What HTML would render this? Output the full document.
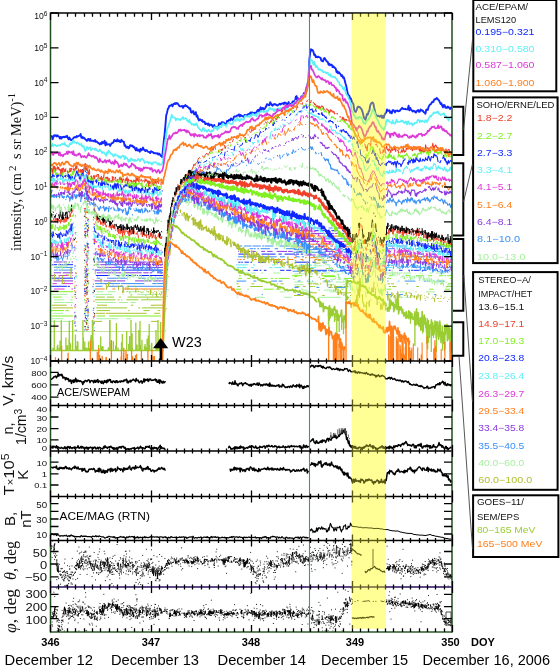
<!DOCTYPE html><html><head><meta charset="utf-8"><style>html,body{margin:0;padding:0;background:#fff;width:560px;height:669px;overflow:hidden}svg{display:block}</style></head><body><svg width="560" height="669" viewBox="0 0 560 669">
<defs><clipPath id="cm"><rect x="51" y="13" width="401" height="348"/></clipPath><clipPath id="cl"><rect x="51" y="361" width="401" height="271"/></clipPath></defs>
<rect width="560" height="669" fill="#fff"/>
<g clip-path="url(#cm)" stroke-linejoin="round">
<path d="M53.7 262H62.5M63.3 262H67M69 262H69.9M71.6 262H73" stroke="#8a3ae0" stroke-width="1"/>
<path d="M51.9 264.7H57.1M58.3 264.7H73" stroke="#1028ff" stroke-width="1"/>
<path d="M54 267.4H73" stroke="#3a90f8" stroke-width="1"/>
<path d="M54 270.1H57.5M58.6 270.1H71.7M72.3 270.1H73" stroke="#3a90f8" stroke-width="1"/>
<path d="M53.8 272.8H61.2M62.7 272.8H73" stroke="#8a3ae0" stroke-width="1"/>
<path d="M51 275.5H55.9M58.8 275.5H68.5M72.3 275.5H73" stroke="#dd38d8" stroke-width="1"/>
<path d="M51.8 278.2H73" stroke="#1028ff" stroke-width="1"/>
<path d="M53.5 280.9H73" stroke="#8a3ae0" stroke-width="1"/>
<path d="M52.6 283.6H56.8M61.6 283.6H73" stroke="#dd38d8" stroke-width="1"/>
<path d="M51.2 286.3H66.9M67.7 286.3H69.9" stroke="#1028ff" stroke-width="1"/>
<path d="M53.9 289H64.6M71.4 289H73" stroke="#dd38d8" stroke-width="1"/>
<path d="M51.5 291.7H73" stroke="#80f020" stroke-width="1"/>
<path d="M51.3 294.4H67.3" stroke="#a8f0a0" stroke-width="1"/>
<path d="M53 297.1H61.8M71.4 297.1H73" stroke="#80f020" stroke-width="1"/>
<path d="M53.8 299.8H64.1M70.1 299.8H72.5" stroke="#a8f0a0" stroke-width="1"/>
<path d="M53.8 302.5H64.8M65.5 302.5H73" stroke="#a8f0a0" stroke-width="1"/>
<path d="M52.1 305.2H66.6M71 305.2H72.1" stroke="#b0c030" stroke-width="1"/>
<path d="M52.4 307.9H73" stroke="#b0c030" stroke-width="1"/>
<path d="M51.1 310.6H63.9M65.4 310.6H68.8" stroke="#80f020" stroke-width="1"/>
<path d="M53 313.3H63.3" stroke="#a8f0a0" stroke-width="1"/>
<path d="M52 316H73" stroke="#80f020" stroke-width="1"/>
<path d="M52.1 318.7H63" stroke="#a8f0a0" stroke-width="1"/>
<path d="M51.5 321.4H73" stroke="#a8f0a0" stroke-width="1"/>
<path d="M96.8 262H115.5M116.2 262H126.5M127.1 262H128.2M129 262H146.6M147.6 262H163" stroke="#8a3ae0" stroke-width="1"/>
<path d="M95.6 264.7H99.4M100.3 264.7H140.2M141.7 264.7H150.9M152 264.7H163" stroke="#8a3ae0" stroke-width="1"/>
<path d="M97.4 267.4H124.6M126.5 267.4H144.3M146.6 267.4H150.9M152.1 267.4H163" stroke="#8a3ae0" stroke-width="1"/>
<path d="M94.7 270.1H103.2M104.2 270.1H120.1M121.3 270.1H163" stroke="#1028ff" stroke-width="1"/>
<path d="M96.7 272.8H121.2M123.9 272.8H141.7M143.3 272.8H148.6M149.6 272.8H152M157 272.8H163" stroke="#8a3ae0" stroke-width="1"/>
<path d="M95.9 275.5H109.6M115.9 275.5H119.9M122.4 275.5H124.6M126.1 275.5H135.7M136.9 275.5H137.8M139.1 275.5H163" stroke="#1028ff" stroke-width="1"/>
<path d="M96.7 278.2H100.4M107.1 278.2H126.9M138.3 278.2H145.7M152.3 278.2H153.8M154.4 278.2H155.6M156.3 278.2H163" stroke="#3a90f8" stroke-width="1"/>
<path d="M94.6 280.9H102.4M103.6 280.9H116.1M116.7 280.9H125.2M135.1 280.9H151.6M153.3 280.9H163" stroke="#8a3ae0" stroke-width="1"/>
<path d="M95.1 283.6H120.2M121 283.6H144.3M152.3 283.6H163" stroke="#3a90f8" stroke-width="1"/>
<path d="M95.5 286.3H102.5M108.9 286.3H123.4M127.5 286.3H163" stroke="#3a90f8" stroke-width="1"/>
<path d="M94.9 289H104.6M112.3 289H115.3M123 289H163" stroke="#ff8020" stroke-width="1"/>
<path d="M96.5 291.7H103.4M107.8 291.7H115.9M126.7 291.7H141M142.9 291.7H144.1M146.1 291.7H150.7M159.3 291.7H163" stroke="#a8f0a0" stroke-width="1"/>
<path d="M95.3 294.4H112.4M122.7 294.4H123.8M129.9 294.4H132.7M138.7 294.4H162" stroke="#a8f0a0" stroke-width="1"/>
<path d="M96.1 297.1H104.9M106.9 297.1H114.1M118.7 297.1H120.9M127.5 297.1H163" stroke="#9acd32" stroke-width="1"/>
<path d="M94.7 299.8H115.5M117.7 299.8H119.6M121.1 299.8H122.2M126.3 299.8H138.4M140.9 299.8H161.6" stroke="#9acd32" stroke-width="1"/>
<path d="M95.8 302.5H115.8M119.1 302.5H128.2M130.3 302.5H135.7" stroke="#a8f0a0" stroke-width="1"/>
<path d="M97 305.2H107.2M131 305.2H133.3M150.7 305.2H163" stroke="#b0c030" stroke-width="1"/>
<path d="M96.1 307.9H127.2M138.3 307.9H140.3M141.8 307.9H163" stroke="#9acd32" stroke-width="1"/>
<path d="M96.7 310.6H109.9M128.2 310.6H129.6M143.4 310.6H149.7M157.8 310.6H160.3" stroke="#9acd32" stroke-width="1"/>
<path d="M95.6 313.3H105.2M106 313.3H146.5M154.2 313.3H160.2" stroke="#b0c030" stroke-width="1"/>
<path d="M96.7 316H105M109.1 316H161" stroke="#80f020" stroke-width="1"/>
<path d="M96.8 318.7H118.4M126.2 318.7H131.1" stroke="#a8f0a0" stroke-width="1"/>
<path d="M94.9 321.4H102M151.1 321.4H157.8" stroke="#b0c030" stroke-width="1"/>
<path d="M237.3 246H242.1M244.1 246H251.7M252.6 246H260.8M262.1 246H264.3M264.9 246H273.5M279.8 246H289.6M291.2 246H292.8M299 246H301.7M307.6 246H310.3M312.5 246H313.5M319 246H321.3M322.1 246H327.7M330.3 246H332.8M339.3 246H341.7M345.2 246H347.2M387.9 246H394.5M396.7 246H407.3M411.2 246H412.7M414 246H415.5M421.3 246H451.1" stroke="#3a90f8" stroke-width="1"/>
<path d="M236.6 248.7H240.8M249.6 248.7H253M253.6 248.7H255.7M257.4 248.7H259M260.6 248.7H269.9M274.7 248.7H278.1M285.9 248.7H295.7M298.2 248.7H302.7M304.5 248.7H306.1M309 248.7H310.1M313 248.7H314.3M316.9 248.7H321.3M323.7 248.7H331.6M334.1 248.7H337.4M338.4 248.7H342.7M351.7 248.7H352M388.4 248.7H394.6M401.9 248.7H412.2M416.6 248.7H420.8M428.1 248.7H434.4M436.3 248.7H442.2M444.2 248.7H449.8" stroke="#3a90f8" stroke-width="1"/>
<path d="M238.2 251.4H239M247 251.4H250.3M252.4 251.4H255.7M261.3 251.4H265.1M267.2 251.4H272.6M276.7 251.4H287.1M288 251.4H292.7M296.5 251.4H302.4M303.1 251.4H305.3M306.4 251.4H309.3M317.9 251.4H319.5M324.6 251.4H334.5M338.7 251.4H343.1M387.4 251.4H391M398.8 251.4H402.3M404.8 251.4H409.9M416.7 251.4H419.6M425 251.4H429.2M432.3 251.4H440.9M442.3 251.4H443.5M448.6 251.4H452" stroke="#8a3ae0" stroke-width="1"/>
<path d="M238.4 254.1H248M251.2 254.1H252.2M257.1 254.1H258.9M261.6 254.1H275.5M278.5 254.1H281.8M284.6 254.1H295M296.1 254.1H299.1M300.7 254.1H303.2M308.5 254.1H311.6M320.6 254.1H326.4M328.7 254.1H331.8M334.3 254.1H338.6M345.8 254.1H352M388.6 254.1H390.5M399.1 254.1H404.6M407.2 254.1H411.5M420.2 254.1H422.6M431.4 254.1H435.8M447.1 254.1H452" stroke="#1028ff" stroke-width="1"/>
<path d="M238.1 256.8H246.4M247.6 256.8H255M257.5 256.8H261.6M262.3 256.8H276.6M279.9 256.8H284.9M295.4 256.8H299.6M301.8 256.8H304M313 256.8H315.4M317 256.8H325.8M327.1 256.8H333.7M335.8 256.8H336.8M346.9 256.8H352M386.6 256.8H387.8M389.6 256.8H392.6M401.3 256.8H424.8M427.3 256.8H429.6M431.5 256.8H437.1M439.9 256.8H441.8M444.1 256.8H452" stroke="#3a90f8" stroke-width="1"/>
<path d="M237.3 259.5H238.5M239.7 259.5H241.4M243 259.5H244.7M251.9 259.5H253M254.1 259.5H256.7M262.7 259.5H263.5M267.7 259.5H270.5M272.8 259.5H280.8M282.3 259.5H285.1M287.9 259.5H293.3M300.5 259.5H303.2M314.6 259.5H320.8M322.8 259.5H323.7M333 259.5H339.8M345.1 259.5H346.3M388.7 259.5H390.2M395.6 259.5H396.5M411.6 259.5H416.2M419.5 259.5H421.9M424.1 259.5H431.3M437.7 259.5H440.1M446.2 259.5H447.2M450.4 259.5H452" stroke="#ff8020" stroke-width="1"/>
<path d="M238.3 262.2H240.5M241.3 262.2H242.9M244.5 262.2H248.9M250.5 262.2H252M258.1 262.2H265.9M273.4 262.2H275.2M275.7 262.2H279.7M286.5 262.2H288.2M294.9 262.2H309M312.5 262.2H316.1M322.3 262.2H326.9M332.4 262.2H334.3M336.4 262.2H337.9M340.3 262.2H341.1M347.2 262.2H349.8M351.7 262.2H352M387.8 262.2H391.4M405.7 262.2H407.1M416.8 262.2H420.1M423.1 262.2H427.1M439.4 262.2H446.3M448.6 262.2H452" stroke="#1028ff" stroke-width="1"/>
<path d="M236.1 264.9H247.9M253 264.9H255.1M272.1 264.9H276.2M287 264.9H290.5M299.3 264.9H303.7M304.6 264.9H306.6M308.4 264.9H311.7M314.3 264.9H316.3M327.6 264.9H329.9M346.2 264.9H352M387.7 264.9H390.7M392.8 264.9H395.1M413.6 264.9H416.4M423.6 264.9H425.4M429.8 264.9H437.7M444.3 264.9H445.1M448.8 264.9H451.2" stroke="#5ef0f8" stroke-width="1"/>
<path d="M236.8 267.6H246.7M251.3 267.6H253.7M269.3 267.6H272.4M274.4 267.6H281.2M283.4 267.6H284.8M289.9 267.6H294.5M300.2 267.6H305.1M310.5 267.6H315.8M337 267.6H341.1M344.8 267.6H348.5M349.3 267.6H352M386.5 267.6H392.4M398.9 267.6H402M406.6 267.6H408.9M415 267.6H417.6M418.7 267.6H426.1M439.4 267.6H449M449.8 267.6H452" stroke="#5ef0f8" stroke-width="1"/>
<path d="M236.3 270.3H238.7M242.1 270.3H243.2M247.7 270.3H250.1M253.5 270.3H258M259.6 270.3H261.3M263.9 270.3H266.4M280.1 270.3H284.5M286.2 270.3H291.2M300 270.3H326.9M328.1 270.3H333.9M339.9 270.3H352M388.6 270.3H390.6M399.1 270.3H402.6M408.3 270.3H410M411.1 270.3H412.9M413.6 270.3H419.5M421.9 270.3H426.6M432 270.3H433.9M436.9 270.3H438M446.1 270.3H449.2M451 270.3H452" stroke="#1028ff" stroke-width="1"/>
<path d="M238.7 273H249.3M251.2 273H255.7M261.2 273H263.4M273.2 273H280.7M299.1 273H301.3M317.3 273H320M321 273H329.5M341.6 273H343.5M349.9 273H350.9M387 273H402.5M403.3 273H411.2M420.2 273H421.3M429.5 273H432.7M436.2 273H445" stroke="#a8f0a0" stroke-width="1"/>
<path d="M239 275.7H240.7M292 275.7H302.1M321.7 275.7H334.7M350.6 275.7H352M388.8 275.7H392.6M405.5 275.7H410M415.9 275.7H423.7M428.2 275.7H432.1M439.1 275.7H443.4M444.4 275.7H446.2M447.2 275.7H452" stroke="#80f020" stroke-width="1"/>
<path d="M238.4 278.4H241.7M247.2 278.4H250.4M260.8 278.4H267.8M270.8 278.4H273.2M275.3 278.4H277.3M278.6 278.4H289.6M322 278.4H324.6M335.1 278.4H336.1M343.9 278.4H352M387 278.4H390.9M403.7 278.4H405M410 278.4H411.2M449.7 278.4H451" stroke="#80f020" stroke-width="1"/>
<path d="M236.6 281.1H246.2M253.4 281.1H256.4M271.2 281.1H277M278.6 281.1H282.3M297.9 281.1H300.5M306.9 281.1H307.9M308.4 281.1H309.4M312 281.1H313M323.6 281.1H329.7M331.6 281.1H332.6M387.3 281.1H388.4M398.3 281.1H399.3M404.7 281.1H415.4M423.8 281.1H426.2M426.9 281.1H428.5M429.2 281.1H430.2M433.3 281.1H434.2M436.4 281.1H444.7" stroke="#3a90f8" stroke-width="1"/>
<path d="M236.3 283.8H238.7M251.5 283.8H254.4M276.6 283.8H278M280.5 283.8H283.6M308.1 283.8H312.1M312.6 283.8H318.3M319.9 283.8H321.4M345.2 283.8H348.7M387.4 283.8H390M390.9 283.8H394.1M406.2 283.8H408.2M440.1 283.8H442M448.7 283.8H452" stroke="#b0c030" stroke-width="1"/>
<path d="M237.3 286.5H240.2M250.2 286.5H262.8M295.1 286.5H299.6M302.8 286.5H305.6M310.1 286.5H313M313.6 286.5H315.2M334.8 286.5H342.5M343.8 286.5H348.5M352 286.5H352M388.8 286.5H391M392.2 286.5H396.5M416.3 286.5H419M445.8 286.5H452" stroke="#9acd32" stroke-width="1"/>
<path d="M236 289.2H241.3M247.4 289.2H248.7M263.7 289.2H273.6M276.2 289.2H280.3M295 289.2H295.8M301.3 289.2H302.7M335.6 289.2H339.1M341.1 289.2H343.6M386.5 289.2H390.9M429.3 289.2H433.7M444.8 289.2H450" stroke="#80f020" stroke-width="1"/>
<path d="M238.4 291.9H241.8M279.7 291.9H285.2M293.8 291.9H304.2M305.6 291.9H312.6M329.6 291.9H332.8M333.6 291.9H338.6M386.3 291.9H388.3M399.9 291.9H404.7M426.1 291.9H435M442.9 291.9H452" stroke="#a8f0a0" stroke-width="1"/>
<path d="M238.6 294.6H241.8M261.8 294.6H262.9M297.3 294.6H300.6M305.5 294.6H310.2M351.7 294.6H352M386 294.6H391.4M398.5 294.6H402.9M434.1 294.6H436" stroke="#3a90f8" stroke-width="1"/>
<path d="M236.6 297.3H238.1M255.1 297.3H264.7M284 297.3H291.6M307.6 297.3H309.3M318.5 297.3H341.3M346.2 297.3H350.8M388 297.3H391.1M395.9 297.3H403.2M405.4 297.3H412" stroke="#a8f0a0" stroke-width="1"/>
<path d="M292.5 228H294.4M295.2 228H308.1M310.5 228H314.2M314.8 228H323.3M328.7 228H332.7M334.1 228H339.3M340.8 228H346.3M350.2 228H351" stroke="#3a90f8" stroke-width="1"/>
<path d="M292.3 230.7H294M297.1 230.7H305.5M306.4 230.7H310.6M314.3 230.7H318.7M320.1 230.7H327.1M331.5 230.7H337.6M342.1 230.7H348.1" stroke="#1028ff" stroke-width="1"/>
<path d="M294.8 233.4H299.3M301 233.4H304.1M307.2 233.4H310.1M310.8 233.4H325.1M325.8 233.4H334.3M335.2 233.4H338.6M339.2 233.4H344.4M347.4 233.4H350.9" stroke="#8a3ae0" stroke-width="1"/>
<path d="M294.8 236.1H298.4M302.5 236.1H303.3M306.2 236.1H309.9M310.7 236.1H315.1M316.9 236.1H321.4M322.2 236.1H345.6M346.2 236.1H348.8" stroke="#ff8020" stroke-width="1"/>
<path d="M292.4 238.8H303.5M306.2 238.8H322M326.1 238.8H335.5M336.4 238.8H349.8" stroke="#3a90f8" stroke-width="1"/>
<path d="M293.4 241.5H299.7M300.8 241.5H319.3M323 241.5H342.8M343.4 241.5H351" stroke="#dd38d8" stroke-width="1"/>
<path d="M293 244.2H296.6M300.4 244.2H330.2M330.8 244.2H333.9M344.9 244.2H350.6" stroke="#ff8020" stroke-width="1"/>
<path d="M293.5 246.9H305.2M307.4 246.9H314.1M315.4 246.9H325.2M334.5 246.9H349M349.7 246.9H351" stroke="#ff8020" stroke-width="1"/>
<path d="M293.8 249.6H318.2M322.2 249.6H340M342.6 249.6H350.3" stroke="#3a90f8" stroke-width="1"/>
<path d="M293.4 252.3H325.9M334 252.3H342.1M343.8 252.3H351" stroke="#3a90f8" stroke-width="1"/>
<path d="M294.5 255H296.7M304.7 255H305.5M306.4 255H315.6M318.4 255H329.5M331.5 255H337.8M342.8 255H345.6M347.8 255H351" stroke="#8a3ae0" stroke-width="1"/>
<path d="M293.9 257.7H296.5M305 257.7H306.6M310.2 257.7H318.2M329.3 257.7H331.5M336.9 257.7H351" stroke="#ff8020" stroke-width="1"/>
<path d="M294.8 260.4H296.4M302.1 260.4H303.5M313.9 260.4H315.9M317.5 260.4H332.3M344.5 260.4H347.5M348 260.4H351" stroke="#b0c030" stroke-width="1"/>
<path d="M294.1 263.1H296.2M314.3 263.1H320.4M323.1 263.1H325.7M338.9 263.1H340.9M343.3 263.1H345" stroke="#9acd32" stroke-width="1"/>
<path d="M295 265.8H300.5M302.8 265.8H312.1M313.7 265.8H321.5M323.4 265.8H324.3M348.8 265.8H351" stroke="#a8f0a0" stroke-width="1"/>
<path d="M294.2 268.5H295.3M296.4 268.5H300.7M301.4 268.5H313.8M325.7 268.5H333.1" stroke="#9acd32" stroke-width="1"/>
<path d="M292.7 271.2H303.2M307.5 271.2H314.9M316.6 271.2H320.9M322.4 271.2H326.6M330.8 271.2H343.6" stroke="#3a90f8" stroke-width="1"/>
<path d="M294.2 273.9H298.9M300.5 273.9H313.3" stroke="#a8f0a0" stroke-width="1"/>
<path d="M294.3 276.6H297.4M308.9 276.6H312.4M323.7 276.6H335.7" stroke="#80f020" stroke-width="1"/>
<path d="M293.2 279.3H295.3M308 279.3H309.4M330.3 279.3H335M337.5 279.3H341.5M343.4 279.3H347.4" stroke="#a8f0a0" stroke-width="1"/>
<path d="M294.5 282H302.9M307.5 282H313.9M314.6 282H316.3M322.3 282H331.3M335.8 282H346.8" stroke="#a8f0a0" stroke-width="1"/>
<path d="M294.4 284.7H303.8M315.4 284.7H318.9M328 284.7H334.5M342.8 284.7H345.3" stroke="#a8f0a0" stroke-width="1"/>
<path d="M294.4 287.4H298.7M316.5 287.4H319.3M328.5 287.4H331M333.9 287.4H345.6" stroke="#3a90f8" stroke-width="1"/>
<path d="M293.3 290.1H295.3M302.2 290.1H307.3M317.8 290.1H320M323.8 290.1H334.9" stroke="#a8f0a0" stroke-width="1"/>
<path d="M294.7 292.8H295.9M302.2 292.8H306.1M308.9 292.8H316.9M336.6 292.8H351" stroke="#b0c030" stroke-width="1"/>
<path d="M294 295.5H303.4M322.1 295.5H324.7M349.9 295.5H351" stroke="#b0c030" stroke-width="1"/>
<path d="M51.6 276.1h1m-.1 2.8h1m.5-.6h1m-.4-4.2l.3 6.6m.6-.4h1m1.1-1h1m-.1.4h1m-.4-4.3l.3 3.5m2.4.6h1m-.4 4.5l.3-9.2m1.5 7.5h1m1.1-8h1m-.4 3.8h1m.5-3.6l.3 1.4m2.1 2.2l.3-10.3.3 4.7m2.1-14.1h1" stroke="#b0c030" stroke-width="1.0" fill="none"/>
<path d="M95.2 274.3l.3-4.8m1.5 7.3h1m.8 3.7h1m.2-.8h1m-.1 2.9l.3-2.2.3-.2.3-1.7m1.5 4.8h1m1.1 1.1h1m-.1.1l.3 5.3m.6-3.7l.3 1.5m.9-.7l.3-4.9m.9.3h1m.5-1.4h1m.5 4.2h1m-.1-3.8h1m-.1-.1h1m-.4 6.2l.3-1.2m3-.8l.3 4.8m1.8-4.5h1m-.1 0h1m-.4 6.9h1m-.4.4l.3-3.2.3-3.2.3 2.2.3 3.6.3-.8m1.8-2.2l.3-3m.6 5.1h1m-.1-3.6l.3 1.9.3-4.5m.9 3.3h1m-.4 4.7l.3-1.5m.6 4h1m-.4-6.5h1m1.1.8l.3-.3m.6-3.5h1m-.1 4.8h1m-.4 1.5l.3-4.9m.9 1.6h1m-.4 4.8h1m-.4-3.6l.3 1.4m2.4.6h1m.5-.2h1m.5-2.6h1m.5 5.7h1m-.1-5.6l.3.6m.6 8h1m-.1-7l.3 1m1.8 1.5l.3.9.3-5.3.3 3.5m.6-.2h1m-.4 3h1m-.1-2.8h1m.2-1.6h1m-.4 2.9h1m.5 2.9l.3-5.8m.6 5.1h1m-.1-5.9l.3-.6m.6 3.5h1m-.1 1.4h1m.5-1.1l.3-1.8" stroke="#b0c030" stroke-width="1.0" fill="none"/>
<path d="M164.8 330.9h1m.2-22.1h1m-.4-12.5h1m-.1-6.5h1m-.4-13.1h1m-.1-14.1l.3-1.5m.6-5.4l.3-3.7.3-3.7m1.5-8.6h1m-.4-9l.3-3m.9-5.5l.3-4.2m.6-.7h1m-.4-2.6h1m-.4-8.2h1m-.1 3.6l.3 3.1.3.8.3-5.8.3 1m.6 6.1h1m-.1-4.8h1m-.1 2.3l.3-3.3m1.2 3.9l.3 2 .3.7m.6-1.7l.3-2m.6 4.2l.3-4.4.3 3" stroke="#b0c030" stroke-width="1.0" fill="none"/>
<path d="M185 218.8l.4-3.1.4 4.5.4-6.2.4 1.9.4-2.4.4 2.6.4 2.3.4 2.4.4-4.7.4 1.8.4-.6.4-.6.4-.8m.8-.8h1m-.2 4.6l.4-1.4m.8-1.1l.4 7.7.4-7.2.4 7 .4-2m.8-3.6l.4 5.3.4 1.9m.8-4.2l.4 3.3.4-1.4.4 4.1.4-5.7.4 2.8.4-3.8.4 7.9.4-6.3.4-3.1.4 5 .4.2.4 5 .4-4.9.4.9m.8 4.2l.4-3.5m.8 1.8l.4-1.6m.8 1.2l.4-1.9.4 5.1m.8.4l.4-.3.4-2.1.4-1.3.4 1.4.4 1.9.4.9.4-.8.4 1.8.4-3.3m.8-1.8l.4 5.6.4-1.2.4-1.1.4 3.9.4-.8.4-7.8.4 6.8.4-3.2.4 6 .4 3.5.4-6.6m.8 1.1l.4 1.6.4.9.4 1.7.4-5 .4 6.2.4-5.6.4 3.1.4 2.2.4-.7.4-3.6.4.8m.8 2l.4 3 .4-5.4.4 4.3.4.6.4.1.4 0 .4 2.7.4-2.1.4 1.1.4-.5.4 3.1.4-8.3.4 7.6.4-3.3.4.2.4-1.3.4-1.9m1.2 6.2l.4-4.3.4 6.9.4-2.4m.8-1.8l.4.1.4-.5.4 1.6.4 1.5.4-.2.4-2.6.4 2.9.4-1.2.4 2.6m.8 1.6l.4-1.9.4-2.8m.8.3l.4 5.8.4-3.1.4 2.1.4-1.3.4 1.9.4 3.2.4-4.5m.8.2l.4 4.1.4-4.2.4 0 .4-.3.4.2.4 4.6.4 5 .4-7.9.4 4.7.4-1.4.4-2.8m.8 2.4l.4-.8.4 6.3.4-8.6.4 5.5m.8-1.7l.4 1.9.4 1.9.4-1.6.4.7.4.8.4-6.2.4 8.2.4 1.9.4-2.9.4.2.4-5.5.4 3.1.4-1.5m.8 4.3l.4-3.9.4 1.6.4-4 .4 4.1.4.7m1.2 4.5l.4-7.1.4.5.4.7.4 4.7.4 2.2.4-4 .4-2.3m.8 4.3l.4-4.4.4 5.5.4 0 .4-3m.8 1.8l.4 2 .4-5.9.4 5.2.4-3.5.4-.8.4 2.1.4-.6.4-1.7.4-1.3.4 1.6.4 5.7m1.6-4.2l.4 1.2.4.9.4-3 .4.3m.8 1.7l.4-1.6.4 3.4.4-1.3.4 3 .4-2.2m.8.5l.4-.6.4-1.1.4.8.4 2.7.4-.1m.8-5.2l.4 3.1m.8 1.5l.4-1.3.4-.1.4 3.1.4-1.3.4-3 .4 5.9.4-.7m1.2-3.6l.4 4.3m.8-4.2l.4 1.1.4-.8m.8 2.4l.4-.2m.8-8.3l.4 8.7m.8.5l.4 2.2.4-1.9.4-1.4.4.6.4.2.4-.9.4.1.4-.7.4 5 .4-2.7.4 2.3m.8-1.8h1m.6.8l.4-2 .4-.1m1.2 1.4l.4 4.1.4-.7.4-1.2.4-2 .4 6.4.4-4.4m.8-1.1l.4-2.8.4.3.4 4.1.4.1.4-1.3.4-2.1.4-.5.4 2.7.4-2.5.4 5.5.4.7.4 3.9.4-4.3.4-3.3.4-.6.4-5.8.4 6.7.4 1.1.4 2.8.4-.6m.8-.5h1" stroke="#b0c030" stroke-width="1.4" fill="none"/>
<path d="M310.4 269.4l.4 3.2.4-1.7m1.2 3l.4.1m.8-2.6l.4-.7.4 1.3.4-1 .4 1.1.4 1.2.4-1.5.4-.7.4.3.4 4.2m.8 1.7l.4.2m.8-.4h1m.2 1.9h1m-.2-4.5h1m-.2-.9h1m.2 5.3l.4-.9m1.2 2.8h1m.2 1.4l.4-2.8m.8 1.6l.4 6m1.6-6h1m.6 7l.4-4m.8 3.2l.4.9m.8 2.9h1m-.2-3.8h1m-.2-2.1l.4 1.1.4 4.4.4-1.6.4-1.5m.8 6.6h1m-.2-4.2l.4 4.6.4-1.7m.8-1.8h1m-.2-.6l.4 1.8.4.9.4 1.5m1.2.6h1m.2-.7l.4-.7m.8 2.1l.4-1.9.4.6.4 2.5.4.8.4-1.4.4 2.8.4-1.2.4-1.5" stroke="#b0c030" stroke-width="1.3" fill="none"/>
<path d="M350 299.3l.4 2.2.4 1.8.4 4.5.4-4.2m1.2 3h1m-.2-2.8l.4 1.9.4-.7m.8 0l.4-3.9.4-1.6.4 4.2.4-9m.8 9.3l.4-15.2.4 4.6.4 2.4.4-10.1.4 12.1.4-19.7.4 11.3.4 2m1.2 4.6l.4-1.4.4 8.7m.8-1l.4 5.1m.8-3l.4 2.6m.8 4.9l.4-3.3.4-6.9m.8 1.3l.4-.2m.8-1.4l.4 5.1.4-6.3m.8-.4h1m-.2-5.9l.4-2 .4-4.3.4 3.8.4-.9.4 1.9.4-4.9.4-5.7m.8 5.6l.4 1.1.4 7.6.4.8m.8-.5l.4 8.6.4-2.8m1.2.1h1m.6 7.4l.4-6.2.4 2.4.4-.9.4 4.6.4-3.1.4 0 .4-6.1.4 5m.8.6h1m.2 4.3l.4-7.5m.8-6.1h1" stroke="#b0c030" stroke-width="1.0" fill="none"/>
<path d="M387 296.1h1m-.4-4.7l.3 9.2.3-6.5m.6 2.3l.3-1.2m1.2 1h1m-.4-.7h1m-.4 1.7l.3-4.7.3.9.3 2.5m.6-1.8h1m-.1 2.1l.3 1.5.3-2.6m.6-.2l.3 8.5m.9-9.6h1m-.4.9l.3.9.3 4.6.3-8.6.3 8.5.3-5.6m.9 1l.3-1.2.3 2.7m1.2 0l.3-.2m2.4-1.3h1m-.4-.2h1m-.1-1.8h1m-.4 2.4l.3-2.2.3-1.8m.6 5.3l.3.1.3-2.6m.9-2.3h1m.2 1h1m-.4 4.3l.3-3m.6-1.8l.3 2.7.3.7.3-1.2m.9 1.1h1m-.1.6l.3 1 .3-2.2.3 1m.6-4.8h1m-.1 4.8l.3 3 .3-4m.9 2.5l.3-4.2m.6 1.9h1m-.1 2.4h1m-.4 2.5l.3-5.9m.6.2h1m.5 2.5l.3-.2m.9-1.5h1m-.4 2.8h1m-.4 1.9h1m.2-3.6h1m.2.9h1m.2-2.9l.3-1.9m2.4 5.7h1m-.1-1.5h1m-.1 1.1h1m-.1.4l.3-.3.3 3.7m.6-4.7l.3-1.9m.6-.4h1m-.4 3.4h1m.2 0h1m-.4 2.9h1m.2-3.1h1m-.4 3.1h1m-.4-6l.3 1.4m1.8 1.6h1m.2-1.1h1m1.7 4.1h1m.5-2h1m.5-1.6h1m.2-2.4h1m-.4 6.2h1" stroke="#b0c030" stroke-width="1.0" fill="none"/>
<path d="M51 265h1m-.1-.4l.3.4m.6-.6h1m-.4 2.6h1m-.1 0h1m-.4 0h1m.5-.5h1m-.4-.5l.3 2.3.3 1.6m.6-3.9h1m-.1-.1l.3-3.2m.6 5.2l.3-2.4.3.7m.6 2.2l.3-4.3m.6 6.6l.3-3.8.3.6.3-1.3.3-2.1.3 2m.6-2.1h1m-.4 4l.3-.5.3-5.2.3 1 .3-1.4.3 5 .3-1m.6-3.2l.3-.7m.6 2l.3-2.3m1.8-1.9l.3.3.3-1.3.3-.9m.9-1.4h1m-.4-3.2h1m-.4.7l.3-2.9" stroke="#a8f0a0" stroke-width="1.0" fill="none"/>
<path d="M94 258.6l.3-2.1.3 4.8.3-.6m1.2 2.1l.3 3.4m.6.5h1m-.1-5.9l.3 7m.6-.8l.3-.4m.6.1l.3 2.6.3 1.5m1.2-4l.3 5.8m.6-5.4h1m-.4 5.1l.3-5.9.3 5.8.3-3.4m.9-2.1l.3 4m2.4-1.7l.3 1.2.3-4.2m.6 5l.3 5m.6-5.6h1m.2-2.2h1m-.4 4.9l.3-3.2m.6 4.2h1m-.1-3.1l.3.5.3 1.5m.9-2l.3 4.4.3-3.8m.9 3.7h1m.2-3h1m-.4 3.2l.3 1.8.3-.1.3 1.8.3-3.7m.6 1.5l.3-1.8m1.5 1.2l.3-3.7m.6.8l.3 3.6.3-4.6m.6 5.4l.3-3.8.3 1.7.3-1 .3-3.4.3 5 .3.3m1.2-2.6h1m-.1 6.4l.3-7.3.3 4.4m1.2-.2h1m-.4-.3l.3 1.5m.6-4.1h1m-.4 2.5l.3-2.2.3 2.4.3-.1.3-3m.9 4.3l.3-3.8.3 1.5.3-.2m.6-1h1m-.4 2.6h1m.5-5.5h1m-.1 7.2l.3-2.4m.6-.6h1m.5 2.5h1m-.4-4.2l.3 4.4.3-2.4.3 2m1.2-1.6h1m-.1 4.4l.3-2.4.3 1.9m.9.4h1m-.1-2.7h1m-.4.9h1m-.4 1.2l.3-3.1.3.2.3 4.2m.6-3.9l.3-2.8m.6 4.6l.3-1.1.3-2.2.3.9.3-.9.3 2.9.3 1.2.3.4.3-3.3.3 1.9m1.8 1.4l.3-2.5.3 1 .3-3.3.3 3.2m.6 4.1h1m-.1-3.8h1m-.4-.3l.3 1.5m1.2-4.4h1m-.1.9h1m-.4 2.3l.3.8.3 1.8.3.3" stroke="#a8f0a0" stroke-width="1.0" fill="none"/>
<path d="M165.1 308.3h1m-.4-7.3l.3-9.4m.6-2.3l.3-7.2m.6-9l.3-6.1.3-.6m.6-6.4h1m.5-19.3l.3-2.4.3-1.2.3-2.9.3.1m.6-2.7l.3-2.6m1.2-9.3h1m-.4-4.4h1m.2-4.7h1m-.4-4.9l.3-3.1m.6-2.7h1m-.4.1h1m-.4-3.3h1m-.4 4h1m-.4-.5h1m-.4-1l.3 2.4m.6-.6l.3-5.3m.6 2.7h1m-.1 1.6l.3 2.6.3-6.5.3 3.8.3-1.3m.6.8l.3 1.9.3-1.5" stroke="#a8f0a0" stroke-width="1.0" fill="none"/>
<path d="M185 201.9l.4-1.2.4.6.4 1.7.4-2.3.4 1.8.4-.3.4-5.2.4 4.4m.8.3l.4.8.4-.8m1.2 1.4l.4-1.6.4-4.6m1.2 3.6h1m-.2 6.2l.4-5.8.4 6.6.4-.7.4-2.7m.8-1.5l.4 1.2.4-.3.4.9.4 4.8.4-4.9.4.6m.8 3.5h1m-.2 2l.4-3.4.4-1.1m.8 3.4h1m-.2 1l.4 3.7.4-5.3.4 1.6.4 3.3.4-4.4.4-.3m.8 3.3l.4.4.4-1.3.4.7.4 3 .4-.7.4-5 .4 3.4.4.4m.8-.3l.4-.8.4.6m.8 1.4l.4-1.1.4 2.7m.8-1.7l.4-1m.8 4.2l.4-2.4.4 2.3.4-3.4.4 3 .4-3.9.4 3 .4.1.4 2.7.4-.7.4-.6.4 2.5.4-1.3m1.2 0l.4-.3.4 1.6.4-1.5.4 2.1.4 1.9.4-.4.4-2.7.4-1.8m1.6 2.9l.4.6m.8-.2l.4.9m.8 4.2h1m.2-5l.4 3.7.4-1 .4.6.4-1.5.4 1.4.4-.2.4 1.4.4 2.7.4-2.2.4-4.5.4 1.8m.8.8h1m-.2 3.2h1m-.2.1l.4-2.1.4-1.4.4.3.4 1.4m1.2 5.5l.4.4.4-3.3.4.5.4-1.1.4 1.6.4 1.8.4-1.3.4 2.5.4.6.4-1.7.4.1.4-.7.4 1.2m.8.5l.4-.2m.8 4.9l.4-7 .4.4.4 2.9.4-4.9.4 2.8.4-1.5.4 1.5.4 2.2.4 1.2.4 2 .4-.5.4 1.1.4-1.3.4-2.3.4 3.7.4-3.5.4-.2m.8 3.4l.4-1.2.4 1.4.4.4.4-5.1.4 3 .4-2.3.4 3.1.4-1.8.4 4.8.4-1.8.4-3 .4 2 .4-2.6.4 2.9.4 1.3.4-.5.4-5 .4 3.8.4 2.1.4-.4.4 2.1.4-5.5.4 4.2.4-2.6.4 2.1m1.6.4l.4-3 .4-.4m1.2-.2l.4 1.9.4 2.1.4 3.7.4-1.1.4-.5.4-5.8.4 4 .4 1.4.4-.1.4.2.4-1.4.4 4.7.4-.5.4-3.5.4-2 .4 7.1.4-5.8.4 4.1m.8-4.7l.4 2.9.4-1.3.4 2.1.4-.4.4 3.9.4-3m.8 1.4l.4-3.1m.8 6l.4-6.9m.8 2.2l.4-2.4.4-2.3.4 7.4m.8-3.5l.4.5.4-1.3.4-.1m.8 8.2l.4-3.7.4.1.4-5 .4 3.5.4-2.6.4 4.6m.8-1.4l.4-.2.4-1 .4-2.1.4 5 .4-4.4.4.5.4 2.2.4-.9.4 2.4.4 1.8m.8-1.6l.4-.3.4 2 .4-6.1.4 5.2.4-2.9.4-.6.4 3m1.2 2.8l.4-7.7m.8 10h1m-.2-.9h1m.2-5.6l.4 4.3.4.7m.8-2.6l.4 1.3.4-4.5.4 3.4m.8 6l.4-5.2.4 4.6.4-5.3.4-.5.4-3.2.4 7.4.4-2.9.4 6.3m1.2-9.2l.4 7.8.4-4.2.4.7.4-4.5.4 7.4.4.3" stroke="#a8f0a0" stroke-width="1.4" fill="none"/>
<path d="M310.4 252.4l.4-1 .4-1.4.4 3.3m.8-1.9l.4.4m.8 1.3h1m1 3.3h1m-.2-.1l.4-.2.4 1.1.4 2.8.4-5.5.4 1.2m.8-7.9h1m-.2 8.2l.4 1.8m.8 1.9l.4.8.4-3.4m.8 5.6l.4-2.4.4-2.8m.8 2.7h1m-.2 1.4l.4-1 .4 4 .4-.3m.8.4h1m1 7.2l.4-6.5m.8 3.9l.4-.5.4-1.3.4 0 .4 1.8m.8 1.6h1m.2 1.4h1m.2-2.6h1m-.2 2.2h1m.2 2.9l.4-1.2m.8 4.8l.4-4.8m.8 5.5l.4-2.3m3.2 4h1m1.4-.8l.4 1.5.4-1.8.4-.3.4 5.9.4-3 .4.8.4.2m.8 1l.4.5.4-1.6" stroke="#a8f0a0" stroke-width="1.3" fill="none"/>
<path d="M350 287.8l.4-4.6.4 7.2m1.2-4.5l.4 4.8.4-.4.4-1.8m.8 3.9h1m-.2-2.5l.4 1 .4-.3m.8-1.3l.4-.2.4-7.5.4 1 .4-1.9m1.2-2.8l.4-6.4.4-.4.4 1 .4-2.2m.8 7.8l.4-2.3.4 9.3.4 1.8m.8-.7l.4 1.4.4 1.2m.8 3.2l.4 1 .4 4.9m.8-7.4h1m.2-.8l.4 3.6.4-.1.4-5.9.4.1m1.2-6.6l.4-.6m.8-4.4l.4-1.5.4-2.7m.8.6l.4-11.5.4 6.7m.8 3.2l.4 7.5m1.6 5l.4 4.8m.8.9l.4 3.6.4-1.4.4 3 .4-1 .4-3.7.4 4.4.4.8.4-5.2.4 6.6.4-3.5.4.4.4-3.5.4 2m.8-1.7l.4.7.4-5.8.4 7.4m.8-16.2l.4-.8" stroke="#a8f0a0" stroke-width="1.0" fill="none"/>
<path d="M387 275.5l.3-.6m.6 3.4h1m-.4 0h1m-.4-3h1m.2-.5h1m-.1.6h1m-.1-5.9l.3 6.6.3-4m.6 1.8l.3 1.9m.9.2l.3-.4.3-3.5m.6 3.8h1m-.1 6.1h1m-.4-9.5l.3 1.7.3 1.1m1.5-.1l.3-1.6m.9 4.2l.3-.6m.6-.9h1m.2 1l.3.5.3-3.1m.9 1l.3 2 .3.9m.9-1.5h1m-.4-2.5h1m-.1 2.5l.3 1m.9 1.3h1m-.4-2h1m-.1-.4l.3-2.1.3 3.6.3 1.9.3 0m.9-.2l.3-4.3m.6 5h1m-.4-1.9h1m-.4-1.8l.3-1.4.3 2.5.3-1.6m1.2 0h1m.2 1.2l.3-.5m.6-.6h1m-.4-1.2l.3.6.3 4.8.3-.5.3-5.6.3.6.3 3.3.3-2.9.3 1.9.3-.3m.6-3.8h1m-.1 6.9l.3-2.2.3-2.9.3 4.3.3.5.3-1.8.3-.1.3 1.5.3 1.6m.6-1.2h1m-.4-1.6l.3-.9.3 2.3.3-1 .3.1.3 2.3.3-.7m.6-3.8l.3 4.1.3-2.1.3-.4m.6 4l.3-.7.3-2.8.3-.8.3 2.3.3-.8.3 4m.9-3.4h1m-.4.9h1m-.4 3.8l.3-4.5.3-.4m.6 1.7l.3 1.2.3-2.1m.9 3.6l.3-2.2.3-2.5.3.8.3-1.6.3-.3.3 3.8m1.8 1.8l.3-1.1.3-1.8.3 2.5m.6-4.7l.3 5 .3-1.1m.6-.9l.3 4.2.3-.3m.6-5l.3 1m.9.1h1m-.4 5h1m-.4-2.5h1m-.1-1.5h1m-.4-.4l.3 3.7m.9.4h1m-.4-1.3h1m-.4-5.2h1" stroke="#a8f0a0" stroke-width="1.0" fill="none"/>
<path d="M51 261.2l.3-2.5m.6-2.9l.3.8m.6-2.4h1m.2 3.4l.3.9m.9-3.5l.3 3.6m.6.2l.3.4.3-2.5.3 4.6m.6-1.2l.3-1.3.3-2 .3 3.8m.6-1.5h1m.8-.1l.3-1.3.3-1.6.3 1.6.3.3.3.8.3 2.1m.6-2.3l.3-4.6.3 2.1.3.8m.6-2.8h1m-.4 3.3l.3-.5.3-1.4m.6.9h1m-.4 3.2l.3-2.2.3-2m.6.2h1m-.4-.8l.3-2.9m.6 1.2l.3-2.7m1.2-.3h1m-.4-1.3l.3-3.8m.6 3.2l.3-.8.3.7" stroke="#3a90f8" stroke-width="1.0" fill="none"/>
<path d="M94.9 253.6l.3-.1.3-1.5.3 3.4.3-3.3m.9 5.6l.3 1.8.3-2.6m.9.9l.3 3.3m.6-3.1h1m-.4 1.8l.3-.3.3-1.6m.6 3.2l.3.1.3-2.9.3 2.2m.6 2.1l.3-3.6.3 1.5.3-.2m.6-1l.3-1.3m.6 4.1h1m-.4 3.7l.3-4.1.3 1.3.3-.9.3 2.3m.9-2.5h1m-.4 2.9l.3-6.1.3 3.8m.9-3.2l.3 5.2.3-2.9.3 1.3.3-.5m.6.3h1m-.4-.7l.3 1.2m.6.9l.3-.2m.6 1.2h1m-.4-1.8h1m-.4 1l.3-.7.3-.4.3 4.9m.6-3.6l.3.2m.6 3.3l.3-1.6.3 1.3m.6-1.3l.3 1.4.3 1.9.3-3.6m1.2-3.3h1m-.1 5.7h1m-.4-4.2l.3 6.8.3-7m.6-.4h1m-.4 3.6h1m.5-4.3h1m-.4 5.4h1m-.4-1.7h1m-.1 1h1m-.4-1.8h1m.2.6h1m-.1 1.4h1m.2-.7h1m-.4-3.2h1m-.4.9l.3 4 .3-1.5.3 2.1.3-2m.6 2l.3-1.6.3-.1.3-.1.3 1.8m.9-4.7l.3 2.2.3 1 .3 3.2.3-2.6.3-.9.3 2.5m.6-2.3h1m-.4-2.7h1m-.4 3.7l.3-1.4m.6 1l.3 2.3m.6-4.6l.3 2.9.3-3.8.3-1.2m.9 3.8h1m-.4 1.2h1m-.4-1.7l.3.3.3 2.1.3.6.3 0 .3-.4.3-7.6m.6 5.8l.3 1m.9.2l.3-1.7.3 1.5m.6-1.7h1m-.4.7l.3-1.8m.6 2.5l.3-1.8.3 4.5m.6 1l.3-1.6m.6-1.4l.3 2m.6-4.5l.3 2.6m.9.9l.3-1m.6-.7h1m-.4 2.8h1m-.4-3.9l.3 4.9m.6-1.6l.3-.9.3 2m.6-.3l.3-2 .3 1.9.3-1.1.3 3.4m.6-1.7h1" stroke="#3a90f8" stroke-width="1.0" fill="none"/>
<path d="M164.5 310.6h1m-.4-12.2l.3-2.3.3-3.5.3-3.2.3-5.4.3.1.3-8.3.3-2m.6-7.4l.3-3.2m.6-6.1l.3-3.5.3-1.5.3-4.5.3 1.1.3-6.1.3 4.9m.9-10.4l.3-2.8m.6-2.1l.3-.9.3-4m.6-3.4l.3.1.3-4.8m.9-1.4h1m-.4-.2l.3-2.7.3 1.4m.6-3.3h1m-.1-6.4l.3 3.3.3-4.5.3 0m.6-1h1m-.1-.9l.3.9.3-2.1.3-5.4.3 4.8m.6-4l.3 3.9.3-6.5m.6 1.1l.3 3.8m.6-6.3h1m-.4 2.4l.3 0" stroke="#3a90f8" stroke-width="1.0" fill="none"/>
<path d="M185 201.9l.4-9.7m1.2 4.6l.4-2.5m.8-1.7h1m-.2 6.1l.4 1.9.4-3.9.4-.1.4 1.9m1.2-2.2l.4 2.7.4 1.6m.8-4.8l.4 4.4.4-.2.4 1.6.4-1.8.4-1.5.4.7.4-1.2.4.4.4 1.1.4.4.4 3.8.4-5.1.4 2.9.4-1.1.4 5 .4-2.6m1.2.1l.4-1 .4 4.8.4-1.7m2-3.1l.4 4.3m.8.3l.4-1.4.4-1.3m.8 3.5l.4 1.6.4-3.4.4 1.9.4 2.3.4-4.9m.8-.2l.4 5.4.4-1.9.4-1.5.4-2.5.4 3.6m.8.1h1m-.2 2.6l.4-4.1.4 3.1.4 1.4.4-2.9.4.1m.8 2l.4-.1.4 1.2.4.3.4-2.5.4.8m.8 4.5h1m-.2-4.1l.4 4.6m1.2-.7l.4.9.4 2.4.4-6.3.4 4 .4-1.5.4.1.4 3.2.4-.5.4-4 .4 1.9.4 1.3.4-3.5m.8 3.4h1m-.2 1.4l.4 3.5.4-3.8.4-.7.4 5 .4-5 .4.2.4-1.8.4 5.8.4-1.6.4.6.4-.5.4-.4.4-1.3.4.2.4 2.9.4-.5.4 3.7.4-5.3.4.8.4-1 .4 5.7.4-5.8.4 4.8.4 1.7m.8-1.2l.4-6.3.4 4.1.4-2.7.4 4.4m.8-1.7l.4 4.1m1.2-2.8l.4-1.9.4 3.1.4 5.4.4-6.2m.8.7l.4 3.3.4-.6.4-1.4m.8-.2l.4 4.1.4-3.1.4 2.2m1.2.1l.4 0 .4-1.9.4.7.4 1.7.4-1.9.4 2.2.4-1.1.4-4.8.4 5.2.4-.9m.8 2.5h1m-.2.6l.4 1.4.4-2.1.4-3.7.4 2 .4 3.8m.8-3.6l.4 1.7.4 1.5.4-.4.4 1 .4-3.2.4 1.3.4.2.4.7.4-4.6.4 4.3.4-2.4.4 6.4m.8.9l.4-1.9.4-2.8.4 3.4.4-2.5m1.2-.5l.4 2.5.4 3.1m1.2 2.6h1m-.2-6.1l.4-1.9.4 1.9.4-.7.4 1.2.4 2.4.4.1.4-1.4.4-.5.4.4m1.2.1l.4 1.3.4-4 .4 4.9.4 2.3.4-3.5.4-3.5.4 6.4m1.6-1.2l.4-.3.4 2 .4-1.2.4-1 .4-4.7.4 2.1m.8 4.3l.4-3.7.4 1 .4 2.6.4-5.3.4.1.4 4 .4 1.2.4-1.5.4-4 .4 5.4.4-3 .4 4.6.4-1.5.4.9m.8-1.5l.4 3.2.4 1m.8.5l.4-4.4.4 3.7.4-1.4.4-2.7.4 2.2.4-.9.4.1.4 1.5m.8-.6h1m.6 3.8l.4-.6m.8-2.8l.4-.9.4 2.1m.8-2.3l.4 5 .4-4.1.4 6.3.4-7.2.4 4.4.4-3.6.4 3.2.4-2.6.4 2.6m.8-.9l.4 2.3.4 2.4.4-4.6m1.2 1.6l.4 5.2.4-9.8.4 3.5.4-2.5.4 3.6.4.3.4 9.3.4-7.7.4 3.4.4-1 .4-3.8.4 2.3.4 2.9.4-3.2.4.2" stroke="#3a90f8" stroke-width="1.4" fill="none"/>
<path d="M310 245l.4 2.7m1.2-.5l.4-1.1m.8-1.5l.4.7m.8 2.1l.4 1.2m.8-.5l.4.3.4-1.7.4 0 .4 3.3m.8-1.6h1m-.2 2.7l.4 1.9.4-3.7.4 2.4.4 2.4m.8-.3l.4-5.6m.8 4.4h1m-.2 1.8h1m.2 1.7l.4-1.5m.8 0l.4 1 .4 1 .4-1m.8 2.6h1m-.2 2.8l.4.1m.8-3.3l.4-.8m1.6 1.7h1m.2 2.1h1m1 3.6h1m-.2-.5h1m.6-.7l.4 3.8m1.6-2.2l.4-.1.4 1.5.4.7.4-.7.4 2.1m.8-.2l.4.3.4-2.5m1.2-.1l.4 3 .4.9.4 2 .4-1.8.4 3.2.4.2.4-.3.4.7m1.2-.2l.4.8.4-.8.4-.5.4-1.6" stroke="#3a90f8" stroke-width="1.3" fill="none"/>
<path d="M350 272.8l.4.9.4-1.3m.8 4.7l.4-4.3m.8 3.7l.4 2.4.4-3 .4 6.6m.8-4.9l.4-1m.8-3.1h1m-.2 1.3l.4-1.6.4 1.9.4-5 .4 1 .4-3.7m1.2-10.4l.4 3 .4-2.2.4 6.1.4 5.2m.8.9l.4 4.3.4 1 .4-1.1m1.6 1.7l.4 4.9.4 2.2.4-1.5.4-3.3.4 4.3.4-6.1.4 4 .4 1.7.4-9.5.4 5m.8-1.3h1m-.2-5.5l.4-4.7.4 1.6.4-1.1.4-5m.8-3.8l.4-.9m1.6 2.3l.4-.9.4 10.6m.8.2h1m-.2 6.6l.4 2.4.4 0 .4 2.4.4-2.5m.8 2.8l.4-1.3m.8 3.6l.4.5m.8-.6l.4-5.4.4 3.2m.8-4.2h1m-.2.7h1m-.2-4.3h1m-.2-1.6l.4-5" stroke="#3a90f8" stroke-width="1.0" fill="none"/>
<path d="M387 265.4h1m.2-3l.3 4 .3.5m.6-1.2l.3 0 .3-.8m1.2-1.6h1m-.4 2.9l.3-1.7m.6.9h1m-.4 3.3l.3-2.2.3 0m.6-3.3l.3 1.7.3.4m.6.3l.3 1 .3-.1.3-3 .3-2 .3 3.9m.6.9l.3 2.2m.6-2.4h1m-.4 2.5h1m-.4-2.5l.3 1.1m1.5-2.6l.3 2.6.3-2 .3 3.2.3-.4.3-4.4.3 4.2m.9-1h1m-.4.4h1m-.4-.6h1m-.1.1l.3-2.5.3 2.9.3-3.2.3 3.3.3-.2.3.4m.6 4.3h1m-.4-5.2h1m-.1-1.1h1m.5 2.7l.3-2.2.3-1 .3 2.4.3-3 .3.5.3 3.1.3-4.7.3 4.7.3-2.1.3-.9m.6 2.9l.3-2.2m.6 2.5l.3 0 .3-1.5.3-1.2.3-.3.3.6.3 2.3m1.2-1.7h1m-.4-.1l.3 4.2.3-7.1m.6 4.7h1m-.4 3.5h1m.5-4.6h1m-.4 1.1l.3-1.1.3 2 .3 1.9.3-1m.6-5.2l.3 5.4m.9-2.6h1m-.4-.5l.3 3 .3-3.3.3.3.3 1.7.3-2.5.3 2.6.3 1 .3-3.2.3 4m.9-1.1l.3-1.1.3-.1.3-2 .3 1.8.3 0 .3 4.3.3-1 .3-4.2m.6 2.9l.3-1 .3 1.6.3.6.3-2.4m.9-.5l.3 2.1.3-.4.3-1m.6 1.9l.3 1 .3-.9m.9-.1l.3.8m.6-2.5l.3 1.4m.6-1.2l.3 5.2m.9-2.7l.3-1.7.3 3.1m.6-2.2h1m-.1.5h1m-.4-.2l.3 1.2.3-2.8m.6 1.9h1m-.1-1.9l.3 1.7.3-.8.3 2.5m1.2-3.6h1m-.4 1.6l.3 1m.6 2l.3-.1m.9-2h1" stroke="#3a90f8" stroke-width="1.0" fill="none"/>
<path d="M51.3 257.8l.3-2.5.3-4.7.3 2.3m.6-2.9l.3 3.5.3 4.2.3-1.6.3-2.7m.9 1.9h1m-.4-5.4l.3 7m.6-.4l.3-2.5.3 2.3.3-3.9.3 2.1.3 2 .3-.9m.6-.2h1m-.4-4.3h1m-.4 5.3l.3-1 .3-3.9.3 4 .3-.3m.9.7l.3-.4m1.5-.9l.3-.8.3-1.5.3 1m.6-1.6l.3-1.2.3 2 .3-1.4.3 2.4.3-.6m.6 1.8l.3-5.7.3 2.7.3.7m.9-1.7h1m-.4-.1h1m-.4-5l.3.5m.9-3.1l.3 2.9m.9-6.3l.3.2.3.4" stroke="#8a3ae0" stroke-width="1.0" fill="none"/>
<path d="M94 242.7h1m-.1 6.3h1m-.4 1.7l.3 0m.6.8h1m-.4 1.1l.3 1 .3 1.6.3-1.9m.9 1.5l.3-1.6.3 2.7.3 1.2.3-2.2.3 1.7.3-.6.3-2.8.3 2.9m.9-3.8l.3 3.9.3-1.5m1.2.4h1m-.4.3l.3-.6.3 1.7.3-1.3m1.5-.6h1m-.4-1.2h1m-.4 1.5l.3 2.9.3 4.1m1.5-4.8l.3 1.1m.6.4l.3 2.7m.9-.3h1m-.4-3.2l.3 1.8.3-1.5.3-.1m.6.2l.3-1.9m.6 2l.3 1.7.3 2.1.3-3.2.3.8m.6 1.9l.3-1.5.3.2.3 3.7.3-4.1.3-.2m.6 1.9h1m-.1-1.1h1m-.1 3.7l.3-5.4.3 5.3m.6-3h1m-.4-.5l.3.1.3-3.6m.6 4.5l.3-1.9.3 1.7.3 4.4m.6-4.9l.3 3.9.3-4.6.3 1.2.3-.7m1.2-.2l.3 1.1m.6-.5h1m-.4-.5h1m-.4 1.5h1m-.4.7l.3-1.1m1.2.2l.3.6.3-.6m.6 3.1h1m-.1-.8l.3-1.2.3-1 .3.7m.6 1.7l.3.1.3-2.6.3 1.8.3 3.1.3-3.3.3 1.2.3.4.3-1.1.3 1.7.3-2.4.3.5.3-2.1m.6 1.8l.3-.3.3 2.4.3-3.5.3 1m.6.1h1m-.4 1l.3-1.2m.6-.3l.3.4.3-.7.3 2.7.3-.5.3-.9m.6.7h1m-.1-.8h1m-.4-1.5l.3.3m.6.8l.3.1.3 2.2.3-1 .3 1.2.3-4.1.3.3.3 8.1.3-6.2m1.8.2h1m-.4.5h1m-.4-1.9h1m-.4 3.5l.3-4.5m.9 2h1m-.1 2.1l.3-1.2m.6 2.5l.3-2.9.3-1.9.3 1.8m.6-1.3l.3 3.5.3-.1m1.8-1l.3.6.3-.8m.6-1h1" stroke="#8a3ae0" stroke-width="1.0" fill="none"/>
<path d="M164.8 294.3l.3 1.1.3-5.5m.6-8.7h1m-.1-11.5h1m-.1-9l.3-4 .3 2m.6-9.2h1m-.4-2.3l.3 1.2.3-3m.6-6l.3-6.5m.6-1l.3-1.5.3-4.1m.6-1.9l.3 2m.9-6.8l.3-.3m.6-3.3l.3-3.7m.9.3l.3-.7.3-1.1.3 2.2m.6-7.9l.3-.4.3 2.4m.6-1.3h1m-.4-2.5l.3-3.7.3.7m.6-.5h1m-.4-.2l.3-1.1m.6.6h1m.5-4l.3 1.7.3-1.6.3 1.3.3-1.9" stroke="#8a3ae0" stroke-width="1.0" fill="none"/>
<path d="M185 191.2l.4 4.6.4-1.6.4-3.4.4 2.9m.8-4.9h1m-.2 8.8l.4-7 .4 3.3.4-2.6.4 3.2.4-5m.8 4.5l.4 1.7.4.7.4.3.4 1.8.4-.8.4.2.4-3.6.4 2 .4 7.7m.8-4.9h1m-.2.7l.4-3 .4 5.5.4-5 .4.8.4 5.3.4-9.4.4 5.6m1.6-.8h1m-.2-.6l.4 1.7.4-2.3.4 2 .4-2.1.4 4.8.4-4.2.4 4.6.4-2.3.4.5.4 3.5m.8-6.6l.4 5.6m1.2-1.5l.4-2.1.4 3.6.4-.7.4 5.4.4-5.4.4 5.6m.8-5.4h1m-.2 4.7l.4-3.1.4.8.4-.7.4-2m.8.9l.4-1.1.4 3 .4 4.9.4-.2.4-3.6m1.2 3.8l.4-2.2.4-1.7.4.4.4 3.7.4 3.5.4-7.2.4-3.1.4 6.8.4-1.9.4.7.4 2.7.4-2.5m.8-4.3l.4 4.6.4-2.4m.8.1h1m.2 2.6l.4 0 .4 2.6.4 1.9.4-3.3m1.2 1.8l.4.7.4.2.4 2.1.4-.8.4-.6m.8-3.2l.4.8.4 1.3.4.7.4 0 .4.8m.8-1.3l.4-2.6.4 5.9.4-.4m1.2.1l.4-.6m.8-2.6l.4 1.6.4 5.3.4-5.5.4 1.3m.8.1l.4 2.1.4-5.4.4-1.6.4 8.2.4-1.2.4-1.3.4 3.8.4.2.4-6.9.4 4.6.4 3.1.4-3.9.4 1m.8.5l.4-1.9.4 1.3.4-1.3.4 4.5.4-5m.8.5l.4 4.1.4-3.3.4 2.8.4 3.2.4.3.4.5.4-3.1.4.6.4.4m.8-1.2l.4 3.5.4-1.7.4 2 .4-1.4m.8-2.5l.4.8.4-1.9.4 2.4.4.4.4 2.4.4-4.7.4 10.4m.8-4.3l.4-.4.4-8m.8 9.4l.4-8.9.4 7.5.4-3.8.4 1.1.4 1.7.4-4.7.4 4.9m.8-2l.4 3.5.4 6.6.4-7.2.4.6.4-1.3.4-1.4.4 2.3.4 3 .4-2.9.4 1.7.4-2.4m1.2 2.2l.4 0 .4-.6.4-3 .4 0 .4 2.2.4.9m.8-2.5l.4 3.9.4 1.2.4-3.6.4-.2.4.1.4 7.4.4-4.4.4-1.2.4 2.6.4 3.1.4-2.5m.8-2.7l.4-.6m.8-1.7l.4 2m.8 1.9l.4-.5.4-3.3.4-.5.4 2.9.4 2.7.4-.2.4-1.2m.8-.8l.4-.4.4 1 .4-1.9.4 1.9.4-.4.4 7.9.4-4.6.4-1.9m.8.4l.4.8.4-1.3.4 1 .4 2.6.4-.4m.8 1.4l.4-2.4.4-2.7.4-1.7.4 2.6.4 1.5m1.2-.8h1m-.2 3.3l.4 1.1.4-3.7.4 1.9.4 2.5.4-2.3.4-.7.4-4.6.4 8 .4-1.5.4-1.1.4-1.2.4-1.7.4 2.7.4.1.4 2.9.4-5.2.4 6.2.4-3.1.4 2.8.4-4.9.4 3.1.4 2.2.4-2.5.4-3.5.4 2.7.4 2.1.4-4.3.4 0 .4 4 .4-2.6m.8-.3l.4-1.3.4 2.6.4 5.4.4-5.2" stroke="#8a3ae0" stroke-width="1.4" fill="none"/>
<path d="M310 239.1l.4-.4.4.8m.8-.7l.4.7.4 2.1m.8-2.9l.4 3m.8-.9l.4.8.4-1.2.4 1.1m.8 1.9h1m-.2-1.2h1m.2 1.7l.4 1 .4 1.7.4-2.3m1.2 2.2h1m-.2.9h1m-.2-.7h1m-.2-.9h1m-.2 3.3h1m.2 0l.4-.1.4 1.1.4.4.4-1.7.4 1.9m2 2.5h1m1.8-.3h1m.2 3.5l.4-.4.4 1.4m.8-2.3l.4 4.2.4-.1m.8 1.4h1m-.2-1.8l.4 2.9.4-6.1.4 1.6.4 3.7m1.6.8l.4-2.3.4 1.2m1.6 2.5l.4-.6m.8.9l.4-1.8.4 1.8m.8 2.2l.4.7m1.6-1.7l.4 1.5.4 2 .4-2m.8 3.4l.4.8" stroke="#8a3ae0" stroke-width="1.3" fill="none"/>
<path d="M350 269l.4-2.7.4 7.6.4-6.8.4 3.7m.8 1.4l.4-2 .4 4.2m.8 1.8h1m-.2-3.2h1m.2-2.7l.4-2.1m.8.7l.4-4.9m1.2-6.6h1m-.2 3.5l.4-2.9.4-4 .4-1.9m.8 12.5l.4.3.4 4.8m.8 3.3h1m-.2-4.5l.4.5m.8 5.7l.4 1.7m1.2-1.7l.4-.2.4.7.4-.9.4-1.9m1.6-3.5l.4 3.1m1.2-12.1h1m.6-8.1l.4-3.4.4.8m.8 6.3h1m-.2 3l.4-1.6m.8 5.4l.4 3.1m1.2 4l.4.8m.8-1.2h1m-.2 5.1l.4 6.2.4-6.9m.8.2l.4 3.8.4-5.3.4 3.9.4-3.3.4-1.3m.8 2.5h1m.6-15.4l.4 2.3" stroke="#8a3ae0" stroke-width="1.0" fill="none"/>
<path d="M387.6 262h1m-.4-2.3h1m-.1 3.3l.3-2.4.3-.8.3 1.1.3-.4m1.2-1.5l.3 3.9.3 1 .3-3.6.3 1.2.3 1.7.3-3.2m.6 2.6l.3-1 .3-1.4.3 3.2.3-2.3.3-3.8m.9 7l.3-3.6.3-.3.3 1.2m.9-.5h1m-.1 4.4l.3-6.7.3.3.3.3.3.3.3 0 .3 1.4.3 2 .3-4.5.3-.5.3-.5.3 5.6.3.4.3-5.4.3-.1.3 3.3m.6 1.7l.3-1.5.3.9.3-.6m.9-.6h1m-.4-.8l.3-2.1.3 3 .3 2.1.3-4.5.3 4.6.3 1.8.3-3.2.3-2.9m.6 1.6h1m-.4-1.7l.3 1.9.3.2.3 1.5m.6 2.4l.3-1.5m1.5 1.5l.3-1.4m.6-2.8h1m-.4 2.8l.3-2.2.3.7.3 0 .3-1.8m.6.2l.3.5.3 1.7.3-2.7.3 3.2.3-1.1.3 1.2.3.3m.9-.3h1m-.4-.2l.3-2.7.3 1.3m.6.5l.3 1m.6 1.8l.3-3.6m.9 3l.3-2.4.3-1.1.3-1.7m.6 1.5l.3 3.3.3 1.8.3-6.9.3 1.8.3 3.1m.6.1l.3.1m.6.6h1m-.4.2h1m-.4-2l.3 1.4m.6-.8h1m-.1 2l.3-2m.6-.5l.3 1.5.3 4 .3-3.5.3 2.4.3-1.8.3-5 .3 4.8m.6-3.2h1m-.4 6.2h1m-.1-1.1l.3-.9.3-4.4m.6 2.4h1m-.1 0l.3.6.3 3.4m.9-1.7l.3-3.2.3 1.2.3-1.3m.6 1.5h1m-.4 3.2l.3-1.8.3-.7.3 1.2.3-.3m.6 2.1l.3-1.6m.6-2.9l.3 4.3.3 2.4.3-2.8m.6-1h1m-.4.5l.3-.8.3 1.4.3-1.7.3 1.3m.6-.1h1m-.4-1h1m-.4-.7l.3 1.1.3.3m.6-.9l.3 3.9.3-5.1.3 2.5" stroke="#8a3ae0" stroke-width="1.0" fill="none"/>
<path d="M51 245.3l.3 6.2m.6-5l.3 2.1.3 1.5.3 2.3m.9-.8l.3-5.7m.6 3.4h1m-.4 4.3l.3-2.4.3-1.3.3-2.3.3 3.7.3-.5m.9-4l.3 2.7.3 1.9.3.3.3-.8m.6-2.2h1m-.1 2.1l.3-2.4m1.2 1.8l.3-1.2m.6 4.1l.3-3.3.3-1.7.3 1.8.3-3.2.3 2.7.3-1.2.3 2.3m.6-.1l.3 2.4.3-5.2m.6 1.1l.3-1.3.3.3.3-1.6.3 2.1.3-1.2.3-4.9.3 3.3m.9-2.2l.3-.9m1.5.2h1m-.1-1.6h1m-.1-.2l.3-2.9" stroke="#ff8020" stroke-width="1.0" fill="none"/>
<path d="M94 242.4l.3.7.3-2.7.3 1.8m.9 1.6l.3.2m.6 4.5l.3.7m1.2 1.1l.3-1.4.3 1 .3-.4.3-.1m.6-.6l.3 4.4.3-5.1.3 4.1.3-3.5.3 5.7.3-1.2m.6-2.4l.3-1.2.3 2.2.3 1 .3 4.3m.6-2.4l.3-3.5m.6 3h1m-.4-.7l.3-1.1m1.2-2.1l.3 2 .3-1.4.3.6m.6 4.3l.3 2.1.3-1.5.3-4.8m.6.2l.3 3.2m.6.5l.3.6.3-1.9.3-3.4.3 0m.9 6.6h1m-.4-2.1h1m-.4 2.1l.3-2.1.3-1.9.3 4.3m1.5-5l.3-.5.3 3.6m.6 1.7l.3 1.8.3-2.8.3 3.7m.9-5.7h1m-.1 2.2l.3 1.5.3-4.8m.6 2.2l.3 1.8m.9-.8h1m.5-1.9l.3 5.4.3-4.6m.6 1.2l.3 1.9m.9-.9l.3 2.5.3-1.2.3.1m.6-2.7h1m-.4 1.6l.3-3 .3 3.9.3-1.3.3 3.7.3-4.2.3 1 .3.4.3-4.1.3 4.7m.9 2.4l.3-3.3.3-3 .3 3.4.3.1m1.2-.5l.3-1.5.3 5.2.3-4.8m1.5 1.3l.3-.7.3.5.3 3 .3-1.6m1.2-2l.3 1.5.3-.2m.6-.2l.3.1.3-1.4.3 2.4.3-2.5m1.2 3.5l.3-1.7.3.4.3-.3.3-1.3.3-.3.3.4m.6.2h1m.5-.4h1m-.1 1.3l.3 1.6m1.8.9l.3.6.3-5.1.3 2.4m.6 1.8l.3 1.4m.6-2.5l.3-.3.3 2.2.3-2 .3-2.3m.6.5l.3.5.3 1.6.3-1m.6-1.9l.3 7.5.3-2.1.3-1m.6-5.5h1m-.4 3.8l.3 4.8m.6-5.3l.3 3.4.3.1.3-2.4.3 2.4.3-1.7.3-1.9.3-1 .3 2.1.3 2.2" stroke="#ff8020" stroke-width="1.0" fill="none"/>
<path d="M164.5 295.6l.3-4.1m.6-7.9l.3-.8m1.2-13.7l.3-6.2.3-3m.6-4.2l.3-3.5.3-1.6.3-6.2.3 4.1.3-4m.9-6.8l.3.1.3-6.9.3 3.8.3-4.8m.6-2h1m-.4-6.6l.3.2m.9-3.9l.3-1.4.3 1.9.3-3.7m.9-3.3l.3 1.2m.6-6.1h1m-.4.6l.3-1 .3 3.3.3-7.2.3 2 .3-4.6.3 2.2.3 1.2m.9-1.4h1m-.4-3l.3 4.6.3-5.3.3-2.2.3 2.1.3-5m.6 4.7l.3-3.1.3 1.7.3-.6.3 2.4m.6-7h1" stroke="#ff8020" stroke-width="1.0" fill="none"/>
<path d="M185 193.5h1m-.2-3.3l.4-1.9m.8.9l.4 4.1.4-4.6.4 1.9.4 2.7.4-1.6.4 1.6.4 1 .4-5.7.4 3.1.4-1.2.4 5.7.4-3.3.4 1.6m.8-1.7l.4 1.2.4 1m.8 2.3l.4-.9.4.6.4-2 .4-.8m.8.3l.4-2.8.4 4.9.4 1.2m.8-2.7l.4 1.4.4.6m1.2-2l.4 3 .4 1 .4-1.3.4-.6m.8-.5l.4 3.2.4 2m.8-2l.4.3.4 1.3.4-1.6m.8 1.8l.4-4.6.4 3 .4-4m1.2 1l.4 4.9.4 1.3.4-2.8.4.5.4 0 .4.1.4 1.1m.8-1l.4-.6.4.8.4 3.2.4-2.7.4 4.6.4-3.8m.8-1.9l.4 1.4.4 2.8.4.2.4-1.3.4 5.3.4-4.4.4.7.4-1.9.4 5.4.4-1.7.4-.9m.8.3l.4-1.8m.8 3.6l.4-3.7.4 2.4.4 1.7.4-1.5.4-1 .4-1.5.4 1.1.4-1.2.4 5.4.4-1.9.4-2.9.4 3 .4-2.8.4-4.5m1.2 4.7l.4 2 .4 2.3.4-1.2.4-.9.4.9.4.8.4-.5.4 1.9m.8-1.9h1m-.2-1.7l.4 7.3.4-7.2.4 4 .4 1.2.4.3m.8 2.3l.4-5.3.4 2.6.4.6.4-1.3.4 0m.8.1l.4.7.4.6.4.3m1.2 1.9l.4-.4.4 1 .4 2.2.4-4.9.4 5.9m1.2-2.9h1m-.2-4.6l.4 8.4.4-5.3.4.1m.8 2.4l.4 4.3m.8-2.4l.4-.9.4 1.4.4-4.7m.8 3.6l.4-1.3.4 1.7.4-3.8.4 5.5.4 1 .4-5.8.4 3.4.4 3.4m.8-5.7h1m.2 6.9h1m-.2-3.9l.4-1.8.4 1.3.4 1.4m1.2 4.5h1m-.2-5l.4 3m.8-2.8l.4 2.8.4-4.4.4 4.1.4.8.4-.7.4-1.8.4.5.4-3.8m.8 4.8l.4 1.4.4-1.6.4-1.1m.8 1.1l.4.5.4 2.5.4-2.6.4-1 .4 1 .4-.8.4.7.4-4.4.4 1.5m.8 4.9l.4-1.1.4.6.4 2.4.4-4.9.4 5.1.4-1.6.4-2.4.4 5.1.4-6.5.4.8m.8 3.7l.4-1.2.4-4.3m1.2 10.9l.4-2.5.4-2.8.4-2.6.4 3.4.4-3.4.4 3.3m.8-1.2l.4 1.6.4-1.2.4-.4m.8 2.8l.4-1.9.4-.9.4 2.2.4 1 .4.8.4 1.5.4-2.2.4-3.5m.8 5.4l.4-.6m.8-5.1l.4 2.7m.8 3.7l.4-5.2.4 2m.8 2.4l.4-2.2.4 5.3.4-7.2.4 4.1.4-1.4.4 1.8.4-1.7.4-1.1.4 2.4.4-3.3.4 4.3.4-1.8.4 2.9.4-3 .4-.4.4 2.5.4 2 .4-7.3m.8 6.3h1m.2.4h1m-.2-2.7l.4 5.4.4-5.9.4.3.4-3.2.4 2.9.4-.2m.8 5.8l.4-5.5.4 7.4.4-2.6.4-2.1.4 2.4m1.2-5.4l.4 2.2.4 2.2" stroke="#ff8020" stroke-width="1.4" fill="none"/>
<path d="M310 235.4l.4.5.4-1.2.4 1.6.4-1.4.4-.9.4 1.2.4 1.5m.8 1.7l.4-3.9m1.6 3.7l.4-.8m.8 2.7h1m.6-2.3h1m-.2.7l.4 0m.8-.9h1m-.2 4.7l.4 1.2.4-3.2.4-1.7.4 2.9.4 1 .4 1.1.4-.9m.8 1.7l.4-2.2m.8 1.3l.4 2.5.4 1.5m1.6-.6l.4 2.3m1.6-.5l.4.4m.8 1.4h1m1.4 2.2l.4-1 .4.2m.8 3.7h1m.2-1.7l.4 2.5.4-3 .4 2.1m.8 1.3l.4.2.4-2 .4.6.4.7.4-1.3.4 1.2m1.6 1.9l.4.5.4 1 .4-.8.4.7m.8 1.3l.4-.1.4-.5m.8.6l.4 1.4m.8-.5l.4 1.3.4-.4m.8 1.2h1" stroke="#ff8020" stroke-width="1.3" fill="none"/>
<path d="M350 265.2h1m-.2-3.2h1m-.2 3.7h1m-.2-2.3h1m.2 4.5h1m-.2 2.2h1m-.2-.5l.4.1.4-6 .4 2.1m1.2-1.6h1m-.2-9l.4 3.5m.8-6.4l.4 0 .4 1.2.4-2.4m.8 4.4l.4.1.4 4.1.4 5.7.4.6m.8 1.9h1m-.2 3l.4-1.1.4 2.4m1.2-1.8h1m.2-1.1h1m-.2 5.1l.4-8.9.4 1.3.4-2 .4-2.1.4.1.4-4.4m.8-6.3l.4-1 .4-2.7m.8-4.6h1m.2 9.8l.4-5.2.4 2.9m.8 9.7h1m-.2-1.1h1m-.2 7.9l.4-1.1.4 2.7.4-1.3.4 1 .4 2.4.4-1 .4 1.6.4-2.6.4.4m1.2-1.4l.4 3.1m.8-2.3h1m-.2 1.5l.4 3.6.4-9.3.4-5.3.4-1.6.4-3.8" stroke="#ff8020" stroke-width="1.0" fill="none"/>
<path d="M387.3 255.4h1m-.4 2l.3-2.8.3 1.6.3-1.8m.9 5.4l.3-5.3.3 1.7m.6-1.6l.3 2.4m.6-2.5l.3.8.3-1.4m.6 2.7l.3.7m.6-1.3l.3-2 .3 1.7.3 2.2.3-1.9.3-.8.3 2.5.3-.2.3 1.6m.6-2.8l.3-1.4.3-.8.3 1.9.3-2.4.3-2.1m.6 3.8l.3 4.1.3-4.9.3-.8m.6 1.6l.3.2.3.8m.9-4.6l.3 4.7.3-3.3.3-2.2.3 7.5.3-1.3m.6-.2l.3-2.6m1.5-1.5l.3 5.2.3 2.1.3-4.2m.6.2h1m.2-.4l.3 1.6.3-2.8m.6 4.3l.3-2.9.3 0 .3-1.6.3 2.8.3 1.1m.6-1.7l.3-2m.6 1.2h1m-.4 4.4h1m-.4-6.1l.3 1.2.3 1.1.3 4.1.3-2.9.3-.8.3 2 .3.9.3-3.9.3 4.2.3-1.1.3-.7m.9 1.9l.3-3.2.3 5 .3-4.3m.6 1.1l.3-.6.3 1.1m.6 1l.3-3.5.3 1.4m.6-1.7h1m-.4.4h1m-.4 1l.3 1 .3 1 .3.1m.9-2.4l.3-1.9m.9-.2l.3 6.7.3-6.7.3 4.3.3.4.3-1.4.3 5.5.3-4.9m.6 3.5h1m-.1-5.2l.3.8.3 1.4.3.6.3-3.5m.6 7.3l.3-5.6.3 1.2.3 1.7m.6-2.5h1m-.1 3.5h1m-.4-6.1l.3.1.3 1.8m.6 3.3h1m-.4 3.1l.3-2.2m.6.9h1m-.4-4.9h1m-.1-.2l.3 4.9m.6-2.6l.3 1.4.3-.8m.9-.9h1m-.1 3.5l.3-5.5m.6 5.3l.3-2.4.3-.2.3 0m.6 1h1m-.4-.6h1m-.4-.9h1m-.4-1.9l.3 9.2.3-7.4.3 3.8.3.7.3-1.7m.6-.1l.3-3.1.3 4.1.3 1.6m.6-5.3l.3 2.1m.9 3.5l.3-1 .3 0" stroke="#ff8020" stroke-width="1.0" fill="none"/>
<path d="M51 242l.3.3.3 1.5.3 3.5.3-.8.3-3.6.3 2.4.3-.3m.9-3.7h1m-.4-1.1l.3 3.6m.6.1l.3-.1.3 3.9m.6-1.7l.3 1 .3.3.3-.4.3-2.4.3-1 .3.7.3.6.3.9.3-.1m1.2 2.3l.3-2.9.3 2.6.3-7.2.3 8.3.3-1.9.3-.2.3-4.2.3 8 .3-5.5.3 0m.6-.4h1m-.1-2h1m-.4 1.9h1m-.4-2.9l.3 4.6m.6 1.1l.3-5.2.3 4.7m.9-6.3l.3 2 .3-.3m.9-4.3l.3 3.9m.6-2.1l.3-2m1.2-1.1l.3-2.7" stroke="#dd38d8" stroke-width="1.0" fill="none"/>
<path d="M94.3 241.8l.3-3.1.3.8.3 1.5.3.6.3.6.3-1.2.3.3.3 1.3m.6-.6l.3.3m.6 4.3l.3-1.5.3 2 .3.9m.6-2.1h1m-.4-2.4l.3 2.4m.9 4.2h1m.2-5l.3.8.3 1.4.3.8.3-.3m.9 1.2l.3.1.3.8.3-.8m.6-1.3l.3-2m.9.2l.3 1.8.3-1.5m.9 6.1l.3.2.3-1.6.3.1.3-2.4.3 1.3.3-.9.3 1.3.3-1.3m.9 1.4h1m-.1 2.2l.3-1.8.3-2.2.3 3.4.3 1.3m.6-.8h1m-.1 2.6l.3-3.2.3.9.3-1.5.3.7.3 4.7m.9-5l.3.8.3 4.3.3-3.7.3 1.8.3-2.8m.9.7l.3-1.3.3.2.3.1.3.1m.6 3.6l.3-1.6.3 1.2.3-2.5.3 1.3.3-.3.3 2m.6-1.5l.3-2 .3-1m.9 1.4h1m-.4 4.3h1m-.4-7.1h1m-.1 4.5h1m-.4-2.3h1m-.4 1.4l.3 2.8.3.4.3-2 .3.8.3-1.3.3-.7m.6 1.4l.3-.8.3-.5.3.6.3-.2.3-1.6.3 1 .3 3.3m.9-4.4l.3-.3m.6 4.1h1m-.4-.2l.3.6.3.3m.6-2.1l.3-3.1.3 3.3.3.5m.6-2.9l.3.8.3-.2m.6-2.9l.3 2.8.3 6.1.3-2.7.3-3.8.3 2.5m.6 1.2h1m-.1.6h1m-.4.1l.3-.8.3-1.6.3 3.7.3-3.7.3 1.8.3-2 .3.8m.6-.8l.3 1.7.3 2.1.3 1.1.3-.8m.6.1h1m-.4.7h1m-.4-.5l.3-4 .3 3.4m.6-.4l.3-2.3.3-3 .3 1.8.3 1.4.3.5.3-4.3.3 2.1.3.9m.6 1.9h1m.5 1.4l.3-2.7.3 2.3.3-2.9.3 2.2.3-.3m.9-.3l.3-1.4m.6 2.9h1m-.4-1.1l.3 1.3.3-1.1.3 2 .3-1.2.3 1.1.3-1.3.3 3.9.3-1.9" stroke="#dd38d8" stroke-width="1.0" fill="none"/>
<path d="M164.5 289.6l.3-3m.6-9.6h1m-.4-4.7h1m-.4-7.7l.3-.8.3-3.7.3.1m.6-5.6l.3-3.9m.6-6.8l.3-2.2.3.6m.6-7.4h1m.2-6l.3-2.7m.9-4.4h1m-.4-1.6h1m-.4-3.2l.3.6.3-1.7.3-.2.3-3.9.3-.5.3 2.6m.9-5l.3-3.3.3-2.7m.6-.3h1m-.4-3.3l.3 4.8.3-2.7.3-.9.3 0 .3-.8m.6-.5h1m-.4-6.9h1m-.4 4.6l.3-1.2m.6-3.5l.3-3.2.3 7.8.3-2.4.3-4.3.3 2 .3 1.6.3-3.8" stroke="#dd38d8" stroke-width="1.0" fill="none"/>
<path d="M185 189.2l.4-3.5.4.3.4 2.8.4 1.7.4-2.1.4-.1m.8-2.8l.4 0 .4 5.5.4-5.8.4 6.2.4-3.5.4 3.5.4-.6.4 1.4.4 1.1m.8-4.6l.4 1.3.4-.6.4 3.4.4-1.6.4.4.4 1.1.4-1.9.4 3.8.4-6.6.4 4.9.4.8.4-2.8.4.3.4 3.8.4-2.6.4-3.5.4 1.4.4 5.6.4-4.2.4 5.2.4.3.4-3.5.4 1.9.4-3 .4 1.1.4-.5.4 3.1.4-4.1.4 2.8.4.5m1.6-1.5l.4 1.7m1.6 2.6l.4 0 .4-2.3.4 3.1.4-.1.4.1m.8.2l.4 2.2.4-5.1m.8 4l.4-.1.4-2m.8 7.1l.4-7.2.4-1.6.4 1.9m.8 0l.4.6m.8.3h1m-.2 1.2l.4-2.2.4 2.7.4-2.6.4 4.9.4-4.1.4 1.7.4-3.4.4 3.3.4-1.7.4 6.4.4-3.5.4 1.6.4-5 .4 1.3.4 2.6.4-2.6.4 5.9.4-3.4.4 1.4m.8-.3l.4 2.2.4-3.1m1.2 2.4l.4 0m1.2 1.7l.4-1.9.4-3.1.4 4.3.4-.5.4 1.5.4-.8.4 3.6.4-6.1.4.7.4 3.8m1.2-1l.4-4.3.4 6.1.4 1.8.4-2.5m.8 1.6l.4-4 .4 2.3m.8-1.2l.4-1.9.4 3.6.4.4.4-1.7.4.3.4 3.6m.8-2.4h1m.6 1.3l.4-2.6.4 2.5.4-.5.4 1.8.4 2.6m.8-.9l.4-1 .4-.9.4 1.7.4-1.7.4.5.4-1m1.2 6.4h1m-.2-4.7l.4 2.7.4-2.7.4 3.4m.8 4.4l.4-8.8.4 2.4.4 0 .4 1.1m.8-2.7l.4.7.4 2.4.4 1.6.4-4.5.4-.9.4 6.1.4-.5.4.6.4-4.5.4 1.9.4 1 .4.6.4-1.1.4.3m.8-.7l.4-.1.4.4.4-.1.4 1.5m.8-1l.4 4.2.4-2.4.4-1.3.4 3.7.4-3.9.4 1.3.4-.1.4-.9.4.5.4 1.1m.8-.8l.4 1.5m.8.4l.4 4.6.4-3.6.4-1.7.4.2.4.3.4 1.1.4-1.5.4 4.1m.8-1.7h1m.2.3h1m-.2-2.5l.4 6.5.4-3.4.4-2.1m.8-.7l.4 2.3.4-.3.4-3.2.4 1 .4.8.4.8.4.2.4-.6.4 3 .4.8.4-1.8.4-4.9.4 4.6.4 1.7.4-1.3.4.9.4-.3m.8-5.5l.4 7 .4-2.4.4 2.1.4-1.4.4.4.4 3.5.4-5.5m.8.4l.4 2.7.4 1 .4.4m.8-4.2l.4 3.7.4 1.5.4.3.4 2.7m.8-6.7l.4 1.2m.8 3.6l.4-4.6.4 4.6.4-.5.4-3.2.4 3.3m.8-1.1l.4-.5m.8-1.7h1m-.2-2l.4 4m.8 4.5l.4-2.1.4-2.2m.8 1.4l.4-1.3.4 6.3.4-10.8.4 6.3.4-5.4.4 7.8.4-3.9.4 5.3m.8-.9l.4-1.8.4 2.2m1.2-3.6l.4-1.6.4 5.7" stroke="#dd38d8" stroke-width="1.4" fill="none"/>
<path d="M311.2 231.7l.4-3.9.4 4.3.4.1m1.2-.7h1m.2-.3h1m-.2 3h1m1.8-.3l.4 1.9m1.2.5l.4-.7m1.2 1.9l.4-.8m1.2 1.3l.4-.9.4 1.8.4 1.8.4-3.4.4 4.3m.8 1.7h1m.2 0l.4.4m.8-.8h1m-.2 1.7l.4-3 .4 2.2.4-2.5m.8.6h1m.2 3.8l.4.2m1.6 2.5h1m.6 2.6l.4-.8m.8.6l.4-.3.4-.8.4-2.4.4 5m.8 2.6l.4-5.4.4 4.3m1.2-1.5l.4 2.1m.8 1.3l.4-.7.4.8.4 1.4m.8-1.4l.4 2.3.4-1.6m.8.3l.4-.2.4-3 .4 5.6.4-2.4.4 3 .4 1.9.4-4.2m.8 2.4h1" stroke="#dd38d8" stroke-width="1.3" fill="none"/>
<path d="M350 259.8h1m.2-.2h1m-.2 3l.4 6.4.4-3.2m.8-1.5l.4 1.5.4.5m.8-.3l.4-5.9.4 1.3.4-6.7m1.2 4.8l.4-.7.4-3.9.4-1m.8-5.8h1m.2-2.5h1m-.2 6.9l.4 1.2.4 9.8.4-3.9.4 6.9m1.6 1.6l.4.3.4-3.3.4 3.6m.8-4.3l.4 1.3.4.4.4 2.8.4-3.6.4 1.1m.8-6.5l.4 1m.8-6.3l.4-2.6m1.2-6.5l.4 1.2.4-4.7m1.2 2.2l.4 1.8.4 2.1.4 3.4.4.7.4 1.9.4 2 .4 4.4.4-1.2.4 4.8.4-6.3.4 7.2.4.7.4 2.5.4-2.8m2 .8l.4-.8.4.9.4-.8.4-3.5.4 1.9.4 3.5m.8-3.4l.4-2.1.4.7.4-7.4.4-6.1" stroke="#dd38d8" stroke-width="1.0" fill="none"/>
<path d="M387 251.4l.3-4.1.3 3.6.3-1m.6.9l.3-1.2.3 3.6.3-2.5.3-.4m.6 1.5l.3.7m.6-2.2l.3.4m.6-2.9h1m-.1 6.1h1m-.4-5.6h1m-.4 7.7l.3-6.7m.6 1l.3 0 .3 0m.6 2h1m-.4-.4h1m-.4.1h1m-.4-2.4l.3 1.7m.6-1.7l.3 3.7.3-5.5.3 4.4.3.3.3-2.3.3 3.1.3-.3.3-4 .3 3.3.3 0 .3-2.2.3 2.4m.6-2.3h1m-.4 2.1l.3-2.1m.6.7l.3-3.6.3 3.8.3 3.4.3-8m.6 3.6l.3 1 .3-.9.3 2.9.3-1.2.3-1.4.3-.9.3 1.6m.9 1.6l.3-.1.3-4.3.3 5.8.3-2.1.3 4.2.3-.8.3-3.7m.6-1.3l.3-.7m.6 2.1l.3-.2.3.4.3 1.6.3.6.3-1.8.3-.3.3.6.3 3.7m.9-2.9l.3-.6m.6 2.2l.3 1.3.3-5.1.3 2.6.3-1.5.3 2.2m.6-.1l.3-3 .3 1.7.3-1.1.3.5.3-.3m.9 1.6h1m-.4-2.3h1m-.4.8l.3 1 .3 1.8.3.6m.6 1l.3-1.4m.9.1h1m-.4-2.7l.3 2.7.3-.6m.6-1.6l.3 3.5m1.2-3.9l.3-.5.3 5.3.3-5.2.3 3.9.3-1.6.3-.6.3.3.3.8.3 1.9.3-.6m.6-3.5l.3-.7m.6 1.6h1m-.4 4.1l.3-4.8m.6 4.7h1m-.4.2l.3-4.4.3.4.3 2m.6.3l.3 1.1.3-2.2m.6 2.3l.3-1.1.3 2 .3 2.4.3-3.6.3 1 .3-2.7.3 3.4.3-1 .3-.1.3 1.3m.6-.5l.3-.1.3 2.1.3-6.2.3 3.2m.6-.4l.3 0 .3 4.2.3 1.4m.9-5.6l.3.4.3-.7.3.1.3 1.9.3-.2m.6.1l.3-2.2.3 3.7m1.2-.5l.3-.4.3-.3m.6 2.3l.3-2.5.3.6.3-1.9.3 1.8" stroke="#dd38d8" stroke-width="1.0" fill="none"/>
<path d="M51 239l.3-.4m.9 3.8h1m-.4-3.8l.3 5.3.3 1m.6-5.4l.3 3.9m.6 0l.3-3.2.3 1.2.3-1 .3 2 .3-1.1.3 2.3.3-.5.3-.7.3-.9.3-.4m.6 2l.3-1.1.3.3.3-.6.3 0 .3-1.1.3-2.3.3 4.7.3 0 .3-2.9m2.7-1l.3-.5.3 2.5.3 2.5m.6-3.4h1m-.4 1.1h1m-.4-3l.3 2.6.3-1 .3-2.1m.6 3.4l.3-2.2.3-1.6.3.1.3 1.2.3-2.2m.6-1.6l.3-1.5m.6-1.4l.3.4m.6 2.4l.3-2.7.3-1.6.3-2.8.3-.9.3 1.9" stroke="#5ef0f8" stroke-width="1.0" fill="none"/>
<path d="M94 232.8l.3 3.7.3 1.3.3-3 .3.2.3 3.2.3-2.1.3 2.3.3-2.2m.6 3.8h1m-.4 1.3l.3-1.7.3 1.4.3-2m.6 2.7l.3 1.5m.6-4l.3 4.5.3.9.3-3.6.3 6 .3-4.9.3 6.1.3-3.1.3.5.3-1.3.3 1.5.3-3.8m1.2 1h1m-.4 2.7h1m-.4.3l.3-.7m.6.6l.3-.9m.6 2.3h1m-.4-4.2l.3 1 .3 3.5.3-2.5.3 4.3.3-9.4.3 4.6.3.6.3 1.5.3 2.1.3-2.8.3-1.5.3 3.6m.6-6.3h1m-.4 5.6h1m-.4-1.3l.3 1.6m.6-.9l.3-1.6m.6 1.1l.3 1.5.3-1.1.3 1.5.3 1.2m.6 0l.3-3.8.3 3.6.3-.2.3-1.7m.6-4l.3 5.6.3-.8.3-3.5.3 5.4.3-2.2.3 1.8m.6.4l.3-.7m.6.8h1m-.4-5.2l.3 4.4m.9 2.6l.3-.7.3-3.7.3-.2m.6 1h1m-.4-2.5l.3 3.5.3 2.5.3-3 .3.7.3 3.5.3-1.6m.6-.4l.3 1.1.3-5.4.3 1.6.3-1.5.3 7.4.3-3.9m.6-1.7l.3-.5.3-3.3m.6 5.2l.3.3m.6-.2l.3.9m.6.5l.3-2.8m.6 3.4h1m-.4-.9l.3-.9m1.2-1.5l.3 3.3.3-4.5.3 2 .3 2.6.3.3m.9-.6l.3-1.2m.6 1h1m-.4-.5l.3 1.9.3-1.5.3-1.4.3 1.2.3 3.4m.9-5.1h1m.5.2l.3-.1.3-1.2.3 2.9m.6-1.2l.3.4.3-.5.3 3 .3 1.4m.9-2.4l.3-2.5m.6 2.5l.3 2.2.3-.3.3-2.8.3.8.3-.9.3.4.3-1.9m.9 4.2l.3-.4.3-4.9.3 3.2.3-.8m.6-.9h1m.2 3.9l.3-5.3.3 3.3.3 3.3m.6-.8l.3-1.2.3-1.7.3 1.5m.6 2h1m-.4-4.5l.3 3.7.3-4.2.3 2.4m.6 1.5l.3-.5.3 1.8.3-3.5.3 2.7" stroke="#5ef0f8" stroke-width="1.0" fill="none"/>
<path d="M165.4 273.9l.3-1.9m.6-9.8h1m-.4-4.4h1m-.1-6.9l.3-4 .3 1.1.3-5.7.3-2.1.3-1.7.3-3.5.3-3.3.3.3m.6-5.8l.3.2.3-2.1m.6-6l.3 1.6.3 2.1.3-3.1.3-1 .3-3.2.3.9.3-4.4.3-.8.3.7.3-4.8m.6 1.3l.3 1.8.3-5.4m.6-1.7l.3-.6.3-4.9m.6 5.9l.3-1.9.3-1.3m.9-4.6l.3 1.4.3-.2.3 2.6m.9-2.8l.3-3.8.3 1.3.3-4.4m.9 1.9l.3 3.6.3-2.9.3-1 .3-.1.3 3.5.3-3.3" stroke="#5ef0f8" stroke-width="1.0" fill="none"/>
<path d="M185 190.6l.4-1.5.4 2.1.4-3.9.4 1.9m.8-1.7l.4-.7.4-1.1.4 1.8.4 2.1.4-3.5.4.6.4 1.9m.8 1.4l.4-.2.4-6.7.4 3.9.4-.9m1.2.2l.4 1.3m.8 1l.4 2.6.4.7.4-.8.4 1.3m.8-2.4h1m-.2-1.2l.4 3.7m.8.7l.4-2.9m.8 1.6h1m-.2.5l.4-.2m.8.8l.4.3m.8 3.1l.4-6m.8 1.9l.4 1 .4-2 .4.6.4 3 .4-1.9.4-.2m.8 2.7l.4-1.1m.8 3.8l.4-4.2.4 1.4.4.3.4-4m.8 3.7l.4 1.8.4-1.4.4-1.5.4-.1.4 3.4.4-2.4.4-2.8.4 5.3m.8-.4l.4 1.6.4.8.4-1.6.4-1.5m1.2.5l.4 3.4.4.1m.8.4l.4-3.1.4.2m.8-.3l.4 1.3.4 2 .4-3.9.4 3.6.4 3.7.4-8.3.4 2.6m.8 3.2l.4 2.3.4-1.5m1.6-2.4l.4.8.4-2.4.4 5.6m.8-1.7l.4-.9.4-2.8.4 2.7.4.1m.8 2l.4-2.7.4 6.9m.8-7.5l.4-3.5.4 8.7.4-2.2.4-.2.4-2.3.4-.9.4-.8.4 10.1m.8-6.8h1m-.2-2.6l.4 5.9.4.1.4-3.4m.8-.1h1m-.2 5.6h1m.6-6.5h1m.2 1.5l.4 2.2.4-.5.4 1.9.4.6.4-5.9.4 8.3.4 1.2.4-6.1m.8 5.5l.4-.5.4 1.6.4-6.8.4 5 .4-3.8.4 7.8.4-7.5.4-.5.4 5.5.4-1.1.4-1.2.4.3.4 1.2.4 2.7.4-5.5.4.5m.8 1.3l.4.3.4-2.8.4 3.7.4-3.5.4 2.3.4.3.4.1.4 4.1.4.4.4-1.1.4 1.2.4-4.1m.8.7l.4.8.4.2.4-3.6.4 1.8.4 1.1.4 1.3m.8-2.5l.4-.6.4 2.8.4-2.7.4.2.4 2.5.4.8.4-2.2.4-2.1.4 4.9m.8-1.4h1m-.2-4.2h1m-.2 3.1h1m.2 2.5l.4 0m.8 7l.4-9.8.4 3.9.4-2 .4 1.4.4 3.9.4-7.4.4 4.1.4 1.6.4-.8m1.2-3.7l.4.9m1.2 3.5h1m-.2.3l.4.3.4.1m.8 1.1l.4-3.8m.8 8.2l.4-8.1m.8 3.7h1m-.2-.4l.4-1.2.4 5.9m.8-6.7l.4 5.9m1.2-5.1h1m.2 3.5l.4-3.4.4 3 .4-1.9m.8 2.4h1m-.2-.1h1m.2.6h1m-.2-1.4l.4 2 .4-1.9m.8 1.3l.4-1.6.4 4.1.4-3.4.4 2.3m.8-2.4l.4 5 .4-2.9.4 2.4.4-3.2.4-2.3m.8 2.3l.4.8.4.7.4 1.2.4-4 .4 3.5.4-3.2.4 1.4.4 7.5.4-2.8.4-3.7.4 5.1.4-.8.4-1.1m.8-2.4l.4.4m.8 1.9l.4-4.1.4 1.9.4 2.5.4-2.1.4 2.2" stroke="#5ef0f8" stroke-width="1.4" fill="none"/>
<path d="M310 226.5h1m.2-1.8h1m-.2.8h1m.2 3.8h1m.2 0l.4-3.1.4-.6m.8 2.7l.4.1m.8-.3l.4.6.4.9.4.6m.8-.4h1m.2 2.4l.4-3.8.4 2.7m.8.3h1m.2.8l.4.9.4.4.4 1.7.4.5m.8 1.2h1m-.2.1h1m-.2.8h1m-.2-1h1m-.2-.3h1m-.2 3.3l.4-.9.4.2m1.2.2l.4 1.5.4 1 .4-1.3.4 1.8.4 1.1.4-1.7m1.2 2.3h1m-.2 5.6l.4-7.1.4 3.4.4 3.7m.8-1.6l.4-1 .4-2.1.4 3.1.4-1.7.4 1.8m.8 1.6h1m.2 1.8l.4-.8.4-1m2 2.1l.4-.7m2 1.8l.4.7.4 1.1.4-.7.4.8.4-.6.4 3.3" stroke="#5ef0f8" stroke-width="1.3" fill="none"/>
<path d="M350.4 258.1h1m.2 0h1m.2 6.1h1m-.2-1.1l.4-5.8.4 0 .4-.1m1.2-.9l.4-1.4m.8-1.6l.4-1 .4.8.4-2.4.4-7.2.4 2.1.4 2.3.4-6.4.4-1.2.4-.1m1.2 7.1h1m-.2 5l.4 6.8.4-4 .4 6.3m.8-4h1m.2 9.3h1m.2-5.4h1m-.2-5.3l.4 6.1m.8-4.3l.4 0 .4 2.3.4-2.4.4 0m1.6-13h1m-.2-.7h1m-.2-6.3l.4-2.8.4 9.5.4-1.6.4 4.2.4 4.5.4 1.4m1.2 5.9l.4.5m.8-7.4l.4 6.3.4 1.3m.8 3.6l.4 2.3m.8-2.7l.4 1.7.4-2 .4-1.3m.8 4.4l.4-9.6.4 8.7m.8-6.7l.4 2.5.4-5.6.4-1.1.4-9" stroke="#5ef0f8" stroke-width="1.0" fill="none"/>
<path d="M387 246.4l.3-3.3m1.2 2.5l.3-4.7m.6 3.4l.3 2.5.3-.3.3-3.1m.9-1.1h1m-.4 5.6l.3-.2m.6-3.1l.3-.9.3.8.3.5.3 1.8.3-1.1.3-1.9.3 3.4m.6-2.7h1m-.4 1.1l.3-2.9.3 3.4.3 1 .3 2.5.3-3.3.3-.9.3.3.3 1.5m.6-2.7l.3 2 .3.9m.9-1.6l.3 2.1.3-1.7.3-.3m.6 1.1l.3 1.1m.6-3.7l.3.8.3-.5.3 3.3m.9-1.1l.3-.3.3 2.6.3-3.1.3.2.3 2 .3 0 .3-3.3m.9-.4h1m-.4 4.3l.3-1.4m.6 4.2l.3-2.7.3 2.1.3-2.5.3-2.5.3 4.1.3-4.1.3 3.1m.6-3.3l.3.3m.6 2.2l.3 1.8.3-2.4.3 3.5m.6-4.7l.3 0m.6.3l.3.8.3 1.7.3-.9.3 1.4m.6-3.4l.3-1m.6 1.8h1m-.4.6l.3.4.3 3.9.3-5.9m.6 1.2l.3-.7.3 4.3m.6 0h1m-.1 2.1l.3-5.9.3 1.8m.6 1.2l.3-3.5.3 3.5.3.5.3-2.4.3-3.1.3 3.1.3.6.3 2.2.3-2.5.3-1 .3 3.5.3-.4m.6-.5l.3 2 .3-1 .3-4.3.3 3.9.3 1.1.3-1.3m.6-.8h1m-.4-1.3l.3 2.4.3-1m.6-1.3l.3 3 .3.5m.6-3.1h1m-.4 4h1m-.1-4.4l.3 3.7.3.8m.9-2.5h1m-.1 1.5l.3-.6m.9 1.2l.3 2.2.3-6.3.3 5.8.3-2.5.3.9.3-.4.3.5.3 1.7.3-1 .3-3m.6 2.7h1m-.4.4l.3-.2.3 2.2.3-4 .3 6.3.3-5.1.3-.9.3 3.6m.6 1l.3.5.3-1.8.3-.7.3.6.3-.6.3-1 .3 4.2m.9-3.3l.3-.4.3-2.2m.9 3.3l.3-1.7.3-1.7.3 4.9.3 2.1m.9-1.4l.3-3.8" stroke="#5ef0f8" stroke-width="1.0" fill="none"/>
<path d="M51 233.3h1m-.4 3l.3-1.4.3-.7.3 3.3.3-2.1.3-3.8.3 1.8.3 2.8m.6-.3l.3.1m.9-2.7l.3.7.3-.1.3.1.3 1 .3.2.3-1 .3 3.5.3-2.8m.6 2.7l.3-4.1m.6-.3l.3 5.4.3-2.1m.6-4.7l.3 3.4.3-1.8m.6.3l.3 1.9.3 1.2.3-1.1.3.3.3-1.1m.6-1.6l.3 2.7m.6-1.1h1m-.4-1l.3 1.4.3 1 .3-5.8.3 1.8.3-.6m.6-.1l.3 2.8.3-2.5.3-2.3m.6-.4h1m-.4 2.7l.3.4.3-4.9m.6 2.7l.3-5.7.3 6.8.3-1.7.3-5.9.3 1.9m.6-2.3l.3-.2.3.1" stroke="#1028ff" stroke-width="1.0" fill="none"/>
<path d="M94 228.2l.3-1.8.3 2.8.3 2.8m.6-1.2l.3 1.9.3-.3.3.8m.6 3.1l.3-.9.3 1.9.3.5.3-5m.6 2.2h1m-.1.8h1m-.4 1.5l.3-.4m1.2.6l.3-2.8m.6 9.5l.3-5 .3-1.2m.6-1.4l.3 2 .3 1.6.3-4.5m1.2 2.5h1m-.1 1.9l.3 1.3m.6-2.8l.3 1.8.3-1.1.3 2 .3-1.8m.9.6h1m-.4.8h1m-.4-.9l.3 1.1.3 1.9.3-2.7.3.7.3-.9m.6 1.3l.3-1.4.3 1.6.3 3.8m1.5.7l.3-6.3.3.5.3 1.5m.6 2.7l.3-.3.3-.4m.6-3.7l.3 3.9.3 2.3.3-4.5.3 2.6.3 1.8.3.2.3-2.6.3 3.8m.6-1.4l.3-4 .3.7.3 0m.6-2.9h1m-.1 4.7h1m-.4-.9l.3.2.3 2.9.3-5.8m.6 5.6h1m-.1-2.4l.3-2.2m.6 2l.3 3.2.3-.8.3-3.1.3 1.4m.6 1.2l.3 2 .3-.7.3-1.4.3.7.3-2.6.3.3.3 2.2.3-.4.3-2.7.3 2 .3-1.3m.6 3.9l.3-4.1.3.6.3 2.3.3-.9.3.2.3-2.9m.6 2h1m-.4-.2h1m-.4 2.6l.3 2 .3-3.3.3 2.6.3-2.5.3-2.9m.9 5.4l.3-4.1.3 5.7.3-5.4.3.1.3.4m.6 1.8l.3.9.3-5.7.3 4m.6 1.5h1m-.4 1l.3-3.5.3-1.2m.9 4l.3-2.7.3 3.5.3-2.4.3.2.3-2.5.3 1.8.3 1.2.3.2m.6 1.5l.3.9.3-4.1.3 2.3.3-3.5.3 3.6.3-2.5.3 1.5.3.6.3-.7.3 2.4.3-3.3.3.6.3 1.5.3-.6.3.5m.9.9l.3-1.1.3 1.6.3.8.3-3 .3-.7.3.6.3-.4.3-2.4.3 6.7.3-2.2.3 3.5.3-5.2.3 2.1m.6-1.1l.3 1.9.3-1.7.3-.1m1.8 1.4l.3.4.3-.2m.6 1.9h1" stroke="#1028ff" stroke-width="1.0" fill="none"/>
<path d="M164.8 273.9l.3-4.7.3.1.3-3 .3-6.1m.6-5h1m-.4-5.4l.3-1.2.3-2.6m.6-5.1l.3-5.1.3-2 .3.5m1.5-10.1l.3-.3.3-1 .3-5.2m.6-1.8l.3.6.3-1.1.3-3.4.3.6.3-5.5.3 2.8.3-1 .3-1.6.3-3.6.3 1.4.3-2.7.3 3.5.3-4m.6-1.1l.3.4.3-1.6.3.1.3-3.4.3 2.9.3-3.5.3 1.7.3-1.5.3 1 .3-2.6.3-3.1.3 0 .3 1.1.3 2.5m.6-3.2l.3 1.7.3-3.7m.6.7h1m-.4-.8h1m-.4.9l.3-2.8.3 5.5.3-4.9" stroke="#1028ff" stroke-width="1.0" fill="none"/>
<path d="M185 189.2l.4.2.4-3.9.4.7.4-.1.4-.5.4-1.4m.8 2.6l.4-2.2.4-.6.4.3.4-1.7.4 1 .4 1.5.4 1.1.4-.8.4.7.4-2.7.4-2.4.4 5.5.4-1.3.4-.1.4 2.2.4-3 .4.1.4.4.4 2.9.4-.7.4-3.1.4 4.2.4-1.8.4.6.4-1.3.4 3.3.4-1.6.4 1.2.4-2.6.4 2.1.4-.6.4-.2.4-.6.4.3.4-.5.4.8.4.8.4.9.4-2.4.4.7m.8-.4l.4 1.7.4.1.4.3.4.8.4.8.4-.1.4-.5.4.5.4-1.5.4 0 .4 2 .4 0m.8-.7l.4-.8.4 1.7.4-.8.4-.4.4 2.8.4.8.4-1.7.4-1.1.4 1.2m.8-1.7l.4 2.8.4-.5.4 1.2.4-2 .4.8.4 0 .4-1.8.4 5.2.4-5.4.4 1.3.4 1 .4-1.3.4 2.5.4-.9.4.8.4.3.4-.1.4.2.4-.2.4.8.4.6.4-1.1.4-.1.4.1.4 1 .4-.7.4.2.4-1.3.4 4.3.4-3.7.4 3.6.4-.9m.8-.4l.4.4.4-.1.4.5.4.4.4 1 .4-2.9.4 1.9.4 1.5.4-.2.4-2.7.4 1.7.4.1.4.1.4-2.9.4 3.9.4-2.9.4 4.7.4-1.7.4-.8.4 1 .4-.4.4-.7.4.6.4.7.4-1.3.4 2 .4.6.4.1.4.2.4.3.4-.6.4.9.4-1.4.4.5.4 1.4.4.7.4-2.6.4-1.2.4 4.5.4-1.1.4.9.4-.9.4-.7.4-1 .4-.2.4 3 .4-.4.4-.7.4-1.6.4.8.4.1.4.5.4-3 .4 3.9.4 1.7.4-2.5.4.8.4.5.4-1.5.4 1.9.4-1.4.4.5.4 1 .4-.3.4.3.4-1.1.4 2.1.4-2.1.4 2.5.4-1.5.4-.8.4 1.5.4-1.1.4.7.4.6.4 1.3.4.1.4-.3.4-.8.4-1.4.4 1.7.4 0 .4.3.4-.4.4.2.4 1.7.4-2.5.4 1.7.4 1.7.4-2.4.4-.1.4 1 .4 0 .4.8.4 1.5.4-1.7.4.9.4-1.3.4.3.4 1 .4-1.1.4 2.4.4-1.8.4.4.4-1 .4.9.4-.6.4.7.4-1.4.4 2.2m.8-2l.4 4.5.4-2.1.4 1.3.4-2.2.4 3.8.4-3.7.4 1.4.4 2.1.4-3.4.4-1.2.4 2.9.4-.7.4-.2.4.2.4-.6.4 3.7.4-.2.4-3 .4 1.6.4-.3.4 2 .4-2.2.4 3.1.4-1.9.4-.8.4.9.4-.5.4 3.6.4-2.4.4-.7.4.8.4 1.8.4-2.9.4-.8.4 3.9.4-.8.4-1.2.4.6.4 1.5.4-4.6m.8 3.4l.4 1.2.4-.8.4 4 .4-4.5.4 2.2.4-4.5.4 3.4.4 1.1.4-2.8.4-.5.4 2.7.4 1.3.4.3.4-2.2.4 1.4.4-2.1.4 4 .4-2.7.4 2.4.4-1.8.4 0 .4 2.5.4-3 .4 2.9.4-2 .4-.5.4.1.4 2.6.4-1.4.4-.2.4-1.4m.8 3.4l.4-.8.4.7.4-4.9.4 3.5.4 1 .4 0 .4-.7.4 1.1.4-1.1.4.2.4-.6.4 1.9.4-.9.4.5.4 2.5.4-1.6" stroke="#1028ff" stroke-width="2.1" fill="none"/>
<path d="M310 223.8l.4-4.8.4 1.8.4-3.1m.8 3.9l.4-1.6.4.1.4 1.2.4.1.4 3 .4-2.6.4.4.4.1.4-1.9.4 1.9.4-1.1.4 2.4.4-3.3.4 1.8.4 2.3m.8-2.4l.4 4.1.4-3.3.4 2.2.4.8.4-1.6.4-.6.4 5.2.4-2.7.4 2 .4-1.5.4 2 .4-2.1.4.3.4.9.4 1 .4.4.4.8.4 1.5.4-1 .4 2.6.4-2 .4 2.3.4 1.4.4 1 .4-5.2.4 6 .4-4.9.4 5.2.4-1.8.4 1 .4-1.6.4 3.2.4 0 .4-1.5.4.3.4 2.6.4.7.4 0 .4-1.4.4 1 .4 1.8.4.1.4.8.4-1.1.4-1 .4 1.9.4.5.4-1.1.4 1.8.4-1.6.4 2 .4-1 .4 4.4.4-1 .4-1.1.4-2 .4.4.4 3.3.4-1 .4 1.1.4-2.5.4.4.4 2.8.4-.2.4-1.3.4 1.1m.8 1.2l.4 1.9.4 1.9.4-1.6.4 0 .4-.8.4 3.1.4-3.7.4.9.4 1.9.4-1.8" stroke="#1028ff" stroke-width="1.9" fill="none"/>
<path d="M350.4 258.2l.4-6.6.4 1.9.4-2.9.4 2.3.4.5m.8.4h1m.2 2.7h1m.2-4.8l.4 2.3.4 4.5.4-5.9.4.3.4-2.6m1.6-10.1l.4-.7m.8.6h1m-.2 2.5l.4 2.3.4 3.6m1.2 4.7l.4 2.4.4 1.1m.8 1.9h1m-.2 2.5l.4 1 .4-8.3m1.2 2.2l.4 3.3m1.6-8.3h1m-.2-1.6l.4 3.1m.8-7h1m-.2-4.1l.4-2.1.4-4.2m.8-2.1l.4-.4m.8 8.3l.4.8.4 6.3.4-2.4.4 7.7.4-.7.4 5.2.4-5.2.4 1.2.4-.3.4-.2.4 4.5m.8 1.7l.4-1.5m.8-4.9h1m-.2 5.7l.4-.4m.8 3.5h1m.2-6l.4-.6.4-.2.4-2.8.4-8.7.4-2.7" stroke="#1028ff" stroke-width="1.0" fill="none"/>
<path d="M387.3 241.8l.3-1.3m.6-1.6h1m-.4 1.7h1m-.4-.5l.3.9.3 2.5m.9 0h1m-.4-2.2l.3.7.3-1.6m.6-2.5l.3 2.4.3 2.6.3-.2.3 1.2m.6-4.3l.3-1.4.3 1.8.3.5m.6 2.3l.3-3.2.3 2.6.3.5.3-4.8.3 2.5.3 3.3.3-.8.3-1.3.3-2.3.3.8m.6 3.8l.3-1.4.3-1.1.3.6.3 1.1.3-4.8.3 1.5.3 2 .3 2.3.3-.2.3-3.5.3 1.5.3-1.4m.9.9l.3-.4m.6-1.9h1m-.4 3.5h1m-.1-1.6l.3 3.8m.6-.7l.3-2.7.3-.2.3-.8m.6.1l.3-1.1.3 1.9.3 3.8.3-2.3m.6.3h1m-.4-.5l.3-2.3.3 5.8.3-3.4.3 2.7.3-5.3m.6.8l.3-.2.3 3 .3 1.5m.6.7h1m-.4-1h1m-.4-2.4h1m-.4.8h1m-.4-3.1l.3 5.6.3-3.2.3 3.9.3-.6.3-4.3m.6 3.6l.3-2.8.3.2.3.9m.6 2.4l.3-2.4.3 2.4.3 1.3m.9-4.1l.3 2.2.3 1 .3-.6m.6-2.4l.3 4.2.3-2.6.3 3.9.3-5.6.3 1.6.3-.5.3 4.7.3-1 .3-3.2m.6 3.2l.3-1.8.3-2.3.3-.7m.6 2.6l.3.8.3.5.3-1.3m.6 2.1l.3-1.4.3-.3.3 1.8.3-4.8.3 6.1.3-1.4m.6-1l.3 2.7.3-1.2.3-4.3.3 1.5.3 2.3.3 3.1.3-1.8m.6-.2l.3-1 .3-.5.3 1.3.3-4.6.3 6 .3-.8.3-1.8.3-.7m.6 2.3l.3-.2.3.1m.6-4.3l.3 2.9.3-.1m.6 1.2l.3-1.3.3 2.3.3.4.3 2.4.3-2.5m.6-1.3h1m-.4 2l.3.7.3-1.9.3.3.3 2.9.3-2.3.3.8.3-2.9.3 1m.6-1.3l.3 3.3.3 1.8m.9-2h1m-.4-.3l.3 2.1.3-1.8.3-2.1m.6 2l.3 4.9.3-3.2.3-1.4.3 1 .3 0" stroke="#1028ff" stroke-width="1.0" fill="none"/>
<path d="M51.3 226.3l.3 2.7.3-4.4.3 3.1.3.8.3-2.9.3-1.7m.6 2.8l.3.9m.6 1.3l.3 1.4.3-2.1.3-3.6m.6 3.6l.3-.4m.6.3l.3-1.2.3 1.6m.6 1l.3-1.7.3 3.1.3-1.8.3-.6.3-.3.3-2.5.3 2 .3.8.3 1.3m.6-.5l.3 0 .3-2.3.3 1.4.3-1.1m.6-2.7l.3 4.2.3 1 .3-.2.3-4.4m.6 4.2l.3-4.5m.6 4.4l.3-3.2.3 1.9.3-3.5.3.3m.9.3l.3-.5.3-2.6.3 4.2.3-3.5m.6-1.6l.3.4.3-2.3m.6 0h1m-.4-2.4l.3-1 .3-.6.3 1.5m.6-.3l.3-2.9" stroke="#80f020" stroke-width="1.0" fill="none"/>
<path d="M94.3 218.4h1m-.4-1.8h1m-.4 6.3l.3-1.5.3 4.5.3.4m.6 3.8l.3-5.4m.6 2.5l.3-1.3m.6 4.3l.3-3.7.3 2.8m.6.9l.3-4.1.3 3.7.3-1.1.3 3.1.3-2.4.3 4.1.3-5.9m.6.9h1m-.4 4.9h1m-.4-1.3l.3-1.4.3-2.8m.6 3.5l.3.9.3-1.6.3 1.4.3.2m.6-2.6l.3 2.6.3.9m.6 2.1l.3 0 .3-2.3.3 3.8.3-5.4.3-.1.3.7m.6 4.9l.3-3.2.3-.1m.6 3.4h1m-.1-2.1l.3 2 .3-2.7.3 3.2m.6-2.7l.3 1.4.3 2.9.3-4.1.3 3.2.3-1.4.3-.6m.6 1.5l.3-.3.3-.3m.6-2.1l.3.5m1.2 1.1l.3 1.8.3-2.7.3 1.5.3 2.1.3 1.6m.6-.8l.3.3.3-4.4m.6 0l.3 1.3.3 1.6.3-3.1.3 3.4.3-1.2m.9-1.2l.3-1.6.3 3.3.3-1.3.3 1 .3-1.7.3.4m.6-.6l.3 1 .3.1m.6 7.4l.3-7 .3-1.8.3 4.1.3-3.3.3.7.3 1 .3.8.3.1.3.4.3-.7.3 2.4.3-.5.3-2.5.3.6.3-2m.9 6.2l.3-4.8.3 4.2m.6-5.9l.3 1.6m.9.1l.3 3.4m.6-2.6l.3.4.3 3.7.3-2.7.3.3.3-3.3m.6 3.4l.3 2.5.3-4.6.3.4.3-.4.3.6.3 2.5.3-2.7m.6 1.6l.3-1.7m.9-.8l.3 4.8.3-.4.3-3.4m.6 4.9l.3-4.3m.6 2.4l.3-1.3m.6-.2h1m-.4-2.2l.3 3.1.3.3.3-2.8.3 3.4.3-2.6m1.2 3h1m.2.8l.3-1.7m.6 1l.3-1.2.3.1.3.5.3 1 .3-1.2.3-1.5m.6 2.1l.3 2 .3-4.5m.6.8l.3 2.2.3-1.5.3-4.7.3 7.6.3-3 .3-.7.3-.8.3.9.3-.4.3 2.2m.6.2l.3.9.3-2.2m.6 1.5l.3 1 .3.4.3-1.8m.6 2.3h1" stroke="#80f020" stroke-width="1.0" fill="none"/>
<path d="M164.5 271.6l.3-1.6.3-8 .3-2.8.3-.1.3 1.6.3-8 .3-4 .3-.5.3-5.2.3-5 .3-1 .3 2.2.3-8 .3-1.7.3 2m.6-3.5l.3-5.9m.6-1.9l.3-3.3.3.3m.6-1.2l.3-3.4.3-1.8.3.5m.6-1.3l.3-2.6.3-2.5m.6-4.1l.3 1.6m.9-2.3l.3.1.3.2m.6-5.4l.3 0 .3 0m.9-.4h1m-.1-5.7l.3 3.6m.6-6.6h1m-.4 3.4l.3-2.6.3-2.3m.6 2h1m-.4 1.5l.3-.4m.6-.6l.3-2.7m.6.9l.3-.5.3-3" stroke="#80f020" stroke-width="1.0" fill="none"/>
<path d="M185 183.1l.4 1.9.4-2.6.4-1.5.4-.3.4.2.4 1.3.4-.5.4-.6.4 1 .4.4.4-3.5.4 2.3.4 1.5.4-3.9.4-.1.4 1.1.4-.4.4-1 .4.6.4 2.2.4-.8.4-2 .4-1.1.4.9.4 1.7.4-1.1.4 0 .4 2 .4-1.1.4-.1.4.9.4 1.6.4-1.3.4.5.4-.6.4 1.9.4-3.4.4.2.4.9.4 3.2.4-.5.4-3.2.4.9.4 1.4.4-.6.4 1.2.4-1.7.4-1.3.4 2.9.4.9.4-3.4.4-.4.4 1.9.4-1.7.4 3 .4-1.9.4 2.5.4-1.3.4.7.4.7.4-1 .4-.9.4 2.5.4-2.9.4 3.7.4-2.4.4.2.4 1.2.4.1.4.2.4-2.3.4.8.4 1.6.4.1.4-.5.4 1.9.4-1.8m.8 1.8l.4-.9.4-.5.4 1.2.4-.3.4.3.4-1.7.4 1.7.4 1.5.4-2.2.4.6.4-.4.4 1.5.4-3.6.4 4.7.4-1.3.4-.8.4.7.4 1.1.4-.8.4.5.4.7.4-1.2.4.8.4 1 .4-1 .4-1.4.4 1.8.4 1.7.4-2.9.4 1.1.4 0 .4.7.4-1.5.4.6.4 2.5.4-1.5.4-1.5.4 1.8.4-.8.4 1.9.4-3.8.4 2.2.4 1.2.4-2.7.4.7.4 1.6.4-.4.4-.3.4.8.4-2 .4.8.4 3.2.4-2.8.4 1.4.4-.5.4 1.2.4-.5.4.1.4 1.1.4-1 .4-2.4.4 1.4.4 2.7.4-.4.4-1.5.4-1.6.4 1.2.4 3.5.4-1 .4.1.4-3.4.4.4.4 1.1.4-.9.4 1.9.4-1.4.4 2 .4-.7.4-.4.4 1.6.4-.1.4-.4m.8 0l.4-2.2.4 0 .4 1.6.4 1.1.4 2.1.4-1.6.4-1.6.4.7.4-.9.4 1.6.4 0 .4.1.4.5.4 1 .4-.4.4-2.2.4 2.6.4-2.2.4 1.8.4-.3.4 2 .4-2.1.4.1.4-.2.4 1.5.4-.6.4-.6.4 1.4.4 1.7.4-.6.4 0 .4-2.5.4.7.4.3.4-2.2.4 4.3.4-3.8.4 2.3.4-1.9.4 1.8.4.9.4-.3.4-1.6.4.3.4 2 .4-1.1.4.3.4 1.1.4-4.2.4 3.5.4 1.3.4.7.4-1.3.4-1.6.4 2.1.4 1.2.4-3 .4 0 .4.8.4-.3.4-1.9.4-.3.4 1.3.4.9.4 1.4.4-1.1.4 1 .4 1.5.4 2.1.4-2.5.4-2.2.4 2.5.4-1.2.4.5.4.8.4-.1.4-2.5.4.3.4 1.8.4.6.4 1.8.4-1.8.4-1.1.4-.1.4-.2.4-.6.4.1.4 1 .4.8.4-1 .4 1.1.4-.3.4.1.4-.1.4.9.4-.2.4-3.2.4 3.6.4-.1.4-.8.4 1 .4-1 .4 1.1.4-1.1.4 2 .4-.4.4-2.1.4 1 .4 1.8.4-.3.4-.3.4-1.4.4.6.4 1.1.4.2.4-.3.4-.9.4.8.4-.2.4-.8.4.2.4.4.4-.8.4 2.5.4.5.4.2.4-2 .4.1.4 1.3.4-.8.4.3.4.1.4-1.5.4 3.6.4-3.3.4-.1.4 3 .4-2.2.4 2.7.4-.8.4.1.4-.8.4-1.2.4.3.4 1.7.4 0 .4-1.2.4.3.4.5" stroke="#80f020" stroke-width="2.1" fill="none"/>
<path d="M310 205l.4.1.4-2.5.4 2.9m.8 1.4l.4-2.8.4.1.4.4.4 1.5.4-1.6.4 5 .4-3.7.4 3.4.4-2.8.4.1.4-.3.4.1m.8 3.3l.4-1.4.4-1.3.4 1.8.4-1.3.4-2.5.4 4.3.4-2.3.4 2.2.4 1.5.4-.2.4.7.4 3.2.4-.4.4 1.4.4-1.4.4.5.4 2.8.4-3 .4 1.9.4.2.4.7.4 1m.8 1.3l.4-1.9.4 2.5.4-1.8.4 3.6.4.4.4-1.3.4.1.4 1.2.4 1.4.4-2.5.4 1.2.4 3.4.4-1.2.4-1.1.4-.8.4 3.1.4-1.5.4 3.3.4.2.4 3.3.4-4.1.4 3.2.4-2.2.4.7.4 1.7m.8 3.8l.4-2.3.4-.5.4 4.9.4-4.1.4 1.1.4.7.4-.4.4 2.5.4 1.3.4-3.2.4 1.6.4.6.4-1 .4.6.4 1.8.4-.3.4 2.2.4 1.2.4-.5.4.6.4-1.3.4.9.4 1.9.4.7.4-.5.4 1.4.4-.7.4-.9.4 2.6.4-.6" stroke="#80f020" stroke-width="1.9" fill="none"/>
<path d="M350 244.5l.4-2.5.4 2.5.4 1 .4.2.4 5.6m.8-3.3l.4 2.3.4 1.1.4-5.6.4 4.7.4-4.2.4.8m.8 1.6l.4 4.7.4-5.7.4-3.9.4-4.2.4 5.3.4-1.4m3.2-3.3l.4-.4.4 3.9m.8 4.8l.4 2.7m.8-4h1m-.2 6.9l.4-1.6m1.6-3.7l.4.8.4-.4m.8.7l.4-.8m1.2-10h1m-.2 3.8l.4-5.3m.8.5l.4-3.9.4-7.5.4.8.4-4.2m1.2 9.7l.4 4.3m.8 8.4h1m.2 1.8l.4 2 .4-.1m.8.1l.4 1.9.4 1 .4-1.5.4.3m1.6-2l.4 1.4.4-.7.4 2.2.4-3m.8 4.9h1m-.2-8.1h1m-.2-6.2l.4-4.7" stroke="#80f020" stroke-width="1.0" fill="none"/>
<path d="M387 233.5l.3-1.3.3 1.2.3-.7.3 1.8m.6 5.2l.3-8.3.3 2.8m.6 3.1l.3.6m1.5-.7h1m-.4-4.1l.3 1.1.3-2.4.3 2.6m.6 1.9l.3-1.8m.6 1.2l.3-.3m.6 2.8l.3-4.6.3 5.1.3-1.1.3 1 .3-1.5.3-4.1m.6-1.1h1m-.1 6.9h1m-.4-1.9l.3 1 .3-3m.6 2.2l.3-2.2.3.8.3.6.3 1.6.3 1.6.3-3.2m.6 4l.3 2.6.3-2.5.3-3 .3-1 .3 2 .3-.7.3-2m.6 6.3l.3-6.2m.6.6l.3-1.3.3 3.9.3-4.2.3 4 .3-.5m.6-3.4h1m-.4 3.3l.3 1.2.3-.9.3-1.8.3 3.3.3.5.3 0 .3-3.9.3 2.4m.6-1.2l.3 1.7m.6 3.9l.3-2.9.3-3.7.3.4.3 1 .3-.1m.6.1l.3-2.6.3 1.8m.6 1.1h1m-.4 3.1l.3-2.3.3.6m.9-1.7h1m-.4 1.9l.3 2.1.3-1.3.3-1.9.3-1.8.3 1.5m.6 3.5l.3-3.6m1.2-.6l.3 3.2m.6-.8l.3-.7m.6 1.3l.3-2 .3 2.9m.6-1.2h1m-.4-1.8h1m-.4 4.9h1m-.4-4.1l.3.1m.9 1.6l.3-2.7m.6-.3l.3 3.4m.6-1.4h1m-.4-1h1m-.4 6h1m-.4-5.7h1m-.4 2.7l.3 1.9m.6-.9h1m-.1-1h1m-.4 1.6l.3.1.3-4.2m.9 2.3l.3-.9.3 3.4.3.8m.6-2.9l.3.9.3.5.3-.2m.6 1.7l.3-5.2.3 3 .3-2.7.3 4.9.3-3.8m.6 2.8h1m-.4.7l.3-1.2.3 4.6.3-6 .3.8.3 2.7.3-.7.3.7m.6 1.1l.3-1.1.3 1.9.3-5 .3 3.2.3-.9m.9 2.2l.3-4 .3 4.3.3-.6.3-4.4.3 4.3.3-4.4.3 4.9m.6-1.1l.3-.3.3-2.5.3-.4.3 4.6" stroke="#80f020" stroke-width="1.0" fill="none"/>
<path d="M51.6 221.7l.3-1.8.3 1.2m.9-2.1h1m-.4-1l.3 3 .3.7.3-1.2m.6-3.1l.3 3 .3 2 .3-1.8.3-2.1.3 2.4m.6-2.1l.3 4.4.3-3.5.3-.9.3 2.2.3-1.4.3.9.3.8.3-1.2.3 1.9.3-.5.3 1.8.3-4.2.3 2.1.3.4.3 0 .3-4.5m.6 4.3l.3.3.3-1.2.3.2.3 1.8m.6-4.1l.3 4.1m.6-3.4l.3-1.2.3 4.2.3-3.6.3-1.2.3 3.8m.6-3l.3 1.3.3-2m.6.4h1m-.4-2.2h1m-.4-2.7l.3 4.2.3-3.5m.6-1.6l.3 1.3.3-2.7m.6 1.8l.3-.8.3-5.9" stroke="#f0402a" stroke-width="1.0" fill="none"/>
<path d="M94 210.2l.3 2.3.3-.2.3.9.3-1.3.3 4.5m.6-3.9l.3 8.3m.6-3l.3 2.1.3-.7.3.6.3 3.1m.6-1.4l.3-.9.3.5.3-1.1.3 1.8.3-1.1.3 3.7.3-2.4.3 1.9m.6.8l.3-3.1m.9 4.4l.3-7.3.3 3.2.3 1.6.3-1 .3-2.5.3 1.3.3 3.4.3-3.6.3 4.5.3 1.1.3.5.3-1.9.3-.4m.6 5.4h1m-.1-4.1h1m-.1 1.4l.3-2.6m.6 3.4l.3-3.4.3 2.4.3-2.1.3.8.3 3.9m.6-2l.3-3.6m.6 2l.3 2.2m.9.6l.3-3.7.3 3.5m.6 2l.3-1.5m.6 5.2h1m-.4-6.1h1m-.4 1.5l.3 2.1.3-4.3.3 5.7.3-4.5m.6-.2l.3 1 .3 4.2.3-3.2.3-2.3.3 1.8.3.8.3 1.4.3-2.4.3 1 .3 5.2.3-5.7.3.5.3-2.4.3 4.1.3-2.6.3 4.4.3-1.2.3-.7.3-2.4.3.3m.6.9l.3-.7.3-.3.3 1.2.3-.2.3-.6.3 2.5.3.3.3-3 .3 5.1m.6-1.6l.3 1.3.3-6.2.3 3.7.3.8.3.6.3-.7.3.4.3-4.7.3 1.1.3 2.9.3-4.8.3 2.8.3.7m.6 2.2l.3-1.2.3-2 .3-.2m.6 3h1m-.4-.7h1m-.1-.2l.3 1.5.3-3.5m.6 3.5l.3 3.2m.9-6.5l.3.2.3-.9.3-.3m.6 3.4l.3.7.3-3.5.3-.8.3.5.3 6.4.3-.8.3-4.6m.9.8l.3.7.3 3 .3-.4.3.4.3-1 .3-.4.3.8.3-1.2.3 3.5.3-2.7m.6-.5h1m-.4.2l.3-.5.3-.8.3 3.1.3 2.2.3-3.1m.9-3.2l.3 4 .3-.1.3-2.5.3 1.7.3-1.7.3 4.3.3-2.4.3.7m.6-4.9l.3 5 .3-.3m.9 2l.3-3.5.3.1.3 4.5.3-1.3.3-.9.3.6m1.2-.7l.3-1.4.3-2.1.3 2.7.3.9.3-.7.3 1.5.3-.6.3 1.3.3-1.5.3-.6.3 1.5.3.6.3-2.4" stroke="#f0402a" stroke-width="1.0" fill="none"/>
<path d="M164.5 262.3h1m-.4-7.6l.3.1.3-2.1.3-6.8.3.6.3-4.1m.6-8.5l.3-2.3.3 1.2.3-8.1.3 2.3.3-.3.3-6 .3 4.2.3-1.9.3-6.8.3.3.3-1.5.3-2.2.3-1.4m1.2-4.7l.3-1m.9-4.4l.3-2 .3 2.1m.6-4.3l.3-.7.3-.3.3-3.5.3.4.3.8.3.6.3-2.1.3-1m.6-.9l.3-5.9.3 6 .3 0m.6-4.7l.3 3.8.3-4.4.3 3.3m.9-4.1l.3-1.3.3.5.3.9.3-1.8.3-.8.3.5.3.5.3-1.1.3.8.3-.2.3-.9.3.5" stroke="#f0402a" stroke-width="1.0" fill="none"/>
<path d="M185 179.1l.4.5.4.2m.8 2.3l.4-3.5m.8-.4l.4-.4.4-.3.4.2.4-.5.4.9.4-.5.4-1.8.4.9.4.3.4-.9.4-.1.4 0 .4.7.4-.4.4-.8.4.6.4 1.6.4-2.5.4 2 .4-1.1.4 4.9.4-3.7.4-.6.4-.1.4-1.7.4 1.3.4 3.1.4-1.9.4-.7.4.4.4.1.4-1.1.4 1.3.4.5.4-2.3.4 1.6.4-3 .4 1.4m.8 3.6l.4.8.4-3.7.4 1.5.4-.2.4 1.7.4-.8.4-.2.4.6.4-1.2.4 1.8.4-1.5.4 1.8.4-1 .4.1.4-1.6m.8-.4l.4 2.5.4-3 .4 4.2.4-1.9.4-1.2.4 2.1.4-1.8.4 1.5.4-.3.4 1.8.4-.2.4.1.4-1.6.4 2.1.4-1.6.4.3.4.5.4-.2.4-1.8.4 2.4.4-2.6.4 2.5.4-.5.4.2.4-1.3.4 2.5.4-1.3.4 1.3.4-1.9.4.1.4 1 .4 1.2.4-2.7.4.9.4.2.4.3.4-.1.4 1.9.4-.4.4-.8.4 1.1.4.3.4-1.9.4-.1.4 1.7.4 1.8m.8-3.1l.4 1.7.4-1.8.4 2 .4-.7.4-1.7.4 1 .4 1.1.4-1.4.4 1.8.4-.3.4-.7.4.9.4-.8.4.8.4-1.4.4 2.9.4-1.9.4 1.7.4 1.3.4-.6.4-1.9.4.3.4-.2.4.5.4-1.3.4-1.1.4 2.6.4-.3.4 1.9.4.4.4-3.8.4.6.4 2.1.4.6.4-1.2.4 0 .4-2.2.4 4.9.4-3.5.4 1.6.4-.2.4-1.4.4 2.2.4.7.4-1.7.4.3.4.7.4.4.4-.1.4-2 .4 0 .4.5.4-2.5.4 1.7.4 1.5.4-.5.4-.2.4 2.1.4-.6.4.7.4-1.1.4-.3.4-.5.4 1.4.4-2.4.4 1.2.4 1.8.4.4.4-1 .4-1.3.4 2.2m.8-.7l.4-1 .4 3.4.4-.3.4-2.8.4-.3.4 1.4.4.9.4.8.4-1.5.4-1.4.4 1.9.4.1.4-2.2.4 1.7.4 0 .4-.8.4 1.5.4 1.1.4 0 .4-2.2.4.4.4 1.6.4-1.2.4.1.4 3.1.4-5.6.4 2.3.4-.2.4 1 .4 2.2.4-2.1.4-.2.4.6.4-.5.4.9.4 2.7.4-3.8.4.6.4.2.4-2.3.4 3.3.4-.8.4-2.2.4 2.1.4.6.4-1.2.4 2.4.4-1.9.4-1 .4 2.8.4-1.1.4.4.4-2 .4.3.4.5.4 1.1.4.1.4 1.8.4.3.4-1.6.4-.2.4 2.4.4-2.1.4 1.2.4-1.8.4.6.4-.2.4-.4.4 1.3.4-1.3.4.9.4.7.4 2m.8-2.3l.4.8.4-1.1.4 1.5.4-.4.4 0 .4-1 .4.3.4.1.4-.9.4 1.5.4-1.4.4.2.4-.5.4 3 .4-1.9.4-.3.4 2.1.4-1.4.4.9.4-.5.4.7.4-.2.4-2.7.4 4.4.4-.5.4-2.9.4 2.9.4-1.3.4.5.4 1.4.4-.2.4 0 .4 1.3.4-1 .4-2 .4-.7.4 2.5.4-2.9.4 1.7.4 0 .4-.3.4 2.5.4-1.2.4-.6.4 1.4.4-1.5.4 2 .4 1.1.4-2.4.4.2.4 1.8.4-3.5" stroke="#f0402a" stroke-width="2.1" fill="none"/>
<path d="M310 195.4l.4-.1.4-1.1.4.5.4.1.4 1.8m.8-1.3l.4.8.4-.2.4 2.8.4-.1.4-2.4.4 1 .4.9.4-2.7.4 2 .4 1.2m.8.5l.4 0 .4-.7.4 2.5.4-2.6.4 2.1.4-.8.4 2.5.4-2.2.4 2.6.4.5.4 1.3.4 1.2.4-3.9m.8 1.7l.4 3.5.4 1 .4-1.8.4 1.3.4 2.1.4-1.1.4.1.4-1.7.4 1.9.4 3 .4-3 .4 3 .4.5.4.2.4 1.7.4-1.7.4 3.6.4-2.1.4 2.6.4-1.8.4 1.8.4-.3.4 3.4.4-3.4.4 1.1.4 3.6.4-.4.4-.7.4.2.4-1 .4 1.9.4 1.4.4 1.7.4.1.4 1.2.4-1 .4-1.1.4 1 .4 3.2.4-1.6.4 2.4.4-3.9.4 2.1.4 0 .4 2 .4-1 .4-.3.4 2.3.4-2.8.4 3 .4 1.9.4-1.8.4 2.1.4-.7.4 1.2.4 1.4.4.8.4.4.4-1.2.4 3.7.4-1.2.4-.9.4 3.3.4-2 .4 3.9.4-1.2" stroke="#f0402a" stroke-width="1.9" fill="none"/>
<path d="M350 233.5h1m-.2 7.9l.4-3.5.4 3.1.4 1.8m.8 5.5h1m1 2.4l.4-9.9.4 1.7m1.6-7.3l.4 1.4.4-1.1.4-.5.4-1.3.4-4.9.4 1.7.4-6.9m.8.8l.4 2m.8-.8l.4 5.6m.8 12.7l.4-.6.4-3 .4 3.5.4-4.6m.8 9.7l.4-1.3.4 3.2m.8-3.7l.4-3.2.4-.1.4-.7m.8 1.4h1m.2-6.8l.4-1.2.4-4.8.4 2.4m1.2-8.8h1m1 1.1l.4 1.3.4-2.1m.8 12l.4 3.4.4-.4.4 4m2-.2l.4.8m.8-1.2l.4 1.8.4-6 .4 4.3.4-1.7.4 4.1.4 1 .4-3m1.2.1h1m.6-9l.4-3.3" stroke="#f0402a" stroke-width="1.0" fill="none"/>
<path d="M387.9 232.1l.3 2 .3-3.1.3-1.6m.6 3.2l.3.2.3-4.9.3 3.2.3-2 .3.6.3 1.4.3.6.3-1.5m.6.2l.3-1.5.3 5.3.3-6.3.3 4.2.3-.9.3-.2.3-1.9.3 1.1.3.3.3-.4m1.2 2.1l.3.5.3-2.3.3 2.4.3-1.2.3-1.1.3 2 .3 1.2m.6-5.5l.3 5 .3.5.3-4 .3 1.9.3 1.2.3-5.4m.6 6l.3.2.3 1.3.3-4.8.3 3.9.3 2.5.3-8.5.3 3.6.3 2 .3-2.6.3-2.1.3 4.1.3-.2.3-1.7.3 1.9.3 1.3.3.2.3-1 .3-3.1.3 1.8.3-3.7.3 2.3.3 2.4.3.7m.9-4.6l.3 1.3.3.3.3 1.1.3 0m.6 3.2l.3-3.9.3.8.3.2m.6.1l.3-2.8.3 6.1m.6-.9l.3-1 .3.8m.6-4.6l.3 4 .3-.1.3-2.5.3-1.8.3 6.5.3-4 .3 1.5m.6 3.7h1m-.4-1.1l.3-6.8.3 6.6.3-2.6m.6 1.1l.3-.2.3-2.8m.9 4.2l.3-3.5.3 1.3.3-.3m.9.2l.3 4.6.3-3.6.3 3.2.3-.4m.6-5l.3 4 .3 1 .3 1 .3-1.4.3.2.3-2m.6 7.5l.3-3.9.3-4.6.3 3.2.3.4.3-4.2m.9 6.8h1m-.1-3.5h1m-.4 1.2l.3 1.3.3-3.6m.6 1l.3-.2.3.5.3 4.6.3-.1.3-.4.3-5.9.3 3.8m.6.4h1m-.4.5l.3-1.6.3-.2.3 1.4.3.5.3-1.2.3.4m.6.1l.3 1.5.3-1.1.3-.4m.9-1.7l.3 3.6.3-1.9.3 2.3.3.6.3-2.5.3-5.2m.9 4.3l.3 2.4.3 3.3.3-2.4m.9-1.4l.3 2.1.3-.9.3-4.3m.6 7.2h1m-.4-1.7l.3-.4.3-1.4m.6 2.6l.3-3.1.3.3.3 2.7.3.3m.9-4.1l.3 4.7.3-5 .3 2.3.3.4.3 3.8" stroke="#f0402a" stroke-width="1.0" fill="none"/>
<path d="M51 216l.3-1 .3-1.4.3 4m.6-2.8h1m-.4-3.3l.3 1.2m.9 5l.3-1.6m.6 1.5l.3-2.8.3.4m.6-1.1l.3-.6m.6 4.7l.3 2 .3-1.4m.6-3.3l.3-.9.3 1.9.3 2.1.3-2.1.3.1.3-6.4m.6 4.1l.3 1.9.3 1.3.3-.5.3 1.2.3 1.5.3-7.8.3 1.3.3 6.3.3-2.5m.6-1.8h1m-.4 2.3h1m-.4-2.4l.3-2.8.3 5.5m.6-4.2l.3-1.9.3 2.5.3 1.7.3 2.7.3-1.1m.6-5.6l.3-1.6.3 2.3m.6-.7l.3-1 .3-.3.3-3.3.3 3.7.3-3.5.3-2.7.3 1.6.3-.3m.9-.1l.3 1.5" stroke="#000000" stroke-width="1.0" fill="none"/>
<path d="M94.3 210.2h1m-.4 1.6l.3 2.6.3-2.6.3.6m.6 2.2h1m-.4-.5l.3 3.8.3-1.6.3 3.3.3-2.1.3-.5.3 1.9.3-3 .3 3.6.3-2 .3 0 .3 1.4.3-1.6.3-1.2.3.6.3 3 .3-.3.3-.4.3 1.5.3-3.1.3 1 .3 4.3.3-5.1.3 4.6.3-3 .3 1.8.3-.5.3-.8.3.8m.9-1.7l.3 3.7.3-2.4.3.6.3.1.3-.3.3-2.7.3 3.6.3-.6m.6 0l.3 1.8.3 3.1.3-4.4.3 3.8.3-3.4m.6.6l.3 2.2m.6-2l.3-2.2m.6.3h1m-.4 6.8l.3-2.9.3-.2.3.2.3.4m.6.4l.3-.9.3-.2.3 1.8.3.4.3-.4.3 1.3.3 2 .3-.2.3-3.1m.6 2.3l.3-1.9.3 1.5.3-2.2.3 2.5.3-3.8m.6-.4l.3 6.7.3-4.4m.6 3.1l.3-.5.3.8.3-4.9.3 3 .3 1.9.3-2.9.3 1.2.3-1.1.3-.2.3 3.4m.6-2.6l.3 1.2m.6.6l.3-5.5.3 6.2.3-4.6.3 2 .3-.2.3 1.6.3-1.2.3-.4.3 2.2.3 2.8.3-5.3.3 0 .3.2m.6-1.2l.3 1.5.3 2.4.3-2.4m.6.9l.3-1.3.3 7 .3-2.3.3-2.9.3-3.4m.9 1.8l.3-2.5.3 3.3m.9-1.4l.3 3.3.3-2.4.3-2.7.3 2.5m.6 4.4l.3-4.5.3 1.9.3 1.5.3.8.3-2.7.3 1.5.3-1.4.3-2.6.3 5.4.3-1.9.3 1 .3-1.2.3-1.3.3.8.3 1.7.3-3.1.3 5.6.3 1.5.3-8.9.3 6.3m.6-.5l.3-.8m1.2 2.7l.3-2.2.3-3.4.3 2.5.3.4.3-1.1.3-1.2.3 6.3.3-3.9.3.1m.6 1.2l.3-1.2m.9-.9h1m-.4 3.6l.3-.1.3-1.5.3.9.3-2 .3.6.3.1.3-4.1.3 5.7.3.1.3-3.3.3.8.3 1.7m.6-.5l.3-.9.3 1.8.3-.5.3-2.2.3 1.4.3-.1m.6-1.7l.3 1 .3.9m.6 5.5l.3-5 .3 2.5.3-.5.3 1.1.3.9m.6-5.2l.3 1.2" stroke="#000000" stroke-width="1.0" fill="none"/>
<path d="M164.5 256.7l.3-8.9.3 4.2.3-7.4.3-1.5.3 3.4.3-9.7m.6-6l.3-.3.3-.7.3.3.3-10.3.3 3.1.3-.6.3-1.3.3-5.3.3-.3.3 2 .3-4.4.3 2.1.3-8.1.3-.4.3.1.3-3.6.3 2 .3-4.9.3 1.9.3-4.8.3.3.3 1.2.3-.3m.6-6.3l.3 3.1.3-4m.6 3.2l.3-2.1.3-5.1.3 4.8.3-1 .3-4.1.3-.4m.6.4l.3-.4m.6-.8l.3 4.1m.6-6.5h1m-.4-1.8l.3 2.7.3-5.2.3 3.8.3-3.4m.6 2.4l.3-1.5.3-.6.3-1.5.3.3.3-1.5.3 3.7.3-.2.3-3.2" stroke="#000000" stroke-width="1.0" fill="none"/>
<path d="M185 178.1l.4-1.3.4-1.8.4 2.7.4-.7.4-1 .4 2.3.4-2.8.4 1.4.4-2.2.4-3.7.4 2 .4-2.2.4 3 .4 1.6.4-3.8.4 2.9.4-1.4.4 1.4.4-.8.4-1.9.4 2 .4-.7.4 1.2.4 1.3.4-2.6.4 2.3.4-2.1.4.9.4-.5.4-1 .4 1m.8.6l.4-2 .4.2.4 2.3.4-.4.4.1.4 0 .4.7.4-.7.4.6.4-2.1.4 1.7.4-1.6.4-.6.4 1.3.4 1.2.4-.8.4 2.3.4-1.4.4-.3.4-.3.4-1.8.4 1.8.4 0 .4 2.2.4-3.2.4.9.4-.7.4 1.1.4-2.3.4 2.6.4-.4.4.3.4 3.1.4-3.4.4.8.4-.6.4 1.4.4 1.5.4-.7.4-1.6.4-2 .4 2.2.4-2.6.4 1 .4.4.4-.6.4 1.4.4-.4.4-.5.4 1.5.4-1.4.4 2.6.4-.8.4-1.3.4 1.1.4-1.4.4.1.4 2.2m.8-.7l.4 1.9.4-5.2.4 5.9.4-5.5.4-.3.4.2.4 1.2.4.8.4-1.7.4 2.2.4 1.3.4-1.9.4 1.1.4.7.4 1.4.4-2.2.4 1 .4-.2.4-.6.4-.4.4.9.4.5.4-2.6.4 1.3.4.9.4 0 .4.1.4 1.7.4-.7.4-2.9.4 3.6.4-2.9.4-.1.4 2.5.4-1.8.4-1.7.4 3 .4-.2.4.2.4-2.5.4 2.9.4-1.8.4 2 .4-2.7.4.4.4-1.3.4 1.6.4 2.3.4-1 .4-1 .4 2.5.4-1.4.4.7.4-.5.4-.5.4.3.4.5.4.9.4-.7.4.4.4-2.5.4-.9.4 2.8.4-.2.4.4.4-1.8.4 1.5.4-1.5.4 1.5.4-.1.4-.1.4.6.4-1 .4.7.4.9.4 1.1m.8-.8l.4-.2.4 1.4.4.6.4-3.5m.8 1.3l.4 1.7.4-5.1.4 2.3.4-1.3.4 4 .4-1.4.4.6.4-.3.4-.1.4.2.4-1 .4-2.1.4 3.1.4-.5.4-.6.4 0 .4 2.5.4-2.6.4-.3.4 2.2.4 1.1.4-3.5.4.4.4 0 .4 1.8.4.3.4 1.1.4-1.8.4-.2.4-.4.4 2.2.4-2.1.4-.3.4.8.4.3.4.6.4-1.3.4 3.1.4.3.4-3.9.4 1.7.4-1.4.4.9.4-1.1.4 1.2.4.8.4-.1.4-1.9.4-.8.4.2.4 4 .4-1.8.4.4.4 1.8.4-3.1.4 1.9.4-1.4.4 1.2.4-2.6.4 1.9.4.4.4.3.4-1.9.4 1.5.4 1.5.4-1.2.4 1.3.4-.2.4-.5.4-.8.4.6.4-1.2.4 2.1.4-.4.4 1.1.4 1.4.4-1.7.4-.3.4-.5.4.9.4.7.4-2.1.4-1.2.4-.1.4 3.1.4-.6.4.1.4-2.8.4 1.5.4-1.3.4.6.4.8.4-.1.4 2.9.4-3.6.4.9.4-.1m.8 1.9l.4-1.9.4-1 .4 1.6.4 1.1.4-1.9.4 2.7.4-2.5.4.5.4.3.4 3.1.4-1.4.4-.5.4-1.8.4 0 .4.5.4 3 .4-.3.4-1.5.4-1 .4-1.3.4 1.7.4 1.3.4.1.4-.2.4-1.4.4 1.6.4-.8.4 1.4.4-.8.4.7.4-.5.4-.9.4 2.3.4-2.6.4 2.4.4-1.3" stroke="#000000" stroke-width="2.1" fill="none"/>
<path d="M310 184.2l.4.4.4-.4.4 1.3.4 1.3.4-2.3.4 3.8.4 0 .4-.5.4-.1.4 3 .4-5.1.4 1 .4 4.2.4-4.8.4 2.5.4-.6.4-.9.4.2.4 1.3.4.9.4.5.4.4.4-.6m.8 1.2l.4-1.2m.8 3.4l.4-3.8.4 4.6.4 1.7.4-3.2.4-.9.4 2.7.4 2.4.4-1.3.4 3.6.4 0 .4-1.8.4 3.3m.8-.7l.4 1.7.4 2.3.4-.2.4 1.6.4-3.8.4 7.7.4-5.6.4 2.3.4 2.6.4-1 .4 1.7.4-3.1.4.8.4 1.6.4.5.4 1.6.4 0 .4-.7.4 2.7.4-1.8.4 1.6.4 2.1.4-1.3.4 1.9.4 1.6.4 1.8.4.2.4 0 .4 0 .4-2.1.4 1.2.4.5.4 1.1.4 1.1.4-.6.4 1.3.4 2.9.4-1.8.4-1.7.4 3.1.4.7.4.3.4 4.3m.8.5l.4-3 .4 2.7.4-.2.4 0 .4-.6.4 2.2.4-2.7.4 4.9.4 3.4.4-1.4.4-4.9.4 4 .4-.9" stroke="#000000" stroke-width="1.9" fill="none"/>
<path d="M350 234.5l.4 3 .4.1m1.2-.3l.4 5.4.4-8.6.4 7.8.4-1.2.4-2.3.4.9.4.8.4-5.9m.8 3.5l.4-4.6.4 1.8.4 2.5m1.2-11.5l.4-2.7.4 4.8.4-5.3m.8-4.5h1m1 10.6l.4 7.5.4 2 .4-3.8.4 1.5.4.9m.8 4.3l.4-1.6.4 4.4.4-4.1.4 1.4.4-1.1.4-2.6.4 4 .4-2.9.4-6.6.4 4.8.4 3.7m.8-4.2l.4-3.8m.8-4.9l.4-4.9.4-3.1.4 2.8m.8-9.8l.4 1.1m.8 2.4h1m-.2 7.2l.4 5.5.4 3.1.4-1.5m1.2 6.7h1m-.2 3.1l.4.1m.8 2.5l.4-5.4.4 2.8m.8 3.9l.4-4.7.4 1.5m.8-1l.4 2.4.4-5.4.4 3.5.4-3.7m.8-1.7l.4-1.3.4.2.4-7.8" stroke="#000000" stroke-width="1.0" fill="none"/>
<path d="M387 225.9l.3 3.1.3-2.4.3-3.7.3 4.2m.9 3.3l.3-2.3m.6-2.9l.3.9.3.4.3 5 .3-4.6.3 1.4.3-4.1.3 2.7.3 1.3.3-.5m.6 1.2l.3.2.3-3.3m.6 3.5l.3.6.3-4.2.3 4 .3-4 .3 2.4m.6-2.8l.3 3.3.3-.4.3-1.7.3 3.7.3-3.3.3.6.3-.8.3 3.1.3.2m.9-2.6l.3 4.7.3-4.1.3 2.5m.6.4l.3-5.1.3 1.5.3.6.3 3.2.3-3.1m.6 2l.3 0 .3-.3.3-1.4.3 4.2.3-2.4.3 2.7m.6-6.2l.3 6.2.3-5.1.3 2.6.3-.9.3.5.3-.3.3-1.5m.6 2.7l.3-1.8.3 4.8.3-3.2.3 2.7m.9-3.8l.3-.7.3 1.4.3.2m.6-2.2l.3 1.4.3 2.8.3-1.7.3.6m.6-.5h1m-.1.3l.3 1.3m.6 1.3l.3-3.1.3 1.4m.6-4.2l.3 5 .3-2.1.3 2.3m.6-4.3h1m-.4 2.6h1m-.4.1l.3 1.7m.6 0l.3-1.1.3-1m.6-2.8l.3 5.6.3 1.1.3-4.1.3.2.3.3m.6 2l.3-.6.3.5.3-3.1.3 3.1.3 0 .3 1.4.3-2.3m.6 2l.3 5 .3-6.4m.6-.5l.3 2 .3-1.9.3 4.7.3-2.4.3.2.3 1.8.3.6.3-3.8.3 1.9.3-1.4.3 3.4.3-6.4.3 8.6.3-4.7.3-3.6.3 4.8.3-2.2.3 1.8.3.3.3 2 .3-5.7m.6 6.1l.3-4.8.3 4.1.3.3.3-2.6.3-2.7.3 4.2.3-1.2m.6.7l.3 1.9.3-.6.3-.2.3-2.8.3 1.1.3 1.8.3-.3m.6 1.8l.3-1.3.3 1.4.3-1.2.3.7.3-1.7.3-1.9.3 4.8.3.1m.6-3.1l.3 3.8.3-1.9.3.2m.9-1.3l.3 2.1.3-2 .3 1.4m.6-2.4l.3 2.8.3.2m.6-5.9l.3 8m.6-3.8l.3 5.7.3-3.6.3 1.5m.6-5.9l.3 7.1.3-4.6m.6 2.2l.3-1.4" stroke="#000000" stroke-width="1.0" fill="none"/>
<path d="M85.2 322.5h1M84.3 193.5h1M84.1 252h1M85.5 307.3h1M86.8 266.7h1M86.1 218.2h1M86.1 320.9h1M86.6 255.6h1M85.5 328.2h1M85.5 294.7h1M86.3 210.3h1M87.9 199.4h1M84.3 312h1M87.8 291h1M86.1 322.6h1M87.8 210.9h1M85 296h1M85.7 271.1h1M84.5 302.3h1M84.1 183.7h1M86 285.1h1M86.9 279.3h1M86.9 243.7h1M87.2 232.9h1M84.3 313.7h1M86.6 236.1h1M86.6 287.3h1M84.1 299.4h1M84.5 260.6h1M84.8 212h1M86.6 324.3h1M86 235.8h1M88.1 273.4h1M87.5 191.1h1M87.1 287.6h1M87.6 182.1h1M84.2 225h1M86.8 205.5h1" stroke="#80f020" stroke-width="1.1"/>
<path d="M87.2 286.6h1M84.8 212.3h1M86.9 309.8h1M87.4 200.6h1M87.2 235.1h1M86.9 199.9h1M86.4 292.4h1M84.4 197.9h1M84.4 200.1h1M86.6 292.7h1M85.8 269.6h1M87.1 190.4h1M88.1 300.1h1M85.2 228.1h1M86.5 223.6h1M85.7 194.6h1M84.9 315.5h1M85.9 271.1h1M86.2 186.6h1M84.9 221.2h1M84.1 245.3h1M87.5 259.2h1M84.8 308.6h1M86.2 273.5h1M84.9 214.1h1M87.9 247.6h1M88 184.6h1M84.5 209.3h1M87.5 250.8h1M86.2 231.6h1M87.9 230.7h1M87.1 199.7h1M86.5 280.6h1M86.8 247.8h1M86.7 274h1M86.4 323.6h1M86.3 302.4h1M85.8 262.6h1M84.8 318.1h1" stroke="#dd38d8" stroke-width="1.1"/>
<path d="M87.4 311.4h1M85 249.4h1M88.1 227.8h1M86.6 287.8h1M84.7 277.4h1M87.2 192.1h1M84.5 326.6h1M87.7 327.7h1M87.2 281.4h1M85.2 208.7h1M84.1 260.2h1M85.3 291.6h1M84.8 310.5h1M87.4 244.4h1M84.3 198.2h1M86.2 306.9h1M86.8 264.2h1M87.7 211.6h1M86.5 243.2h1M87.1 270.2h1M87.7 283.1h1M84.7 293.5h1M85.7 166.8h1M86.2 276.6h1M86.1 322.9h1M87.4 225.6h1M84.7 326.7h1M85.8 270.7h1M87.4 315.9h1M84.9 178h1M87.6 309.3h1M86 288.1h1M83.9 216.2h1M86.9 274.3h1M86.3 255.1h1M84.2 234.9h1M86.6 276h1M85.4 223.7h1M86.1 193.4h1M84.8 236h1M87.1 191.2h1M86.4 293h1M86.6 275.9h1" stroke="#000000" stroke-width="1.1"/>
<path d="M84.6 170.1h1M87.9 184.5h1M84.9 317.4h1M85.3 249.7h1M88.1 219.2h1M87.6 230.3h1M84.9 282.6h1M86.5 176.2h1M86.8 229.2h1M87.1 320.4h1M87.2 220.5h1M86 188.1h1M86.5 176.5h1M84.3 201.7h1M83.9 252.3h1M88.1 247.8h1M87.4 312.9h1M86.6 246h1M87.2 172.8h1M87.5 210.3h1M85.5 211.9h1M86.5 289.7h1M84.7 237.7h1M85.2 279.9h1M86.5 278.1h1M86.8 261h1M84.9 308.6h1M86.8 305.3h1M86.2 261.3h1M87.2 194.5h1M87.4 326.9h1M86.8 192.8h1M86.5 257.4h1M86.7 265.3h1M85.1 282.4h1M85.6 255.5h1M85.8 224.4h1M84.8 234.1h1M86.5 294.2h1M85.7 186.3h1M84.9 274.2h1M87.7 166h1" stroke="#8a3ae0" stroke-width="1.1"/>
<path d="M86.7 212h1M87.9 228.3h1M84.5 196.6h1M86.2 290.6h1M85.7 320.7h1M85.1 311.5h1M84.6 321.3h1M87.8 207.1h1M85 329.4h1M86.2 276.2h1M85.8 182.3h1M84.6 300.7h1M85.6 322.8h1M84.5 215.1h1M85.9 284h1M87.4 298.4h1M88.2 224.3h1M84.3 210.8h1M85.3 267.1h1M86.4 231.7h1M87.7 283.7h1M87.2 303.1h1M87.9 298.5h1M87.1 181.1h1M83.8 248.7h1M85.3 228.7h1M88 258.1h1M87.3 246.6h1M85.1 194.3h1M85.6 246.2h1M86.3 188.4h1M84.4 313.6h1M84.4 210.5h1M85 254.2h1M84.6 266.3h1M87.8 325.8h1M86 318.8h1M87.4 255.6h1M86.7 312.2h1M83.9 211.6h1M87 218.7h1M85.7 277.1h1M87.6 318.8h1M86.2 307.7h1M86.6 290.7h1M84 270.8h1M87 261.3h1" stroke="#b0c030" stroke-width="1.1"/>
<path d="M85.4 198.8h1M84.2 228.7h1M84.2 330h1M87.6 310.6h1M85.3 308.7h1M84 291.1h1M86 223.4h1M86.7 231.2h1M85 317.3h1M87.8 301.4h1M85 233.3h1M85.1 231.6h1M85.9 318.9h1M87.4 203.8h1M87.1 230.2h1M87.9 184.4h1M84.9 180.2h1M87.5 212.5h1M84.9 167.2h1M83.9 288.9h1M84.3 313.6h1M87.2 226.2h1M85.7 271.8h1M86.9 234.7h1M87.7 219.7h1M85 245.7h1M85.5 275h1M87.5 177.3h1M86.4 330h1M86.2 310.4h1M85.4 170.1h1M86 172.7h1M85 235h1M85.1 168.4h1M87.5 251.4h1M87.4 246.8h1M86.2 268.9h1M86.8 292.2h1" stroke="#1028ff" stroke-width="1.1"/>
<path d="M84.6 276.4h1M84.5 234.5h1M87 220.6h1M86.9 232.9h1M85.4 228.3h1M84.6 245.6h1M85.8 175.8h1M85.3 290.8h1M87.3 309.4h1M87.8 253h1M87.1 190.5h1M87.9 243.9h1M83.9 320.9h1M87.2 212.7h1M86.6 252.1h1M85.1 170.5h1M87.8 166h1M85.4 184h1M88 199.9h1M86.6 204.2h1M85.3 280.2h1M83.9 284.1h1M87.7 314.9h1M86.3 191.6h1M85.8 315.5h1M84.4 210.6h1M86.9 169h1M84.8 281.3h1M84.4 270.2h1M86.6 259.7h1M84.3 231.2h1M84.8 288.4h1M86.1 225.9h1" stroke="#3a90f8" stroke-width="1.1"/>
<path d="M85.3 254.2h1M84.2 196.5h1M85.8 243.7h1M85.1 171.5h1M85.2 248h1M84.2 185.4h1M86.8 317.4h1M88.1 275h1M84 293.8h1M85.6 272.8h1M84.4 273.3h1M88.1 221.6h1M87.4 321.7h1M86.2 187.6h1M87.8 184.6h1M84.4 300.2h1M87.2 172.9h1M86.8 256.4h1M86.7 175h1M86.5 209.4h1M86.6 270.5h1M87.4 254h1M87.6 268.6h1M84.7 200.2h1M84.4 246.1h1M85.8 181.6h1M85.6 259.8h1M84.3 202h1M83.9 228.8h1M87.1 292.9h1M87.3 258.4h1M85.4 171.6h1M87.1 189.9h1M85.4 208.1h1" stroke="#5ef0f8" stroke-width="1.1"/>
<path d="M87.6 323.4h1M86.7 165.8h1M84.8 289.6h1M87.3 268.6h1M86.8 206.9h1M88.1 251.2h1M87.1 311.8h1M86.7 218h1M88.1 284.2h1M85.1 261.9h1M86 251.4h1M85.6 201.9h1M84.6 170.3h1M85.1 280.1h1M85.3 218.9h1M86.4 331.5h1M87 190.3h1M84.5 285.2h1M84.2 310.1h1M87 331.4h1M86 170.3h1M87.9 221.7h1M83.8 263.4h1M86 224.3h1M87.5 315h1M87.9 174.5h1M86.2 170h1M84 331h1M87.5 282.8h1M84.9 178.1h1M87.1 271.4h1M85.2 321.3h1M87.3 331.5h1M84.7 181.6h1M85.1 186.8h1M84.7 234.5h1M87.1 241.2h1" stroke="#a8f0a0" stroke-width="1.1"/>
<path d="M84.5 248.7h1M86.3 329.6h1M87.6 237h1M86 300.9h1M86 264.1h1M86.3 211.7h1M86.8 329.6h1M86.4 292h1M87.5 219.3h1M85.8 253.6h1M86.1 212.7h1M84.9 310.5h1M88 198.3h1M87.3 183.4h1M85.9 194.3h1M87 265.1h1M87.5 187h1M86.8 168.8h1M87.1 168.5h1M84.5 296.2h1M87.8 312.6h1M88.1 250.2h1M86.9 258.5h1M87.7 191.7h1M87.6 190.1h1M87.4 185.9h1M87.7 270h1M85.1 247.1h1M85.2 303.2h1M86.2 298.7h1M86.7 165.4h1M85 281.6h1M85.7 281h1M85.1 270.3h1M84.2 225.7h1M87.9 280.7h1" stroke="#ff8020" stroke-width="1.1"/>
<path d="M86.3 294.8h1M86.6 182.1h1M84.9 271h1M87.6 329.5h1M84.9 266.9h1M86.8 292.6h1M86.5 256h1M87.9 184.4h1M85.4 285.3h1M85 216.9h1M86 324.3h1M85.8 217.5h1M87.5 229.2h1M83.9 295.2h1M83.9 208.6h1M84.7 272.6h1M84 289.2h1M86.8 245.4h1M84.1 231.9h1M86.1 182.8h1M84.3 268.7h1M84.4 280.7h1M85.3 202h1M86.3 188.4h1M84.3 321h1M86.7 192.2h1M86.7 187.1h1M83.9 285.4h1M87 299.1h1M84.6 293.2h1M87.7 201.4h1M87 292.8h1M83.8 250.4h1" stroke="#f0402a" stroke-width="1.1"/>
<path d="M75.9 232.6h1M75.8 275.2h1M75.3 216.1h1M75.7 277.6h1M75.9 248.8h1M75.9 317.9h1" stroke="#a8f0a0" stroke-width="1.1"/>
<path d="M75.9 276.7h1M74 279h1M74.6 312.1h1M74.6 227.1h1M74.9 322.4h1M75.8 259.6h1M74.1 319.8h1M74.7 292.6h1M75.3 234.5h1" stroke="#5ef0f8" stroke-width="1.1"/>
<path d="M75.2 315.4h1M75 307h1M74.5 281.8h1M75 276.4h1M75.2 272.6h1M74.3 330.3h1M74.8 215.5h1" stroke="#b0c030" stroke-width="1.1"/>
<path d="M74.3 287.4h1M74.8 217h1M75.1 256.8h1M74.8 297.1h1M75.1 266h1M75.4 206h1" stroke="#80f020" stroke-width="1.1"/>
<path d="M74.8 232.9h1M74.1 247h1M74.2 312.8h1M74.3 288.4h1M75.2 292.1h1M74.3 250.1h1" stroke="#8a3ae0" stroke-width="1.1"/>
<path d="M74.4 321.2h1M75.5 273.4h1M74.8 325.7h1" stroke="#f0402a" stroke-width="1.1"/>
<path d="M74.3 323.1h1M74.5 248h1M75.4 316.7h1M75.7 330.2h1M74 278h1M74.4 266h1" stroke="#1028ff" stroke-width="1.1"/>
<path d="M74.5 316.1h1M74.8 238.1h1M74.1 239.6h1M74.6 294.5h1" stroke="#000000" stroke-width="1.1"/>
<path d="M74.7 296.3h1M76 241.9h1M74.4 245.7h1M74.4 307.7h1M74.4 286.1h1M74.1 290.9h1" stroke="#ff8020" stroke-width="1.1"/>
<path d="M74.9 304.6h1M74.3 317.9h1M74.3 306h1M75.8 298.5h1M75.8 285.2h1" stroke="#dd38d8" stroke-width="1.1"/>
<path d="M75.2 325.9h1M74.3 268.7h1" stroke="#3a90f8" stroke-width="1.1"/>
<path d="M93.8 208.4h1M93.2 308.6h1M93.6 265.3h1M93.8 224.5h1M93.1 312.7h1M93.8 243.8h1M93.8 330.5h1M93.4 317.5h1M93.3 259.9h1M93.1 324.8h1" stroke="#8a3ae0" stroke-width="1.1"/>
<path d="M92.5 286.8h1M93.5 209.9h1M94 323h1M92.8 322.9h1M93.8 243.6h1M93.6 290.7h1M92.9 212.1h1M92.8 239.4h1" stroke="#1028ff" stroke-width="1.1"/>
<path d="M93.2 323.3h1M93.6 289.4h1M93 318.4h1M93.3 253.4h1M93.7 327.8h1M93.8 227.4h1M92.9 239.9h1M93.5 296.4h1M93.4 307.6h1" stroke="#5ef0f8" stroke-width="1.1"/>
<path d="M92.9 284.2h1M94 315.3h1M93.6 316.5h1M93.5 209.4h1M93.8 240.1h1" stroke="#f0402a" stroke-width="1.1"/>
<path d="M92.6 204.8h1M92.7 310.5h1M93.6 260.1h1M93.6 206.3h1M92.8 316.5h1M92.5 269.5h1" stroke="#3a90f8" stroke-width="1.1"/>
<path d="M93.9 291.1h1M92.6 292.8h1M94 313.8h1M93.6 204.9h1M93.2 259h1M93.8 261.9h1M93.1 217.2h1" stroke="#000000" stroke-width="1.1"/>
<path d="M93.5 323.1h1M93.9 207.9h1M92.7 231.6h1M93.9 321.2h1" stroke="#b0c030" stroke-width="1.1"/>
<path d="M93 218.3h1M92.9 268.2h1M93 227.7h1M92.8 322.8h1" stroke="#a8f0a0" stroke-width="1.1"/>
<path d="M93.8 265.1h1" stroke="#80f020" stroke-width="1.1"/>
<path d="M93.4 301.4h1M92.6 279.7h1M92.8 219.9h1M93.6 223.5h1M93.1 227.3h1" stroke="#ff8020" stroke-width="1.1"/>
<path d="M93.9 254.2h1" stroke="#dd38d8" stroke-width="1.1"/>
<path d="M51 208.6l.4-1.2.5-2.8.5 3.6.4-2.4.5 3.9.4-4.3.5 1.4m.9.6l.4 3.6.5-4m.9.3l.4-.7.5 1 .4-1 .5-1 .4-1.5.5 2.4.4 4.9.5-4.3.4 1.5.5-1.2.4 6.3m1.4-9.1h1m-.1 2.6l.4.2.5-.5.4 2.2.5.8.4.3m.9-2.6h1m-.1 3.4l.5-6.2.4 6.1.5-1.4.4 1.6.5-4 .4.6.5-.3.4.6.5-.4.4-2.2.5 4.4.4-1 .5-2.2.4-1.8.5 3.9.4-5.8.5 1.2m.9-1.1l.4.7.5 1.8.4.4.5-1.4.4 4.9.5.3m.9 3.1l.4-5.5.5-.1.4-1.2.5-.1m.9-.5l.4-2.4.5.9.4-1.9.5-1.1.4-.2.5.3.4 3.4.5.9.4 2.3.5 1.8.4 1.4.5-.9.4 3.9.5-4.5.4 3.1.5-.4.4 1.2.5-.9.4-.1.5 2.8.4-3.8.5 2.1.4-2.6.5-.1.4 3.4.5-1.2.4 4.2.5-4.9.4 3 .5-.4.4.2m.9-1.9l.5 3.4.4 1.2m.9-.8l.5 1.9.4-.2.5.4.4-3.2.5 2.6.4-3 .5 1.3.4-2.6.5 1.3.4 1.8.5-1.1.4 2.4.5-1.9.4 3.3.5-3.1.4 4.4.5-3.4.4-1.6.5-1.4.4 1.4.5 3.7.4-4.6.5.1.4 3.6.5 1.5.4-2.4.5-.7.4 1.3m.9 1.4l.5 1.1.4-2.8.5-.7.4-.9.5-.9.4 2 .5-2.4m.9 1.3l.4-1 .5 3.2.4-4.8.5 4.1.4-.7.5.8.4.6.5-1.3.4 3 .5 1 .4-5.4m.9 3.1l.5-.5.4 1.4.5-1.1.4-.1.5 2 .4-3.4.5 1.1.4-.6.5.4.4.1m.9 0l.5 5.2.4-5.3.5-1.4.4 2.9.5-1.3.4 3.5.5-1.5m.9-1.5l.4-.5m.9.6l.5.9.4.2.5-.7.4.1.5-.7.4 1.5.5-1.3.4-2.4.5 2.1.4-2 .5-1m.9 3.6l.4.7m1.4-1.6l.4.9.5.2.4 1.3m1.4-2.3l.4 2 .5-.1.4-.4.5.8.4-2.6.5 2.9.4-2 .5 1.1.4-2m.9.3l.5 0 .4 1.8.5-2.2.4 2.3.5 0m.9.3l.4-1.4.5 1.8.4.8.5 1.7.4-.2.5-1.4.4.1.5-5.3.4 2.8.5-.5.4 2.6.5-1.1.4 0 .5-.4.4-.4.5-.6m.9 1.6h1m-.1.4h1" stroke="#a8f0a0" stroke-width="1.15" fill="none"/>
<path d="M187.6 205.8l.8-1.3.8-1.6.8-5.3.8-.1.8-3.8m1.6-4.3l.8-1.3m1.6-6.4l.8 1.2.8-3.7m1.6 1.4l.8-4m2.4 1.3l.8-2.4.8 1.6m4-1.8l.8-1.7.8 3.6.8-3.4.8 1.1.8 0 .8.7.8-2.1m1.6 2.5l.8-1.4.8.3.8.8.8-1.2m1.6-2l.8-.9m1.6-.1l.8.9.8.2m4.8 1.7l.8-1.6.8 0 .8 1.3m2.4-2.4l.8-.1m1.6.6l.8-2.8.8 2.8.8.1.8-1.3.8-.2m3.2 4.4l.8-3.3.8.4.8-.3.8 1.2m1.6-1.6h1m1.4.3l.8-1.4.8-1.6.8 4.8.8-2.8.8.9.8.4.8 2.2.8-2.1m1.6-.8h1m2.2-2.4l.8-3.1.8 2.6.8 2.4.8-2.8.8.9.8-1.8.8 1.7.8-1.7.8 2.3m1.6-.5h1m1.4 1.2h1m.6-1h1m.6-.1l.8.6.8-1m1.6.3l.8-1.6m1.6 1.5h1m2.2-3.4l.8 1.8.8-.3.8-.7.8-.4m1.6 4.3l.8-3.1.8 3.2.8 0m2.4-3.2l.8 2.7.8-2.3.8-.1m2.4-1.7h1m1.4-.1l.8 2 .8-4.5m1.6 5.1h1m1.4-1.7l.8 2" stroke="#a8f0a0" stroke-width="1.0" fill="none"/>
<path d="M310 166.4l.7 2.6.7-.5.7-.1.7-.9.7 1.8.7-.5.7 1.2.7-1.8.7 1.8.7 1.1.7 1.1.7-.6.7 4.6.7-2.1.7 1.5.7-1.2.7 1.5.7.9.7 0 .7-.3.7 1.5.7 1 .7 2.3.7-2.1.7.4.7-1 .7 3.9.7-.3.7-1.6.7 1.2.7 1.5.7 1.8.7-2.3.7.5.7.6.7 2.2.7 1 .7-.7.7 2.6.7-.5.7-1.3.7 3 .7 1.1.7.8m1.4 3.4l.7-.2.7-.6.7 2.1.7-1.4.7.8m1.4.5l.7.1.7 1.9.7.1.7 1.3.7.3" stroke="#a8f0a0" stroke-width="1.1" fill="none"/>
<path d="M351 201.7l.7-3.4.7 1.8.7-1 .7 3.4.7.3.7 4.7.7.3.7-1 .7 3 .7-1.4.7-1.7.7 1.2m1.4-2.1l.7 2.1.7-2.5.7.9.7 3.3.7-.9.7 2m1.4 1.5l.7-4.4.7 2.6.7 2 .7-4.1.7-1.4.7-.7.7-2.4.7 1.3m1.4 1.1l.7-1.5.7.7.7 1.1.7 2.8.7 0 .7 2.9.7 1.8.7-1.1.7 1.1.7 4.5.7-.7.7-1.4.7 1m1.4-2.2l.7-.4.7 1 .7-4.6" stroke="#a8f0a0" stroke-width="1.0" fill="none"/>
<path d="M386 213.2l.6-1.5.6-.6.6 1.4.6.7.6 1.4.6 1 .6 0 .6-.7.6.7.6-4.3.6 1.7.6 0 .6 0 .6.3.6 1 .6-1.7.6 1.5.6.9.6-1 .6-1.5.6-.8.6.6.6-1.5.6-1.4.6 2.7.6-3 .6-.1.6 2.4.6-1.5.6 1 .6.5.6-.7.6 1.1.6-1.7.6-1.4.6 4 .6-.1.6 1.1.6-1.9.6 2.3.6-.4.6 1.7m1.2-1.2l.6-.9.6.2.6-1.4.6-2.9.6 1.7.6-2.3.6 2.6.6 1.1.6-2.1.6 3.3.6-1.2.6 2.4.6-1.4.6-.5.6-.5.6-1.5.6-2.2.6-.6.6 2.2.6.2.6-.5.6-.1.6 1.1.6-.7.6.2.6-1.5.6-1.3.6.6.6 1.3.6-1.4.6-1.8.6 2.1m1.2-.5l.6-.6.6.5.6.1.6-1.1.6 2.4.6.4.6.3.6 0 .6-.2.6.9.6-1.7.6.1.6 1.7.6 1.1.6 1.3.6-2 .6.8.6.7.6.9.6-.8.6.7.6 1 .6-1.9.6-.8.6-.6.6-.9.6.7.6-1.1.6 2.6.6.1.6.1.6.4" stroke="#a8f0a0" stroke-width="1.1" fill="none"/>
<path d="M51 193.2l.4 3.7.5-.7.5.7.4-1.9.5-.3.4 2.3.5.4.4-1.2m.9.8l.5-1.9.4 2.5.5-2.8.4 1.5.5.3m.9.6l.4-2.8.5 3.4.4-3.6m.9.7l.5.2.4-.4.5 2.8.4-.6.5-.2.4 1.4.5-.6.4-1.5m.9 3.5h1m-.1-1.5l.5-2.2.4.7.5-1.6.4 1.8.5-.5.4 1.4.5-.1.4 3.8.5-4.4.4 1.9.5 0 .4-3.6.5-.5.4 4.6.5-3.1m.9-2.3l.4.7.5 1.4.4 1.3.5 1.3.4-3.7.5 2.8.4-2.7.5.2.4.1.5.6.4-1.6.5 2.4.4-.4m.9 5.7l.5-7.2.4 3.9.5-4.3m.9 1.9l.4-1.4.5 1.2.4-.3.5-2.9.4.2m.9 3.7l.5 2.6.4-4.8.5 6 .4 1m.9-.3l.5.1.4.3.5 3.7m.9-3.2l.4.4.5 1.3.4.6.5-1 .4-.1.5-1.6.4 2m.9-.1l.5.6.4 2.3m.9-.3h1m-.1.9l.5 1.6.4-.7.5 2.4.4-1.5.5-1.6.4-1.1.5 1.8.4-.4m.9-.4l.5 0 .4.6.5-1.9.4 2 .5 2.9.4-.7.5-2.7.4 2.7.5-3 .4 1.2.5-1m.9.6l.4 3.6.5-5 .4.7m.9.6l.5 1.1.4-1.2.5.3m.9-.8h1m-.1.5l.4 1.5.5 1 .4-1.7m.9 2.5l.5-.7.4 0m.9-3.4l.5 3.8.4-2.6.5 2.6.4-1.8.5-.4.4 1.9m.9-.2l.5-.6.4.3.5 2.7.4-1.9.5-1.1.4 1.4m.9-1.8l.5-.9.4 1.5.5 4.7.4-2.4.5.8.4 2 .5-3.8.4 2.1.5-6.5.4 1.4.5-1.5.4 2.8.5-.5.4-.7m.9 6.6h1m.4-5.8h1m-.1 1.5h1m-.1.2h1m-.1-3.1l.4 3.1.5-.8.4.3.5-.2.4 2.1.5-3 .4 1.4.5 1.7.4-2.6.5 3 .4-3 .5.3.4-1.3.5 1.4.4 2.8.5-.6m.9-1.8l.4 1.5.5-4 .4 1.8.5 1.1.4-2.3m.9 1.6l.5 1.8.4.8m.9-1.1l.5-1.1.4 1.5m.9-2.2h1m-.1-1.5h1m-.1 2.4h1m-.1-.5l.5 1.1.4-.1.5 3m.9-3.6l.4 1.1.5 2.1.4.3.5-5.2.4 1.8.5 3.1.4-3.4.5-.4.4 1.2.5-.5.4-1 .5 2.1.4-.5" stroke="#3a90f8" stroke-width="1.15" fill="none"/>
<path d="M186 201.3l.8-2.7m1.6-1.5l.8-.8.8-2.2m1.6-4.2l.8-3.9.8 3.6m1.6-.6l.8-5.1m1.6-2.7h1m.6-4.5l.8 1m1.6-7.5l.8 3.4.8-.4.8-2 .8 1.9.8.3.8.2m4.8-.8l.8-1m1.6.9h1m.6-2l.8 1.3.8-.4.8-4.6.8 2.9.8-1.6.8.7.8.6.8 2 .8-.7m2.4.3h1m.6 3.3l.8-5.1.8.5.8.5.8-2 .8.2.8-2.8.8-1.4.8 1.9.8-2.8.8 2.8m1.6-.2h1m.6-.5l.8 0m1.6-1.1l.8-1.1m1.6-2.3l.8 1.6.8-.5.8.1m1.6 3.5l.8-.6m1.6-1.6h1m.6-1.4l.8 1.6.8-3.1m1.6.4h1m3 2.5l.8.7.8-.2.8-.9m1.6-1.1l.8.2m1.6-.1h1m.6-3.7l.8.2.8-1.2m1.6 1.9h1m.6-.9l.8 1 .8.7m1.6-2.4h1m3-2.8l.8 1.7m1.6-2l.8 4.5m1.6-1.8l.8-1.7.8-1 .8-.3m1.6-1.5l.8.5.8 2.7.8-2.4.8 1.1m2.4-2.7l.8 1.8.8-4.2.8 2 .8.8.8-1.3.8-.1m1.6-1.1l.8-1.2m2.4-1.7l.8 1.1.8 1.5.8-.1.8.5.8-.7.8.5m1.6-.7l.8-.8" stroke="#3a90f8" stroke-width="1.0" fill="none"/>
<path d="M310 147.3l.7-.5.7 2.6.7-2.5.7 1.9.7 1.3m1.4 2.2l.7 0 .7 1.9m2.1-.4l.7-.7m1.4 0l.7-.5.7 3.5m1.4 1.4l.7.4.7 1.7.7 1.2.7-1.8.7 0 .7 1.5.7-1.4.7 3.9.7 1.4.7 0 .7 4.7.7-1.1.7 1.2.7-.2.7.4.7.8.7-.4.7.2.7.7.7-.8.7 1.8.7 2.1.7 0 .7.2m1.4 1.5l.7.7.7.9.7 1.8.7 0 .7-.6.7 1.3.7 0 .7 4.8.7-2.6.7 3.8.7-1.7m1.4 3h1" stroke="#3a90f8" stroke-width="1.1" fill="none"/>
<path d="M351 184.3l.7 3.2m1.4 1.6l.7-.7.7 3.6.7 1m1.4 2.9l.7-2.2.7 0 .7 1.3.7-2.4.7 2.3.7-1.6.7 3.2m1.4 2.4l.7 1.7.7.1.7.7.7 3.2m1.4-1.1l.7-1.3m1.4-5.8h1m.4 1.5l.7-.9.7 3.4m1.4-3.8l.7 3.7.7-2.9.7 3.2.7.5.7 2.4.7 4.8.7-5.4.7 5 .7-2.2.7 0 .7 1.8.7-.1.7-.6.7-1 .7 1.8m2.1 2.5h1" stroke="#3a90f8" stroke-width="1.0" fill="none"/>
<path d="M386 202.5l.6.3.6-1.7.6-1.3.6.8.6 1.9.6-4.3.6-.1.6 2.5.6-.2.6 1.6.6-2.1.6-1.1.6 2.1.6 1 .6.2.6.9.6 2.9.6-3.5.6-.2.6-.1.6-2.4.6 1.8.6-.1.6.3.6.2.6 2.2.6-1.3.6-2.1.6-.5.6 1.9.6-1.2.6-1.3.6-.4.6 1.1.6 2.4.6-5.2.6 2.8.6.3.6-1.3.6 2.6.6-2.4.6-1.9.6 2.4.6-1.8.6 2.6.6.4.6 1.5.6-2.7.6 1.9.6 2 .6-2 .6-1.2.6 0 .6.1.6-1.2.6 2.4.6 1.2.6-2.7.6-.5.6.2.6-.9.6.4.6-.2.6-1.7.6 2.6.6.4.6-2.8.6.7.6-1.4.6 3.6.6-2 .6.9.6 2.2.6-1.3.6-1.1.6-1.2.6-1.1.6.6.6 1.6.6-3.7.6 1.1.6.3.6.8.6.5.6-1.8.6 2.7.6.1.6.7.6.4.6-.1.6.4.6-1.7.6-.3.6 1.4.6 2.1.6 1.5.6-3.8.6 0 .6 2.5.6.6.6-.5.6.4.6 2.2.6-.4.6-.6.6-.7.6 2.6.6 1.4.6-3.4.6 3.4" stroke="#3a90f8" stroke-width="1.1" fill="none"/>
<path d="M51 191.9l.4.9.5-2.6.5.9m1.3 3.9l.5.4.4-.9.5 1.4m.9-1h1m1.2.1l.5-2.1.4 1.5.5-.1m.9-2.3l.4 2.5.5-.3.4-2.4m.9 2.2l.5-1.5.4.1.5 1.9.4-1.4.5-2.9.4.2m.9 2.1l.5-.6m.9.9l.4-2.7.5 1.3.4 2.3.5.6.4-.9.5 1.8m.9-2.2h1m.3 4.9l.5-6.6m.9 1.6l.4-1.5.5.4.4-4.1m.9 2.5l.5-2.4.4 1 .5 1.5.4-.4m.9 1.5l.5 5.2.4-2.6.5-1.2.4 2.9.5-1.3.4-3.2.5 5.2.4-4.6.5.7m.9-3l.4-1m.9-4.4l.5 7 .4-2.1.5 5.3.4 1.3.5-2.2.4 1.4.5 4.1.4-3.3.5 1.7.4.8.5 1.8.4-.6.5-1.3.4 2.4.5-.7.4.7m.9.7l.5-1.7.4-1.6.5 1.9.4-1 .5-2.6.4 1.8.5 2 .4-.1m.9-.9l.5-.3.4 1 .5 1 .4-.3.5 1.3.4-2 .5-.2.4.5.5.5.4-.2.5.8.4-.7.5 3m.9-4.4l.4 2.3m.9-.7l.5-2m.9.5l.4 1 .5 0m.9 2.2l.4-.7.5-.8.4.6.5-2.1.4 1.5.5 1 .4.6.5-3.7.4 3.8.5-2.2.4-1.5.5 4.4.4.7.5-2.7.4 3.3.5-1.1.4.8.5 2.2.4-1.4.5-1.9m.9-1.6l.4 1 .5-.8.4 1.8.5.3.4 1.8.5-.9.4-3.7.5 5.6.4-4.2.5-.5.4-3 .5 2.3.4 2.7m.9-1.2l.5.7.4 1.7.5-2.2.4.3.5 1.6.4.6.5-3.8.4 1.5.5 1.1.4-1 .5-.6.4 3.9.5-.4.4-1 .5-1.5.4-1.5.5.7.4 0m.9 1.2l.5-3.7m.9 2.2l.4-.2.5 1.4.4 1.4.5.9m.9-.9l.4-1.9.5-2.1.4-.6.5 3.8.4-4 .5 1.6.4 1.5.5 3 .4-4.7.5 3.7.4.1.5-3.2.4 2m1.4.4l.4-.3.5 1.1.4 1.5m.9-2l.5-.4.4 0 .5 1.8.4-1.7m.9 1.1l.5-2 .4 5 .5-.2.4-4.9.5 1.6m1.3-.3l.5 4.2.4-2.3.5-.4.4 2.7.5-2.6.4 1.2.5-2.2.4.1.5 3.8.4-7.9.5 5.1.4-2 .5 2.5.4-1.9.5 1.5.4-2.8" stroke="#8a3ae0" stroke-width="1.15" fill="none"/>
<path d="M186 195.2l.8-2.2m4.8-6l.8-4m1.6-1.1l.8-1.4.8-.5.8-.9m1.6-6.5l.8-.6.8 1.3.8-2.5.8 1.7m2.4.3h1m2.2-3.6l.8.5.8-3.9.8 3 .8-3.9m1.6.1l.8 1.6.8.2.8-4m1.6 4.9l.8-1.5m1.6-.6l.8-.8m1.6-.3l.8 1.3m1.6-1.8h1m1.4.4h1m1.4-.2l.8 2.8m2.4-2.3h1m.6.7h1m1.4-2.5h1m.6.2l.8.8m1.6 1.3l.8-1.6m1.6-1.1l.8-2.6m3.2.6h1m.6.2l.8-2.9.8 4.8.8-3m3.2-.1l.8-.1m1.6-1.6l.8-2.4m1.6.1l.8-.8m1.6-3.2l.8.7m1.6.8h1m.6-3.7l.8 1.6.8-1.6.8 1.9m1.6.7l.8-1.8.8 2.1m2.4-2.9l.8-2.2.8 1.7m1.6-2.4l.8.1.8.1m1.6-.5h1m.6-1.9l.8 1.9m3.2-.6h1m.6-1.5l.8-1.3.8-1.1m1.6-.8l.8 1.4m2.4-1.3l.8-2.8.8 2.6.8-2.4.8.1.8-1.1.8.3.8 1.6.8-1.1.8-2.2m2.4-1.3h1m.6 2.8l.8-2.4m1.6 2.5h1m2.2-1.8h1" stroke="#8a3ae0" stroke-width="1.0" fill="none"/>
<path d="M310 136.2l.7 2.3.7.2.7-.4.7-1 .7 1.6.7-3.1.7-1.4.7 2.4.7-.2m1.4.2l.7 2.1m1.4 3.2l.7.4.7.8.7-.7.7 2.6.7.5.7-.7.7.9.7 2.5.7-.1.7-.6.7.9.7-1.2.7 0 .7.5m1.4 3.6l.7.6.7.3.7 1.1.7 1.1.7-.4.7.1.7 1.1.7.2.7 2.3.7.8.7-1.4.7 4.8.7-.2.7 1.4.7-.2.7 1 .7 1.6.7 0 .7.7.7-.7.7 2.2.7-1.1.7 4 .7-1.7.7 1.6.7 1.7.7-1.1.7 2.1" stroke="#8a3ae0" stroke-width="1.1" fill="none"/>
<path d="M351.7 174.7l.7 1.5.7 2.4.7-.6.7 1.3.7-1.9m1.4 4.7l.7-4.9.7 2.2m1.4-.1l.7 3.2.7 2.3.7-.2.7 2.8.7.2.7 3.7m1.4-2.4l.7.9.7-.8.7 2.7.7-1.6.7-1 .7-1.4.7-.4.7-.2.7-.3.7.4.7-2.9.7-1.1m2.1-.1l.7 3.1.7 3.4.7 1.8.7 1.2.7.9.7 5.9m1.4-1.2l.7-.4.7 2.9.7-.7.7-4.8.7 3.2.7-1.2.7-.6" stroke="#8a3ae0" stroke-width="1.0" fill="none"/>
<path d="M386 194.4l.6 1 .6 1 .6-4.7.6-1.9.6 1.3.6.5.6 1.4.6 0 .6 3 .6 1.8.6-2.6.6-1.3.6.7.6.3.6-.9.6.6.6.4.6-1.6.6-1 .6 1 .6-2.4.6.5.6.2.6.3.6.5.6-1.5.6 2.5.6-1.6.6 0 .6.2.6 0 .6-3.8.6 2.1.6.4.6-.5.6 1.9.6-1.2.6-.1.6 2.9.6-1.2.6 3 .6-3.7.6-2.2.6.6.6.3.6-.5.6-.1.6 1.8.6 4.1.6-2.3.6 2.8.6-3.8.6 1.5.6-1.8.6.7.6-1.6.6-.2.6.7.6.5.6-.1.6-.3.6-1.3.6-.2.6.1.6-1.9.6 2.3.6-1.4.6.3m1.2-3.3l.6.8.6-1.2.6.9.6 1.9.6.6.6.8.6-1.5.6-1.2.6 2.6.6-2.4.6 1.9.6-.8.6-1.4.6-1.2m1.2 3.9l.6-2.2.6.3.6 3.1.6-.3.6.8.6-.7.6 1.7.6-.7.6.3m1.2-1.9l.6 4.2.6 0 .6-3.8.6 3.3.6-2.1.6-.4.6 1.3.6.3.6-1.9.6 1 .6-1.5.6 2.3.6-1.4" stroke="#8a3ae0" stroke-width="1.1" fill="none"/>
<path d="M51.9 185.8l.5 1.2.4-2.4.5.9.4 0m.9-.2l.5-.2.4 1.2m.9 1.1l.5-.1.4 1.8m1.8 1h1m-.1-3.1l.5 1 .4-2m.9 3.2l.5-1.5.4-1m.9 1.8l.5-.8.4.3.5 1.4.4-2 .5 0 .4 1.1.5 1.3.4-3.3.5.7.4 3.7.5-5.4.4 2.9.5 2.8.4-2.5.5-1 .4 1.3m1.4.1l.4-.7.5 1.6.4-.2m.9-1.7l.5-.3.4.9.5-2.2.4-1.4.5.1.4 2.9.5-.4.4 1.1.5-3.5.4 5.1.5-.5.4.7.5-.6.4-.8.5-4.3m.9-.4l.4 4.2.5-3.1.4-1.7.5-1.3.4 1.4.5 1.7.4-2.3.5 2 .4 1.1m1.4 3.8h1m-.1 2l.4.1.5-1.6.4.9.5 2.8m.9.3l.4 0 .5-.5.4-.2.5 1.8.4-2.7.5-.5.4 2.7.5-2.8.4.9.5-.6.4 1.3.5 3.5.4.3.5-2 .4-1.2.5.6.4 1.9m.9-1.1h1m-.1.3l.5-2.7.4 4.1.5.6.4-.7.5-.7.4 2.8.5-1.5.4-1.4.5.4.4.9.5-3.7.4.5m.9.2l.5-.1.4 0 .5 1.4.4-.6.5 2.4m.9-.9l.4.4.5-.7.4-.7.5 2.5.4.9.5-4.8.4.7.5 3 .4 1.2.5-3.2.4-.5.5-.1.4 4.6.5-1.5.4-1 .5-1.5.4 2.6.5-2.4.4 2.4.5-2.3m.9 1.7l.4-.9.5.3.4 2.9.5-.4.4-3.3.5 3.9.4-4.1m.9 2.7l.5-.4.4-1.4.5 1 .4 2 .5-2.6.4 2.5m.9-1.3l.5-1.5.4-.2.5 1.5.4 1 .5-2.4.4 0 .5 3.6.4.4m.9-1.4l.5.9.4.2.5-1.6.4.9m.9-.3h1m-.1-2.4l.5 4.1.4 0 .5-3.2.4-.2.5 3.1.4-1.6.5.3.4 2 .5-.9.4-.5.5 1.2.4-5 .5 2.4.4 5.1.5-3.3.4.6.5-3.4.4 5.2.5-5.2.4 2.9.5-1 .4-1.1.5 2.7.4-5.6.5 5.5.4-1 .5-.4m.9-2.5l.4.1.5.2.4 1.4.5-2.5.4 2.2.5-1.1m.9 2.3l.4-4.8.5 5.9.4 2.6.5-3.1.4.7.5.9.4 2.3.5.5.4-3.3.5-3.7.4 2.8.5-2.8m.9 3.6l.4-1.6.5-.6m.9 2.1l.4-2.8.5 3.5" stroke="#ff8020" stroke-width="1.15" fill="none"/>
<path d="M186 189.7h1m1.4 0l.8-1.2.8-4.1.8.8m3.2-4.6h1m.6-3.9l.8-4.3.8-1 .8.2.8 1.6.8-2.5.8-1.7.8 3.1.8-1.5.8-.2.8-2.1m1.6-1.6l.8 2.9m1.6-.8h1m.6-4l.8.8.8-2.2.8-.6m1.6 4.3l.8.7.8-5.3.8 1.4m2.4.7l.8-1.4m1.6 2.4l.8-2.1.8 2.6m2.4-3l.8 1.6.8-1.3.8-1.3.8-.7.8-.2m1.6.9h1m1.4-1.7l.8.2.8-.5.8-2.6.8.6.8-2.7m1.6-.2l.8-.9m2.4.8h1m1.4-.6l.8 2.8.8 1.9.8-5.4.8.5m2.4-1.7l.8.3.8 1.1.8-3.7.8 1.4.8-1.7m1.6 1h1m.6-2h1m.6.3l.8-.4m3.2-3.4l.8-4.3m2.4 1.3l.8-1.1.8 3.4m1.6-2.3l.8-.1m1.6-4.3l.8.7m2.4.5l.8-2 .8 2.2m1.6-1.9l.8-2.5.8-1.8.8 1 .8.2.8 1.4m1.6-1.8h1m.6-3.5l.8 4.9.8-2.6.8-.3.8-1.7.8-2.6.8 2.9.8-.5.8.1.8.8m1.6-2.4l.8 1.3.8-3.1.8-1.1m1.6-1.2h1m.6-.8l.8 1.3.8-3.7.8 2.5.8.3.8.3m2.4-.5h1" stroke="#ff8020" stroke-width="1.0" fill="none"/>
<path d="M310 122.4l.7.3.7 1.3.7-.7.7 1 .7-.5.7 1.2.7 1.1.7-.2.7-1.5.7 0 .7 2.8.7-.6.7 2.7m1.4-.2l.7 1.9.7 2.4.7.9.7-1.7.7 1.9m1.4-.7l.7-.3.7.7.7.2.7 2.6.7.6.7 1.2.7.8.7-.2.7 2.1.7.2m1.4 3.6l.7-1.3.7.8.7.3.7 2.8.7-.5.7.6m1.4 0l.7 4 .7-2.6.7 1.5.7-.5.7 5.1.7-1.7m1.4 1.1l.7 2.1.7-2.7.7 1.1.7-.5.7.9.7 2.5.7.7" stroke="#ff8020" stroke-width="1.1" fill="none"/>
<path d="M351 160.8l.7 4.9.7-3.5.7 2.4.7.8.7 1.3.7-1.3.7-1.1.7 2.8.7 5 .7-.3.7 2.5.7.6.7 2 .7-.4.7 1.5.7 1 .7-.5.7 3.5.7 1.5.7.1m1.4 1.5l.7-.2.7-2.2.7-2.4.7 2.2.7-2.6.7-1.6.7 1.8.7-4.5.7-.9.7-1.6m1.4 4l.7 3 .7-.4.7 3.5.7 1.5.7 2.8.7-.1.7 3.1.7 1.8.7-1.8.7.3.7-1.4.7-.9.7.5.7.4m1.4-.3h1" stroke="#ff8020" stroke-width="1.0" fill="none"/>
<path d="M386 188.9l.6.7.6-.8.6-3.1.6-.6.6 0 .6.7.6.1.6-2 .6 3 .6-.7.6-.6m1.2-.1l.6-1.5.6-.4.6 2.6.6 1.5.6-.4.6-.4.6-.4.6-.6.6.1.6 2.3.6-.7.6-2.6.6.6.6-.3.6-2.1.6 1.8.6.1.6.7.6 1.5.6 1.7.6.1m1.2-4.5l.6 2.5.6-.3.6-3.1.6 2.1.6-2.4.6 3.3m1.2-.9l.6-1.9.6-1.1.6.3m1.2 1.1l.6-1.7.6 2.1.6 1.1.6-.9.6 1.6.6-1.9.6 1.3.6.4.6-1.5.6-1.2.6-2.1.6 2.2.6-.4.6-2.9.6 1.4.6-.1.6 2.8.6-.8.6-.7.6.8.6-1.8.6 2.1.6.3.6-.5.6 1 .6-.1.6 1.5.6-4.6.6 3.1.6-.4.6-2.2.6.6.6-.2.6 1.8.6-1.9.6.3.6.8.6 1 .6-.8.6 1.2.6-2.6.6 1.7m1.2 1.3l.6 1.9.6-2.4m1.2.7l.6-2.9.6 1.8.6 2.7.6.1.6-.2.6 1.5.6 1.4.6-.4.6-1 .6-.5.6-.7.6-.8.6 2" stroke="#ff8020" stroke-width="1.1" fill="none"/>
<path d="M51 183.5l.4 2.4.5-1.1.5-1.4.4-.8m.9 1.3l.5 1.9.4-1.3.5-2.5.4 1.5.5-2.9.4.5.5 3.9.4-4.4m.9 3l.5 0m.9-1.5l.4-.2.5 2.5.4-.6.5-.1m.9-3l.4-.4.5 3.6.4.3.5-.8.4 1.6m1.4-1.6l.4.6m.9-3.5l.5 3.6.4 2.6.5-2 .4-1.8.5 1.8.4-1.7.5 3.8.4-2.7.5 2.4.4-1.8.5-2.4.4.9.5-.5.4 1.6.5-2.5.4 3.1.5-3 .4-2 .5 2.1.4-2.1.5.4m.9.1l.4 4.2.5 1.3.4.9.5-2.3.4 2.2.5.3.4-.9.5-2.5.4 1.1.5-.2.4-1.7.5-2 .4 1.5.5-1.1.4-2.6.5-.4.4 3.7.5-1.1.4 3.1.5-.5.4-.6.5 1.3.4-.7m.9 1.1l.5 5.5.4-4.1.5 2.2.4-2 .5.2.4 2.3.5-.1.4 4.8.5-3.9.4-3 .5 3.7.4-.9m.9.5l.5.4.4-.8.5 3.1.4-.7.5-.5.4.1.5 3.4.4-3.2.5.4.4 3.8.5-1.8.4-1 .5-1.1m.9 1.3l.4.1.5 2.3.4-4.9.5 2.8.4 1.1.5-.3.4-1 .5-.2.4 1.9.5.7.4-1.3.5-.2.4 2.3.5-2.7.4-.1.5 2.7m.9-2.5l.4.3.5 3 .4-2.2.5 2 .4-1.1.5-1.2.4.8.5-2 .4 3.9m.9-2.3h1m-.1.2h1m-.1.7l.5-4.1.4 2.2.5 1.9.4-.9.5-.7.4 1.4.5-2.5m.9 1.8l.4-1 .5 1.7.4-5 .5 2.3.4.3.5 2.7.4 1.9.5-4.3m1.3 1.4l.5 5m.9-3.8l.4-2 .5 2.4.4-3.6.5 2.8.4-.6.5-1.8.4.6.5.8.4 1.9m.9-1.4l.5.3.4 3.3.5 0 .4-1.2.5-3.1.4 2.6.5.4.4.9.5-1.9.4-2 .5 4m.9-3.4l.4 2.5m.9.2l.5.9.4-.4.5-.2.4-.4.5 1.5.4-4.8.5 5.1m.9-2.2l.4 1.8.5-1 .4-.3.5.4.4-3.3.5.8.4 4.6.5-3.8.4 1.3.5.4.4-1.3.5.1.4-2.4.5 1 .4 1.5.5.8.4 2.1m.9-1.8l.5 2m.9 1.1l.4-2.1m.9 1.2h1m-.1-3.5l.5 2.1.4-2.6.5 4.2.4-1.6.5-.9.4-.4.5.5.4 1.2.5 0m.9 1.2l.4.3.5-3.2.4 2.1" stroke="#dd38d8" stroke-width="1.15" fill="none"/>
<path d="M187.6 189.3l.8-5 .8 1.4m3.2-8.7l.8 1 .8 1 .8-1.3.8-4.8.8-3.2.8 2.3.8-3.4.8-.6.8-3.1.8 3.1.8-.6.8.2m1.6.2l.8.4.8-2 .8 0 .8.6m1.6-1l.8-.4.8-1.4m3.2 0l.8-1.1.8 2.2m2.4-.8l.8-1.2m1.6-5.5l.8.4.8 3 .8-2.3m1.6-1.2l.8-.8.8 3m1.6-.7h1m.6-1h1m.6.1l.8.9m2.4-3.9l.8-.7m4.8-2.5l.8-1 .8 2.2.8 2.3.8-1.4.8-1.5.8 2.9m1.6-3.2h1m.6-1.3l.8-1.4m1.6.2h1m.6 3.6l.8-2.2.8-1.6.8-.8.8-1.2.8-1m1.6 1.4l.8-1.1m1.6-1l.8-2.1m1.6-1l.8.6.8-3.4.8 2.6.8-3.9.8 2.9.8-4.2.8-.4.8-.1m2.4-1.6h1m1.4-.9l.8 2.4m1.6-.4l.8-2m1.6-4.7h1m.6-.3h1m.6 2.6h1m.6.6l.8-4.2.8-.7.8-2.3.8.7.8-.5m2.4-1.8h1m.6-.1l.8-1 .8-.9m3.2-1.3h1m.6-.7l.8.1m1.6 2.7l.8-.9.8-.9.8-5.3m1.6-.1l.8 3.1m1.6-1.7l.8.2.8-1.7.8 2.5.8-.4" stroke="#dd38d8" stroke-width="1.0" fill="none"/>
<path d="M310.7 118.1l.7-1.7.7 1 .7-.7.7 3.6.7-1.8.7 2.6.7-2.6.7 1.2.7.9.7 1.5.7.8.7.9m2.1 2.2l.7-2.5.7 2.6.7-.4.7.6.7.9.7 1.8.7-1.4.7 2.5.7-1.3.7 3.9.7-.2.7-3 .7 2.7.7.1.7.1.7 1.3.7.7.7.2m1.4 1.6h1m1.1.9l.7.9.7.4.7 3.1.7.5.7-2.9.7 2.6.7-.9.7 1 .7.1.7 2.8.7 1.1.7.2.7 1.1.7 4.2.7-.8.7.3.7-1.6.7.4.7 2.9" stroke="#dd38d8" stroke-width="1.1" fill="none"/>
<path d="M351 150.5l.7 4.4.7.2.7 1.3.7-.8.7-.6.7-2.9.7 3.4.7 1.8.7 1.2.7 5.6.7.7.7 4 .7-.4.7-.4.7 4 .7.8.7 1.7.7 3.6.7 1.7.7-.2.7 1 .7-.1m1.4 1.4l.7-1.5.7-1.5.7 0 .7-4.1.7-.8.7-1.3.7-1.9.7.3.7.3.7 1.8.7 2.4.7.7.7 2.1.7 1.8.7 1.2.7 1.2.7 1.9.7.6.7 1.1.7-2.2.7-.2.7-.2.7.4.7-.2m1.4-.5h1" stroke="#dd38d8" stroke-width="1.0" fill="none"/>
<path d="M386 183.2l.6-.7.6-.8.6 2.8.6-1.4.6-.1.6-.8.6.5.6.5.6-3.9.6 0 .6 2.4.6-1.2.6.1.6 1.9.6-.6m1.2 1.8l.6-.5.6-.1.6-2 .6-1.4.6-.8.6.5.6-.5.6.7.6.5.6.1.6-.7.6 2 .6-1.4.6.8.6 2 .6-1.5.6-.5.6 3.1.6-.4.6-2.8.6 0 .6-1.3.6-1 .6-.5.6-.5.6 1.8.6 1 .6.2.6-2.5.6 2.7.6-2 .6 2.8.6 1.4.6-2.6.6.6.6-.9.6-.1.6-.1.6 1.1.6.8.6-1.7.6.3.6 1.7.6-2.3.6-.9.6 2.3.6-1.9.6.9.6-1.2.6-1.9.6 2.9.6-2.5.6-.5.6 2.5.6-1.4.6-1.8.6 1.1.6-.4.6-1.3m1.2-.8l.6 2.3.6-1.1.6 1.9.6-2 .6 2 .6-1.9.6 3.6.6-.2.6 1.1.6-3.8m1.2.8l.6 1.9.6 1.3.6-1.5.6-2.3.6.6.6 2.3.6-.4.6-2.4.6 3.3.6-1.6.6 1.7.6-.6.6-.1.6.2.6-1 .6 2.5.6-1.5.6.6.6-.6.6 1.6" stroke="#dd38d8" stroke-width="1.1" fill="none"/>
<path d="M51 178.2l.4 1.9.5.4.5-2 .4 2.7.5 1.6.4-5.3.5 3.6.4-2.5.5 1.9.4.9.5.4.4-.7m.9-.5l.5-2.2.4 2.3m.9.7h1m-.1-1.4l.5-2.8.4 2.2.5-1 .4.7.5-.9.4 3.8.5-.2.4 1.6.5-4.2.4 1.8.5-.9.4-.5.5 1.2.4-1.9m.9 1.3l.5 1.3.4-1.9.5.4.4-.7.5 2.1.4-.2.5-1 .4-1.7.5.8.4.9.5-1.5.4 2 .5-2.6.4 1.1.5-.1.4.4.5 2.2m.9-4.6l.4-.8.5-.6.4-.2.5-.1m1.8 6.5l.4.4.5-4.3.4 2.9.5-1.4.4-1 .5-1.1m.9-.7l.4-1.8.5 3.8.4-3.6.5 2.6.4-1.9.5 2.1m.9 1.4l.4 2.4.5-.2.4 3.3.5-3 .4 0m.9 3.8l.5.4.4-2.2.5.7m.9-.4l.4 3.8.5-2.5m.9-.2l.4 1.4.5 1 .4-1.7.5.4.4 1.4.5-.9.4-.9.5.5.4-.2.5.1.4-.7.5 1.9.4-1.1.5-.4.4.8.5 1.5.4-.5m.9 2.4l.5-4 .4.7m.9 0h1m-.1-1.3l.5 2.1.4-2.5m.9.9l.5 1 .4-1.2.5-.5.4.5.5 4.3.4-1.5m.9 1.7l.5-4.7m.9 4.2l.4-2.8.5 1.5.4-1.3.5 3 .4-1.1.5-.5.4-.5.5.3.4-.3.5.9.4-1.4m.9 2.9h1m-.1-.1l.5 1.3.4-3.8.5 1.5.4 1.5.5-2 .4 1.7.5.2m.9-1.8l.4.5.5-.8.4 4 .5-1.7.4 1.9.5-3.3.4 4.1.5-3.8.4 1.3.5.7.4.7.5.3.4-1.7.5-1.1.4 3.8.5-2.4.4-1.3.5.2.4 1 .5-3.1.4 2.5m.9 2.9l.5-1.1.4-1.4.5-3.4m.9 1.9l.4 1 .5-3.9.4 2.4.5-.9.4 4.7m.9-2.4l.5 2.2.4-1.3.5.4.4.1.5-.7.4.4.5 2.9.4-3.1m1.4 1.1l.4.9.5-3 .4.9.5.9.4.8.5-1.5.4 3.4m.9-1.8l.5-1.4.4-.2.5.2.4 4 .5-4.3m.9 2.6l.4-.9.5.3.4.6.5 2.6.4-3.5.5 1.2.4 1.2.5-1.8.4.2.5-3.3.4.7.5 1.4.4-5.7.5 5.6.4-3.7.5 7.4.4-1.8.5.4.4-.1.5-3.2.4.7.5-1 .4 2.7.5-1 .4 1.5" stroke="#5ef0f8" stroke-width="1.15" fill="none"/>
<path d="M186 186.5l.8-5.2.8-.2m2.4-1.6h1m1.4-4.3l.8-2.6.8-.8.8 2.2m1.6-.2h1m2.2-9.9l.8.9.8.4m1.6 1.6l.8.3.8-3.2m1.6-.6h1m2.2-2.3l.8 2.8.8-1.5m1.6-1l.8-4.8m2.4 2.6l.8.1.8-.6.8 1.7m1.6-5.8h1m1.4-.3h1m.6 3.1l.8.3m2.4-2.2l.8-.8.8.8.8 0m1.6-2.8h1m.6-.2l.8 3.3m2.4-6.1l.8 1.6.8-.8m1.6-3.3l.8.5.8.4.8 2.3.8.5.8-2.3.8 2.7.8-1.2m4-1.2h1m.6-2.6h1m1.4-4.3l.8 2.6.8-2.5.8 1m2.4-3.5l.8 3.2.8-2.9m2.4-3.7h1m1.4-.1h1m2.2 1.9h1m1.4-1.4l.8 2.2.8-6.5.8-1.1.8.2m1.6-3l.8 2.7.8-3.4.8 2m1.6-.6l.8-1.5m1.6-1.9l.8 2.1m1.6-4l.8 2.3.8-2m2.4-1.5h1m.6 1.6h1m.6-4.1h1m.6.8h1m.6-1.8h1m.6-3.5l.8.4.8-1.8.8-.1.8-1.9.8-.2.8.7m1.6.3l.8-2.2.8.2m1.6-1.5h1m.6.9h1m.6 1.6l.8 1.6" stroke="#5ef0f8" stroke-width="1.0" fill="none"/>
<path d="M310 112.4l.7 1.6.7-1.5.7 1.9.7.1.7 2 .7-.7.7-.9.7 1.6.7-.4.7.5.7 1.1.7-1.3.7 2.4.7.5.7-.1.7-.3.7.7.7-.9.7.7m1.4.1l.7 1.1.7 1.2.7.4m2.8 3.3l.7 1.6.7-.4.7 3.5.7.5.7-.8.7.5.7.1.7.1.7 2.6.7-1 .7 1.8.7-.8.7 0 .7.4.7.1.7 1.2.7.4.7 1 .7.7.7 0 .7 2.2.7-1.8.7 1.8.7.7m1.4 1l.7 1.1.7-1.7.7 1 .7-1" stroke="#5ef0f8" stroke-width="1.1" fill="none"/>
<path d="M351.7 144.9l.7-1.3.7 4.1.7 2.4.7.4.7-.3.7 1.2.7.4.7.1.7 1.9m1.4 2.4l.7 1.6.7.2.7.7.7 2.2.7-.1.7 2.7.7 3.6.7 3.2.7-.6.7 1.5.7-1.5.7-1.6.7.2.7-1.8.7-.9.7-1.3m1.4-2.5l.7-1.6.7-.1.7 1.4.7 4.2.7-1.9.7 3.4.7 3.2.7 0 .7-3.1.7 3.3.7 2.5.7.4.7 2.1.7-.2.7 1.2.7-3.4.7-2.2.7 2.8.7-.2.7.8" stroke="#5ef0f8" stroke-width="1.0" fill="none"/>
<path d="M386 172.6l.6-1.3.6 2 .6-2 .6 1.4.6.9.6-3.5.6 2.6.6 0 .6-.2.6-2.4.6 2.4.6-2.3.6 1.2.6.2.6 1 .6-.4.6-4.2.6 3.5.6-2.1.6 0 .6.2.6 1.9.6-1.9.6 1.7.6.4m1.2.5l.6 1.5.6-2 .6-2.6.6-.8.6-.4.6 0 .6-1.6.6.4.6 2.1m1.2.3l.6.2.6 1.3.6 1.8.6-.7.6-2.3.6 1.6.6.2.6-2.1.6-.4.6 1.2.6-1.3.6.1.6-1.5.6 2.1.6-2.4.6.3.6 2.4.6.7.6-.8.6 1.3.6-2.3.6 2.6.6-2.3.6.3.6-.8.6-1.4.6-1 .6 3.3.6-.5.6-2.4.6 1.9.6-.1.6 1.5.6-2 .6 2.4.6-.2.6-3.1.6.6.6 1.6.6-1.7.6-2.3.6-1.6.6 1.3.6-.5.6 1.4.6 4.8.6-2.4.6.7.6-2.9.6 1.9.6.9.6-1.3.6 1.7.6-.4.6-.7.6.9.6 1.7.6-.2.6-2.8.6-.5.6 3.9.6-.9.6-.8.6 2.7.6-1.4.6-.6.6 1.4.6-2.3.6-1.6.6 2.9.6-3.2.6.3" stroke="#5ef0f8" stroke-width="1.1" fill="none"/>
<path d="M51 176.2l.4.7.5.5.5-1 .4-2.4.5 1.7.4.5.5.3.4-1.1m.9-1.2l.5.3.4-1.3.5 4.5.4-2.9.5 1.1.4.5.5-1.6.4-.1.5.8m.9 1.2l.4-2 .5-.1.4-.7.5 2.4.4-.2.5 1.4.4.7m.9-1.4l.5-1.2.4 1.3.5-1.4.4.4m.9-1.6l.5 2 .4-.4.5-1.7.4 4.4.5-1.9.4-1.4.5 2.7.4 1.1.5-3.7m.9.6l.4 1.7.5 0m1.3 1.4l.5-2.1.4-1.7.5-.8.4-1.4.5-1.9.4-.2.5 2 .4 2.3.5-.6.4-.7.5 4.8.4-.8.5 1.1.4-1.6.5-2.6.4-1.5.5-.2.4-3.6.5 6.2.4-4.7.5-.7m.9.9h1m-.1 3.5h1m-.1 2.9l.4.2.5-2.2.4 5.4.5-1.9.4 2.5.5.3.4-1.1.5-.1.4 1.9.5-1.9.4 0 .5 2.7.4-1.8.5 2.9.4-5.1.5 2.1m1.8.3l.4-2.1.5 3.2.4-3.1.5 1.8m.9 3.8l.4-3.6m.9.7l.5.1.4 2.1.5.9.4-.6.5-4.6.4 5 .5-1.3.4-1.5.5.6.4-2.2.5 3.8.4-1.2.5.4.4-1.6.5-.6.4 1.8.5.9.4-.6.5 0 .4 1.3m1.4 0l.4-.4.5 1.9m.9 1l.4.1.5-2.1.4 2.5.5 1 .4-4.4.5 2.1.4-3.8.5 4.1.4-3.3.5 4.8.4-1.3.5-4.1.4 1.9.5-1.9.4 5m1.4-4.2l.4 2 .5-.1.4 2.1.5 1.7.4-1.8.5.2m.9-2.6l.4 1.6.5-1.3.4 0 .5-1.5.4.6.5.9.4-1.3.5-.6.4 1.9.5-1.8.4 1.9.5.4.4.9.5-2.2.4 2.8.5-2.4.4.9.5 1 .4-2 .5 5.3.4-2.5.5-.3m.9-2.7l.4 5.2.5-3.4.4-.8.5-2.1.4 4.7.5-2.1m.9 1.1l.4 2.9.5-2.8.4 2.1.5-1.3.4 1.2.5 2.5.4-3 .5-.8.4 2.1.5-4.5.4 3.1.5.8m.9-.4l.4 2.5.5-1.2.4-4.1m1.4 1.6l.4 3.8.5-2.6.4-.2.5.3.4-2.1.5-.3.4 1 .5 1.1m.9 2.2h1m-.1-2.7l.4.6.5 3.6.4-.9.5-2 .4-2.9.5.3.4 1.1.5.8.4-.1.5.8.4-4.1.5 2.9.4 1.3.5-.1.4-.7.5-.5.4.4.5-.6m1.3 1.9h1" stroke="#1028ff" stroke-width="1.15" fill="none"/>
<path d="M186.8 178.1l.8 1 .8-2.7.8.8.8-.3.8 2.1.8 0 .8-2.3.8 0 .8-5.2.8-.6.8.9.8-3.5m1.6-4l.8-2.7.8.7.8.5.8-.8m2.4.7l.8-.9.8-.4.8.3.8-1.6m2.4-1.9l.8.3m2.4-.9h1m.6-.9l.8.4.8-.7m2.4-.8h1m1.4-1.3l.8-1.2.8-1.2m2.4 4.3l.8-4.5m1.6-.4h1m.6-3.4l.8.5m1.6 1.1h1m.6 0h1m.6 1.7l.8-5.1m2.4-2.4l.8 1.1m1.6 1.9l.8-1.4.8 0 .8-.3.8-2.3m2.4-3.1l.8 3 .8-2.1m1.6.7l.8-1.3.8 1.8.8-3.1.8-1.4m2.4 1.7l.8-1.2.8-3.4.8.4.8.2.8 2.6.8-1.5.8-1.8.8-2.8.8 1.5m1.6-1.4h1m1.4-1l.8-2.5.8 1.4m1.6-1.6h1m3-3.6l.8 1.8.8-4.2.8 2.4m1.6-2.6l.8-.1m1.6-4.3l.8.5m2.4 2.8l.8-1.1m1.6.9h1m.6-2.8h1m2.2-2.5l.8.5.8-2.1.8.8m2.4-1.6l.8-2.1m1.6 4.3h1m1.4-3.5l.8 0 .8.9.8-1.9m1.6-1.5l.8-3 .8 1.6.8-1.3.8-1.6.8 4 .8-1.7.8-.5" stroke="#1028ff" stroke-width="1.0" fill="none"/>
<path d="M310 109.2l.7.7.7-.3.7-.7.7 3.1.7.2.7-1.8m1.4-1.4l.7 2.9m1.4 2.1l.7-.6.7 1.1.7-.9m1.4 1.1l.7-2.2.7 2.9.7-.4.7.4.7.9.7 1.3.7-.8.7 2.1m1.4 1.8l.7 1.4.7-1.3.7-.5.7 1.2.7 0 .7 0 .7 1.5.7-.2m1.4 1.3l.7.7.7 3.5m1.4-1.9h1m.4 4.6h1m.4-1.3l.7 2.3.7-1.7.7-.4.7-.3.7 2.2.7-.5.7 1.3.7-1.2.7 1.7.7.1.7 2.6.7-.5.7 1.1.7 2.2" stroke="#1028ff" stroke-width="1.1" fill="none"/>
<path d="M351 135.6l.7 1.1.7 2.6.7-.6.7-2.1.7 2.7.7.3m1.4 4l.7-2.6.7 3.6.7 3.4m1.4 1.3l.7 5.9.7.7.7-.5.7 1 .7.5.7.6.7-.5.7 4.2.7.3.7 1.8.7-2.9.7 2.5.7-4.6.7-.3m1.4-4.7l.7.4.7-3.6.7-1 .7 4.1.7 2.5.7-2.5.7 6.4.7-2.4.7 3.9.7-.8.7 4.4.7-.4.7 1.6.7-1.3.7-1.3.7.4.7-1.3m1.4 2.6l.7-1.5.7 1.8" stroke="#1028ff" stroke-width="1.0" fill="none"/>
<path d="M386 166.2l.6-2.6.6-1 .6.1.6-1.2.6-.5.6 1.4.6-.6.6-.5.6 2.5.6.4.6-1.6.6-.1.6 2.5.6-2.6.6-1 .6 2.3.6 3.7.6-5.6.6-.7.6 2.1.6.9.6-.8.6.4.6.2.6 2.7.6-1.8.6-1 .6-1 .6-2.5.6 0 .6-.2.6-1.8m1.8 4.3l.6.2.6 1.8.6-3.7.6-1.2.6 3.2.6-2.1.6-.4.6-1.4.6 2.2.6 1.9.6-4.4.6 3.7.6-2.4.6 1.8.6-4.1.6-.5.6 3.2.6-.5.6.3.6 1.8.6-.7.6-3.3.6 3.5m1.2.2l.6-2.3.6-.1.6 1.1.6.6.6-.6.6-2.7.6 1.8.6.1.6.7.6-3.2.6-1.5.6 2.5.6 1.4.6 1.5.6-3.2.6-1.3.6.7.6 0 .6.5.6-4 .6 1.1.6 1.1.6-.8.6.7.6.7.6 2.5.6 3.1m1.2 0l.6.6.6-1.4.6-1.1m1.2-1.6l.6-.8.6-2.5.6 3.2.6 1.7.6-1.4.6 3.4.6-.7.6 3.1.6-2.2.6-2 .6 2.9.6-1.5.6-.4.6-1 .6.4.6 2" stroke="#1028ff" stroke-width="1.1" fill="none"/>
<path d="M51 171.1l.4.7.5-3.4m.9 1.2l.5 1.3.4-2 .5 3.4.4-1.4.5-3.7.4 5.5.5 1.9.4-.4.5.3.4-1.7.5-.2m.9.5l.4.4.5 1.7.4-.5m.9-4.7l.5 1.6.4 3 .5-2.5.4 3.6.5-3.8.4-.4.5 1.5m.9.7h1m-.1 3.7l.4.8m.9-2.5l.5-4.8.4 1.9.5-1.5.4 1.2m.9 2.3l.5-.3.4 1.3.5-.4.4.8.5-3.6.4-.9.5 2.1.4.6.5-3.6m.9.9l.4-2 .5.3.4-.8.5-1.1.4-1.7m.9 3.4l.5 3 .4-2.7m.9 4.5h1m-.1-.4l.5-.7.4-1.1.5-1.1m1.3-2.7h1m-.1.7l.5-.5.4-1.8m.9 2.1h1m-.1 3.7h1m-.1 2.3l.5 2.3.4 2m.9-2l.5 2.6.4-.4.5.2.4-2.7.5 2.4.4.2.5-2.1.4 2.7.5-.9.4-1.5m.9 1.5l.5-.6m1.3.6l.5.4.4-3 .5 3.9.4-.4.5.3.4-.1m.9-3.2l.5 2.6.4-1.8.5.9.4.6m.9 1.8l.5.4.4-.8.5-2.1.4.7.5 2 .4 2.4.5-3.7.4-.3.5.4.4 1 .5.7.4-1.9.5.1.4 0 .5 2.9m.9-.5l.4-.4.5-1.5.4 1.3.5 0 .4-.5.5-2 .4.6m.9 2.2l.5-2.4m.9 2.1l.4-1.4.5.4.4-1.1.5 3.2.4-2.2.5.9.4-2.2.5.2.4-3.2.5 5.5.4 2.6m.9-.6l.5.3m1.3-2.4h1m-.1 1l.5-1.4.4 1 .5 2m.9-1.1l.4-.2.5 3.4.4-2.2.5-.5.4-1.7.5.5.4 2.9.5-1.7.4.2.5-.8.4-2 .5 2.1.4-.3.5 3.7.4-4.3.5.4.4 3.5.5-2.7.4-.4.5 2.1.4-2.7.5.7.4.3.5 1.2.4-1.5.5.1.4-1.9.5 2.2m.9-.9l.4 2.3.5-.2.4-2.8.5 5.5m.9-.9l.4-.4.5-.2.4.8m.9-2.9l.5 1.9.4-2.5.5 3.2m.9-1.5l.4.3.5 1.5.4-1.3.5-.3.4 0 .5.9.4.3.5-3.6.4-3.2.5 3.8.4-.4.5.8.4.3.5-.4.4.7.5.9.4-.3.5.2m.9-.4l.4 2.3.5 1 .4.8.5-2.7.4 1.9.5-2.5.4 1.1m.9 1.8l.5-3.3.4-.8" stroke="#80f020" stroke-width="1.15" fill="none"/>
<path d="M186 177.8l.8-2 .8-1.2m1.6-.5h1m1.4-2.9h1m.6-4h1m.6 1.5l.8-1.6m1.6-.9h1m1.4-4.3h1m.6-.7l.8-.7m1.6-2.2l.8-.5.8-1.7.8.2m1.6-.7h1m1.4-2.9l.8 1.2.8-3.8.8 2.8.8.6m2.4-1.5h1m1.4 1.3l.8-3.4.8 2.5.8-1.3.8-.5.8-.1m1.6-1.8l.8-1.4m2.4.8h1m2.2-1.3l.8-2.4.8.6m3.2.3h1m.6-2.5l.8-1 .8 1.2m1.6-2.8l.8 1.2.8-2.4.8-.4m1.6.8l.8.6.8-2.9.8 2 .8 3.4.8-.1m1.6-5.4h1m1.4-1.7l.8-.7m1.6-1.4l.8-.2m1.6-.5h1m1.4-.1h1m2.2-4.1l.8.5.8 0 .8-2.1.8.9.8-.7.8-2.7.8-2.9.8 1.5.8-.4m2.4-2.1l.8 3.6.8-.7.8-.7.8-.9.8-3.1.8.2.8-4.1.8 3.7.8-4.1m2.4 3.7h1m1.4-2.7l.8 0 .8.2.8-1.3m1.6 0l.8-3.9.8 2.3.8-4.3.8 2.8.8-1.5.8 3.1.8-2.2.8.4m1.6-.6h1m.6-4.6l.8.6m1.6-1.2l.8-.1m2.4 1.4l.8.1.8-1.4.8 1.3.8-3.2m1.6 1.2l.8 1.3" stroke="#80f020" stroke-width="1.0" fill="none"/>
<path d="M310 105.8l.7-2.1m2.1.9l.7 1.1.7 1.1.7.1.7 1.6.7-.3.7-1.3.7-1.2.7 3 .7-1.1.7 1.6.7-1.4.7 2.9.7-1.6.7-1.1.7 1.3.7 1.7.7.9.7-1.6.7.9.7 1.4m1.4-1.3l.7 3.1.7 1.3m1.4 3l.7-2.3.7.9.7-.4.7 1 .7.4.7.8.7-1.1m1.4 2.7l.7 1.2m1.4-.9l.7.5.7-.9.7-1.8.7 1.2.7.5.7.7.7 1.2.7-2.9.7 3.4.7 1.1.7-.7.7 1.1.7 3 .7-2.3.7 2.6.7 1.8" stroke="#80f020" stroke-width="1.1" fill="none"/>
<path d="M351 127.5l.7 2.6.7.9.7-1.9.7 1.9.7 2.7.7 2.5.7-2.3m1.4 4.1l.7 2.6.7.6.7-1.5.7 4.1.7 1.7m1.4.6h1m.4 5.5l.7-.8m1.4 2.8l.7 4.7.7-3.6.7 1.9.7-4.2.7 0 .7-.7.7-4.5.7.6.7-1.6.7 3.6.7-2.9.7 3.7.7 1.5.7.6m1.4.3l.7 1.6.7 1.4.7.2.7 2.3.7-.4.7.8.7 1.5.7-3.9.7 1.2.7-3.7.7.7.7.1.7 3.7" stroke="#80f020" stroke-width="1.0" fill="none"/>
<path d="M386.6 156.4l.6.9.6.9.6-4.1.6 3.9.6-5.4.6 4.3.6-.5.6-1.1.6 3 .6-.6.6.8.6-2.9.6 4 .6-1.4.6.9.6.3m1.2-2.7l.6.4.6-3.4.6 2.4.6-1.3.6 2.2.6-1 .6.9.6-1.7.6 3 .6.6.6-3.5.6.2.6-.1.6.2.6-2.2.6 1.6.6-.1.6 1.9.6-.1.6 3.5.6-1.4.6-.5.6-1.6m1.2-.7l.6-1.3.6-.1.6 1.2.6-2.5.6.9.6.9.6 1.9.6.7.6-4 .6-.4.6.7.6-.5.6-.1.6-2.3.6 3.2.6-3.2.6.6.6-.2.6 1.5.6-4.5.6 3.1.6-.8.6 1.1.6 2.1.6-1.8.6-1.7.6 4.9.6-3 .6-.8.6 1.3.6-3.4m1.2-1.1l.6 2.3.6-.9.6 1 .6 1.6.6-.8.6.6.6.2.6-1.2.6 3.2.6-.3.6-2.1.6.8.6.9.6-3.6.6 1.7.6 2.4.6-.7m1.2 2.3l.6.7.6-1.4.6-1.5.6.8.6 2.9m1.2-2.6l.6 1.7.6-.6.6.9.6.2.6-.3.6-1.1.6.2" stroke="#80f020" stroke-width="1.1" fill="none"/>
<path d="M51 168.6l.4.1.5.3.5.8.4 3.7.5-7.5.4 2.8.5 0 .4-2.4.5 2.5.4-.7.5 2.8m.9-1.7l.4-2.1.5-.4.4 2.3.5-1.6.4 1.8.5.8.4-.8.5 1.4.4 3.4.5-4.9.4-.3.5 3.2.4-3.6.5-.4.4.6.5 2.8.4 0 .5-1.8.4 1.7.5-3m.9 3.3l.4-.5.5.5.4 1.6m1.4-.9l.4-4 .5.1.4 3 .5-2 .4-1.1.5-.4m.9 2.4l.4-1.5.5 1.9.4-2.4m.9 1.1l.5-3.2.4 1.7.5.5.4-4.5m.9 4.6l.5.8.4 3.4m.9-1.3l.5-1.9.4 2.5.5.3.4-2.6.5.7.4 2 .5-2.7.4 1.8.5-1.9.4-3.8.5-1.6.4-.7.5.5.4 6.1.5-1.8.4 1 .5.5.4 2.1.5 2.8.4-.7.5-4.7.4 5m.9 1.3l.5.9.4-.6.5 3.4m.9-2.9h1m-.1-1.6l.4 3.7.5-.7.4-2.2m.9-.5l.5 1.2.4-.7.5-1.7m.9 0l.4 2.3.5 2.7.4-.8m.9-1.1l.5 2.4.4-3.2.5 3 .4 0 .5.8.4-2.5.5-.4.4-3m.9 4.2l.5-.7.4.5.5-.8.4.1.5 1.5.4-2 .5 3.3.4-1.3.5 1.5.4-1.7.5-.5m.9 3.5l.4-1.9m.9-3.8l.5 4.7.4-2.5.5-1.1.4-.4m.9 3.6l.5-3.2.4 1.5m.9 1l.5.7.4-.8.5.6m.9-1.8l.4.7.5-1.7.4 1.7.5-.1.4.4.5-1.6.4 4.7.5-1.3.4-1.3.5-.9.4.9m.9.3l.5.8.4-2.1.5-.2.4 1.7.5-3.6.4 7 .5-2.9.4-1.8.5 1.7.4-1.2m.9 1.2l.5-.5.4 1.6.5-1.6.4 2.1m.9-.6l.5-.3.4-1.3.5.9.4-.7.5 1.5.4 1 .5-4.7.4 2.7.5-3.7.4 1.6.5 1.8.4-2.2.5 3.3.4-2 .5-.5m.9.4l.4 1.4.5-1.9m.9 1.6l.4.6.5-1.4m.9 2.5l.4-.3.5-3.3.4 1.2.5 1 .4-1.2.5 1 .4 0 .5 2.4.4-2.2.5 5.1.4-5.1.5 1.3.4 1.6.5-2.4m1.3-.8l.5 1.5.4-3.4.5 6.8.4-6 .5 4 .4-3.5.5-.7.4 3.3.5-2.6.4 4.4m.9-2l.5-1.2.4 0 .5 2 .4-.3m1.8 1.9l.5-3 .4 1" stroke="#f0402a" stroke-width="1.15" fill="none"/>
<path d="M186 174.9h1m.6-.1l.8-1.2.8 1.3.8 1.6m1.6-6.1l.8-1.6.8-2 .8-2.9.8 1.7.8-2 .8-.8.8-.1.8-3 .8-1.6.8-.6.8 1m1.6-2.8l.8.7.8.9.8-1.3.8-.6.8-1.4.8-.9.8 1.3.8.2.8-1.5.8-1.6.8-1.7.8-3 .8 3.1.8.5.8-3.6.8-.4.8 3.2m2.4 1.7h1m.6-1.6h1m.6-.8l.8 1.8.8-2.2m1.6-3.6l.8 3.6.8-2.4m1.6-.8h1m.6-2.8l.8-.1.8.6m1.6-1.1l.8-2.4.8.2m2.4-3.5l.8 3.3m1.6 1.1h1m.6-2.7h1m1.4-1.5l.8.2.8.3.8 1 .8-.5m1.6-2.4h1m.6-3.3h1m.6 1.2l.8-3.6.8 1.5.8-.1.8-2 .8.8.8-.8m3.2 1.2h1m.6-2.3l.8.4m2.4-3.9h1m.6-2.7l.8 1.5.8.1m2.4 1l.8-1 .8-2.2.8.7.8-3.7.8 2.7.8.2m1.6-2.8l.8 2.2.8-1.6.8-1.6.8-1.4.8-1.1m1.6-1.9l.8-3.6.8 3.3.8.7m2.4-1.4l.8-.6m1.6-.2l.8-1.8m1.6-1.8l.8-.4.8.1.8 2.1.8-3.2.8-1.7m1.6 5.6l.8-3.5.8 1.8m2.4-4.3h1m.6 1.4l.8-2.7m3.2-1.4l.8.9.8-1.5.8-.8" stroke="#f0402a" stroke-width="1.0" fill="none"/>
<path d="M310 102.2l.7.2.7-2.3m1.4 2.5l.7.1.7.6.7 1.5.7-.2.7 1.9.7-.5.7.6.7 1.4.7-2.1.7 1.9.7-.1.7-1.1.7-.8.7.9.7.3.7 2.1.7.5m1.4-.1l.7-.7.7 1.2.7.1.7 1.5.7 1.3.7-3.2.7 1.5.7-.9.7 1.4.7.5.7-.8.7 2.5.7-.9m1.4.1l.7.9.7-.4m1.4 3.3l.7-.2.7.5m1.4-.4l.7 2.7.7-1.9.7 2.3.7.4.7-1.1.7.4.7 1.4m1.4.4l.7-1 .7.7.7.7" stroke="#f0402a" stroke-width="1.1" fill="none"/>
<path d="M351 125.2l.7-2.3.7 5.4.7-.6.7-.4m1.4.9l.7 2.4.7-.1.7.7.7 1.5.7 3.5.7 1 .7 1.2.7.6.7 4.3.7-4.2m2.1 5l.7.1.7 4.1.7-1.7.7 4.6.7-6.5.7-1.2.7-.2.7.8.7 2.1.7-8.7.7.7.7 1.3.7 2m1.4 3.6l.7-.7.7-.4.7 1.3.7 1.8m2.1 1.2l.7 5.4.7-1.2m1.4 1l.7-4 .7 3 .7-5.5.7 3.3.7 3.4" stroke="#f0402a" stroke-width="1.0" fill="none"/>
<path d="M386 148.6l.6-2.6.6 3.4.6.3.6 1.3.6-2.3.6 1.1.6.9.6 1.9.6-3.7.6.8.6.8.6-1.5.6.1.6.6.6-3.4.6 5.2.6-2.4m1.2 2l.6-1.2.6 2.9.6-.6m1.2 1.1l.6-1.1.6-2.3.6 1.6.6.6.6-3.7.6 1.9.6 1.9.6-1 .6.2.6-3.4.6 1.1.6-1 .6.7.6-1.7.6-1 .6 1.4.6 1.8.6-2.2.6 1.7.6 2 .6-2.2.6-1.2.6-.7.6 2 .6-.8.6 1.8.6-2.1.6 1.2.6-1 .6-.7.6 2.4.6 1.6.6-4.5.6 4.6.6-1 .6.7.6-1.2.6 1.4.6.5.6 0 .6-1.9.6-4.9.6 3.3.6-.2.6-.1.6 1 .6-.6.6 2.4.6-.7.6.4.6-.5m1.2-3.2l.6-3.2.6 4 .6-1.2.6 1.5.6-2.6.6 0 .6 1.1.6 1.5.6-.1.6 2.7.6-2.4.6 2.6.6-.4.6-.5.6.5.6-.1.6-.3.6.6.6-1.3.6 2.9.6-.6.6 1 .6-3.4.6 2.2.6-.3.6-.5.6-.8.6 0 .6 1.6.6 1.6.6.4.6-.5.6.8" stroke="#f0402a" stroke-width="1.1" fill="none"/>
<path d="M51 137.2l.8-1.1.8 3.1.8-2.1.8-1.9.8.5.8-.5.8 1.2.8-1.1.8 1.1.8.1.8 2 .8-1.6.8 1.7.8-1.6.8.3.8-.5.8.5.8-.8.8.5.8-1.2.8 2.1.8 1.4.8-1.7.8 1.5.8 1.1.8-.5.8-.3.8-1.3.8-.9.8-.1.8.4.8-1.4.8.6.8-.5.8-.5.8-.1.8-1.5.8 3.7.8-1.1.8 1.5.8-.6.8.8.8 1.1.8.5.8.9.8-1.8.8-.2.8 1.8.8-1.8.8 2 .8 0 .8-.3.8.4.8.3.8-1.4.8 1.9.8-.4.8.8.8.8.8.3.8 1.2.8-1.5.8 1 .8-2.2.8 1.4.8-.7.8-1.7.8 4.6.8-3 .8 2.3.8-.3.8 0 .8-.2.8 1.7.8-1.7.8-1.1.8 0 .8-.9.8-2.2.8 1.2.8-.7.8.9.8-2.1.8 2 .8-.9.8 1.5.8.2.8-2.3.8 1 .8.8.8 0 .8 4.1.8-.4.8 2.2.8.2.8-1 .8 1.6.8-1 .8-2.1.8.1.8.8.8-.4.8 1.5.8-.3.8 1.8.8 1.6.8-2.2.8 2.4.8 0 .8-.9.8 2.1.8-2.9.8 1.5.8-.8.8-1.9.8 2.1.8.4.8 1 .8-1.1.8.4.8 1.3.8.2.8.3.8.9.8-1.9.8.7.8 0 .8 1.1.8 0 .8.3.8 0 .8.3.8-.4.8 1.4.8-1 .8.6.8 1.4.8.5.8.9.8-8 .8-8.2.8-6.6.8-8.5.8-10.1.8-2.9.8-3.6.8-1.2.8-2.3.8.2.8-.4.8-.8.8 1.7.8-2.3.8.1.8-1 .8 1 .8-1.1.8.3.8.9.8 1.3.8.8.8.1.8-.2.8-.3.8 1.9.8-1.9.8.4.8-1.3.8 1.1.8 0 .8 1.1.8.3.8 1.3.8-.6.8 4 .8.5.8-1.5.8.1.8 3.1.8 0 .8-2.2.8 4.5.8-1.1.8 3.4.8 1.5.8-1.2.8.4.8 1.1.8-.7.8 1.8.8-.3.8.3.8 2.2.8-.5.8-.1.8 1.3.8-1.2.8 2.2.8-1.1.8-.1.8.3.8 1.8.8.5.8-2.2.8 2.1.8 0 .8-.3.8.2.8.6.8-4.5.8 1.1.8-.1.8-1.6.8-.4.8.5.8-.1.8 1.2.8.4.8.3.8-3.5.8.4.8-1 .8-.5.8.6.8-2 .8 1.1.8.5.8-1.7.8-1.9.8.1.8.1.8-.7.8-.5.8.2.8-1.2.8 2.1.8-1.6.8 1 .8.1.8.5.8.4.8-2 .8 0 .8.2.8.8.8-1.5.8-.4.8 1.4.8-2.6.8-.6.8 2.3.8-2.1.8.6.8.6.8-.9.8.6.8-1.2.8-1.6.8-.7.8 1.6.8-1.7.8-2.4.8 2.3.8-1.2.8-.5.8 1.8.8-.9.8-1.1.8-1.5.8-2.1.8.2.8.9.8 0 .8-3 .8 1.4.8 1.4.8.7.8-1.4.8.3.8-.7.8.6.8.7.8.4.8-.8.8-.4.8-.7.8.8.8-.7.8-.3.8-.4.8 1.1.8-1.7.8.1.8.7.8 1 .8-.1.8-2.1.8 2.5.8-.7.8.1.8-.7.8-1.7.8-.4.8.6.8-.7.8-4.3.8-.7.8 4.1.8-1.9.8.9.8.5.8-.7.8-2.4.8 1 .8-.5.8-3.8.8 1 .8-.5.8-1.6.8-4.4.8-4.6.8-6.1.8-17.5.8-7.2.8-3.2.8 1.3.8-.4.8 1.6.8 3.3.8-.4.8 2.6.8-.7.8.8.8-.7.8.5.8.4.8.4.8 2.8.8.3.8.4.8-2.8.8-.5.8 1.3.8 1.2.8.9.8.6.8 2.7.8-1.1.8 1.5.8-.5.8 0 .8 2.4.8-.9.8 1.2.8.4.8 1 .8 3.6.8-1.2.8 2.1.8-1.1.8 1.1.8 1 .8 1.8.8-.9.8 2.6.8-.6.8 2.9.8 3.2.8 2.5.8 4.1.8 3.7.8 1.7.8.6.8 3 .8-.3.8 2.7.8 1.5.8 1.2.8 5.6.8 2 .8.3.8-1.8.8-2.6.8-.9.8.5.8-.1.8 1.4.8.4.8 2.1.8 2.7.8 3.5.8 1.6.8 1.1.8-2.4.8-3.5.8.8.8-3 .8-1.2.8-4.9.8-2 .8-.8.8-.4.8 1.3.8 4.2.8 3.4.8 3.4.8.6.8.8.8-.5.8.5.8.7.8-.9.8-.4.8 2.4.8-1.8.8 1.7.8-3 .8-1.5.8-.7.8-3.2.8 1.4.8 0 .8-.5.8 2.6.8-1.1.8 1.5.8-3 .8-.1.8.8.8 1.4.8-1.8.8.2.8-.3.8.9.8-.2.8-.4.8-1.3.8-.6.8-1.1.8 1.1.8.1.8.1.8-.3.8.6.8 0 .8-.1.8-3.5.8 4.6.8-2.5.8 1.8.8.5.8 1.2.8-.7.8.8.8-.3.8 1.4.8-1.2.8-.9.8-.5.8 1.8.8-.2.8-2.1.8.5.8.7.8.1.8 1.6.8.1.8 1.3.8-3.9.8-.5.8.5.8-3.1.8-1.4.8-1 .8-.2.8-1.7.8-.9.8.3.8-2.3.8-.5.8.3.8-1.5.8.6.8 1.2.8.7.8 1.7.8 1.9.8-.8.8 2.5.8 1.6.8-2.3.8.1.8 2.6.8-.3.8.5.8-1.3.8.4.8 1.3.8.6.8-1.5.8 1.3" stroke="#1028ff" stroke-width="1.9" fill="none"/>
<path d="M51 144.9l.8 1.2.8-2.1.8 1.9.8-.6.8-.5.8.6.8.9.8-.8.8-.2.8 0 .8.4.8-1 .8-.2.8-.8.8.9.8-.4.8-1.2.8 2.5.8-.2.8.6.8.8.8-.1.8-1.6.8-1.9.8 1.1.8-.7.8-1.6.8-1.9.8 2.7.8-.5.8.3.8.9.8-.9.8.7.8.7.8 1 .8-.3.8-.6.8 2.6.8-.7.8.1.8 3.7.8 1.4.8-1.5.8-2.7.8.8.8 1.3.8-1.1.8-.6.8 3.1.8-1.3.8-.6.8.4.8-.2.8 1.4.8-1.6.8 1.8.8.4.8.6.8-.1.8-1.7.8 1.4.8.6.8 1.5.8-.7.8-.1.8 1.5.8.7.8 1.4.8-3.4.8 1.1.8-3 .8 1.3.8.9.8 1.3.8-.2.8.8.8 1.8.8-.8.8-1.5.8.5.8.9.8 0 .8.7.8 1.3.8-1.2.8 1.7.8-1.1.8-1.1.8-.1.8.2.8 3.2.8-2.8.8 1.8.8 0 .8 1.5.8 2 .8-1.6.8 1.1.8-2.7.8.6.8 1.2.8-.4.8 1.2.8-1.2.8 1.2.8-.5.8-.2.8-1.4.8.4.8 2 .8-1.1.8-1.5.8-.2.8 1.4.8.3.8 2.8.8-.9.8.2.8-.2.8-.5.8 1.9.8-1.1.8.1.8.6.8 1.5.8-1 .8-1.3.8.2.8-.3.8-.2.8.8.8.8.8 1 .8-1.4.8 1.6.8-.2.8 0 .8-1.2.8-3 .8-8.7.8-6.7.8-5 .8-2.4.8-8.1.8-2 .8-2 .8-2.5.8-2.7.8-2.9.8-2.7.8 2.8.8-.2.8.3.8.2.8 2.5.8-1.8.8.2.8.3.8.8.8-.4.8.6.8-1.7.8.4.8-1.7.8 2 .8-.5.8-.3.8.3.8 2.1.8 0 .8 1.4.8-2.1.8 2.8.8.7.8 1.2.8-.7.8.7.8.7.8-1.4.8 1.1.8-1.7.8 2.2.8 2.3.8.3.8 1.2.8.4.8 1.4.8-.4.8-2.6.8-.1.8 3.1.8-1.1.8.4.8 1.5.8-1.4.8-.8.8 1.1.8.8.8.2.8-1.4.8.8.8-.9.8-3.3.8 0 .8 1.5.8-1.3.8 2.7.8-3.1.8 1.8.8-2.5.8.5.8.6.8-1.8.8-2.1.8 1.2.8.6.8.1.8 1.4.8-2.2.8-1.3.8-.3.8.4.8.5.8.4.8 0 .8-.4.8-2.3.8-.6.8-1.3.8 1.5.8-1.8.8-1.6.8 2.9.8-1 .8 1.8.8-2.1.8-.5.8.9.8-.2.8.5.8-2.8.8-1.5.8.9.8.1.8.3.8-1.3.8 1.5.8-2.1.8 1.6.8-1.3.8-1.6.8.5.8.9.8.3.8-1.3.8 2.2.8-2.9.8.2.8 0 .8-1.1.8-1 .8-.3.8.5.8-.6.8.9.8-.9.8.7.8-.2.8-1.2.8 1 .8-1.8.8-1.8.8.3.8 1.4.8-.1.8-.8.8 1.4.8 1.3.8-2.4.8 1.2.8-.6.8 1.7.8-2.9.8 2.2.8-1.6.8-.8.8.5.8-.6.8-.4.8 2.6.8-1.4.8-.4.8 1.2.8-2.8.8.7.8-1.4.8-1.7.8 1.5.8-.2.8-1.5.8 0 .8.3.8-.2.8-1.4.8-2.2.8 1.7.8-.3.8-.8.8 0 .8-1 .8.6.8-1.4.8-1.7.8-.2.8-3.1.8.4.8-2.2.8-4.7.8-1.9.8-4.2.8-6.7.8-8.9.8-7.1.8.4.8.8.8 1.3.8 3.2.8-3 .8 2.5.8 2.8.8-1.5.8 1.1.8 2.4.8.7.8-.8.8.7.8.8.8-.4.8 1.7.8.3.8 0 .8-.2.8 1.2.8-.6.8 0 .8 2.4.8.3.8-1.1.8 2.4.8-.6.8.8.8-.1.8.5.8-.4.8 1.5.8.5.8 1.7.8 1.2.8.4.8 3 .8-.3.8 1.4.8.2.8 2.5.8.7.8-2.3.8 4 .8 3.1.8.8.8 1 .8 2.1.8 1.5.8 2.1.8 2.7.8 6.6.8.6.8 1.7.8 2.1.8.7.8 2.5.8-.4.8-.9.8 1.3.8-2.1.8.2.8.9.8-.3.8 1.6.8 2.8.8 1.4.8-.9.8 1.6.8-2.6.8-.8.8-.9.8-.2.8-1.9.8-.9.8-2.4.8-1.7.8-2.9.8 1.7.8 0 .8 2.1.8 3.2.8 1.6.8 1.2.8 1.6.8 1.9.8 2.1.8.5.8 1.8.8 1.2.8-.5.8 2 .8-1.9.8-2.2.8-5 .8-1.2.8 1.2.8-.8.8 1.6.8.2.8.3.8 1.4.8-3.3.8 2.3.8.9.8 0 .8-1.9.8-2 .8 2.6.8-.7.8.2.8 0 .8-.2.8-1.3.8 1.2.8-.5.8 1.8.8.3.8-1.5.8.1.8 2.7.8-2.9.8-.1.8 2.9.8-.5.8-.7.8.2.8 2.1.8-1.5.8.2.8-1.3.8.1.8.1.8-2.2.8-.9.8.3.8 1.9.8-1.6.8 1.2.8-1.1.8.7.8.1.8.9.8-2.1.8.2.8 1.8.8-1.6.8-2.2.8-1.3.8-1.5.8 1.1.8-1.9.8-.1.8-2 .8-.3.8.7.8-.8.8.6.8-1 .8-.2.8 2.3.8-.1.8 1.2.8-.4.8-.7.8.3.8-1.2.8 2.3.8.1.8 1.1.8 1.7.8-.6.8 2.9.8-2.4.8-.5.8 0 .8-.7" stroke="#5ef0f8" stroke-width="1.7" fill="none"/>
<path d="M51 152.3l.8.1.8 2.2.8.2.8-1.9.8.2.8.2.8-.2.8-.7.8.5.8 2.2.8-2.8.8 3.4.8-.6.8-.3.8 1.5.8-1.8.8-.3.8-.4.8 0 .8-2.3.8 2.6.8-2.7.8.4.8.8.8-.2.8-.5.8 2.2.8-3 .8 4.2.8-.6.8.8.8.2.8-1.4.8.5.8-1.5.8.4.8 1.9.8 1.8.8-1.1.8-.1.8.8.8-1 .8.9.8.9.8-1.1.8-1.5.8-2 .8 2.3.8-.1.8.4.8.8.8-.3.8-.5.8 1.3.8.9.8-1.1.8.9.8 1.2.8 2 .8 1.3.8-3.7.8 2.4.8.2.8.5.8.6.8-.2.8-1.6.8-.4.8 2.6.8-1.8.8-.4.8 1.1.8-1.7.8 2.1.8.8.8.8.8-1.7.8.9.8 1.6.8-4.2.8 2.4.8-.9.8 1.3.8 1 .8 3.2.8-1 .8-.8.8-.9.8 1.8.8-.5.8-2.4.8.1.8 1.5.8-1 .8 1.5.8.6.8 1.2.8.3.8-1.5.8.3.8-3 .8 1.1.8.1.8 1.1.8-.2.8 2.9.8-1 .8.8.8-.4.8 2.2.8-1.9.8 2.9.8-2.2.8 2 .8-1.7.8-1.6.8.8.8-.9.8.4.8-.1.8.4.8-.1.8 0 .8 1.5.8-1.4.8.3.8 3.3.8-1.3.8-.4.8.1.8 1.4.8 1 .8-1.2.8-1.5.8.9.8 2.4.8-1.1.8-.4.8-1 .8-2.7.8-4.6.8-6.3.8-3.7.8-4.8.8-5 .8-4.6.8-.1.8-3.4.8 3.6.8-1.6.8-1.1.8-1.5.8-1.4.8-.2.8.3.8-1.2.8.8.8-.3.8-1.5.8-1.6.8 1.1.8-1.4.8 1.4.8-.5.8-.3.8.1.8-.4.8 1.8.8-1.2.8 2.2.8-1.7.8 1.1.8.6.8 1.9.8 1.1.8-1.3.8.8.8-.8.8 2.5.8-3 .8 1.3.8 0 .8 1.4.8-.5.8-1.1.8 1.6.8-1.2.8.3.8-.2.8.1.8 2 .8-.2.8.6.8 0 .8-2.1.8 1 .8-2.3.8.6.8.4.8-1.4.8 2.7.8 1.6.8-2.1.8.8.8-1.4.8.6.8-.4.8.8.8-1.8.8 2.9.8-.8.8-1.9.8-.5.8-1 .8.4.8-.7.8-.2.8-1.7.8.4.8 1 .8-1.3.8 1 .8-.2.8-.8.8-2.6.8-1.4.8.3.8-1 .8.7.8-.5.8.6.8 1.3.8-.8.8.9.8-2.4.8-.5.8-.7.8-.5.8 1.3.8-2.2.8.5.8-1.7.8-.2.8-.9.8.1.8.6.8-.2.8-.9.8.5.8-2.2.8-.7.8-.6.8 2.1.8-.1.8.6.8-.8.8-.4.8-.9.8-.1.8-2.1.8-1.3.8 0 .8-.1.8 1.8.8-1.2.8.3.8-.7.8-1.1.8 1.2.8-2.3.8 1.8.8-.4.8.3.8.7.8.9.8-.3.8.1.8-2.3.8-.2.8.2.8-1.6.8-.2.8-3.1.8 1.7.8-.3.8-.1.8.2.8-.6.8-1.2.8-.7.8-.7.8 1.9.8-4.1.8 2.1.8-1.9.8 2.1.8-1.7.8-1.1.8 1.1.8-.7.8 1.3.8-1.2.8.2.8-1.7.8-.8.8.5.8-1.9.8-.9.8-1.4.8-.2.8-.1.8-.5.8-2.1.8.7.8-.3.8-.7.8-1.6.8-2.8.8-4 .8-1.7.8-2.5.8-4.1.8-10.6.8-1.8.8-1.2.8 4 .8.3.8 1.8.8 1.9.8 1.7.8 1.4.8.6.8.1.8-1.4.8.5.8 1 .8.4.8 1.5.8-1.3.8 1.7.8 0 .8.6.8-.2.8 1.9.8-.9.8-.2.8 1.1.8 2 .8-1.1.8-.5.8 2.6.8.2.8-.1.8.9.8 1.5.8-.1.8 3.6.8-1.6.8 1 .8.8.8 2.4.8.4.8.7.8.2.8 4.8.8 1 .8-1.9.8.5.8 3.4.8-.7.8 1.3.8 3 .8 1.4.8 3.2.8 4.7.8 5.7.8 2.4.8.8.8 1.3.8 1.6.8 0 .8 3.1.8-2.4.8-.3.8-2 .8 1 .8 0 .8 1.5.8 1.8.8 3 .8 1.7.8 2.1.8-1.5.8-.9.8-3.5.8.4.8-3 .8-1 .8-1.5.8 0 .8-1.9.8-2 .8.2.8 2.2.8 2.5.8-.3.8 3.8.8 1.3.8-1 .8 2 .8 1.1.8 1 .8 1.5.8 2.7.8-.9.8 1.6.8-.3.8-3.6.8-2.8.8-1.2.8 1.6.8-.1.8.8.8 3.2.8-3.7.8.7.8-.8.8 1.9.8-3.1.8.7.8.3.8 2.6.8-.9.8 2.1.8-3.2.8 3 .8-.9.8.4.8.6.8-1.6.8.2.8-1.4.8.9.8 0 .8 0 .8 1.5.8.9.8.2.8-1.6.8 1.2.8-1 .8-1.2.8 1.2.8-.3.8 1.3.8.2.8-2.2.8 1 .8-1.7.8-.9.8.4.8-.2.8-.4.8 2.3.8-1 .8.1.8.2.8-1.3.8 0 .8-1.1.8-2.1.8.7.8-1 .8-1.8.8 0 .8-1.8.8.4.8-.3.8-.4.8 1.7.8.3.8-.5.8-.1.8-2.6.8 2.9.8-.7.8-1.2.8.3.8 2.7.8 1 .8-1.3.8 2 .8.4.8-.7.8 1.3.8 1.4.8.2.8.7.8 1.2.8.3.8-1.9" stroke="#dd38d8" stroke-width="1.7" fill="none"/>
<path d="M51 164.3l.8 1.1.8-.2.8-1.8.8-.5.8.2.8.1.8 1.9.8-1 .8-.5.8-.8.8 2.6.8.3.8-2.2.8-1.2.8 1.3.8 1.1.8-.7.8-1.4.8-1.1.8.9.8-.7.8 1.1.8 1.9.8.3.8.6.8.3.8.5.8.5.8-3 .8 1.4.8-1.4.8-1.5.8.7.8-.5.8 1.9.8.7.8-.8.8 1.8.8-.3.8-1 .8.6.8.3.8-.2.8-.5.8.3.8 1.8.8.5.8-2.1.8 1 .8 1.5.8.5.8.9.8-1.4.8.8.8 1.2.8 0 .8.5.8-.8.8-.6.8.9.8 1 .8.7.8-1.6.8 1.3.8.4.8.9.8.6.8-2.6.8 1.6.8-.8.8 1.7.8-3.9.8 2.3.8-1.9.8 1.6.8.6.8-.9.8.3.8 1.1.8.3.8-1.1.8-1.5.8.8.8 1.3.8-1.3.8-.8.8 2.6.8.1.8-.1.8 3.8.8-1.4.8-.5.8.3.8-.7.8.4.8-1.4.8.8.8 1.4.8.1.8-.6.8-1.6.8.6.8 1.6.8-.5.8.9.8 1.2.8-.7.8.7.8-.4.8 2.3.8-2.1.8-1 .8-1 .8 1.9.8-.7.8.6.8.6.8-.7.8.3.8.6.8-.8.8.7.8.4.8-1.2.8 2.7.8 1.8.8-1.4.8 2.9.8-1.2.8-1.9.8.2.8.8.8-1.1.8-1.4.8 2.8.8-.4.8.2.8-1.5.8 2.1.8 2.6.8-6.6.8-1.8.8-4 .8-3.1.8-4 .8-3.2.8-1.4.8-.4.8-2.9.8-1.7.8-.5.8-.7.8-3.2.8-.8.8.8.8-1.6.8 1.3.8-2.5.8-.5.8.8.8-2.6.8-.9.8-.1.8-.9.8-1.1.8 3.1.8-1.6.8-.2.8 1.8.8 1 .8-.6.8-.8.8-.6.8 1.5.8.7.8 1.3.8.1.8-1.5.8-1.2.8-.2.8-.4.8.4.8-1.6.8 1.7.8.9.8-.4.8.9.8-.7.8 1.5.8.5.8.2.8-.7.8-.8.8-.2.8.4.8 1.7.8.4.8.2.8-1.2.8 2.6.8-3.6.8 1.3.8-1.7.8 0 .8.3.8-2 .8.2.8-.5.8-.2.8-1.1.8-.6.8 3.2.8-1.6.8-1.2.8 2 .8-3.3.8.7.8.6.8-3.2.8.1.8.6.8-1.7.8 1.3.8-.5.8-.5.8-2.1.8.8.8-.4.8-.6.8.5.8.3.8-.9.8-.8.8 1.8.8-1.8.8-2.2.8 1.8.8-.3.8-.4.8.9.8-.6.8 0 .8-.9.8-.8.8-2.7.8-1.1.8.4.8-.6.8-2.5.8.9.8-1.5.8 2.5.8-.8.8-.2.8 1.4.8-3.1.8-.4.8-.1.8-.9.8.7.8-2.2.8.3.8-.8.8-1.3.8-.5.8-.7.8-.5.8-2.7.8 2.7.8-2 .8 1.8.8-2.3.8.9.8-.9.8.7.8.1.8 1 .8-1.5.8.3.8-1.6.8-.3.8-.2.8-.5.8-.4.8.6.8-.5.8-1.3.8.2.8-.9.8.1.8.6.8 1.4.8-4.8.8 1.2.8-.4.8-.6.8.8.8-1.3.8-.2.8-.9.8-.2.8-.6.8-1 .8-.1.8-.5.8.4.8-1.2.8-1.4.8-.6.8-1.3.8-1.6.8 0 .8.3.8-2.7.8.4.8-1.1.8-2.6.8 1.9.8-5.2.8-1 .8-3.7.8-3.5.8-5.9.8-1.6.8.4.8 2.9.8 2.9.8-2.1.8 2.8.8 2.4.8.9.8-.1.8 4.6.8 2.3.8-.7.8.8.8-1.8.8.6.8.6.8.4.8-2 .8 1.4.8-.2.8-.6.8-.6.8 1 .8 0 .8 1.5.8-.9.8 2.1.8.9.8.6.8-2.3.8 3.8.8-.3.8 1 .8-.4.8-1.5.8 3.4.8.3.8-1.6.8 2.3.8 1.5.8 2 .8 1.6.8-.4.8 2.9.8.7.8 2.7.8 2.4.8 2.9.8-.6.8 4.2.8.1.8 4.1.8-.3.8 2 .8 3.3.8 2.3.8.9.8 3 .8-.5.8 2.4.8 2.8.8-.5.8 2.7.8.1.8-1.6.8 1 .8-2.5.8 1.3.8-3.7.8 1.6.8-.8.8-.1.8-1.1.8.7.8.1.8-.7.8 0 .8 1.8.8-1.1.8-1.1.8 4 .8.8.8-1.9.8 2.8.8-.7.8.7.8-.6.8.9.8.7.8 1.6.8 1.6.8.1.8-.4.8-1.1.8-.9.8-.4.8.7.8-.2.8-.3.8 1.1.8 2.4.8-.4.8.9.8.5.8-1 .8-1.4.8.9.8.2.8.3.8-.4.8.4.8 1.3.8-.9.8-.9.8-.8.8 1.6.8-.5.8-1.3.8.4.8.5.8-2.3.8 1.7.8-2.3.8 4.4.8-2 .8 1.7.8-1.2.8.5.8.4.8-1.5.8 2.9.8-2.7.8 1.1.8-.8.8.1.8 1.8.8-2.3.8 1.4.8-.8.8 1.5.8-.4.8-.6.8 2.1.8 0 .8.3.8-.3.8.3.8 1.2.8-1.4.8-.8.8-1.5.8-.7.8.5.8 1.4.8.2.8-.7.8 2.8.8.1.8-1.6.8.6.8-1.9.8 2 .8-.4.8-2.1.8 2.7.8-2.7.8 2.6.8-.2.8 1.8.8 1.4.8-.2.8-2.5.8 2.4.8 2.8.8-2 .8-2.3.8 2.8.8.4" stroke="#ff8020" stroke-width="1.7" fill="none"/>
<path d="M51 350.5H164" stroke="#9acd32" stroke-width="1.6"/>
<path d="M51 331.5H164" stroke="#b8e080" stroke-width="0.8"/>
<path d="M77.3 350V341.1M77.9 350V341.9M53 350V347.7M102.2 350V346M102.3 350V346.2M57.2 350V346.4M88.5 350V341.5M67.5 350V347.3M145.1 350V344M149.6 350V345.2M140.2 350V344.7M89.7 350V347.9M92.9 350V320M67.5 350V345.3M75.5 350V346.4M146.4 350V347.9M92.7 350V348M98.6 350V344.9M69.3 350V320.8M108.3 350V347.3M92.4 350V320M131 350V346.2M91.1 350V335M111.4 350V346.9M93.2 350V340.5M140 350V320.9M130.4 350V347.4M87.8 350V347.9M151.8 350V342.8M151.5 350V343M131 350V320M77.8 350V347.7M144.4 350V346.2M86.3 350V347.4M138.9 350V330M160.7 350V321.9M100.7 350V336.6M101.3 350V347.8M109.7 350V320M91.9 350V347.2M65.9 350V337.4M121.5 350V342.2M156 350V330M82.9 350V320M161.3 350V340.3M148.3 350V335.4M66.7 350V345.6M69 350V339.3M111.4 350V342.4M92.1 350V337.4M69.6 350V342.2M146.9 350V347.1M115.6 350V345.4M75.4 350V334.6M132.1 350V333.2M135.8 350V322.6M113.3 350V341.1M157 350V347.5M141.9 350V339.7M110 350V320M158 350V320M118 350V347.5M57.7 350V344.8M83.6 350V347.3M157.4 350V346.1M83.4 350V337.3M61.3 350V320.3M140.2 350V345.9M128.7 350V343.7M137.1 350V344.5M122.3 350V333.9M84.8 350V341.4M85.6 350V348M70.6 350V344.8M90.8 350V337.5M76.9 350V346.3M147.1 350V338.7M129.6 350V336M75.8 350V345.7M72.7 350V320M140.4 350V345M113.4 350V342M116.4 350V323.1M132.5 350V347.7M70.2 350V342.9M149.2 350V324M60.1 350V340.6M57.9 350V347.7M145.4 350V346.5M54.3 350V320.2M59.4 350V347.4M103 350V346.2M159.2 350V338.8M126.7 350V331M61 350V343" stroke="#9acd32" stroke-width="1.3" fill="none"/>
<path d="M127.4 361V354M141.4 361V350.4M102.2 361V356M90.3 361V340.4M55.4 361V357.3M154.4 361V356M105.9 361V357.3M147.9 361V350.2M123.8 361V347.7M121.5 361V349.5M97.3 361V351.7M61.6 361V345.8M123.5 361V353.3M121.1 361V356.4M106.3 361V356.9M98.7 361V348.1M131.6 361V350.2M99.6 361V355.1M136.6 361V356M136.6 361V354.1M153.4 361V356.3M136.3 361V356.2M151.9 361V349.6M92.3 361V357.7M68.1 361V352.8M132.5 361V356.2M132.8 361V357.5M126 361V350.9M135.5 361V355.1M111.4 361V340" stroke="#ff7f1a" stroke-width="1.3" fill="none"/>
<path d="M163 348.7l.8-18.2.8-21.1.8-19.3.8-19.9.8-20.2.8-6.9.8-9.2.8-4.3.8-3.2.8-1.9.8.6.8-.2.8-.3.8 1.4.8-.1.8 1.1.8-1 .8 1.5.8.2.8 1.1.8.4.8 1.4.8 1.7.8 1.1.8-.9.8 1 .8 1.4.8.5.8-.2.8 1.2.8.5.8.5.8.1.8 1 .8.7.8.9.8-.2.8.6.8 0 .8 1.2.8 1.2.8 0 .8 1.7.8-1 .8 1.8.8.9.8.4.8.7.8-.3.8.2.8 2.6.8-1.2.8.9.8 1.2.8-.6.8.9.8 1.2.8-.2.8-.3.8.3.8 1.2.8 1.6.8 1.7.8-2.1.8 1.3.8 1.2.8-1 .8 1.6.8.8.8-.2.8.4.8.9.8-.6.8 1.1.8.3.8.2.8 2.5.8-.3.8.8.8 1 .8 1 .8 0 .8 0 .8.7.8-.5.8 1 .8-.2.8 1.1.8.6.8 1.3.8 0 .8.2.8-.2.8.2.8 2.8.8.1.8-1.8.8 2.3.8-2 .8 1.4.8.7.8.7.8.9.8-.5.8.2.8-.1.8.2.8.7.8-.6.8 1.9.8.1.8-.4.8 1.7.8-2.3.8 2.2.8.1.8 0 .8-.6.8 2.3.8.3.8-.8.8 1.7.8-.5.8 1.1.8-.8.8.4.8.3.8.5.8 0 .8.8.8-.2.8-.2.8 0 .8-.3.8 2.1.8.8.8-.8.8.2.8 0 .8 1.5.8-.3.8.6.8 0 .8 2.2.8-1.4.8-.3.8 1 .8-.1.8-.1.8.5.8.2.8 1.5.8.4.8-.1.8-.4.8 1.2.8-.3.8-.2.8 0 .8.1.8.1.8-1 .8.5.8 1.9.8-1.4.8-.1.8.9.8 0 .8.6.8-.3.8-.7.8 1.9.8.5.8.2.8-.1.8.9.8-.5.8-.3.8.4.8-.1.8.7.8.1.8.5.8.4.8 1.4.8-.1.8-.2.8 1.2.8.2.8 2.2.8.4.8 1.2.8-.1" stroke="#9acd32" stroke-width="1.8" fill="none"/>
<path d="M318 299.5l.5-.8.5 3.1.5-.3.5 5.2.5-4.8.5 1 .5 3.7.5-2.5.5.8.5-1.6.5 8.3.5-4.5.5 1.5.5-2 .5.5.5-.1.5 1.4.5-.5.5-.1.5.9.5-1.1.5 0 .5-1.7.5 4.1.5 3.1.5-3.4.5-.6.5 6.3.5-5.1.5 3.8.5-5.4.5 1.3.5-3.4.5 3.6.5-.2.5 2.8.5 1.7.5-4.2.5 9.9.5-6 .5 2.1.5.4.5.4.5-1.3.5-.5.5-.9.5-4.3.5 9.6.5 2 .5.2.5.6.5-6.5.5 2.1.5 1 .5-.9" stroke="#9acd32" stroke-width="1.8" fill="none"/>
<path d="M345.5 328.4l.8-39.3.8-8.1.8-.4.8 1.1.8-.4.8-.5.8.6.8 1.1.8-.4.8-.5.8-.3.8 1.7.8.1.8.3.8-.7.8-.8.8 2.4.8-2.2.8 3.2.8.8.8.2.8-1 .8 1.6.8-.5.8.4.8 1.7.8 1.3.8 3.2.8-1 .8.9.8-.5.8 1.6.8.9.8.1.8.1.8-.4.8 2.6.8-.6.8 1.8.8.1.8.5.8-2.6.8 1 .8 1.6.8 1.1.8-.7.8-.1.8 4.1.8-1.3.8 2.5.8 1.6" stroke="#9acd32" stroke-width="1.8" fill="none"/>
<path d="M387 307.9l.4 3.3.4-3.6.4 3.1.4-1.6.4 2.1.4-7.5.4-4.7.4 9.6.4-4 .4-3.8.4 2.7.4-.2.4 1.8.4 0 .4-2.9.4 2.1.4 7.3.4-7.5.4 5.4.4-2.4.4-2.1.4 2.1.4-1.6.4-6.2.4 10.1.4-4.1.4.3.4-5.4.4 13.8.4-3.3.4-4 .4 3.1.4.2.4-1.5.4-1.7.4 1.5.4 2.1.4 2.7.4-3.8.4 2.8.4 1.5.4 2.5.4-1.3.4-2 .4 2 .4-.8.4 4.3.4-6.5.4 6.4.4-.6.4-2.1.4 1.4.4-2.8.4-3.3.4 7.9.4-2.6.4-4.2.4 5.9.4-1 .4-4.1.4 5 .4-.5.4-.6.4.9.4.8.4 1.1.4-1.3.4-1 .4-3.1.4 1.1" stroke="#9acd32" stroke-width="1.6" fill="none"/>
<path d="M415 323.4l.4-5.2.4-3.7.4-2.6.4-3 .4 15.4.4-5 .4-6.8.4.3.4 12 .4-3.6.4-.5.4 4.1.4-1.2.4-5.9.4 12.2.4-3.6.4-5.7.4-9 .4 13.1.4-5 .4 4.2.4-.4.4-8.5.4 8.7.4-3.1.4-2.6.4 9.9.4-3.8.4 8.5.4-3.7.4-7.1.4 7.9.4-4.5.4 7.3.4-2.4.4 7.3.4-6.5.4-5.9.4 3 .4-.8.4-7.3.4 5.2.4 10 .4-12.6.4 10.2.4-6.6.4 6 .4-1.4.4-3.1.4-6.6.4 2.2.4 2 .4 12.6.4-1.5.4-14.8.4 8.7.4-8 .4 6.7.4 10.2.4-2.2.4-2.8.4-13 .4 5.5.4-1 .4 17 .4-11.1.4 7.6.4-3.4.4-2.7.4-.9.4 11.3.4-8 .4 1.2.4-3.1.4-5.1.4 6.1.4-9.1.4 5.4.4-4.2.4-2.2.4 16.4.4-.9.4-3.7.4-9.3.4 1.5.4 9.1.4-9 .4 22.4.4-20.5.4 2.1.4 9.7.4-3.1" stroke="#9acd32" stroke-width="1.6" fill="none"/>
<path d="M421.3 321.4V329.3M451.5 326.3V352M431.2 324.3V328.5M449 326.9V333.8M422.9 316V328.8M427.6 319.2V349.4M434.1 325.7V335.1M428.5 326.3V331.9M423.5 319.1V331.7M414.6 311.2V325.1M427.3 318.3V332.3M431.3 325.7V352M423.3 321.6V323.8M448.4 330.4V336.7M447.8 328.9V338.7M444.5 326.6V350.8M433.5 326V338M419.2 319.8V327.3M434 324.8V331M422.6 318V333.6M444.5 329.3V349.5M444.9 324.2V349.5M423.8 323.3V325.2M437.6 328.6V331.3M410.4 312.6V318.8M421.1 319V325.3M429.8 324.2V328.8M419.1 317.6V323.6M428.4 320.1V343.1M412.2 313.3V319.8M414.9 312.5V346M422.9 322.8V325.2M439.1 330.5V336.8M448.5 325.5V333.7M415.2 314.4V321.4M448.7 332.6V333.3M420.7 318.9V330.8M434.2 326.1V334.3M449.3 330V339.4M448 325.1V334M442.5 325.4V350.4M410.5 313.5V323.8M415.9 317.3V325.7M436.4 326.4V352M426.7 322.9V343.8M328.8 309.2V334.7M336.5 314.5V316.8M330.3 310.2V318.5M336.8 314.8V341M338.4 315.9V321.1M334.3 313V315.7M331.7 311.2V316.3M335.1 313.6V313.6M332.6 311.8V316.4M343.5 319.1V334.2M335.1 313.5V320.4M328.3 308.8V316.5M328.5 308.9V324.6M334.5 313.1V321.9M334 312.8V314.4M329.3 309.5V320.9M339.2 316.4V332.1M341.6 318V329.7" stroke="#9acd32" stroke-width="1.3" fill="none"/>
<path d="M162.5 361.3l.8-47.4.8-35.4.8-11.8.8-11 .8-6 .8-2.9.8-1 .8-3 .8-1.3.8.8.8.6.8.7.8.8.8.5.8.1.8 1.7.8-1.4.8 1.8.8.3.8.2.8 1.4.8.6.8 1.3.8 2.2.8-1.7.8 2.2.8.5.8-.3.8 1.3.8 1.2.8-.5.8 1 .8.2.8.7.8 1.1.8 1.4.8-.5.8 1.9.8.7.8.1.8 1.1.8-.4.8 2 .8.1.8.5.8 1 .8.9.8.1.8-.2.8 1.9.8.1.8 2.1.8-2.3.8 2.5.8 1.1.8-.5.8-.7.8 1.6.8.6.8 1.4.8.7.8-.3.8 1 .8 1.6.8-.3.8.6.8.9.8.3.8 1 .8.1.8-.5.8-.1.8 2 .8.8.8-.6.8-.5.8.7.8 1.8.8.1.8 2 .8.3.8.8.8-.1.8-.1.8-.5.8.2.8 2.7.8-.1.8-.9.8 1.9.8.6.8 1.1.8.5.8 1.2.8-1.7.8.9.8 1.3.8-1.3.8 1.1.8.7.8-.1.8.7.8.5.8-.8.8-.1.8 1.5.8-.6.8.7.8 1 .8 1 .8 1 .8-.6.8-.1.8-.3.8.7.8-1.3.8 2.5.8-.3.8.1.8-.3.8.9.8 0 .8.1.8.8.8.3.8 0 .8-.6.8 1 .8 1.2.8-.9.8-.5.8.8.8 1.5.8.2.8-.2.8.8.8-.9.8.9.8.2.8-.1.8.3.8 1 .8-.4.8 2.1.8-.1.8-1.3.8-.1.8-.5.8.7.8.8.8-1.3.8.5.8.9.8.1.8.3.8 0 .8 2.1.8-1.3.8.9.8-.9.8.9.8.8.8-.7.8-1 .8 2.6.8-.1.8-.2.8 1.2.8.5.8-.7.8.2.8.2.8.3.8-.4.8-1 .8 1.3.8-.3.8 0 .8 1.9.8-.3.8.1.8-.8.8 2 .8.8.8.1.8.6.8 1.2.8-.2.8 0 .8.3.8.4.8.8.8 1.2.8-.7" stroke="#ff7f1a" stroke-width="1.8" fill="none"/>
<path d="M318 320.2l.5-3.8.5 13.2.5-6 .5-.5.5 6.6.5 1.5.5-7.5.5 6 .5-5.7.5-1.3.5 3.7.5 2 .5-1.8.5-.7.5 4.6.5 4.2.5-5.4.5 4.3.5-3.9.5 1.9.5-1 .5-3.3.5 8.1.5-2.6.5-1.5.5 0 .5.8.5 3.6.5 3.1.5-1.2.5.2.5-.5.5-2.1.5 4.2.5-6.4.5 5.7.5-2.4.5-2.4.5 5.2.5-4.1.5 2.7.5-3.2.5 12.9.5-5.8.5-2.9.5 6.5.5-2.7.5 1.8.5 2.2.5 3.4.5.6.5-1.6.5-1.8.5 1.5.5.2" stroke="#ff7f1a" stroke-width="1.6" fill="none"/>
<path d="M346 301.9l.6.6.6.6.6.3.6-1.1.6-.5.6 1.7.6-.3.6.6.6.1.6-.2.6-.1.6-.8.6 2.5.6-2.5.6 2.5.6-1.9.6 2.7.6-.2.6-.2.6-1 .6 3.9.6-.7.6 1.7.6 1.3.6.2.6-.5.6 1 .6-1.6.6 2.1.6.8.6.8.6-.6.6 2.3.6-1.9.6 3 .6-.4.6 1.1.6-2.5.6 3.1.6-3.3.6 3.2.6 1.4.6 0 .6 2.4.6-.4.6-2.4.6 3.7.6-.3.6-.1.6.1.6.1.6 2.2.6.5.6-.3.6 2.5.6.6.6-2.2.6 1.9.6.7.6.2.6.9.6-2.4.6 5.5.6-.9.6 1.4.6-3" stroke="#ff7f1a" stroke-width="1.8" fill="none"/>
<path d="M386 330.1l.5-2.3.5 4.3.5-.7.5-4.1.5 3.4.5.3.5-9.7.5 4.9.5.7.5 7.7.5-8.3.5 2.7.5 2.5.5 7.6.5-12.8.5.6.5 1.8.5-2.7.5 1.4.5 2.7.5.5.5 3.3.5-2.1.5-3.9.5 8.8.5-.4.5-4.9.5 10.1.5-6.3.5 6.2.5-6.6.5 1 .5 2.5.5-2 .5 2.6.5-3.5.5-2.4.5 10 .5-7.5.5 1.3.5 4.1.5-2.4.5 1.5.5 1.9.5-3.7.5 6.6.5-3.5.5.7" stroke="#ff7f1a" stroke-width="1.6" fill="none"/>
<path d="M337.1 361V339.3M333.3 361V335.4M336.8 361V340.4M336 361V336.9M328.6 361V331.2M336.1 361V337.4M340.4 361V345.7M343 361V348.7M328.8 361V333.8M335.2 361V337.2M338.9 361V343.8M328.5 361V334.8M334 361V339.5M341.5 361V345.7M334.5 361V335.2M344.1 361V345.9M393.6 361V337M392.6 361V340.3M388.8 361V336.3M410.9 361V350.4M397.7 361V340.5M393.2 361V336.2M402 361V339.5M405.2 361V347.3M398.3 361V337.5M400.6 361V349.1M399.8 361V344.5M405.5 361V342M408.8 361V341.5M408.5 361V345.7M403.2 361V338.8M409.7 361V347M388.7 361V338.2M388.5 361V334.5M406.6 361V342.1M391.5 361V332.7M404.3 361V355.3M396.3 361V336.4M402.7 361V340.4M390.2 361V333.2M400.3 361V345.4M400.3 361V347.5M392.1 361V334.3M392.4 361V334.7M401 361V353.3M410.7 361V358.3M393.5 361V334.8M391.3 361V335.9M388.9 361V335.9M406 361V353.8M393.3 361V337.1M411.8 361V347.8M390.5 361V345.8M390.2 361V332.2M403.7 361V353.7M397.1 361V338.5M450.6 361V341.3M444.9 361V341.9M433.7 361V348.2M427 361V336M422.1 361V342.4M434.8 361V340.6M449.9 361V342.4M413.3 361V343.4M436 361V346M435 361V340.2M444.8 361V346.2M417.7 361V347.5M421.2 361V354.5M441.2 361V348.9" stroke="#ff7f1a" stroke-width="1.1" fill="none"/>
<path d="M346 361V302" stroke="#ff7f1a" stroke-width="1.4"/>
</g>
<g clip-path="url(#cl)" stroke-linejoin="round" fill="none">
<path d="M51 379.1l.6.2.6-.7.6-.5.6-.3.6-1.1.6 0 .6-.4.6-.3.6 1.8.6-.9.6-1.1.6-2.3.6 2.7.6-1.4.6-.4.6.2.6 1.1.6-1.4.6 1.2.6 2.7.6-1 .6.4.6 0 .6 2.2.6-2 .6.6.6 1.1.6-1 .6.2.6 2.7.6-1.2.6.7.6-1 .6 3.6.6-1.6.6-1.5.6-.4.6 2.5.6-2.6.6 1.8.6-3.4.6 1.3.6 2.3.6-1.8.6 1.1.6-.9.6 1.2.6-.2.6-.6.6.9.6-.1.6 1.2.6 1.9.6-3 .6 1 .6-1.2.6-1 .6.1.6.9.6 0 .6-.6.6-1 .6.3.6.2.6 2.3.6-1.4.6-.4.6-.3.6.4.6.4.6 1.4.6-2.4.6 1.8.6.2.6-2.1.6 1.6.6-.3.6-2 .6 3 .6-1.1.6-.3.6.1.6 1.3.6.6.6-2.2.6 1.9.6.8.6-1.3.6-1.7.6 1.7.6-.4.6-1.3.6 2.1.6-2.6.6 1.7.6-1.3.6-1 .6 1 .6-.8.6 2.5.6-.4.6.9.6-1.5.6-.2.6.2.6 1.1.6-1.1.6 1.4.6-1.8.6-.1.6 1.8.6-.5.6 0 .6-.7.6-.1.6.9.6-1.4.6.6.6-.2.6.6.6-.7.6-1.2.6 1.1.6-1 .6-.3.6-.4.6 3.5.6-1.7.6 1.8.6-1.2.6 0 .6-1.4.6 1.8.6-1.2.6-.5.6-.2.6-.9.6.4.6.9.6 0 .6 1.1.6-3.2.6 2.2.6-.1.6-.4.6 1.3.6 1.4.6-.9.6-.1.6-1 .6.1.6 2.3.6-1 .6-.8.6-2.7.6 3.2.6-2.3.6.6.6-.6.6.7.6-1.3.6 2.4.6-.6.6-1.7.6.6.6-.7.6 1.3.6.1.6-.1.6-.3.6.2.6-.4.6-.3.6-.5.6 2 .6-1.3.6 2.5.6-.8.6.9.6-2.6.6 3.7.6-3.3.6 1.4.6-.3.6 1.7.6.2.6-1.8.6 1.4.6 0 .6-1 .6.6" stroke="#000" stroke-width="1.5" fill="none"/>
<path d="M229 384.1l.6-1.5.6.5.6-.1.6.3.6 1.1.6-2.3.6 1.2.6 1 .6-.3.6-3.2.6 3.3.6-.7.6.2.6 1.9.6.2.6-1.8.6.1.6-.8.6.2.6 0 .6-.6.6 1.4.6 1.4.6-1.8.6-.3.6 0 .6-.8.6.5.6.9.6-.3.6.3.6.6.6.6.6.4.6-1.3.6.1.6 1.8.6-2.1.6.5.6.3.6-1.2.6-.1.6.5.6.1.6.5.6-.4.6-1.4.6 2.1.6.2.6-2.4.6 1 .6.8.6 1.2.6-.9.6-.3.6 1.1.6-.8.6-.8.6.6.6-.5.6.7.6-1.1.6.7.6.8.6-1.2.6 0 .6 2.1.6-3.2.6 2.8.6-1 .6 1.2.6 0 .6-1 .6.9.6 0 .6-.4.6.8.6-.4.6-.1.6-.6.6.2.6.3.6-1.1.6 2.4.6-.4.6-.6.6.5.6.3.6-2.7.6 1.2.6-.5.6 1.4.6.5.6.7.6-.5.6.2.6.3.6-.9.6-.2.6.4.6.6.6-1.3.6-.2.6.8.6.5.6-1.2.6-1.1.6.9.6.6.6.2.6-.8.6 1.2.6-2.3.6 1 .6.2.6.6.6-2.2.6 3.4.6-2.1.6-.4.6.5.6 1.6.6 1.2.6-1.9.6 1.5.6-1.9.6.9.6.1.6-.4.6-1.1.6.7.6-.5.6 1.2" stroke="#000" stroke-width="1.5" fill="none"/>
<path d="M310 365.6l.6 1.4.6-1 .6-.8.6.8.6-.6.6.8.6 1.4.6-.3.6-1.6.6.2.6 0 .6.6.6-.7.6.7.6-1.1.6.7.6-.4.6-.2.6 1.9.6-.9.6 1.5.6-1.8.6 1.4.6.1.6.4.6.4.6 0 .6-.9.6-.4.6.1.6.5.6-.8.6-.1.6 1.2.6-.1.6 1.2.6.3.6-.6.6-.3.6.4.6.5.6-.1.6 0 .6-1.1.6-.1.6 1.6.6-1.2.6 1.1.6.9.6-1.6.6.9.6-.4.6.4.6-.1.6.7.6-.5.6-.4.6-1.2.6.6.6-.2.6-.2.6.3.6 1.2.6 1.3.6-.8.6-.7.6.8.6.8.6.3.6-.1.6.1.6-.6.6.3.6.5.6-1.3.6 2.1.6-.2.6-.7.6 1.3.6-.6.6-.8.6.3.6 1.1.6-.9.6.3.6.2.6 0 .6.2.6.5.6-.1.6-.5.6 1 .6-.9.6-.6.6 1.2.6.6.6-.5.6.6.6.5.6-.3.6.7.6-1 .6.5.6-.7.6.8.6 0 .6.8.6-.6.6.5.6 1.7.6-1.7.6.6.6-.1.6-1.2.6.7.6 1.1.6.1.6-.8.6.3.6-.9.6.2.6.5.6.3.6.2.6.8.6 1.6.6-.2.6.2.6 0 .6-.9.6.2.6-.9.6.9.6.8.6-1.5.6 0 .6 1.1.6.8.6-.4.6 0 .6-.6.6 1.1.6.3.6.7.6-.2.6-.3.6.2.6.6.6-.1.6-.8.6 1 .6-.2.6 1.3.6-1.3.6.7.6.7.6-.9.6.3.6-.6.6.2.6.2.6 1.2.6-.1.6-.9.6 1.2.6 1.6.6-.6.6.9.6 0 .6.5.6 0 .6-.4.6-.4.6.6.6.3.6.1.6-1.2.6 1.2.6-.6.6 1.1.6.5.6 0 .6-.6.6 1 .6-1.2.6 1 .6-.3.6.6.6.9.6.7.6-.8.6.1.6.1.6-.1.6-1.5.6 0 .6 2.3.6 0 .6-.5.6.2.6-.2.6-.8.6.4.6-.5.6-.3.6 0 .6-.3.6 1.8.6-1.8.6-1.9.6.1.6.1.6-1.1.6.2.6.9.6-2.2.6 1.9.6-1.1.6-1 .6.2.6-1.5.6.7.6 2.2.6-1.3.6-.5.6 1.8.6 1.3.6.3.6-1.9.6.2.6.6.6.5.6-.6.6 1.2.6.3.6-.4" stroke="#000" stroke-width="1.4" fill="none"/>
<path d="M51 447.3l.6.4.6-1.5.6 1.9.6-1.4.6-.5.6.9.6-.1.6.8.6-2 .6.5.6 2.4.6-1.8.6.5.6.5.6.3.6 0 .6-.9.6.7.6-.1.6.6.6.1.6-1.1.6-.6.6 1.8.6-1.5.6 1.4.6-.2.6-2 .6.9.6-.3.6 1.5.6-1.9.6 1.2.6-.1.6.9.6-1 .6.2.6-.4.6 1 .6-1.5.6 1.2.6-.1.6-.4.6 0 .6-1.9.6 2.2.6-.4.6.6.6-.9.6-.8.6 1.7.6-1.5.6.4.6 1 .6-.6.6 1.7.6-.9.6-.7.6-.4.6 1.6.6-1.2.6 1.7.6-1.8.6.6.6-.5.6-.4.6.7.6-.1.6 1.5.6-1.9.6.9.6-.4.6-.8.6.4.6 1.7.6-.8.6-.1.6-1 .6 1.8.6-1.1.6-.6.6.4.6.4.6.3.6 0 .6.5.6-.7.6-1.7.6 1.4.6-2.2.6 1.7.6.2.6-.5.6 1.3.6-.8.6-.4.6-.5.6.8.6-1 .6-.2.6 1 .6.8.6-.5.6 1.6.6-1.5.6 1.4.6-.7.6.7.6-1.3.6 1.1.6.5.6-2.2.6.6.6-.9.6.5.6-.6.6 1.3.6-1.6.6.2.6-.4.6.6.6 1.3.6-.8.6.4.6 1.8.6-.4.6-.3.6.3.6-.5.6 1.3.6-1.1.6-.1.6.2.6-.1.6-.7.6 0 .6-.3.6.5.6-.8.6 1.8.6-.8.6-.2.6-.2.6-.9.6-.1.6 1.7.6-.9.6 0 .6-1.8.6 1.4.6-.3.6 1.1.6-.6.6.1.6.4.6.5.6-.3.6-2 .6.7.6-.8.6 0 .6.9.6-.3.6-1 .6 1.9.6.2.6 1.3.6-1.6.6 0 .6 1.4.6-1.3.6-.7.6 1.3.6-.7.6.1.6-.2.6 2.1.6-1 .6-1 .6-.9.6.2.6-1.8.6 3.6.6-2.1.6 1 .6.3.6.5.6-.4.6 0 .6 1.6.6.2" stroke="#000" stroke-width="1.5" fill="none"/>
<path d="M228 447.4l.6.3.6-1.5.6 1 .6.3.6 1.8.6-.6.6.3.6-.2.6-.7.6.5.6-1.7.6 2 .6-2.1.6.6.6 1.4.6-1.6.6 1 .6-.2.6-1.1.6 1.5.6-2.4.6 1.7.6-.9.6.7.6.3.6-.8.6 2.1.6-1 .6.4.6-.5.6-.4.6 0 .6.7.6-1.3.6.1.6-1 .6 1.2.6-1.1.6.9.6-.6.6-.4.6.7.6.8.6.2.6 0 .6-1.8.6 1.1.6 1.2.6.2.6-.9.6.2.6 0 .6-1.5.6.5.6.5.6-.3.6.5.6-.6.6-.8.6.2.6-.3.6 2.2.6-1 .6-.9.6-.7.6 1.2.6-.8.6-.8.6.9.6.4.6.1.6-.2.6-.9.6.7.6.8.6-.4.6.2.6-1.1.6.7.6-.2.6.5.6 1.2.6-.8.6.1.6-1 .6 1.4.6-.5.6.3.6-.3.6.2.6-.2.6-1.2.6 1 .6.4.6.5.6-1.2.6.7.6 0 .6-.2.6-.8.6-.2.6 1.4.6-.9.6-.5.6.6.6-1.2.6.8.6.3.6-.3.6-.4.6.8.6-.1.6 0 .6-.3.6 0 .6.5.6-.2.6-.1.6-.7.6 1.7.6-1.5.6 2.3.6-.9.6.5.6 0 .6-3 .6 1 .6 1.4.6.1.6-2 .6.4.6 1.6.6-1 .6.2.6.3" stroke="#000" stroke-width="1.5" fill="none"/>
<path d="M310 442.2l.6-1.1.6-.3.6-1 .6.1.6-1.2.6 1.9.6 1.7.6.5.6.7.6-2.2.6-.6.6 2.4.6-.7.6.8.6-.6.6.2.6-1.5.6.9.6-1.8.6 2.2.6-2.5.6 1.1.6-1 .6.1.6.9.6 1.3.6-1.4.6-1.7.6-1 .6.3.6 2.3.6-2.7.6 1 .6-.1.6 1.1.6-1.5.6-1.6.6.6.6-.6.6-.1.6-1.9.6 2.2.6-2 .6 3 .6-.7.6-.5.6-.6.6-1.6.6 1.1.6-1.6.6-.2.6-1 .6-.5.6.7.6-2 .6-1.2.6 1.8.6 0 .6 2 .6.8.6 4.5.6-1.6.6 2.7.6 2.9.6-2.3.6 4.7.6-.5.6 1.5.6.7.6-1.7.6.1.6 1.9.6-1.2.6-.3.6 2 .6-1.9.6 1.9.6.4.6-.6.6.7.6-1.2.6-.5.6.4.6.2.6-.1.6.7.6 1.6.6-2.5.6-.3.6 1.1.6-1.6.6 0 .6.2.6-1.9.6.4.6.6.6.5.6-.1.6-.8.6-1 .6 1.4.6 1 .6-.3.6-.8.6 2.8.6-2.7.6 1.5.6.4.6-.2.6 1.9.6-1.2.6.4.6-.1.6 0 .6-.6.6-.6.6-.4.6.8.6-.9.6-1.1.6.7.6 1.7.6-1.3.6 1.1.6.4.6-1.9.6 2.1.6-.4.6-.9.6.7.6-1.1.6 1.8.6-2.6.6 1.6.6-.8.6 0 .6 1.8.6-.5.6-1.1.6-1.2.6 1.7.6-1.5.6.1.6-.5.6.6.6.1.6-1.6.6.2.6.2.6-.2.6 1.4.6-1.6.6-.2.6-1.1.6.3.6.9.6-1.7.6.5.6-1.1.6-.9.6 1.4.6 1 .6 1.5.6-.5.6-.3.6.8.6 0 .6-.3.6 1 .6-.5.6-1.1.6-.2.6.7.6 2.6.6.1.6-2 .6 2.2.6-2.1.6-.4.6-.5.6.8.6-1.4.6 1.1.6.7.6-2.7.6 2.8.6 1.7.6 0 .6-1.6.6-.3.6.5.6-.8.6 1.2.6-1 .6-1 .6 2 .6-1.4.6 1.2.6-1 .6 2.7.6-2.6.6 1.7.6.4.6-.4.6-1.8.6-1 .6 2.4.6-.4.6.1.6.9.6-.8.6 0 .6-1 .6-.9.6-2.4.6 2 .6.9.6-.8.6.7.6 1.8.6-1.5.6 1.4.6.7.6.5.6.1.6-1.8.6-.1.6 2.2.6-1 .6 2 .6-.7.6-.6.6-.3.6-.7.6.4.6-.7" stroke="#000" stroke-width="1.5" fill="none"/>
<path d="M344.5 432.6v-3.8M331.2 437.5v-2.5M341.2 433.2v-5.2M341.9 432.9v-2.9M345.3 433.7v-5.7M339.2 434v-5.8M349.5 439.3v-1.2M344.3 432.4v-4.1M341.3 433.2v-1.9M345.5 434v-5.6M337.7 434.7v-5.3M333.2 436.6v-2.3M335.1 435.8v-2.8M342.8 432.5v-4.6M342.7 432.6v-2.3M342.1 432.8v-3.2M333.9 436.3v-3.3M330.4 437.8v-2.5M346.4 435.2v-4.1M333.7 436.4v-3.6M348.4 437.9v-3.5M339.9 433.8v-3.9M346.6 435.4v-4.7M341.7 433v-3.7M330.9 437.6v-5.4" stroke="#333" stroke-width="0.7"/>
<path d="M51 467.7l.6-.4.6.1.6.6.6-.4.6-.6.6.4.6-.2.6.5.6-1.8.6 2.8.6-.1.6.9.6-1.5.6 1.1.6-1.8.6.9.6.1.6-.8.6 1 .6.2.6-1 .6.9.6-.8.6-1.2.6-.1.6 2.1.6-.3.6-.5.6 1.2.6-.1.6-1 .6 1.1.6 0 .6.7.6-1 .6-.7.6-.5.6-.4.6 1.2.6-2.2.6 1.6.6-.3.6 1.4.6-.3.6-1.5.6 1.7.6.6.6-.4.6.1.6-.5.6.7.6 2 .6-2.6.6 1.6.6-.8.6-.9.6 2.1.6 1 .6-.4.6 1 .6-.8.6.1.6-2 .6-.4.6.4.6-.2.6-.5.6.2.6.4.6.1.6-1.1.6.3.6 1.4.6 1.9.6-.5.6-1 .6.3.6.5.6-2.9.6 3.4.6-3.5.6 2.3.6-1.3.6 3.2.6-.9.6.8.6-2.4.6 1.8.6 1.4.6-2.8.6 2.4.6-1.4.6-.6.6 1.4.6-3 .6.7.6-.4.6-.5.6 2.7.6-3.5.6 2.3.6.6.6-2.2.6 1.7.6-.7.6-.3.6-1 .6 3.1.6-1.5.6.1.6-3.2.6 1.5.6.1.6.5.6-.5.6 1.6.6-1.3.6.6.6-.2.6 2.3.6-3.8.6.1.6 2 .6-1.2.6-.4.6.9.6-.8.6.8.6-1.9.6.2.6-1.6.6 3 .6.3.6.6.6-2.1.6-.3.6.4.6-.6.6 1.8.6-.3.6-3.1.6 2.3.6-.1.6-.8.6.3.6.1.6-.3.6-.4.6-1.2.6 2.5.6-.7.6 3 .6.5.6-2.1.6-.4.6.2.6.9.6-1.2.6-.6.6 1.5.6-2.7.6.7.6 2.2.6-.4.6-.3.6 1.4.6 1.3.6-.9.6-.4.6.6.6-.3.6 1.6.6-1.5.6.3.6.3.6-1 .6.3.6-1.3.6.1.6-1.4.6 1.4.6-.1.6-.3.6-1.3.6.3.6.7.6.9.6-1.1.6.1.6 1.6.6.2" stroke="#000" stroke-width="1.5" fill="none"/>
<path d="M230 468.6l.6 2.6.6-.9.6-1.1.6.6.6.4.6-1.3.6-1.6.6 2.4.6-1.5.6-.5.6 2.2.6-1 .6-.8.6 1 .6-.1.6-.8.6 3.6.6-3.6.6.6.6.6.6 1.7.6-.5.6-.9.6 0 .6 1.8.6-.5.6-2.1.6.3.6-.5.6-.3.6 1.2.6.8.6-2.1.6-1.4.6.7.6.3.6 1.5.6.9.6-2.1.6-.1.6 2.7.6-.2.6-1.3.6 1.1.6.1.6.9.6.3.6-3.2.6 1.3.6 1.3.6-.9.6-1 .6.1.6 0 .6-.2.6-.4.6-.1.6-.4.6 1.1.6-.6.6 1 .6-1.4.6-1.1.6 2.4.6-1.1.6 1.3.6-.7.6-.7.6-.3.6 1.9.6-1.8.6 1.2.6.6.6-1.1.6-.2.6.5.6.1.6.6.6-1.4.6.8.6.2.6.7.6-.7.6-1.5.6 1.7.6-1 .6 0 .6 1.2.6-2.4.6 1.5.6.4.6.1.6.9.6-.6.6-.4.6.7.6-.2.6-.4.6.2.6.6.6 1.7.6-.8.6.1.6-1.1.6-.1.6-.6.6.5.6 1.2.6.1.6-.4.6-1 .6 1.1.6-.3.6-.8.6.9.6.2.6-.4.6-.8.6 1.1.6-1.5.6-.1.6-.2.6-.8.6 2.2.6.6.6-1 .6 0 .6-1 .6 4 .6-1.9.6.6" stroke="#000" stroke-width="1.5" fill="none"/>
<path d="M310 465.2l.6-.2.6-.5.6-1.8.6 1.6.6-.7.6-.1.6 2 .6-2.1.6 3 .6-2.2.6.4.6.2.6 0 .6-2.5.6-.7.6 1.5.6-.2.6-1.9.6 5.1.6 1.1.6-2.2.6.5.6-1.3.6-.7.6-.4.6 1.4.6-1.9.6 1 .6 1.5.6-.6.6.4.6-1.3.6 2.2.6-.5.6-1.7.6-1.5.6 3 .6.1.6.5.6 1.2.6-.3.6.1.6-1 .6 1.6.6.6.6-1.8.6 2.5.6.4.6-1.9.6-.1.6 1.9.6 1.7.6-1.5.6 3.3.6-.5.6 2.8.6-2.5.6 2.7.6-1.2.6-.5.6.5.6 2.3.6-3.1.6 4 .6 1.3.6-1.2.6.8.6.4.6.7.6 2 .6 2.1.6-3.3.6-.5.6 3 .6-1.5.6-1.8.6 2.4.6-.2.6 0 .6-.5.6.9.6 0 .6-.9.6 1.9.6-3.5.6 1.2.6-.7.6.8.6.2.6 2.6.6-.9.6-.7.6-1.7.6 1 .6-1.1.6.9.6-1.3.6.9.6-1 .6.8.6.4.6-.2.6-.2.6 2.6.6-.9.6 2.3.6-1.7.6-.8.6 1 .6-1.2.6-.4.6-1 .6 1.1.6-.3.6 2.6.6-1.7.6.8.6-.2.6-3 .6 3 .6.4.6-1.1.6.8.6-2.3.6 3.4.6-3.8.6.9.6-4.3.6-3.5.6.1.6-.9.6 1.9.6-3.6.6 1.3.6.1.6-.7.6 1.3.6.2.6 1.7.6-.7.6 1.4.6-.8.6-2.1.6-.3.6-1 .6.7.6-2.2.6 1 .6 1.7.6.3.6-.3.6-.5.6.3.6.2.6.4.6-1.2.6 1.9.6-2.7.6 1.9.6-1.3.6 0 .6.8.6-2.6.6.1.6-.2.6.2.6-1.8.6.5.6 2.8.6-1 .6 1.9.6-.8.6-.2.6 2.4.6-2.9.6 1 .6-.4.6-.5.6-1.7.6-.4.6-.5.6-.7.6.3.6.8.6.9.6.3.6 1.4.6-2.4.6.4.6-.3.6 1.8.6.1.6 0 .6.1.6-2.2.6-.7.6 4.2.6-3.3.6 1.3.6.3.6.6.6-1.4.6 2 .6-.1.6-1.2.6-.2.6 1.9.6-1.1.6 1.7.6-.4.6-.1.6.3.6-2.7.6 1 .6.6.6.2.6-1.7.6 1.5.6 1.5.6.4.6 3 .6.1.6-1.8.6 1.5.6.6.6-.1.6-1.4.6 1.8.6 1 .6-1.6.6 4.2.6-.8.6.6.6 1.9.6.7.6-2.2" stroke="#000" stroke-width="1.5" fill="none"/>
<path d="M51 533.4l.7 1.2.7-.6.7.3.7.6.7-.4.7 0 .7-.5.7 1.5.7-.5.7-.2.7.2.7 1 .7.3.7-.6.7 0 .7.3.7-.3.7.3.7-.5.7.3.7-.2.7-.4.7 1 .7.4.7-.7.7-.3.7.9.7-1.2.7-.3.7.8.7-.1.7.6.7-.2.7.9.7-.5.7.4.7-.4.7.1.7 0 .7-.1.7.4.7-.1.7-1.1.7.2.7.8.7-.5.7.2.7-.3.7.3.7-.3.7.4.7.2.7-.1.7-.1.7.2.7-.2.7.3.7.6.7-1.2.7.2.7-.1.7.3.7-.2.7-.8.7 1 .7-.3.7-.1.7.5.7-.8.7.4.7.2.7.3.7 0 .7 0 .7.1.7.5.7.8.7-.4.7-.3.7-.4.7.3.7-1.1.7.2.7-.1.7.5.7-.1.7.2.7.3.7-.6.7.8.7-.7.7 1.3.7-.1.7-.4.7-.1.7.2.7-.4.7-.2.7-.6.7.4.7.2.7-.2.7.5.7-.8.7 1.1.7.1.7.3.7-1.3.7.2.7.7.7-.9.7-.4.7.6.7-.2.7-.3.7.2.7 0 .7.9.7-1.2.7 1.2.7.4.7-.8.7.4.7-.9.7 1.3.7-.6.7.3.7-.6.7.4.7.1.7-.4.7.1.7.3.7-1.1.7 1.3.7-.6.7.1.7.3.7 0 .7-.3.7-.2.7-.5.7.6.7.4.7-.8.7 0 .7 0 .7.4.7-.2.7-.2.7.4.7-.3.7.4.7-.2.7.2.7-.4.7 0 .7.1.7 0 .7.9.7-.7.7-.1.7-.4.7.9.7-.4.7.9.7-.1.7-.8.7.3.7.5.7-1.1.7-.3.7.8.7 0 .7.1.7-.2.7 0 .7.3.7-.8.7.9.7-.1.7-.2.7-.1.7-.4.7.5.7-.4.7.4.7-.4.7-.3.7.4.7.4.7-.4.7.1.7 1.2.7-.7.7 0 .7-.5.7-.2.7.1.7-.3.7.1.7.5.7-1.2.7 1.4.7.6.7-.6.7.1.7.1.7.3.7-.6.7-.2.7.4.7-.3.7-.4.7.4.7.4.7-.2.7-.4.7 0 .7-.1.7.2.7.2.7-.9.7 1.1.7-.3.7.2.7.5.7-.9.7-.7.7 1.3.7-.9.7.3.7-.4.7.5.7-.6.7.8.7-.2.7-.3.7.4.7 0 .7.6.7-.2.7 0 .7-.4.7-.2.7.5.7-.1.7-.4.7.8.7-.4.7-.1.7.1.7.2.7.1.7-.6.7-.1.7.3.7-.9.7.9.7-1 .7.5.7-.1.7.2.7 0 .7-.3.7.1.7.8.7-.3.7-.8.7.6.7.1.7 0 .7 0 .7 1.2.7-1.2.7-.1.7.1.7.3.7-.4.7.5.7-.2.7-.4.7-.1.7.5.7.1.7-.8.7.8.7-.1.7-.2.7.3.7-.3.7-.5.7 1.4.7-.5.7-.1.7.1.7-.1.7.5.7-.5.7.2.7.7.7-1.1.7-.3.7.4.7-.8.7.5.7-.8.7 1.8.7-.5.7 0 .7 0 .7.1.7.6.7-1.6.7 0 .7.1.7-.7.7.4.7 0 .7.2.7.5.7-.2.7-.3.7.4.7.8.7-.8.7.4.7.3.7-.3.7-.9.7.7.7.6.7 0 .7.2.7-.3.7-.7.7.1.7.9.7-.2.7.3.7-.7.7.4.7.1.7 0 .7-.1.7.5.7 0 .7-.5.7-.6.7-.1.7.1.7.4.7-.8.7 1.1.7.3.7-1.4.7.3.7.7.7-.5.7-.6.7.1.7.6.7-.4.7.6.7-.5.7.8.7-.5.7.4" stroke="#000" stroke-width="1.25" fill="none"/>
<path d="M310 529.2l.5 1.3.5.2.5-1.9.5.9.5.3.5 2.6.5-1.1.5-.5.5.8.5.6.5-1.6.5.9.5-3.8.5 1.3.5 1.9.5-3 .5 1.1.5-1.7.5.4.5.3.5 1.1.5-.5.5-2 .5.3.5 2 .5-.8.5-.3.5 1.2.5-.7.5.5.5 0 .5-.2.5 3.1.5-1.3.5 1.2.5-2.2.5-1.8.5 2.5.5-2.6.5-3.1.5-1.2.5 1.2.5 1.7.5 1 .5.1.5-.1.5 2 .5 1.8.5-.9.5-2.8.5 2 .5.1.5 1.3.5-3.7.5.7.5 0 .5-.1.5.1.5-1.3.5-.1.5 3.4.5.6.5 1.6.5-2.4.5.1.5-.4.5-3.2.5.1.5-.3.5-.5.5-.7.5 4.5.5-.6.5 0 .5.4.5-3 .5 1.5.5-.1.5-1.1.5-.2.5-3.1.5 1.5.5.5.5 1.4" stroke="#000" stroke-width="1.1" fill="none"/>
<path d="M352 526.2l1 .3 1 .1 1 0 1 .1 1 .2 1 .1 1 .3 1 0 1-.2 1 .6 1 .3 1-.4 1 .1 1 .1 1-.1 1 .2 1 .1 1-.1 1 .2 1 0 1 .1 1 .5 1-.2 1-.1 1 0 1 .1 1 .1 1 .1 1 .4 1-.3 1 .4 1 .5 1-.3 1 .2 1 0 1 0 1 .4 1 .4 1 .1 1 .3 1 0 1 0 1 .2 1 .3 1-.6 1 .5 1 .1 1 .7 1 .1 1 .1 1 .5 1 .1 1-.1 1 .5 1 .1 1 0 1 .2 1-.1 1 0 1 .2 1 .6 1 .2 1 .1 1 .2 1 .2 1-.1 1 .3 1 0 1 .1 1-.1 1 .1 1 .3 1-.1 1 .1 1-.4 1 0 1-.4 1-.2 1 .3 1 .6 1 .1 1 .1 1 .4 1 .4 1-.2 1 .4 1 .2 1 0 1 .5 1-.1 1 .2 1 .5 1 .3 1 .2 1 .2 1-.1 1 .6 1 0 1-.2 1 .4" stroke="#000" stroke-width="1.0" fill="none"/>
<path d="M53.3 553.2h1.0M59.5 574.5h1.0M75.2 579.6h1.0M92 564.6h1.0M61.2 577.2h1.0M82 561.4h1.0M71.5 575.9h1.0M98.6 559.4h1.0M54 548.9h1.0M80.3 558.2h1.0M75.7 565.6h1.0M60.5 568.6h1.0M97.5 554.4h1.0M64.6 574.3h1.0M92.7 566.9h1.0M91.5 576.6h1.0M85.3 560.1h1.0M70.6 584h1.0M68.5 581h1.0M74.9 572.3h1.0M91.6 568.9h1.0M89.5 556.2h1.0M64.3 576.3h1.0M55.1 556.3h1.0M98 568.2h1.0M73.9 567.1h1.0M86.7 555.8h1.0M96.1 572.5h1.0M68.8 580.4h1.0M60.6 574.8h1.0M65.6 577.2h1.0M63.1 571.9h1.0M51.6 557.4h1.0M93.6 568.2h1.0M80.1 568.2h1.0M80.8 561.9h1.0M71.5 565.9h1.0M67 573.6h1.0M83.6 561.2h1.0M82.3 565.6h1.0M68.1 583.6h1.0M81 560.8h1.0M76.1 568.8h1.0M65.3 586h1.0M63.5 579.2h1.0M56.5 564.3h1.0M76.8 560.9h1.0M53.9 549.3h1.0M68.7 574.6h1.0M79.6 574.4h1.0M67 565.7h1.0M85.4 551.3h1.0M86.6 574.4h1.0M56.3 555.4h1.0M83.1 569.8h1.0M69.2 569.2h1.0M94.6 560h1.0M68.3 576.2h1.0M78.8 553.8h1.0M80.7 567h1.0M61.1 574.8h1.0M58.8 564.3h1.0M55 557.5h1.0M62.2 576.9h1.0M98.1 574.5h1.0M84.7 563.2h1.0M61.7 568.4h1.0M79.9 566.2h1.0M81.1 556.9h1.0M56.3 562.4h1.0M83.2 554.7h1.0M87.7 561.1h1.0M67 571.8h1.0M81.5 557.9h1.0M96.3 573.1h1.0M60 584.2h1.0M80.9 559.2h1.0M54 555.8h1.0M56.3 579.7h1.0M55.8 565.1h1.0M93.7 564.1h1.0M55.1 553.8h1.0M63.9 570.7h1.0M72.2 572.6h1.0M82.2 563.6h1.0M93.8 565.3h1.0M68.9 577.5h1.0M53.7 545.3h1.0M81.1 552h1.0M60.1 571.2h1.0M85.7 566h1.0M70.7 582.8h1.0M80.4 560.6h1.0M54.3 551.7h1.0M94.1 566.3h1.0M65.7 573h1.0M95.2 561.3h1.0M79 563.3h1.0M71.8 558.4h1.0M91.9 566.1h1.0M78.1 559.3h1.0M58.9 571.3h1.0M82.2 563.7h1.0M81.1 562.8h1.0M70.6 572.2h1.0M56.3 560.8h1.0M86.4 561.9h1.0M87.4 564.9h1.0M68 580.2h1.0M80 563.1h1.0M97.5 561.9h1.0M69.2 568.9h1.0M89.5 562h1.0M92.6 570.2h1.0M95.9 567.5h1.0M61.3 568.8h1.0M54.5 543.9h1.0M90.2 565h1.0M89 556.3h1.0M69.3 576.8h1.0M65 575.4h1.0M78.4 547h1.0M81.1 565.8h1.0M74.8 572.1h1.0M87.9 558.6h1.0M72.8 575.3h1.0M87.5 557.2h1.0M82 564.8h1.0M93 572.9h1.0M80.1 559.2h1.0M56 565.7h1.0M64 563.1h1.0M67.1 573.4h1.0M84 552.1h1.0M75 565.6h1.0M64.3 585.7h1.0M85.3 552.3h1.0M63.4 581h1.0M71.6 571.9h1.0M90.2 556h1.0M98.1 569.1h1.0M51.2 545.8h1.0M74.2 567.4h1.0M55.8 564.7h1.0M81.9 563.7h1.0M88.7 567.6h1.0M87.5 564.1h1.0M88 559h1.0M84.7 560.9h1.0M83.1 566.9h1.0M96.4 566.5h1.0M66 585.3h1.0M90.7 564.2h1.0M92.1 570.1h1.0M63.3 571.6h1.0M76.1 569.6h1.0M85.4 556.8h1.0M59.6 574h1.0M65.8 571.6h1.0M62.8 571.8h1.0M70 574.4h1.0M52.6 547h1.0M79.7 566h1.0M79.6 552.7h1.0M82.7 555.9h1.0M67 579h1.0M54.1 559.6h1.0M92.2 570h1.0M66.7 575.6h1.0M70.1 577.3h1.0M85.4 556.9h1.0M82.7 559.1h1.0M81.5 559.5h1.0M95.3 560.8h1.0M72.4 578.9h1.0M54 549.9h1.0M66.3 586h1.0M56.3 567h1.0M91.3 563.5h1.0M83.2 552.4h1.0M96.6 565.1h1.0M95.9 560.3h1.0M95 579.9h1.0M84.9 551.2h1.0M96.9 567.7h1.0M81.3 558.6h1.0M82.4 568.9h1.0M88.8 547.1h1.0M80.5 566.6h1.0M62.5 579.5h1.0M85.4 559.9h1.0M64.5 559.1h1.0M64.7 572.5h1.0M97.3 568.5h1.0M93.7 552.6h1.0M63.3 580.5h1.0M56.3 559.7h1.0M86.9 568.9h1.0M71.9 584.1h1.0M97.5 557.4h1.0M77.9 567.4h1.0M85.7 560.1h1.0M77.1 578.4h1.0M63.7 571.5h1.0M69.2 566.3h1.0M58.1 578.4h1.0M78.5 566.1h1.0M90.3 561.3h1.0M76.5 563.2h1.0M93.2 566.6h1.0M79.9 569h1.0M68.7 577.9h1.0M99.6 572.8h1.0M76.8 551.1h1.0M92.9 561.1h1.0M51.7 541h1.0M79.2 567.5h1.0M51.2 546.4h1.0M56.2 561h1.0M98.3 572.8h1.0M81.4 561.1h1.0M98.8 551.8h1.0M89.9 563.4h1.0M76.2 562.3h1.0M81 557.1h1.0M84.5 568.7h1.0M76.7 564.5h1.0M99.2 549h1.0M89.1 559h1.0M80.9 561.6h1.0M62 572.4h1.0M75.7 569.2h1.0M64.1 578.5h1.0M96.9 565.3h1.0" stroke="#222" stroke-width="1.0"/>
<path d="M51 547.2l.5 2.1m2 1.4l.5-1.6.5-5.6m2.5 24.7l.5 3.4.5-6.3.5 7.3m1.5 2.7h1m.5 2.4h1m.5-1.9l.5-1.1m1 3.1h1m2-1.7h1m1.5 2.2h1m0-4h1m1 .6h1m0-1.6h1m0-4.7h1m0-2l.5-1.8.5 1.3.5-3.1.5.8.5 4.3.5 0 .5-7.7m1.5 5.1h1m.5-6.2h1m0-2.6h1m0 5.2l.5 1.5m1.5.3l.5-.9.5.1.5-.9.5-.1m1-1.3l.5 3.6.5-1.4.5 3.6.5 2.5m1-2.3l.5-3.1m1 2.7l.5 4.2m1-8l.5 4.3m1.5-1.5l.5 2.3m1.5-1.9l.5.1" stroke="#000" stroke-width="0.95" fill="none"/>
<path d="M152.3 562.4h1.0M112.1 567.1h1.0M141.3 567.5h1.0M104.4 570.3h1.0M103.3 568.5h1.0M121 570.1h1.0M148.2 570.9h1.0M159.7 580h1.0M155.8 578.9h1.0M110.1 584.9h1.0M159 570.1h1.0M101.2 571.5h1.0M110 566.9h1.0M125.6 566.9h1.0M109.3 572.8h1.0M107.6 559.8h1.0M147.7 574.2h1.0M108.4 563h1.0M150.2 559.7h1.0M109.3 564.6h1.0M111.6 563h1.0M114.4 555.3h1.0M147.6 561.3h1.0M153.4 555.6h1.0M104.1 563.9h1.0M108.4 568.5h1.0M125.8 562.4h1.0M131.6 565.5h1.0M137.9 584h1.0M149.4 577.4h1.0M109.6 565.5h1.0M122.1 560.5h1.0M101.8 562.3h1.0M147.8 572h1.0M141.6 576.6h1.0M107.9 562.2h1.0M119.3 569.8h1.0M122 562.3h1.0M151 559.4h1.0M147.4 564.4h1.0M138.7 560.5h1.0M104.6 567.8h1.0M110.5 570.5h1.0M136.8 562.1h1.0M141.5 575.7h1.0M115.2 561h1.0M107.4 566.7h1.0M128.4 560.1h1.0M145.4 565.4h1.0M151.4 563.5h1.0M110 561.6h1.0M118.7 573.3h1.0M120.2 564.4h1.0M155.2 565.1h1.0M107.2 563h1.0M159.2 573.6h1.0M125.6 551.2h1.0M132.2 572.1h1.0M142.6 574.8h1.0M158.4 568.9h1.0M137.9 573.3h1.0M147.9 563.5h1.0M105.6 569h1.0M117.3 568.7h1.0M137.3 573.3h1.0M127.3 563.5h1.0M153.5 571.3h1.0M128.1 571h1.0M156.8 572.3h1.0M124.5 565.1h1.0M112.3 569h1.0M141.5 574.6h1.0M129.3 566h1.0M147.8 559.1h1.0M140.2 584.5h1.0M120.8 572.2h1.0M135.5 582.5h1.0M155.1 570.8h1.0M109.4 566.5h1.0M139.6 567.2h1.0M129.1 557.1h1.0M157.5 575h1.0M158.8 566.1h1.0M140.8 563.2h1.0M136.6 567.8h1.0M131.5 568.1h1.0M105.2 558.9h1.0M109.5 564.5h1.0M154.2 569.1h1.0M150.4 558.7h1.0M130.2 562.8h1.0M104.3 553.8h1.0M109.4 579.7h1.0M104.5 562.7h1.0M106.9 564.7h1.0M129.4 562.5h1.0M145.9 567h1.0M142.3 571.9h1.0M156.4 573h1.0M119.9 557.7h1.0M110.8 572.3h1.0M116.3 571h1.0M159.4 568.4h1.0M109.5 557.9h1.0M119.2 578.1h1.0M113.4 574.3h1.0M146.8 566.5h1.0M102.2 570.8h1.0M129.7 566.5h1.0M135.5 569.6h1.0M106.3 567.3h1.0M137.1 579.7h1.0M147.3 567.6h1.0M143 566.4h1.0M135.4 569.5h1.0M123.4 561.1h1.0M139.1 582.3h1.0M130 571.6h1.0M146.3 564h1.0M135.1 562h1.0M150.9 549.8h1.0M137.8 573.5h1.0M125.2 565.5h1.0M127.7 574.6h1.0M109.4 565.5h1.0M153.7 568.2h1.0M130.1 571.2h1.0M110.8 565.6h1.0M102.5 564.4h1.0M111.9 574.5h1.0M134.8 572.2h1.0M122.1 558.9h1.0M137.3 566.6h1.0M126.4 561.6h1.0M139.9 575.6h1.0M103.8 562.8h1.0M143.4 562.6h1.0M101 568.9h1.0M135.5 563.7h1.0M123.5 555.7h1.0M103.2 561.7h1.0M120 564.1h1.0M157.4 578.5h1.0M117.5 566h1.0M158.4 561.4h1.0M109.5 571.6h1.0M123.9 564.6h1.0M117.9 563.3h1.0M135.2 562.1h1.0M106.7 576.8h1.0M111.4 583.5h1.0M125 561h1.0M111.4 574.3h1.0M101.7 561.8h1.0M120.2 565.7h1.0M154.5 567.9h1.0M142.7 567.2h1.0M139.3 571.6h1.0M129.3 570h1.0M103.7 562.5h1.0M114 565.5h1.0M121 573.9h1.0M145.9 549.3h1.0M148.4 562.8h1.0M137.4 566.3h1.0M107.1 570.8h1.0M132.4 565.9h1.0M101.1 570.8h1.0M142.2 555.4h1.0M132.1 573.9h1.0M150.2 567.2h1.0M125.6 567.4h1.0M126.8 565.5h1.0M139.7 578.2h1.0M142.5 573.7h1.0M107 564.4h1.0M144.5 568.4h1.0M125.8 566h1.0M112.6 565.4h1.0M118.7 573.8h1.0M155 573.3h1.0M129.7 568.2h1.0M106.5 560.3h1.0M116.6 544.5h1.0M127.6 569.3h1.0M152.9 572.8h1.0M146.5 560.5h1.0M126.1 565.8h1.0M150.3 571.3h1.0M145.7 570.3h1.0M109.5 571.4h1.0M107.3 558.6h1.0M129.2 551h1.0M155.5 580.8h1.0M117 571.8h1.0M108.8 571.3h1.0M148.8 563.1h1.0M136.1 569h1.0M118.7 560.6h1.0M107.8 575.1h1.0M158.8 579.7h1.0M126.8 565.1h1.0M105.3 559.6h1.0M158.2 573.9h1.0M103.2 565.6h1.0M150.1 569.7h1.0M136.9 568.5h1.0M101.2 570.8h1.0M142.5 573.4h1.0M100.3 567.4h1.0M100.3 572.4h1.0M112.7 568.5h1.0M100.7 560.2h1.0M121.3 566.6h1.0M128.9 561.2h1.0M126.5 567.9h1.0M141.3 565.9h1.0M100.8 567.8h1.0M113.6 569h1.0M131.4 558.7h1.0M112.6 556.3h1.0M156.1 571.3h1.0M103.3 566.8h1.0M106.3 561.4h1.0M132.2 569.1h1.0M144.3 563.6h1.0M120.2 558.9h1.0M142.6 569.2h1.0M111.9 558.4h1.0M140.3 565.2h1.0M153.4 569.4h1.0M113 586h1.0M124.9 551.4h1.0M150.3 571.5h1.0M105.8 560.6h1.0M134.1 565.7h1.0M136 570.2h1.0M100.7 569.2h1.0M114.1 568h1.0M100.9 562h1.0M132.9 566.9h1.0M145 566.1h1.0M103 562.6h1.0M156 569.8h1.0M125.2 559h1.0M132.8 566.8h1.0M123.1 558.3h1.0M147.1 564.9h1.0M119 575.2h1.0M135.4 561.4h1.0M159.5 574.9h1.0M131.9 562.4h1.0M125.6 562.3h1.0M116.6 563.8h1.0M112.2 571.7h1.0M110.9 569.4h1.0M158.1 573.3h1.0M157.9 571.4h1.0M125.4 573.8h1.0M119.5 571.8h1.0M113.3 563.8h1.0M153.2 569.3h1.0M115 570.5h1.0M156.5 556.8h1.0M127.5 566.8h1.0M125.1 559.1h1.0M104.4 565.7h1.0M149.1 569.7h1.0M125.6 560.9h1.0M154.7 572.2h1.0M133.1 564.7h1.0M137.1 569.9h1.0M103.7 551.3h1.0M143.2 565.3h1.0M106.9 570.8h1.0M154.9 580.3h1.0M158.7 580.9h1.0M104.9 580.6h1.0M156 569h1.0M143.7 575.8h1.0M128.2 571.5h1.0M133.5 565.7h1.0M151.2 559.2h1.0M103.9 565.2h1.0M123 572.3h1.0M126 554h1.0M120.4 571.7h1.0M116.2 571.5h1.0M125.9 570.9h1.0M158.1 570.8h1.0M141.3 570.2h1.0M122.5 563.3h1.0M109.6 566.7h1.0M147.7 583.4h1.0M159.1 554.5h1.0M125.6 556.9h1.0M100.8 567.7h1.0" stroke="#222" stroke-width="1.0"/>
<path d="M100 570.6l.5-9.1.5 4.3m1-1.9l.5.4.5-1.8.5.8.5 1.1.5 2.7.5-5.3.5 2.8m1 .4l.5 1 .5-8.5.5 6.4.5 7.4m1-6.9l.5 9.2m1-10.7h1m0 9.8l.5-.2m1-4.5h1m0 .1h1m0 1.7l.5-.6.5.3m1-3.5l.5-3.3.5 1.2.5 6.4m1.5-6.2l.5 6.5m1.5-2.2l.5-1.4.5-7.8m1.5 7.9l.5-3.6.5 3.1.5-1.6m1-.8l.5-1.2.5 2.8.5-2.4m1.5.6l.5-1.4.5-.8m1 1.9l.5 4.2m1 3.6h1m0-1.4h1m0 .5l.5 5.3m1-3.6h1m.5-5.1l.5-.5m1.5-.3l.5-.4m1 6.8l.5-.6m1-4.8l.5-3.2.5.3m1-.2l.5 6.5.5-3.2.5 0 .5-2.5.5 3.1.5-.8.5-3.5.5 1.2m1.5 5.5l.5-2.1.5 5 .5-7.2.5 9.5.5-6.5m1 .9l.5 6 .5-3.1m1-3.1l.5 8.9.5-11.7.5 0m1 8.2l.5-2.2" stroke="#000" stroke-width="0.855" fill="none"/>
<path d="M239.7 564.7h1.0M196.5 563.2h1.0M198.5 564h1.0M241.7 560.2h1.0M228.9 558.4h1.0M173.7 561h1.0M205 561.7h1.0M225.8 559.7h1.0M236.9 562.4h1.0M177.1 561.6h1.0M233.7 560h1.0M222.5 563.8h1.0M233.7 559.1h1.0M233.5 561.2h1.0M248.9 559.4h1.0M249.4 559.2h1.0M214 560.5h1.0M186.2 560.9h1.0M160.9 566.4h1.0M238.7 565.5h1.0M239.8 563.8h1.0M168.4 560.6h1.0M235.4 558.7h1.0M187.6 557h1.0M166.2 568.5h1.0M210.7 560.5h1.0M207.4 561.5h1.0M249.4 569.2h1.0M235.4 559.3h1.0M220.2 555.2h1.0M216.5 557.9h1.0M197.7 559.1h1.0M191.3 563.3h1.0M210.3 560.9h1.0M234.5 559.4h1.0M164 567.5h1.0M241.5 561.4h1.0M168.9 560.4h1.0M225.4 566h1.0M195 560.2h1.0M175.2 563.6h1.0M192.2 559h1.0M224.7 566.7h1.0M247.7 566.7h1.0M213.8 567.5h1.0M222.9 559h1.0M168.7 563.2h1.0M244.7 562.5h1.0M224.8 560.3h1.0M180 563.9h1.0M176.7 563.7h1.0M180.3 560.2h1.0M162.4 571.4h1.0M189.5 560.9h1.0M207.8 561.9h1.0M180.4 558.7h1.0M172 562.6h1.0M239.9 562.7h1.0M230.7 561.1h1.0M244.8 562.7h1.0M210.2 561.3h1.0M190.8 561.3h1.0M241.6 563.1h1.0M202 563.6h1.0M226 573.3h1.0M185.4 560.4h1.0M200.9 562.1h1.0M191.2 566.6h1.0M244 560.4h1.0M166.5 567.8h1.0M213.6 564h1.0M194.4 562.4h1.0M208.7 567.3h1.0M173.8 558.5h1.0M238.2 563.3h1.0M172.1 558.2h1.0M246.2 562.9h1.0M175.1 560.1h1.0M229.5 562.2h1.0M191.8 561.6h1.0M163.1 574.2h1.0M166.9 563.4h1.0M225.4 557.9h1.0M225.1 560.3h1.0M235 562h1.0M188.9 563h1.0M171.5 566.2h1.0M170.9 557.1h1.0M176.1 558.1h1.0M189.1 558.3h1.0M195.9 560.6h1.0M173.7 559.6h1.0M207.4 564.8h1.0M179.4 559.1h1.0M249.1 563.2h1.0M182.4 562.4h1.0M218.1 559.2h1.0M183.5 560.3h1.0M190.3 557.4h1.0M181.7 557.9h1.0M164.8 569.7h1.0M222.7 561.3h1.0M210.7 559.9h1.0M213.9 562.2h1.0M205.5 559.7h1.0M217.8 559.9h1.0M180.3 566.4h1.0M216.3 562h1.0M160.5 573.8h1.0M212.4 560.6h1.0M175.4 561.6h1.0M194.1 561.5h1.0M207.3 563.9h1.0M178.2 564.8h1.0M168.2 568h1.0M219 556.6h1.0M197.9 558.3h1.0M220.7 559.7h1.0M194.6 556.7h1.0M187.1 562.2h1.0M225.6 560.4h1.0M187.6 555.6h1.0M164.4 558.5h1.0M213.9 563.8h1.0M247.1 561.2h1.0M203.2 563.2h1.0M182.2 568.5h1.0M186 559.9h1.0M178.5 560.8h1.0M212.8 560.4h1.0M167.2 564.9h1.0M235 562.5h1.0M185.6 562.7h1.0M167.1 561.5h1.0M178.2 561h1.0M175.4 562.5h1.0M184.8 560h1.0M163.3 570.4h1.0M170.6 558.9h1.0M216.3 559.8h1.0M191.2 558.3h1.0M238.9 564.8h1.0M181.2 569.9h1.0M183.4 560.1h1.0M166.7 565.5h1.0M160.9 574.1h1.0M161 572.6h1.0M248.5 563.3h1.0M243.2 559.5h1.0M177.7 560.2h1.0M176 559.2h1.0M192.7 562.8h1.0M161.5 571.1h1.0M191.2 561.9h1.0M206.5 556.1h1.0M246.5 567.7h1.0M235.8 561.6h1.0M214 565.5h1.0M229.2 556.6h1.0M245 564.7h1.0M186.4 559h1.0M181.1 547.8h1.0M161.3 556.4h1.0M185.2 559.2h1.0M239.8 558h1.0M226.4 558.7h1.0M212.9 564.9h1.0M188.6 566h1.0M246.4 560.4h1.0M237.9 563.9h1.0M184.3 562.9h1.0M168.1 559.4h1.0M195.4 560.8h1.0M164.9 565.8h1.0M227 557.2h1.0M221.5 559.7h1.0M230.1 556.5h1.0M242.1 561h1.0M236.9 562.1h1.0M210.4 561.6h1.0M211.5 559.8h1.0M241.3 569.1h1.0M244.6 561.3h1.0M217.7 566h1.0M181.7 558.5h1.0M223.6 559.1h1.0M202 557.3h1.0M238.7 560.2h1.0M231.2 556.6h1.0M216.2 549.2h1.0M200.7 562.2h1.0M228.1 561.2h1.0M193.3 557.6h1.0M241.6 559.7h1.0M194.4 564.7h1.0M193.5 558h1.0M247.4 566.4h1.0M169.7 561.9h1.0M228.1 560.9h1.0M236.7 558.9h1.0M189.9 562h1.0M193.9 561.7h1.0M246.9 562.3h1.0M229.2 557.6h1.0M197.1 568.6h1.0M164.7 567h1.0M167 565.1h1.0M224.2 564.2h1.0M215.6 551.9h1.0M171.5 562.3h1.0M204.5 565.6h1.0M193.2 563.3h1.0M203.7 556.6h1.0M213.6 560.9h1.0M215.7 556.3h1.0M222.4 562.3h1.0" stroke="#222" stroke-width="1.0"/>
<path d="M160 574.6l.5-3 .5-1.2.5-1.6.5-1.8.5 1.8.5-.7m1 1.7h1m0-3.1h1m0-.8l.5-3.1m1-2.7l.5 2.2.5 1.5.5-.6.5 1.6m1-2.3l.5.8.5 1m1.5-2.1h1m.5-2.3h1m0 3.2l.5-2.4.5 2.7m1-1.1h1m0-1.8l.5 1.2.5.5m1-3h1m1 1.2l.5-.3.5.7m1-.5l.5 2.7m1-2.9l.5 1.2.5.5.5-1.3.5 3.3.5-2.2.5 0m2.5-.4l.5 2.7.5-1.4.5.2.5-.8.5-2.5.5-.8m1 2.8l.5-3m1-1.9l.5 1.9.5 3.5.5-1.9m1 0h1m0 1.1l.5.9m1 2.5l.5-1.5m1.5.8l.5-5m1 .2l.5.8.5 0 .5.5.5-1.1m1 1.5h1m1.5-1.9h1m0-.2l.5.5.5 2.5m1-2.2h1m0-.4h1m.5 1.6l.5-.3m2-.3h1m.5-.2h1m0 .6l.5.1.5.4.5-1.5.5 1.6.5 3.6.5-3.2.5-2.9.5 4.2m1-2.3l.5.1.5.2.5.9.5-4.8.5 1.1m2.5 3.1l.5 1.9m1-2.1h1m0-3.2h1m2 5.1l.5-.8m1-1.5l.5 1.2.5-1.7.5-1.5.5 2.6.5-1.2m2.5-.1l.5 7.2.5-4.3.5 4 .5-2.6.5-2.1.5-.5.5 2.4.5-5.3.5 3.1m1 1l.5.6" stroke="#000" stroke-width="1.14" fill="none"/>
<path d="M272.3 560.5h1.0M287.9 566.1h1.0M250.3 560.7h1.0M288.2 562.2h1.0M290.8 559.7h1.0M252.6 567.3h1.0M298.7 556.9h1.0M256 575.7h1.0M252.7 571.8h1.0M280.5 562.8h1.0M267.2 558.2h1.0M270 561h1.0M287.6 554.6h1.0M261.8 578.1h1.0M275.5 560.9h1.0M291.4 562.8h1.0M255.5 583.7h1.0M269.3 563.3h1.0M296 551.8h1.0M266.9 566.9h1.0M263.5 564.2h1.0M274.7 572.5h1.0M274.1 566.9h1.0M292.7 549.2h1.0M277.6 556.9h1.0M265.7 577.7h1.0M301.5 555.4h1.0M302.6 556.4h1.0M297.5 556.5h1.0M289.1 564.2h1.0M289.8 554.6h1.0M288.9 564.3h1.0M288.2 565.8h1.0M277.6 565.5h1.0M263.8 569.6h1.0M280.5 560.9h1.0M260 562.9h1.0M304.1 562.1h1.0M286.4 562.1h1.0M282.8 566.8h1.0M256.3 578.2h1.0M277.1 561h1.0M271.1 566.3h1.0M296.6 553.1h1.0M296.1 558.3h1.0M309.9 547.3h1.0M283.6 559h1.0M252.9 563.3h1.0M274.9 565.9h1.0M252.2 568.9h1.0M263.2 582.3h1.0M268.7 564.7h1.0M267.2 572.8h1.0M264.3 561.7h1.0M283.5 555.2h1.0M293.4 561.3h1.0M287.5 560.7h1.0M291.7 556.9h1.0M268.5 567.9h1.0M279 565.2h1.0M304 565.5h1.0M274 570.5h1.0M296.4 549.6h1.0M259.8 565.1h1.0M298.4 546.3h1.0M276.8 566.3h1.0M286.7 554.1h1.0M288.8 556.5h1.0M304.8 551.2h1.0M292.8 557.9h1.0M283.1 564.9h1.0M306 559.3h1.0M274.5 570.3h1.0M270.5 568.6h1.0M287 564.2h1.0M266.1 577h1.0M257.6 571.1h1.0M280.8 558.9h1.0M283.2 566.6h1.0M252 567.4h1.0M258 566.4h1.0M267.7 541h1.0M251.7 561.3h1.0M289.7 548.9h1.0M288.4 560h1.0M292.4 554.4h1.0M270 561h1.0M276.8 551.7h1.0M254.8 577.4h1.0M302.6 553.8h1.0M287.5 557.6h1.0M278.1 563.4h1.0M281.2 560.5h1.0M263.4 571h1.0M290.6 558.5h1.0M262.6 580.7h1.0M308.1 560.3h1.0M301.9 556.4h1.0M250.1 552.4h1.0M266.3 561.7h1.0M256.8 560h1.0M296.4 562.6h1.0M257.6 574.4h1.0M268 565.4h1.0M256.3 581h1.0M271.1 562.7h1.0M257.7 566.1h1.0M302.9 545h1.0M284.9 563.6h1.0M302.6 557.8h1.0M296.9 555.3h1.0M298.2 558.1h1.0M293.8 559.1h1.0M262.8 581.8h1.0M275.6 566.1h1.0M295 556.6h1.0M254.8 572.8h1.0M256.2 572.1h1.0M259.7 561h1.0M292.7 557.4h1.0M257.9 576.4h1.0M272.7 562.1h1.0M263.6 573.3h1.0M306.8 560.9h1.0M291.6 561.2h1.0M300.5 556.1h1.0M278.1 564.9h1.0M300.1 556.6h1.0M252.3 574.2h1.0M264 568.1h1.0M292 559.9h1.0M296.9 556.4h1.0M276.3 556.7h1.0M255.7 561.4h1.0M302.1 562.5h1.0M269.4 563.2h1.0M287.7 562.5h1.0M256.7 568h1.0M257.5 575h1.0M309.5 559.7h1.0M256.8 580.9h1.0M284.2 559.1h1.0M273.8 579.2h1.0M283.5 553.4h1.0M308.7 561.9h1.0M285.8 558.1h1.0M285.5 562.7h1.0M306 556.7h1.0M273.2 572.5h1.0M254.6 572h1.0M300.7 560h1.0M253.4 566.5h1.0M300.7 557h1.0M273.8 565h1.0M308.4 559.3h1.0M288.9 558.7h1.0M274.1 564h1.0M299.3 557h1.0M309.2 564.9h1.0M254.8 582.4h1.0M280 559.5h1.0M273.2 566.9h1.0M250.3 572.3h1.0M297.8 563.7h1.0M298 555.7h1.0M280.4 565.1h1.0M281.1 560.3h1.0M264.5 575.6h1.0M268.2 562h1.0M273.7 563.7h1.0M301 560h1.0M250.9 568.3h1.0M295.2 571.8h1.0M305.6 559.6h1.0M266 556.2h1.0M257.7 578.7h1.0M295.1 561.8h1.0M281.3 555h1.0M295.3 562h1.0M290.9 558.5h1.0M308.8 559.5h1.0M292.2 554h1.0M288 561.4h1.0M284.6 560.7h1.0M275 572.5h1.0M307.9 560.5h1.0M286.5 556.1h1.0M285.4 564.4h1.0M275.8 569h1.0M285.7 554h1.0M301.8 555.7h1.0M307.5 564.7h1.0M284.7 563.2h1.0M288.7 560.6h1.0M253 574.2h1.0M271.5 566.6h1.0M282.5 563.6h1.0M284.6 563h1.0M270.2 563.3h1.0M262.5 568.7h1.0M293.6 561.3h1.0M266.7 563.9h1.0M259.5 570.3h1.0M301.2 562h1.0M285.8 555.8h1.0M305 565h1.0M290.9 557h1.0M289.4 563.5h1.0M293.3 559.9h1.0M250.9 566.9h1.0M274.7 577h1.0M284.1 559.3h1.0M269.1 567.5h1.0M257.5 574.9h1.0M292.5 558.6h1.0M286.4 565.9h1.0M271.1 563.2h1.0M262.5 571.6h1.0M285.7 562.7h1.0M255.9 573.9h1.0M295.8 552.7h1.0M298.6 554.8h1.0M267.7 564h1.0M253.8 571.7h1.0M296.5 561.3h1.0M309.4 559.1h1.0M258.9 569h1.0M291.2 555.5h1.0M277.9 558.7h1.0M304.8 558.3h1.0M305.9 558.8h1.0M263.3 571.1h1.0M290.9 559.7h1.0M288.1 561.6h1.0" stroke="#222" stroke-width="1.0"/>
<path d="M250.5 564.4l.5 2.9.5 4 .5-5.9m1.5 2.6l.5 4.6m1 0l.5-.8m1 4.4h1m0-6h1m0 3.5h1m0 .3l.5 1.3.5-2.3m1.5 2.1h1m.5-3.4h1m0-5.4l.5 1.2m1 2l.5-.2m1-1.1h1m0 2.8h1m0-8.6l.5 2.4.5 1.4.5-5.4.5 5m1-1.5l.5.8m1.5-.1l.5-.8m1.5.5l.5 3.4.5-2.9m2.5 1.8h1m.5-7.9l.5-1 .5 3.9.5-.2.5 2.5m1-.8h1m.5-2.5l.5.5.5 2.7m1.5-1.4l.5.8.5-7.2m2.5-.5l.5-3.7.5 5.2m1-5.4l.5 2m1-2.1l.5-.3.5 4.8m1-.4h1m0 1.6h1m0-3.9l.5 3.7.5 4.7m1.5.2h1m0 1.8l.5-6.4m1 .5l.5 3.6.5-5.3m1.5 3.2h1m0-2.9l.5 4.6.5-2.5.5-.5.5-1.4" stroke="#000" stroke-width="0.95" fill="none"/>
<path d="M320.2 556.3h1.0M315 550.5h1.0M318.4 559.3h1.0M333.4 545.4h1.0M335.6 552.8h1.0M316.4 557h1.0M349.9 544.3h1.0M326.2 564.6h1.0M313.6 555.8h1.0M313.5 555.4h1.0M332.5 564.8h1.0M312.7 557.9h1.0M333.3 548.2h1.0M323.6 545.4h1.0M316.9 553.2h1.0M322.9 561.6h1.0M327 548.4h1.0M343.5 554.8h1.0M311.8 561h1.0M350.4 548.4h1.0M335.1 560.5h1.0M323.6 555.2h1.0M346.2 551.9h1.0M344.3 546.5h1.0M346.3 554.2h1.0M351.5 541h1.0M311 568.8h1.0M342 548.9h1.0M344.3 552.5h1.0M313.8 555h1.0M342.2 552.3h1.0M347.4 554.1h1.0M319.4 548.4h1.0M327.3 543.5h1.0M335.4 556.4h1.0M327.7 550.3h1.0M311.5 552.5h1.0M348.5 557.8h1.0M320.2 557.9h1.0M328.8 557h1.0M333.5 563.8h1.0M329.4 552.9h1.0M347.7 550.8h1.0M344.6 555.8h1.0M332.4 549.8h1.0M320.5 557.3h1.0M314.6 569.7h1.0M350.2 544.8h1.0M310.7 561.3h1.0M343.1 553.2h1.0M335.4 557.5h1.0M341.7 573.3h1.0M334.8 543.5h1.0M319.6 557.3h1.0M310.1 553.5h1.0M336.3 553.1h1.0M329 555.2h1.0M333 545.9h1.0M344.4 546.7h1.0M319.6 552.4h1.0M312.8 552.5h1.0M324.3 553.3h1.0M348.9 541h1.0M323.3 554.6h1.0M337.1 547.2h1.0M333.3 552.8h1.0M311.5 559.1h1.0M331.5 559.6h1.0M337.6 547.7h1.0M349.9 552.3h1.0M341.4 559.9h1.0M318 560.4h1.0M332.8 541h1.0M322.7 550.3h1.0M312.5 555.3h1.0M322.9 553.1h1.0M338.2 541.1h1.0M351.7 550.5h1.0M323.1 563.3h1.0M310.7 556.2h1.0M327.7 551.4h1.0M311.1 555h1.0M314.4 548.7h1.0M351.7 549.1h1.0M340.8 559.1h1.0M337.4 555.9h1.0M319.2 554.3h1.0M316.7 558.9h1.0M331.8 550.2h1.0M312.3 551.9h1.0M320 558.4h1.0M324.5 560.2h1.0M335.9 557.9h1.0M335.5 563.5h1.0M351.3 553.6h1.0M351.3 564.9h1.0M314.8 559.7h1.0M346.5 550h1.0M311.5 571.3h1.0M335.4 541h1.0M321 560h1.0M329.1 545.3h1.0M333.3 542.1h1.0M336.8 556.1h1.0M342.4 556.3h1.0M351.3 562.1h1.0M333.8 550h1.0M313 554.4h1.0M322.9 567.7h1.0M347 566.1h1.0M344.4 554.4h1.0M349.2 544.5h1.0M319 557h1.0M329.2 550.4h1.0M342.8 558h1.0M323.5 560.4h1.0M331.2 556.8h1.0M318.1 550.7h1.0M324.8 541.7h1.0M320.3 556.3h1.0M351.4 561.2h1.0M322.5 557.9h1.0M316.3 558.7h1.0M334.5 567.9h1.0M332.9 557.2h1.0M326.4 547.2h1.0M342.1 560.9h1.0M334.5 541h1.0M326.4 558.9h1.0M345.4 551h1.0M311.3 556.8h1.0M340.5 556.2h1.0M319.5 557.5h1.0M326.6 555.2h1.0M349.1 552.9h1.0M341.9 544.3h1.0M350.3 543.3h1.0M349.6 550.4h1.0M331.6 562.8h1.0M319.4 559.2h1.0M337.2 562h1.0M310.9 564.9h1.0M351 550.6h1.0M314.4 555.6h1.0" stroke="#222" stroke-width="1.0"/>
<path d="M310 556h1m1.5 1.6l.5 1.4.5 1.1m2-2.5l.5-.3.5-3 .5 2.7.5-.4.5 5.4m1-5.1l.5-1.8m1 2.3l.5-4.9.5 4.1.5 0 .5 3 .5-2.7.5-2 .5 3.8.5-4.3.5 2.7m1-2l.5-.2m1 .6l.5-3.1m1.5 4.2l.5-2.9.5.7m1 1.2l.5-1.4.5 2.1m1.5-3.5l.5-.9.5.7m1 2l.5-9.3.5 8.1m1.5 1.8l.5-4.8.5 5.8.5-8.3.5 1.5m1.5-.4h1m0 .7l.5 3.3.5.2.5-2.3m1.5 4.5h1m0-2.1l.5.4.5-6.4m1 5.8l.5-.7.5.4.5-1 .5-8 .5 8.5.5-.8" stroke="#000" stroke-width="0.6649999999999999" fill="none"/>
<path d="M433 560.4h1.0M409.6 571.8h1.0M401.4 571.1h1.0M404.3 567.8h1.0M428 564.1h1.0M446 574.1h1.0M440 559.7h1.0M450.5 574.8h1.0M431.9 560.2h1.0M387.6 566.5h1.0M392 571h1.0M444.4 571.5h1.0M396.1 566.5h1.0M407 569.8h1.0M408.2 566.4h1.0M395.8 566.4h1.0M438.5 556.8h1.0M415.2 568.1h1.0M417.9 573.1h1.0M399.6 572.8h1.0M411.3 569h1.0M409.7 569.8h1.0M434.5 563.6h1.0M446.9 568.5h1.0M406 566h1.0M404 570.6h1.0M432.5 564.3h1.0M424.6 565.5h1.0M400.5 578.8h1.0M399.4 559.6h1.0M443 573.6h1.0M410.1 568.4h1.0M398.5 570.3h1.0M415.7 573.5h1.0M425.3 569.6h1.0M439.1 561.2h1.0M432.6 567.1h1.0M396.1 566.3h1.0M419.6 572.1h1.0M410.6 573.5h1.0M427.6 570.5h1.0M433.9 558.4h1.0M412.4 566.5h1.0M447.7 586h1.0M424.7 561.5h1.0M402.9 576.3h1.0M444.8 568.4h1.0M444.3 574.8h1.0M411 563.7h1.0M436 568.8h1.0M431.8 567h1.0M444 569.4h1.0M444.9 577.1h1.0M398.2 565.4h1.0M424.3 565h1.0M407 572.3h1.0M411.7 567h1.0M428.2 566.7h1.0M416.7 571h1.0M436 564.3h1.0M406.9 570.5h1.0M440.7 561.7h1.0M396.3 561.4h1.0M440.4 562.2h1.0M434.5 560.3h1.0M437.5 563.6h1.0M439.5 552.9h1.0M448.5 574.1h1.0M428.7 562.1h1.0M437.6 570.5h1.0M442.9 568.2h1.0M438.4 561.7h1.0M431.7 561.6h1.0M448.1 574.1h1.0M425 565.5h1.0M439.4 557.8h1.0M400.6 568.9h1.0M416.2 569.7h1.0M401.9 571.9h1.0M414.1 573.2h1.0M435.6 559h1.0M449.8 575.1h1.0M430.8 560.6h1.0M417.9 572.7h1.0M430.7 563.3h1.0M390.3 568.7h1.0M433.8 567.8h1.0M447 571h1.0M423.8 574h1.0M427.9 567.2h1.0M424 566.9h1.0M447.3 572.4h1.0M443.7 563.3h1.0M438.9 562.5h1.0M436.7 567.5h1.0M419.9 573.5h1.0M412.1 560.2h1.0M426 566.9h1.0M387.1 566.9h1.0M425.1 567.3h1.0M412.9 574.4h1.0M425.2 568.4h1.0M395.8 572.9h1.0M440.5 558.9h1.0M393.8 571.1h1.0M410 566.6h1.0M412.3 573.1h1.0M426.6 568.3h1.0M396.5 564.3h1.0M422 568h1.0M386.6 563.9h1.0M444.9 566h1.0M447.2 577.9h1.0M422.8 564.5h1.0M427.4 566.2h1.0M421.1 570.3h1.0M436.1 563.3h1.0M411 565.6h1.0M396.6 570.9h1.0M392.3 564.6h1.0M423 570.1h1.0M388.7 564.5h1.0M423.6 566.4h1.0M411.9 569.7h1.0M427.4 568.9h1.0M450.8 575.3h1.0M449.9 578.2h1.0M393.8 568.4h1.0M403.1 575.9h1.0M409.7 571.4h1.0M444.7 568.5h1.0M420.2 572.7h1.0M435.8 561.6h1.0M417.4 570.1h1.0M423.5 575h1.0M414.7 571.7h1.0M408.6 568.6h1.0M401.4 569.9h1.0M417.4 567.7h1.0M424.8 567.6h1.0M401.8 561.4h1.0M412.4 567.1h1.0M434.4 560.5h1.0M416.3 573.2h1.0M443.9 564.7h1.0M438.4 560h1.0M443.4 569h1.0M401.5 568.7h1.0M433.1 565.2h1.0M446.6 575.8h1.0M395.6 572.2h1.0M393.5 569.4h1.0M387.7 559.3h1.0M392.2 570h1.0M424.6 567.9h1.0M422.3 571.2h1.0M428.3 563.6h1.0M399.2 573.1h1.0M442.4 568.5h1.0M393.9 572h1.0M399.8 570.6h1.0M404.8 573.3h1.0M422.7 569.8h1.0M389.7 566.3h1.0M425.2 574.3h1.0M438.8 565.1h1.0M402.5 549.3h1.0M448.3 575.9h1.0M412.7 571.6h1.0M428.7 561.4h1.0M386.6 546.2h1.0M442.1 568.3h1.0M398.6 561.1h1.0M444.2 569h1.0M436.2 572h1.0M439.2 567.9h1.0M435.3 568h1.0M448.4 579h1.0M396.7 571.2h1.0M393.1 568.2h1.0M392.1 568.3h1.0M421.9 566.3h1.0M432.4 570.6h1.0M443.2 571.8h1.0M450.5 576.9h1.0M421.1 569.9h1.0M443.9 566h1.0M444.1 563.2h1.0M410 569.1h1.0M410.3 576.6h1.0M408.3 571.7h1.0M428.8 564.5h1.0M405.7 564.6h1.0M434 558.6h1.0M417 570.5h1.0M429.1 563.8h1.0M439.9 569.1h1.0M418.7 572.6h1.0M395.4 562.6h1.0M451.8 572.1h1.0M429.3 560.6h1.0M439.6 565h1.0M445.7 569.8h1.0M433.9 563.4h1.0M409.9 566.9h1.0M444.7 571.7h1.0M445.8 569.1h1.0M450.2 575.8h1.0M393.7 567.7h1.0M408 571.5h1.0M422.3 569.7h1.0M451.2 579h1.0M428.1 559.3h1.0M449.3 576.3h1.0M428.3 565.1h1.0M406.5 566.3h1.0M434.4 565.2h1.0M436.7 560.9h1.0M398.6 564.5h1.0M413.6 570.2h1.0M390.2 566.4h1.0M441.1 563.3h1.0M447.1 573.3h1.0M404.1 568.6h1.0M448.4 577.5h1.0M427.2 564.2h1.0M445 571.3h1.0M426.2 569.1h1.0M392.5 567.5h1.0M408.7 567.3h1.0M420.6 567.2h1.0M421.9 564.1h1.0M419.7 577.2h1.0M400.9 574h1.0" stroke="#222" stroke-width="1.0"/>
<path d="M386 568.8h1m0-.1l.5-1 .5.5.5 2 .5-3.4.5 3.2.5-3.5.5-1.5m1.5 1.4l.5.9.5-.1.5-.2.5-2.3.5 1.8.5.5.5.6.5 2.7.5-.5m1.5 1.2l.5-3.4m1-.4l.5-.7.5.6m1 1.8h1m.5-1.9l.5-1.5m1.5 3.3l.5-2.8.5.2m1.5 6.2l.5-3.5m1 2.1h1m0 1.7h1m.5-2.3l.5.9m1 .9h1m0-3.9l.5.8m1 .8l.5.4.5-.5.5-.2m1 .3l.5 2.1m1-2.7l.5 1.1m1-3.6l.5 3.1.5.1.5-2.5m1 .7l.5 1.9.5-.6m1-1.8h1m.5.9l.5-2 .5-.9.5-1.3m1.5-3.4l.5 2.5.5-1 .5-.5m1-3.2l.5 4.7m1-1.8l.5 3 .5-1 .5-1.3m2.5-3.2l.5 1.7m1 1.7h1m0-.6h1m0 .7l.5 3.5.5.8.5-.2m1 3.3l.5.9.5-.5m1 2.8l.5 2.2m1-.9l.5-.9m1.5 1l.5 1.1.5-1.3m1.5 1.9h1" stroke="#000" stroke-width="1.14" fill="none"/>
<path d="M352 548.7l.8.6.8.8.8.8.8.4.8 1.1.8.7.8.7.8.1.8.1.8.4.8.7.8.3" stroke="#000" stroke-width="1.2" fill="none"/>
<path d="M365 570.9l.8 1.8.8-.8.8-.6.8-1.4.8-.4.8 1 .8-1.7.8-.3.8.2.8-1.2.8-.3.8-.8.8 1.1.8 1.1.8-.2.8.8.8.2.8-.3.8 1.1.8.7.8.2.8.8.8-.2.8-.6.8 1.6" stroke="#000" stroke-width="1.2" fill="none"/>
<path d="M373 567V549" stroke="#000" stroke-width="0.8"/>
<path d="M51.5 624.5h1.0M92.2 614.6h1.0M67.6 616h1.0M55.8 618.1h1.0M72.5 609.6h1.0M86.8 615.4h1.0M89.6 607.6h1.0M56.2 613.5h1.0M90.7 608.2h1.0M87.5 606h1.0M78.5 611.6h1.0M92.1 625h1.0M71 616.5h1.0M64.3 614h1.0M74.5 619.2h1.0M81 610.5h1.0M80.5 609.7h1.0M59.1 620.4h1.0M85.6 607.6h1.0M88.5 606.8h1.0M64.8 610.7h1.0M84.1 611.2h1.0M66.2 610.9h1.0M61.3 620.3h1.0M68.9 607.5h1.0M99.4 619.7h1.0M51.7 616.8h1.0M52.3 613.2h1.0M93.6 607.5h1.0M57.3 631h1.0M84.7 608.7h1.0M88.5 606.8h1.0M82.5 601.9h1.0M66 616.3h1.0M69.9 611.2h1.0M93.5 613.4h1.0M62.8 616.1h1.0M72.9 611.2h1.0M80.2 608.6h1.0M58.5 625.6h1.0M61.5 624.7h1.0M51.6 622h1.0M77 615.1h1.0M97 619h1.0M57.2 628.2h1.0M53.1 613.6h1.0M80.4 607.6h1.0M65.6 603h1.0M54 610.5h1.0M68.1 605.6h1.0M93.8 619.7h1.0M93.8 611.5h1.0M54.1 608.1h1.0M77.1 606.8h1.0M53.4 592.2h1.0M67.3 610.5h1.0M73.4 614.9h1.0M75.6 604.6h1.0M83.5 612.1h1.0M65.1 610.3h1.0M75.2 613.1h1.0M93.6 614.4h1.0M70.4 612.5h1.0M75.7 609.5h1.0M76.4 615.1h1.0M98.8 606.9h1.0M54.1 609.4h1.0M79.1 600.1h1.0M90.3 617.1h1.0M68.3 618.8h1.0M86.2 631h1.0M56.5 621.7h1.0M94.6 616.3h1.0M67.8 623h1.0M68.2 608.2h1.0M74.4 608.8h1.0M87.6 612.2h1.0M95.6 619.5h1.0M89.7 613.3h1.0M99.5 603.6h1.0M85.1 592.7h1.0M69.8 617.2h1.0M82.3 614.9h1.0M56.9 610.2h1.0M51.7 612.3h1.0M55.4 609.5h1.0M61.4 620.7h1.0M72.1 609.3h1.0M69.3 618.2h1.0M82.7 602.6h1.0M77.1 612h1.0M88 607.3h1.0M68.2 610.1h1.0M56 616.3h1.0M52.2 614.1h1.0M52.6 614.1h1.0M73.2 611.1h1.0M58.6 626.3h1.0M55 615h1.0M89.5 617.3h1.0M55 607.4h1.0M59 631h1.0M63.6 614.9h1.0M86.6 614h1.0M72.2 616.5h1.0M96.8 617.2h1.0M59.2 627h1.0M56.1 588h1.0M84.4 604h1.0M54.2 596.4h1.0M91.9 610.2h1.0M51 616.8h1.0M91.5 623.2h1.0M56.8 631h1.0M74 609.3h1.0M74.8 603.8h1.0M80.4 606.2h1.0M72.6 604.7h1.0M56.3 616h1.0M53.9 613.3h1.0M62.1 616.2h1.0M71.3 613.1h1.0M64.3 608.3h1.0M98.8 613.4h1.0M75.3 610.9h1.0M53.2 611.7h1.0M72.5 607.3h1.0M62.5 621.6h1.0M77.7 601.8h1.0M62.5 620h1.0M94.5 619h1.0M69.5 608.5h1.0M67.2 610.3h1.0M61 626.7h1.0M99.2 611.9h1.0M56.7 620.6h1.0M86.9 610.4h1.0M60.4 630h1.0M71.9 610.7h1.0M73.5 609.1h1.0M85.8 613.5h1.0M95.5 612.5h1.0M57.5 620.3h1.0M72.6 601.4h1.0M73.2 617.4h1.0M68.4 615.2h1.0M94 610.3h1.0M79.9 618.6h1.0M96.4 618.1h1.0M92.2 617.6h1.0M59.3 629.4h1.0M62.1 629.4h1.0M90 613.1h1.0M54.4 611.4h1.0M81.2 614.7h1.0M54.5 614.9h1.0M56.5 609.9h1.0M76.4 606.2h1.0M79.2 608h1.0M61.3 620.4h1.0M58 619.8h1.0M91.4 613.4h1.0M96.1 613h1.0M93.5 616.4h1.0M83.4 619h1.0M64.4 613.1h1.0M78.5 606.2h1.0M95.9 619.3h1.0M77.8 607.8h1.0M66.8 615h1.0M64.1 608.3h1.0M65 609.6h1.0M87.8 612.9h1.0M68.9 612.8h1.0M78.4 631h1.0M61.5 628.2h1.0M74.9 610.7h1.0M55.8 613h1.0M95.9 618.9h1.0M73.4 612.4h1.0M60 630.6h1.0M78.4 601.6h1.0M74.3 620.7h1.0M58 631h1.0M78.8 613.4h1.0M74.7 611h1.0M69.5 605.3h1.0M96.8 620.4h1.0M85.3 610.4h1.0M69.7 611.4h1.0M54.5 611.8h1.0M89.4 624.9h1.0M76.6 610.9h1.0M73.8 609.4h1.0M70.4 613.3h1.0M77.6 622.8h1.0M51.6 617.5h1.0M72.2 609.4h1.0M63.8 631h1.0M87.6 613.7h1.0M62.3 613.8h1.0M73.1 598.3h1.0M95.8 626.2h1.0M71.7 609.2h1.0M74.2 612.3h1.0M69.8 615.9h1.0M67.7 608.7h1.0M61.9 620.6h1.0M93.8 613.4h1.0M52 626h1.0M70.5 611.6h1.0M58.6 626.4h1.0M58.4 622.4h1.0M61.6 610.4h1.0M60.9 622.6h1.0M88.8 623.9h1.0M68.4 619h1.0M85.2 597h1.0M71.9 615.7h1.0M61.5 617.4h1.0M98.5 608h1.0M89.1 616.6h1.0M85.6 630.4h1.0M90.6 617.9h1.0M79.7 610h1.0" stroke="#222" stroke-width="1.0"/>
<path d="M51.5 616.7h1m.5 1.6l.5-3.3.5 1.3.5-5.1.5-3.9m1 9l.5 1.5m1 7.5h1m1 .4l.5.9m3.5-12.5l.5-3.5.5-3.5.5 1.8.5 2.8.5 2.6m1-2.4h1m0 2.9l.5-3 .5-1.6.5 2.1.5-3.8m1-2.4h1m0 7.6h1m0-2l.5 1.1m1 1.4l.5.5.5-2.5.5-1.7m2 6.1l.5-2.6.5-1.1m1-3.4l.5 2.9.5-.9.5-1.1m1-4l.5 5.1m2.5 1.9h1m0-.2l.5-3 .5 3.4.5 2.4.5-4.5.5 3.5.5-.6m1 4.1h1m0-5.2l.5 5.2m1-4.7l.5 1.4m1 3.8l.5-3 .5-.2m1-2.1l.5-2.5.5 3.4m2-5.8l.5 2.8" stroke="#000" stroke-width="1.045" fill="none"/>
<path d="M135.3 618.2h1.0M128.9 616.3h1.0M123.3 615.9h1.0M140 610.9h1.0M143.4 607.6h1.0M120.2 610.8h1.0M102.5 615h1.0M158.3 619.4h1.0M158.1 615h1.0M108 617.4h1.0M153.2 616.6h1.0M138.7 611.7h1.0M115.8 608h1.0M134.5 612.5h1.0M129.1 605.7h1.0M141.8 606.2h1.0M111.8 601.1h1.0M112.1 607h1.0M156.4 611.2h1.0M159.9 610.1h1.0M113.1 612.1h1.0M107 610.3h1.0M105.1 607.9h1.0M153.7 617.1h1.0M130.6 607.5h1.0M106.3 608.4h1.0M104.5 606.3h1.0M123.1 615.1h1.0M101.1 608.4h1.0M109.2 605.8h1.0M115.9 608h1.0M116.9 611.5h1.0M146.3 612.6h1.0M114.1 606.4h1.0M111.3 612.6h1.0M130.8 615.5h1.0M155.2 611.6h1.0M147.7 609h1.0M157.8 613h1.0M127.1 606.5h1.0M127.4 613.3h1.0M139.4 623h1.0M123.8 609.5h1.0M128.9 613.5h1.0M103.3 594.3h1.0M110.8 606.9h1.0M155 610.1h1.0M157.5 614.3h1.0M108.6 606.2h1.0M136.1 613.6h1.0M131.2 627.4h1.0M131.7 610.9h1.0M139.3 611h1.0M156.4 608.7h1.0M107.8 603.1h1.0M104.2 618.2h1.0M142.6 610.3h1.0M100.2 614.5h1.0M135.4 594.7h1.0M120.9 607.7h1.0M141.9 607.4h1.0M110.4 608h1.0M101.8 610.9h1.0M104.7 608.6h1.0M154.5 604.3h1.0M148.6 610.8h1.0M127.3 611.4h1.0M131.3 607.7h1.0M142.8 617h1.0M111 610.7h1.0M113.1 604.5h1.0M138.3 610.2h1.0M148 611.8h1.0M148.5 614.3h1.0M103.5 606.1h1.0M117.7 606.9h1.0M115.8 601.4h1.0M157.1 608.9h1.0M153.5 624.4h1.0M120.1 609.8h1.0M151.5 610.9h1.0M102.7 613.6h1.0M135.5 608.3h1.0M157.1 611.2h1.0M155 604.5h1.0M148.3 629.7h1.0M136.4 601h1.0M109.7 608.4h1.0M132.8 613h1.0M143.7 610.8h1.0M113.6 599h1.0M129 610.1h1.0M131.7 608.3h1.0M129.7 606.5h1.0M150.8 605.6h1.0M127.7 613.4h1.0M156.8 613.7h1.0M148.7 610.9h1.0M143.1 610.6h1.0M121 610.3h1.0M159.1 609.7h1.0M102.1 608.6h1.0M114.3 605.8h1.0M159.1 608.6h1.0M126.5 609.1h1.0M104.2 614.3h1.0M119 607h1.0M147.1 611.2h1.0M140.9 609h1.0M147 615.1h1.0M135.3 616.6h1.0M114.9 604.7h1.0M130.6 618.3h1.0M152.6 618.4h1.0M123.2 605.6h1.0M157.7 613.3h1.0M152 614.4h1.0M135.8 610.4h1.0M134.8 617.2h1.0M122.1 617.1h1.0M123.6 612.4h1.0M119 606.7h1.0M137.3 612.3h1.0M149.6 608.6h1.0M134.4 610.6h1.0M126.6 613.7h1.0M133.1 614.1h1.0M125 609.3h1.0M154.3 611.2h1.0M155.8 612.1h1.0M149.5 608.1h1.0M119.2 608.9h1.0M134 609.4h1.0M133.3 610.9h1.0M149.9 610.1h1.0M100.2 617.1h1.0M136.1 604.7h1.0M112.9 604.8h1.0M125.7 612.5h1.0M129.5 619.6h1.0M151.1 616.7h1.0M117.2 607.3h1.0M111.8 600h1.0M126.5 606h1.0M139 609.2h1.0M103.6 603.9h1.0M150.5 616.9h1.0M104.1 607.3h1.0M126.4 617.8h1.0M131.5 614.4h1.0M123.4 609.9h1.0M112.5 607h1.0M153.5 613h1.0M157.1 608h1.0M118.6 607.4h1.0M155.3 612h1.0M125.4 610.9h1.0M143.7 611.9h1.0M124.4 610.5h1.0M125.9 610.2h1.0M115.7 607h1.0M122.4 607.4h1.0M119.3 614.3h1.0M101.9 614.5h1.0M111 609.5h1.0M147.7 605.9h1.0M129.9 607.7h1.0M123.7 629.3h1.0M146.1 606.8h1.0M153.6 609.9h1.0M118.6 607.7h1.0M136.4 599.5h1.0M142.9 621.1h1.0M141.2 617.1h1.0M140.8 607.1h1.0M109.7 604.3h1.0M115.6 588h1.0M152.3 611.6h1.0M123.1 602.6h1.0M133.1 609.3h1.0M139.9 607.8h1.0M117.1 607.4h1.0M137.4 610.2h1.0M115.8 607.9h1.0M158 605.9h1.0M149.4 619.2h1.0M139.1 614.2h1.0M152.8 614.7h1.0M132.7 608.5h1.0M100.3 618.5h1.0M111.4 605h1.0M140.3 614.3h1.0M104 615.3h1.0M135.1 612.8h1.0M132.4 613.5h1.0M118.9 610.7h1.0M135.7 609.3h1.0M117.7 600h1.0M116.1 610.8h1.0M123.8 614.1h1.0M128.7 609.1h1.0M135.6 609.4h1.0M110.8 607.1h1.0M154 607.3h1.0M128 612.7h1.0M132.3 613.2h1.0M122.1 603.7h1.0M139.5 608.2h1.0M115.9 608.2h1.0M128.4 607.4h1.0M133.7 608h1.0M147.4 611.9h1.0M103.6 603.5h1.0M103.2 606.3h1.0M132.2 607.7h1.0M131.7 613.2h1.0M158.8 610.7h1.0M113.2 602.2h1.0M157.1 615.6h1.0M101.9 608.1h1.0M147.4 608.4h1.0M135.7 609.7h1.0M107.9 606.4h1.0M134.6 605.6h1.0M146.9 614.7h1.0M153.8 615.2h1.0M136.5 598.7h1.0M156.1 613.5h1.0M107.3 609.7h1.0M121.5 610.8h1.0M119.5 609h1.0M148.9 609.3h1.0M112 605.3h1.0M102.3 609.9h1.0M151.9 614.4h1.0M130.5 614.9h1.0M152.4 610.1h1.0M113.7 605h1.0M142.2 617.1h1.0M132.4 616.4h1.0M126.5 612.6h1.0M119.5 611.4h1.0M108.2 605.2h1.0M105.5 614.8h1.0M118.1 608.2h1.0M145.6 607.1h1.0M147.3 604.1h1.0M124.7 614.4h1.0M118.3 608.8h1.0M100.4 606.9h1.0M158.2 614.9h1.0M154 615.2h1.0M151.3 618.8h1.0M129.6 616.5h1.0M127.5 605.3h1.0M133.3 615.7h1.0M150.3 613.5h1.0M133 612.7h1.0M147.6 613.4h1.0M126.2 610.1h1.0M102.3 605.4h1.0M119.7 612.9h1.0M109.9 604.4h1.0M126.1 611.6h1.0M114.4 613.4h1.0M154.2 609.2h1.0M120.7 603.9h1.0M156.8 610.9h1.0M114.7 611.9h1.0M135.6 611.2h1.0" stroke="#222" stroke-width="1.0"/>
<path d="M100 612.7l.5-3.3.5 2.8.5-.4.5 2.8.5-9.3.5 6 .5 1.1.5-2.3.5-4.6.5-1.1.5 1.9m1 .2l.5 1.7.5-.1.5-1.5.5-2.8.5 1.1.5-1.2.5.6m1 2.8h1m0-1.1l.5-3.2.5 1.6.5 1.4m2 3l.5-4.3.5 5.3.5-2.2.5-3.2.5 6m1-2l.5.7.5.1.5 1.2m1-1.1l.5 3.7.5-.6.5 3 .5-.1.5-2 .5-2.5m1.5 4.8l.5-7.7m1 7.2l.5-5.5.5.4m1.5 4.7l.5-5.9.5 1.6.5-.6.5 1.4.5 2.2.5.4.5 2.9.5-2.1m1-3h1m.5 3.4l.5.6.5 3.2m1-4.5l.5 2.4.5-6.3.5.1.5 2 .5 0 .5.3m1 .8l.5-6.4m1 6.9l.5.3m1-5.7l.5-1 .5 8.7m1-6.6l.5 3m1 4.8h1m0-2.2l.5-3.2m1-.5h1m0-.3h1m0-1.1h1m0 1.7l.5-1.2.5 6.5.5-3.1m1-.7l.5 1.3m1.5-6.6h1m0 4.9h1" stroke="#000" stroke-width="1.045" fill="none"/>
<path d="M209 614.7h1.0M208.3 614.7h1.0M165.6 609.7h1.0M234.1 614h1.0M247.4 609.9h1.0M226.2 615.5h1.0M202.3 613.6h1.0M166.8 609.4h1.0M185.2 616.3h1.0M220.2 609.8h1.0M213.2 613.4h1.0M200 613.8h1.0M210.9 600.2h1.0M181.3 609h1.0M228.5 612.1h1.0M170.6 609.8h1.0M176.5 611.1h1.0M169.9 614.2h1.0M209 614.3h1.0M202.9 611.6h1.0M231.5 616.7h1.0M164.5 610h1.0M203.2 605.6h1.0M232.8 610h1.0M246.9 605.7h1.0M184.3 613.1h1.0M237 612.9h1.0M234 613.6h1.0M235.6 615.4h1.0M189.2 612.7h1.0M241.1 613.3h1.0M171.3 614.9h1.0M176.2 614.1h1.0M199.4 610h1.0M234.2 613.7h1.0M190.4 615.8h1.0M208.8 615.1h1.0M161.6 613.1h1.0M204.3 611.8h1.0M221.5 612.5h1.0M164.1 611.5h1.0M207.5 609.3h1.0M232.4 610.2h1.0M236.3 615.1h1.0M247.5 611.8h1.0M202.3 610.7h1.0M172.4 614.9h1.0M216.1 612.5h1.0M212.6 611.9h1.0M194.9 611.1h1.0M196.7 615.9h1.0M178.7 611.3h1.0M200.4 615h1.0M174.8 613h1.0M231.7 613.3h1.0M232.7 612.7h1.0M244.7 609.4h1.0M213.7 615.1h1.0M240.9 613.4h1.0M176.3 611.5h1.0M196.1 610.8h1.0M188.2 611h1.0M249.7 612.6h1.0M222.7 619.8h1.0M215.6 611.2h1.0M249.8 612.8h1.0M226.3 611.2h1.0M168.8 618.2h1.0M166.9 611.9h1.0M220.2 611.1h1.0M235.8 609.8h1.0M199.5 616.9h1.0M215.8 614.6h1.0M224.2 616.2h1.0M222.3 614.4h1.0M164.7 610.7h1.0M185.3 614.3h1.0M232.2 613.1h1.0M188.5 612.6h1.0M189.1 616.7h1.0M203.2 614.3h1.0M215 616.7h1.0M217.1 615.1h1.0M196.9 615.2h1.0M218.7 617.9h1.0M173.8 611.8h1.0M172.3 609.5h1.0M187.7 631h1.0M191.2 610.8h1.0M201.1 612.4h1.0M187.4 610.9h1.0M223.2 617.5h1.0M179.7 614.2h1.0M164.6 608h1.0M195.1 611.7h1.0M243.4 615.2h1.0M204.3 613.2h1.0M211 615.3h1.0M232.1 613.7h1.0M248.5 619.8h1.0M192.6 611.5h1.0M219.2 610.8h1.0M198 612h1.0M170.7 615.4h1.0M215 616.4h1.0M232.6 614.5h1.0M169.7 611h1.0M175.6 610.7h1.0M160.9 611.1h1.0M168.8 618.6h1.0M188.6 614.8h1.0M240.5 613.2h1.0M214.6 612.5h1.0M173.6 616.1h1.0M196.5 613.4h1.0M161.6 612.7h1.0M184.2 613.1h1.0M206 618.7h1.0M231.8 613.5h1.0M227 612.5h1.0M226.7 617.2h1.0M176.4 611.7h1.0M230 613.6h1.0M237.3 617.7h1.0M196.7 613.1h1.0M246.3 614.1h1.0M186.2 617.2h1.0M166.2 613.3h1.0M210.1 615.5h1.0M164 609.8h1.0M231.5 615.3h1.0M172.2 610h1.0M226.7 614.1h1.0M191.4 616.2h1.0M241 611.9h1.0M211 613h1.0M241.2 616.3h1.0M246.3 611.8h1.0M202.1 612.3h1.0M247.9 610.8h1.0M229.9 615.2h1.0M228.6 614.7h1.0M193.9 612.2h1.0M205.5 604.5h1.0M236.8 617.5h1.0M195.1 613.9h1.0M193.6 620.5h1.0M214.3 610.7h1.0M224.2 611.8h1.0M220.6 615h1.0M247.8 610.2h1.0M205.1 617.5h1.0M244 612.7h1.0M201.3 615.7h1.0M229.5 611.3h1.0M179.9 611.2h1.0M237.3 613.4h1.0M188.9 613.4h1.0M175.9 615h1.0M191.9 617.2h1.0M203.5 614.9h1.0M186.2 613.6h1.0M178.6 608.8h1.0M210.4 610h1.0M221.6 610.4h1.0M171.5 610.4h1.0M221.4 613.3h1.0M244.8 612.6h1.0M204.4 616.9h1.0M194.1 611.8h1.0M204.7 612.9h1.0M184 613.9h1.0M206.4 614.5h1.0M203.1 609.6h1.0M174.8 614.2h1.0M214.8 614h1.0M190.1 614.9h1.0M194.1 614.8h1.0M189.2 610.8h1.0M211.9 613.1h1.0M224.5 618.2h1.0M177.1 609.8h1.0M167.4 614h1.0M177 612.5h1.0M236.5 613.1h1.0M176.1 611.3h1.0M199.4 612.4h1.0M177.8 615.3h1.0M218.2 612.5h1.0M183.9 613.5h1.0M219 620.2h1.0M165.6 611.9h1.0M215.9 610.7h1.0M237.8 614.1h1.0M176.1 612.3h1.0M218.2 610.8h1.0M241.8 610.6h1.0M169.8 615.2h1.0M243.6 612.7h1.0M198.6 613.4h1.0M208.1 608.8h1.0M163 611.4h1.0M198.1 614.1h1.0M212.7 609.2h1.0M203.2 613.8h1.0M173 613.4h1.0M236.4 613.3h1.0M183.9 617.4h1.0M170 613.6h1.0M177.2 611.7h1.0M243.1 614h1.0M220.1 612.9h1.0M203.7 607.9h1.0M221.2 613.5h1.0M169.5 610.6h1.0M234.1 604.6h1.0" stroke="#222" stroke-width="1.0"/>
<path d="M160 608.3l.5 1.6.5-.7.5 4.2m1-1.7l.5-.1m3-.2h1m2.5 5.6l.5-4.2.5 3.3.5-.6m1-.3h1m1-1.4l.5-3.4.5 3.4.5-2.1.5 4.3.5-3m1.5-.8h1m0-.1l.5 1.7.5 1.4.5-.5m1-1.5h1m.5 0h1m0 1l.5 1.1.5-.7m1 2.6l.5-3.9.5.9.5.3.5-2.5.5 1.7m2 .3l.5-.3.5-.5.5-1.7.5.4.5 1.5.5-.5.5 1.4.5-.6.5 1.5m1-3.6h1m0 3h1m.5.3l.5-.1.5-2.5.5 1.2.5-1.6.5-2.3.5 4 .5-.5.5 1.5m1.5-.4h1m0-.4l.5-3.2m1 4.1h1m0-1.4l.5.3.5.6.5-2.9.5-.4.5 3.5.5-3.3.5.9.5 1.7.5-2.1.5 2.2.5-.5.5-.1.5-2.8.5 1.4m1.5-.4h1m0 .9h1m0-.2l.5.1m1.5 1.6l.5-2.4.5-1.5.5 3m1-.5h1m0 2l.5 1 .5-1.6.5.1.5.8.5-1 .5.7.5-1 .5 1.5.5-2.3.5 2.3.5-.3.5-1.7m1.5-1.7l.5 2.7m1-.2l.5.6.5-1.2.5-.9m1-2.4l.5 1.1m1.5 1.6h1m1.5-3.3h1m0 3.5l.5-.5.5-2 .5 4.2m1 1.9l.5 1.7.5-1m1.5-6h1m.5 4.3l.5-3m1 1.3l.5-1 .5-.4.5.4" stroke="#000" stroke-width="1.14" fill="none"/>
<path d="M297.6 613.7h1.0M262.3 611.1h1.0M297.4 614.8h1.0M290.4 610.3h1.0M298.1 610.5h1.0M298.1 615.4h1.0M285.3 615.1h1.0M270.5 616.1h1.0M253.3 614.1h1.0M265.6 614.3h1.0M306.8 609.2h1.0M258.6 618.1h1.0M300.8 611.8h1.0M253.4 614.5h1.0M296.5 613.3h1.0M256.1 612.3h1.0M290.1 608.9h1.0M289.7 615h1.0M276.6 613.6h1.0M262.3 615.6h1.0M288.6 613.3h1.0M301.8 608.2h1.0M251.3 613.6h1.0M271.1 616.2h1.0M257.5 614.5h1.0M276.6 614.8h1.0M286.4 617.1h1.0M303.2 609.3h1.0M308.9 614.4h1.0M293.8 616.2h1.0M258.6 612.1h1.0M299.6 610.8h1.0M281 612.7h1.0M290.7 612.8h1.0M259.6 614.3h1.0M263.4 615.2h1.0M259.4 614.7h1.0M291.4 613.7h1.0M301.1 616.7h1.0M252.1 614.6h1.0M268.5 614.4h1.0M303.7 613.2h1.0M265.9 611.4h1.0M304.8 617.1h1.0M252 611.3h1.0M301.4 613.1h1.0M290.1 611.7h1.0M298.9 614.4h1.0M282.8 619.1h1.0M262.6 613.8h1.0M289.7 614.3h1.0M270.7 615.4h1.0M293.4 612.5h1.0M259.5 614h1.0M294.1 612.8h1.0M253.7 608.2h1.0M260.4 618.1h1.0M284.7 614.1h1.0M287.5 615.5h1.0M284.1 609.7h1.0M291.2 618.9h1.0M270.7 616.5h1.0M269.5 611.5h1.0M287.2 607.9h1.0M276.4 612.8h1.0M276.4 614.2h1.0M288 613.7h1.0M287.5 614.5h1.0M278 617.5h1.0M273.9 613.9h1.0M281.8 614.4h1.0M298.4 617.6h1.0M286.3 607h1.0M289.4 604.4h1.0M274.6 611.5h1.0M308.8 613.2h1.0M272.9 615.4h1.0M259.8 619.9h1.0M301.7 624.5h1.0M275.9 611h1.0M297.9 614.2h1.0M272.9 623.5h1.0M255.7 615.5h1.0M302.3 613.2h1.0M295.7 613.7h1.0M279.1 614.2h1.0M307.1 614.2h1.0M283.2 616.1h1.0M279 613.8h1.0M291.3 617h1.0M281.2 615h1.0M285.1 612.6h1.0M251.3 610.9h1.0M278.6 617.1h1.0M251.4 612.3h1.0M284.9 613.4h1.0M284.1 612.2h1.0M259.2 618h1.0M294.2 619.4h1.0M262.2 605.8h1.0M309.4 613.8h1.0M303.8 611h1.0M252.8 612.9h1.0M304.2 613.5h1.0M300.6 615h1.0M270.1 612.6h1.0M275.9 611.8h1.0M289.5 611.8h1.0M290.3 613.5h1.0M256.4 608.7h1.0M293 616.4h1.0M274.4 614.6h1.0M282.4 609.2h1.0M258.8 611.3h1.0M309.1 617.7h1.0M261.7 618.9h1.0M282.2 612.8h1.0M253.3 613.6h1.0M270.1 615.5h1.0M300.1 611.9h1.0M270.9 614.6h1.0M278.2 613.3h1.0M277.8 611.8h1.0M282.1 616.7h1.0M308.4 613.6h1.0M288.2 618h1.0M262.5 611.2h1.0M302.7 609.8h1.0M285.2 610.3h1.0M254.4 618.3h1.0M289.3 610.9h1.0M262.7 618.7h1.0M296.4 609.4h1.0M290.8 617.7h1.0M307.4 624h1.0M259 617.1h1.0M276 619.2h1.0M250.3 613.5h1.0M286.7 610.5h1.0M282 610h1.0M261.8 612.1h1.0M273.5 618.4h1.0M306.3 610.6h1.0M273.3 612.8h1.0M280 613.3h1.0M290.5 609.6h1.0M263.1 620.7h1.0M299.1 612.3h1.0M256 604.4h1.0M264.5 617.9h1.0M280.2 614.8h1.0M306 616h1.0M295.3 615.5h1.0M252.9 611.5h1.0M275.5 613.3h1.0M263.5 614.2h1.0M287.1 614.4h1.0M269.8 612.5h1.0M264.4 614.2h1.0M289.6 606.9h1.0M271.2 614.3h1.0M268.3 616.5h1.0M294.9 615h1.0M280.9 617.6h1.0M297 611.5h1.0M289.3 614h1.0M256.1 616.8h1.0M261.4 612.9h1.0M290.3 612.9h1.0M262.8 613.8h1.0M288.6 617.4h1.0M306.4 613.8h1.0M265.3 610.2h1.0M262.3 618.6h1.0M308.1 610.7h1.0M308 607.1h1.0M279 611.9h1.0M292.6 613.8h1.0M250.6 610.8h1.0M258.1 612.7h1.0M301.4 615.5h1.0M250.4 593.4h1.0M262.3 611h1.0M253.3 620.3h1.0M306 615.3h1.0M273.6 614.1h1.0M308.9 616.7h1.0M295.7 607.1h1.0M301.8 610.1h1.0M298.4 611.9h1.0M251.8 615.9h1.0M284.9 611.6h1.0M263.4 610.5h1.0M276.8 613.2h1.0M306.3 616.1h1.0M260 604.6h1.0M260 613h1.0M259.7 610h1.0" stroke="#222" stroke-width="1.0"/>
<path d="M251.5 610.1l.5 2.9.5 1.7m1-2l.5-1.3.5.1.5 5.2.5-3.6.5.3.5.3.5 3 .5-2.7m1 4.9l.5-5.8.5 3.6.5-3.5m1 2.1h1m0-1.2l.5 1m1-2l.5.8.5-2 .5 2.1.5-1.8m1.5 5l.5-4 .5 1.2.5 1.2.5-3.2m1.5 2.4l.5-1.4.5.8.5-3.7m1 4.1l.5-2.6.5.3.5.2.5 2.7m1-.3l.5 2.2.5-5.1.5 1.1m1.5-1.7h1m0 2.4l.5-2.3m1.5 1.9l.5.6.5-1.7m1-3.3l.5 4.4.5-1.1.5 1.3.5-.2m1-1.3l.5-.5.5-1.2.5.4.5 2.1.5-2.2.5-.2.5 5.6.5-.9m1.5 1.2l.5-4 .5-1.2.5 2.8m2 1.1h1m0 0l.5 2.1.5-3.4m2.5-.7l.5 1.1.5 0 .5-1 .5-1.5m1.5 2.2l.5-1.4m1 1.9l.5.4.5-.3m1-.8l.5.4.5-.4.5-1.4m1 1h1" stroke="#000" stroke-width="1.14" fill="none"/>
<path d="M323.9 614.1h1.0M337.6 618.9h1.0M326.6 622.6h1.0M350.9 604.2h1.0M339.7 617.3h1.0M331 609.8h1.0M322.3 611.6h1.0M329.4 622.3h1.0M325.5 619.4h1.0M340.2 609.4h1.0M324 612.2h1.0M313.4 627.5h1.0M326.9 598.1h1.0M347.8 605.5h1.0M339.5 618.4h1.0M345.5 609.3h1.0M345.6 605.6h1.0M331.1 619.4h1.0M313.4 611.8h1.0M325.4 631h1.0M332.5 616.3h1.0M345.7 599.9h1.0M328.3 622h1.0M317.9 611.2h1.0M338.1 625.7h1.0M316.9 620.9h1.0M311.9 616.4h1.0M312.5 613.1h1.0M344.5 602.6h1.0M315.7 619.8h1.0M312 620.1h1.0M318.6 620.3h1.0M346.9 602.5h1.0M332.7 615.5h1.0M345.4 598.7h1.0M316 625.7h1.0M318.4 602.4h1.0M334.2 626.3h1.0M335 624.9h1.0M337.3 592.2h1.0M339 626.6h1.0M319 622.7h1.0M351.9 602h1.0M349.3 624.1h1.0M329 616.9h1.0M325.3 625.1h1.0M322 631h1.0M317.9 623.6h1.0M335.6 617.2h1.0M311.2 607.5h1.0M322.5 621.6h1.0M316.4 624.4h1.0M346.9 609.3h1.0M349.5 600h1.0M330.4 622.5h1.0M321.7 627.8h1.0M323 623h1.0M338.7 619h1.0M317.2 619.2h1.0M331.5 616.4h1.0M324.5 631h1.0M339.8 623.8h1.0M332.4 631h1.0M343.2 613.7h1.0M318.1 622.1h1.0M339.3 621.5h1.0M328.4 620.9h1.0M310.4 610h1.0M333.3 620.1h1.0M328.4 625.2h1.0M331.8 617.7h1.0M327.6 630.7h1.0M328.4 614.8h1.0M352 599.8h1.0M319 611.5h1.0M346.8 612.6h1.0M332.4 623.4h1.0M339.9 624.2h1.0M348.5 603.3h1.0M312.8 622.7h1.0M327.3 616.8h1.0M346 605.6h1.0M339.4 611.6h1.0M346.8 603.5h1.0M320.7 622.9h1.0M344.9 590h1.0M346.8 601.5h1.0M330.3 622.8h1.0M338.9 617.3h1.0M314.3 622.8h1.0M324.6 618.4h1.0M314.5 624.6h1.0M343.2 602.9h1.0M316.5 615.1h1.0M335.2 620.8h1.0M321.1 619.4h1.0M333.1 620.2h1.0M339.5 616.8h1.0M335 609.2h1.0M345 599.7h1.0M346 604.5h1.0M319 614.1h1.0M318.5 619.5h1.0M336.5 621.2h1.0M341.5 613.6h1.0M342.8 607.7h1.0M341.7 609h1.0M350.6 588h1.0M333 623.8h1.0M341 616.5h1.0M332.8 628h1.0M335.3 618.1h1.0M312.5 618.8h1.0M326.1 617.6h1.0M344.2 610.2h1.0M313.4 619.9h1.0M316.6 622.8h1.0M327.2 620.2h1.0M316.6 615.3h1.0M318.6 617.7h1.0M312 610.9h1.0M311.5 619.8h1.0M343.4 609.1h1.0M318.3 615.9h1.0M319.7 605.3h1.0M342.1 614.5h1.0M337.9 619.6h1.0M311 623h1.0M330.7 624.1h1.0M351 599h1.0M340.7 616h1.0M341.7 631h1.0M331.5 619.8h1.0M330.6 626.4h1.0M318.4 614.5h1.0M332.3 618.7h1.0M313.8 622.5h1.0M347.6 591.4h1.0M323.8 623.4h1.0M335.1 617.9h1.0M312.4 610.9h1.0M329.5 628.2h1.0M330.6 617.7h1.0M349.7 601.1h1.0" stroke="#222" stroke-width="1.0"/>
<path d="M310.5 618.1h1m0 1.5l.5-2 .5-2.9.5 4.6m1.5 1.4h1m0 .6h1m0-.4h1m0-.6h1m0 .7l.5 3.8.5-3.7m1 .2l.5-.2m1-5.7l.5 4.5m1-.5l.5.5m1-2.8l.5 1.5m1-2.5l.5 1.9m1.5-1.4l.5 2.5.5-1 .5.5.5 2.8.5-5.8.5 4.9m1-2.8l.5 2.4.5-.6.5.6m1-1.3l.5-2.5.5 6.8.5-4.7.5-1.9m1.5 1.4l.5.5.5-.6m1 1.3l.5-1.6m2-5.1l.5-4.7m1-3.8l.5-1.8.5 5.1.5-1m1-3.7l.5 4.7.5-4.7m1.5-5.7l.5 3 .5 1.9m1.5 1.7h1" stroke="#000" stroke-width="0.95" fill="none"/>
<path d="M439.2 609.3h1.0M407.2 607.5h1.0M442 616.9h1.0M426.6 603.6h1.0M432.6 604.4h1.0M447.7 622.5h1.0M404.8 603.6h1.0M449.3 620.9h1.0M421.7 607.5h1.0M420 605h1.0M447.8 619.2h1.0M435.9 612.1h1.0M436 607.7h1.0M386.8 604.6h1.0M451.1 620.7h1.0M422.3 607.2h1.0M409.3 602.3h1.0M430.1 605.5h1.0M411.9 601.9h1.0M450.5 625.9h1.0M405.7 607.3h1.0M392.9 604.8h1.0M390.8 600h1.0M397.7 603.4h1.0M394.9 603.7h1.0M389.7 603.4h1.0M417.3 603.4h1.0M450.4 621.6h1.0M444.4 624.4h1.0M446.2 623.2h1.0M389.3 603.8h1.0M411.9 604.9h1.0M416 603.9h1.0M407.2 603.7h1.0M431.3 611.4h1.0M395.2 602h1.0M441.7 615.2h1.0M401.7 606h1.0M397.7 601.6h1.0M442 618.5h1.0M411.3 602.1h1.0M435.9 607.7h1.0M438.8 606.1h1.0M430.2 606.8h1.0M444.2 619.9h1.0M411.3 604.4h1.0M443.8 619.2h1.0M416 599.6h1.0M427.9 608.1h1.0M426.1 607.7h1.0M451.6 624.2h1.0M399.7 594h1.0M445.6 622.5h1.0M392 603.5h1.0M397.5 598.7h1.0M434.4 609.8h1.0M405.3 603.1h1.0M421.1 604.2h1.0M393.8 603.1h1.0M401.7 588h1.0M426.6 605.9h1.0M441.8 614.7h1.0M411.7 598.1h1.0M388.5 595.4h1.0M449 624.9h1.0M395.7 606.1h1.0M438.2 610.9h1.0M403.9 603h1.0M404.7 603.9h1.0M430.1 605h1.0M418 605.5h1.0M443.8 621.2h1.0M436.9 603.3h1.0M397.2 604.2h1.0M420.6 606.7h1.0M432.9 604.2h1.0M387.8 602.8h1.0M436.2 606.7h1.0M443.5 615.3h1.0M429.8 608.6h1.0M387.2 603.5h1.0M420.5 621.8h1.0M425.7 606.9h1.0M407.5 602.6h1.0M447.8 624.7h1.0M440.8 610.5h1.0M392.9 605.7h1.0M390.1 603.2h1.0M389.3 611.7h1.0M435.6 606.3h1.0M394.3 608.1h1.0M403.9 605.4h1.0M406 603.6h1.0M441.3 611.1h1.0M414.5 604.6h1.0M444.3 621.8h1.0M435.9 606.4h1.0M438.5 605.2h1.0M394.3 603.7h1.0M451.4 624h1.0M423.3 605.8h1.0M409 601.7h1.0M390.8 598.3h1.0M450 620.2h1.0M418.4 606.9h1.0M434.8 606.4h1.0M421.7 604.6h1.0M399.9 604.7h1.0M428.8 608.8h1.0M422.3 608.2h1.0M440.7 601.6h1.0M413.9 606.8h1.0M443.1 618.2h1.0M396.3 605.4h1.0M443.5 619.8h1.0M411.3 603.7h1.0M433.4 604.2h1.0M428 595.5h1.0M448.6 618.4h1.0M413.6 603.1h1.0M410.7 607.2h1.0M433.3 605.8h1.0M414.4 602.2h1.0M434.9 611h1.0M400.9 606h1.0M450.1 625.4h1.0M450.8 617.9h1.0M400.8 606.6h1.0M387.2 603.9h1.0M412 604.7h1.0M394.8 602.3h1.0M425.5 607.7h1.0M386.2 599.9h1.0M425 605.2h1.0M434.4 607.9h1.0M436 604.3h1.0M395 597.2h1.0M435.7 607.5h1.0M400.7 603h1.0M416 604.9h1.0M430.3 607.1h1.0M389.2 603.2h1.0M424.2 600.8h1.0M392.4 605.4h1.0M440 608.7h1.0M407 599.7h1.0M400.6 605.7h1.0M406.7 603.8h1.0M413.3 608h1.0M433.8 608.8h1.0M441.1 610.5h1.0M420.3 602.7h1.0M431.1 608.3h1.0M449 621.7h1.0M412.3 603.7h1.0M431.8 609.8h1.0M418.4 605.3h1.0M422.4 607.9h1.0M395.7 602.3h1.0M439.9 602.8h1.0M448.3 620.9h1.0M427 602.7h1.0M419.3 607.9h1.0M392 599.2h1.0M417.9 606.5h1.0M419 607.1h1.0M413.2 604.8h1.0M393.9 599.9h1.0M436.6 594.5h1.0M419.9 609.7h1.0M448.1 622.6h1.0M412.5 600.8h1.0M424.6 604.9h1.0M396.1 602.5h1.0M410.8 606.6h1.0M428.2 607.5h1.0M409.7 603.5h1.0M419.7 606.5h1.0M440.5 609.9h1.0M436.7 608.3h1.0M425.9 605.9h1.0M396.2 600.9h1.0M437.5 607.8h1.0M437.1 603.7h1.0M419 601.2h1.0M394 597.3h1.0M445.4 617.6h1.0M422.4 601.9h1.0M391.5 604.4h1.0M393.6 601.9h1.0M413 602.7h1.0M443.7 616.4h1.0M427.9 604.6h1.0M389.1 591.8h1.0M441.7 611.7h1.0M435.5 608h1.0M414.3 610.9h1.0M388.6 600h1.0M400.7 604.1h1.0M386.5 601.2h1.0M423.2 605h1.0M426.7 608.7h1.0M447.3 623.5h1.0M390.5 619.1h1.0M394.5 603.8h1.0M400.4 605.4h1.0M432.1 607.8h1.0M406.5 603.2h1.0M421.6 611.5h1.0M389.6 604.2h1.0M403 603.8h1.0M391.2 608.6h1.0M415.3 605.8h1.0M402.9 605.1h1.0M418.3 608.2h1.0M435.1 603.9h1.0M425.4 607.8h1.0M423.1 606h1.0M438 607.7h1.0M439.6 609.3h1.0M400.6 602.2h1.0M415.2 600.6h1.0M443.9 621.7h1.0M390.8 600.6h1.0M397 602.9h1.0M438.1 605.2h1.0M439.4 605.9h1.0M439.4 602h1.0M411.3 603.5h1.0M450.1 622.6h1.0M414.8 606.6h1.0M436.7 606.4h1.0M403.7 602.3h1.0M406.5 606.1h1.0" stroke="#222" stroke-width="1.0"/>
<path d="M386 602.6l.5-1.2.5.2m1.5-1l.5.8.5.4.5-1.1.5.2m1 2.2l.5-1.9.5 2.1.5-2.1m1 2h1m0 1l.5.3.5.6m1-1.6h1m0 2.3l.5-.6m1-1.2l.5.7.5-1.3m1.5.1l.5-2.1.5 1.2.5-.5.5-1.6m1 3.3l.5-3 .5 3.1m2 .6l.5.2.5-1.3.5-.6.5 2.2.5-1 .5 0m1 2.4h1m.5-1.8l.5 2.9.5 0 .5-4 .5 1.9.5-1.7.5 2.2m1-.3l.5.1.5-2.5.5 2.2m1.5.4l.5.4.5-1.7.5 3 .5-3m1.5.7l.5 1.5.5.7.5.1.5-.6.5-1.4m1.5.3l.5-1.3.5.2m1 .7h1m.5 1.6h1m1 1.5h1m0 1.6l.5-.7.5-1.2m1 .7l.5-.9.5.5.5 1.1.5-5 .5 1.4.5 0m1 4.9l.5.7.5 3.3m1 4.5h1m0 2h1m0 1.2h1m0 1.1l.5-2.6m1-1.1h1m0 .6h1m.5 1.6h1m1-.1l.5 0" stroke="#000" stroke-width="1.14" fill="none"/>
<path d="M354.6 601.6h1m1.6-1.1l1.3.4m3.9.8l1.3-.4 1.3-.1 1.3-.1 1.3-.3 1.3 0 1.3.7m2.6-.1h1m1.6 0h1m4.2-.5l1.3.4 1.3.3 1.3-.6" stroke="#000" stroke-width="0.9" fill="none"/>
<path d="M352 618.3l.8-.4.8.3.8.4.8-.6.8.3.8.3.8-.7.8.4.8-.4.8-.1.8-.2.8.7.8-1 .8.9.8-.8.8.6.8-.2.8-.3.8-.3.8.7.8-.6.8-.4.8.1.8-.5.8.6.8-.3.8 0 .8.7" stroke="#000" stroke-width="1.2" fill="none"/>
<path d="M446 612v14M451 612v14M446 612h5M446 625h5" stroke="#222" stroke-width="0.8" fill="none"/>
</g>
<path d="M309.5 13V632" stroke="#4f944f" stroke-width="1.1"/>
<path d="M50.5 13.0H452.0" stroke="#000" stroke-width="1.5"/>
<path d="M50.5 361.0H452.0" stroke="#000" stroke-width="1.5"/>
<path d="M50.5 405.5H452.0" stroke="#000" stroke-width="1.5"/>
<path d="M50.5 451.0H452.0" stroke="#000" stroke-width="1.5"/>
<path d="M50.5 496.4H452.0" stroke="#000" stroke-width="1.5"/>
<path d="M50.5 540.5H452.0" stroke="#000" stroke-width="1.5"/>
<path d="M50.5 587.0H452.0" stroke="#2a1060" stroke-width="1.5"/>
<path d="M50.5 632.0H452.0" stroke="#2a5a2a" stroke-width="1.5"/>
<path d="M50.5 12.3V632.7M452.0 12.3V632.7" stroke="#1f4f1f" stroke-width="1.5"/>
<path d="M50.5 13.0v7M50.5 355v12M50.5 399.5v12M50.5 445v12M50.5 490.4v12M50.5 534.5v12M50.5 581v12M50.5 632.0v-7M58.5 13.0v3.8M58.5 358.4v5.2M58.5 402.9v5.2M58.5 448.4v5.2M58.5 493.8v5.2M58.5 537.9v5.2M58.5 584.4v5.2M58.5 632.0v-3.8M67.5 13.0v3.8M67.5 358.4v5.2M67.5 402.9v5.2M67.5 448.4v5.2M67.5 493.8v5.2M67.5 537.9v5.2M67.5 584.4v5.2M67.5 632.0v-3.8M75.5 13.0v3.8M75.5 358.4v5.2M75.5 402.9v5.2M75.5 448.4v5.2M75.5 493.8v5.2M75.5 537.9v5.2M75.5 584.4v5.2M75.5 632.0v-3.8M84.5 13.0v3.8M84.5 358.4v5.2M84.5 402.9v5.2M84.5 448.4v5.2M84.5 493.8v5.2M84.5 537.9v5.2M84.5 584.4v5.2M84.5 632.0v-3.8M92.5 13.0v3.8M92.5 358.4v5.2M92.5 402.9v5.2M92.5 448.4v5.2M92.5 493.8v5.2M92.5 537.9v5.2M92.5 584.4v5.2M92.5 632.0v-3.8M100.5 13.0v3.8M100.5 358.4v5.2M100.5 402.9v5.2M100.5 448.4v5.2M100.5 493.8v5.2M100.5 537.9v5.2M100.5 584.4v5.2M100.5 632.0v-3.8M109.5 13.0v3.8M109.5 358.4v5.2M109.5 402.9v5.2M109.5 448.4v5.2M109.5 493.8v5.2M109.5 537.9v5.2M109.5 584.4v5.2M109.5 632.0v-3.8M117.5 13.0v3.8M117.5 358.4v5.2M117.5 402.9v5.2M117.5 448.4v5.2M117.5 493.8v5.2M117.5 537.9v5.2M117.5 584.4v5.2M117.5 632.0v-3.8M125.5 13.0v3.8M125.5 358.4v5.2M125.5 402.9v5.2M125.5 448.4v5.2M125.5 493.8v5.2M125.5 537.9v5.2M125.5 584.4v5.2M125.5 632.0v-3.8M134.5 13.0v3.8M134.5 358.4v5.2M134.5 402.9v5.2M134.5 448.4v5.2M134.5 493.8v5.2M134.5 537.9v5.2M134.5 584.4v5.2M134.5 632.0v-3.8M142.5 13.0v3.8M142.5 358.4v5.2M142.5 402.9v5.2M142.5 448.4v5.2M142.5 493.8v5.2M142.5 537.9v5.2M142.5 584.4v5.2M142.5 632.0v-3.8M151.5 13.0v7M151.5 355v12M151.5 399.5v12M151.5 445v12M151.5 490.4v12M151.5 534.5v12M151.5 581v12M151.5 632.0v-7M159.5 13.0v3.8M159.5 358.4v5.2M159.5 402.9v5.2M159.5 448.4v5.2M159.5 493.8v5.2M159.5 537.9v5.2M159.5 584.4v5.2M159.5 632.0v-3.8M167.5 13.0v3.8M167.5 358.4v5.2M167.5 402.9v5.2M167.5 448.4v5.2M167.5 493.8v5.2M167.5 537.9v5.2M167.5 584.4v5.2M167.5 632.0v-3.8M176.5 13.0v3.8M176.5 358.4v5.2M176.5 402.9v5.2M176.5 448.4v5.2M176.5 493.8v5.2M176.5 537.9v5.2M176.5 584.4v5.2M176.5 632.0v-3.8M184.5 13.0v3.8M184.5 358.4v5.2M184.5 402.9v5.2M184.5 448.4v5.2M184.5 493.8v5.2M184.5 537.9v5.2M184.5 584.4v5.2M184.5 632.0v-3.8M192.5 13.0v3.8M192.5 358.4v5.2M192.5 402.9v5.2M192.5 448.4v5.2M192.5 493.8v5.2M192.5 537.9v5.2M192.5 584.4v5.2M192.5 632.0v-3.8M201.5 13.0v3.8M201.5 358.4v5.2M201.5 402.9v5.2M201.5 448.4v5.2M201.5 493.8v5.2M201.5 537.9v5.2M201.5 584.4v5.2M201.5 632.0v-3.8M209.5 13.0v3.8M209.5 358.4v5.2M209.5 402.9v5.2M209.5 448.4v5.2M209.5 493.8v5.2M209.5 537.9v5.2M209.5 584.4v5.2M209.5 632.0v-3.8M218.5 13.0v3.8M218.5 358.4v5.2M218.5 402.9v5.2M218.5 448.4v5.2M218.5 493.8v5.2M218.5 537.9v5.2M218.5 584.4v5.2M218.5 632.0v-3.8M226.5 13.0v3.8M226.5 358.4v5.2M226.5 402.9v5.2M226.5 448.4v5.2M226.5 493.8v5.2M226.5 537.9v5.2M226.5 584.4v5.2M226.5 632.0v-3.8M234.5 13.0v3.8M234.5 358.4v5.2M234.5 402.9v5.2M234.5 448.4v5.2M234.5 493.8v5.2M234.5 537.9v5.2M234.5 584.4v5.2M234.5 632.0v-3.8M243.5 13.0v3.8M243.5 358.4v5.2M243.5 402.9v5.2M243.5 448.4v5.2M243.5 493.8v5.2M243.5 537.9v5.2M243.5 584.4v5.2M243.5 632.0v-3.8M251.5 13.0v7M251.5 355v12M251.5 399.5v12M251.5 445v12M251.5 490.4v12M251.5 534.5v12M251.5 581v12M251.5 632.0v-7M259.5 13.0v3.8M259.5 358.4v5.2M259.5 402.9v5.2M259.5 448.4v5.2M259.5 493.8v5.2M259.5 537.9v5.2M259.5 584.4v5.2M259.5 632.0v-3.8M268.5 13.0v3.8M268.5 358.4v5.2M268.5 402.9v5.2M268.5 448.4v5.2M268.5 493.8v5.2M268.5 537.9v5.2M268.5 584.4v5.2M268.5 632.0v-3.8M276.5 13.0v3.8M276.5 358.4v5.2M276.5 402.9v5.2M276.5 448.4v5.2M276.5 493.8v5.2M276.5 537.9v5.2M276.5 584.4v5.2M276.5 632.0v-3.8M285.5 13.0v3.8M285.5 358.4v5.2M285.5 402.9v5.2M285.5 448.4v5.2M285.5 493.8v5.2M285.5 537.9v5.2M285.5 584.4v5.2M285.5 632.0v-3.8M293.5 13.0v3.8M293.5 358.4v5.2M293.5 402.9v5.2M293.5 448.4v5.2M293.5 493.8v5.2M293.5 537.9v5.2M293.5 584.4v5.2M293.5 632.0v-3.8M301.5 13.0v3.8M301.5 358.4v5.2M301.5 402.9v5.2M301.5 448.4v5.2M301.5 493.8v5.2M301.5 537.9v5.2M301.5 584.4v5.2M301.5 632.0v-3.8M310.5 13.0v3.8M310.5 358.4v5.2M310.5 402.9v5.2M310.5 448.4v5.2M310.5 493.8v5.2M310.5 537.9v5.2M310.5 584.4v5.2M310.5 632.0v-3.8M318.5 13.0v3.8M318.5 358.4v5.2M318.5 402.9v5.2M318.5 448.4v5.2M318.5 493.8v5.2M318.5 537.9v5.2M318.5 584.4v5.2M318.5 632.0v-3.8M326.5 13.0v3.8M326.5 358.4v5.2M326.5 402.9v5.2M326.5 448.4v5.2M326.5 493.8v5.2M326.5 537.9v5.2M326.5 584.4v5.2M326.5 632.0v-3.8M335.5 13.0v3.8M335.5 358.4v5.2M335.5 402.9v5.2M335.5 448.4v5.2M335.5 493.8v5.2M335.5 537.9v5.2M335.5 584.4v5.2M335.5 632.0v-3.8M343.5 13.0v3.8M343.5 358.4v5.2M343.5 402.9v5.2M343.5 448.4v5.2M343.5 493.8v5.2M343.5 537.9v5.2M343.5 584.4v5.2M343.5 632.0v-3.8M352.5 13.0v7M352.5 355v12M352.5 399.5v12M352.5 445v12M352.5 490.4v12M352.5 534.5v12M352.5 581v12M352.5 632.0v-7M360.5 13.0v3.8M360.5 358.4v5.2M360.5 402.9v5.2M360.5 448.4v5.2M360.5 493.8v5.2M360.5 537.9v5.2M360.5 584.4v5.2M360.5 632.0v-3.8M368.5 13.0v3.8M368.5 358.4v5.2M368.5 402.9v5.2M368.5 448.4v5.2M368.5 493.8v5.2M368.5 537.9v5.2M368.5 584.4v5.2M368.5 632.0v-3.8M377.5 13.0v3.8M377.5 358.4v5.2M377.5 402.9v5.2M377.5 448.4v5.2M377.5 493.8v5.2M377.5 537.9v5.2M377.5 584.4v5.2M377.5 632.0v-3.8M385.5 13.0v3.8M385.5 358.4v5.2M385.5 402.9v5.2M385.5 448.4v5.2M385.5 493.8v5.2M385.5 537.9v5.2M385.5 584.4v5.2M385.5 632.0v-3.8M393.5 13.0v3.8M393.5 358.4v5.2M393.5 402.9v5.2M393.5 448.4v5.2M393.5 493.8v5.2M393.5 537.9v5.2M393.5 584.4v5.2M393.5 632.0v-3.8M402.5 13.0v3.8M402.5 358.4v5.2M402.5 402.9v5.2M402.5 448.4v5.2M402.5 493.8v5.2M402.5 537.9v5.2M402.5 584.4v5.2M402.5 632.0v-3.8M410.5 13.0v3.8M410.5 358.4v5.2M410.5 402.9v5.2M410.5 448.4v5.2M410.5 493.8v5.2M410.5 537.9v5.2M410.5 584.4v5.2M410.5 632.0v-3.8M419.5 13.0v3.8M419.5 358.4v5.2M419.5 402.9v5.2M419.5 448.4v5.2M419.5 493.8v5.2M419.5 537.9v5.2M419.5 584.4v5.2M419.5 632.0v-3.8M427.5 13.0v3.8M427.5 358.4v5.2M427.5 402.9v5.2M427.5 448.4v5.2M427.5 493.8v5.2M427.5 537.9v5.2M427.5 584.4v5.2M427.5 632.0v-3.8M435.5 13.0v3.8M435.5 358.4v5.2M435.5 402.9v5.2M435.5 448.4v5.2M435.5 493.8v5.2M435.5 537.9v5.2M435.5 584.4v5.2M435.5 632.0v-3.8M444.5 13.0v3.8M444.5 358.4v5.2M444.5 402.9v5.2M444.5 448.4v5.2M444.5 493.8v5.2M444.5 537.9v5.2M444.5 584.4v5.2M444.5 632.0v-3.8M452.5 13.0v7M452.5 355v12M452.5 399.5v12M452.5 445v12M452.5 490.4v12M452.5 534.5v12M452.5 581v12M452.5 632.0v-7" stroke="#000" stroke-width="1.3"/>
<path d="M50.5 13h8M452.0 13h-8M50.5 47.8h8M452.0 47.8h-8M50.5 82.6h8M452.0 82.6h-8M50.5 117.4h8M452.0 117.4h-8M50.5 152.2h8M452.0 152.2h-8M50.5 187h8M452.0 187h-8M50.5 221.8h8M452.0 221.8h-8M50.5 256.6h8M452.0 256.6h-8M50.5 291.4h8M452.0 291.4h-8M50.5 326.2h8M452.0 326.2h-8M50.5 361h8M452.0 361h-8" stroke="#000" stroke-width="1.3"/>
<rect x="351.6" y="13.6" width="34.19999999999999" height="615.1999999999999" fill="rgb(255,255,200)" style="mix-blend-mode:multiply"/>
<rect x="351.6" y="13.6" width="34.19999999999999" height="615.1999999999999" fill="rgb(255,255,57)" fill-opacity="0.35"/>
<path d="M50.5 372.3h8M452.0 372.3h-8M50.5 384.8h8M452.0 384.8h-8M50.5 397.2h8M452.0 397.2h-8M50.5 417h8M452.0 417h-8M50.5 428.7h8M452.0 428.7h-8M50.5 439.8h8M452.0 439.8h-8M50.5 462.2h8M452.0 462.2h-8M50.5 473.8h8M452.0 473.8h-8M50.5 485h8M452.0 485h-8M50.5 503.7h8M452.0 503.7h-8M50.5 511.4h8M452.0 511.4h-8M50.5 519h8M452.0 519h-8M50.5 526.5h8M452.0 526.5h-8M50.5 534h8M452.0 534h-8M50.5 551.5h8M452.0 551.5h-8M50.5 564h8M452.0 564h-8M50.5 576.9h8M452.0 576.9h-8M50.5 594.4h8M452.0 594.4h-8M50.5 606.7h8M452.0 606.7h-8M50.5 618.7h8M452.0 618.7h-8" stroke="#000" stroke-width="1.3"/>
<text x="47.5" y="19" font-family='"Liberation Sans", sans-serif' font-size="8.6" text-anchor="end" fill="#111">10<tspan dy="-3.2" font-size="6.6">6</tspan></text>
<text x="47.5" y="50.8" font-family='"Liberation Sans", sans-serif' font-size="8.6" text-anchor="end" fill="#111">10<tspan dy="-3.2" font-size="6.6">5</tspan></text>
<text x="47.5" y="85.6" font-family='"Liberation Sans", sans-serif' font-size="8.6" text-anchor="end" fill="#111">10<tspan dy="-3.2" font-size="6.6">4</tspan></text>
<text x="47.5" y="120.4" font-family='"Liberation Sans", sans-serif' font-size="8.6" text-anchor="end" fill="#111">10<tspan dy="-3.2" font-size="6.6">3</tspan></text>
<text x="47.5" y="155.2" font-family='"Liberation Sans", sans-serif' font-size="8.6" text-anchor="end" fill="#111">10<tspan dy="-3.2" font-size="6.6">2</tspan></text>
<text x="47.5" y="190" font-family='"Liberation Sans", sans-serif' font-size="8.6" text-anchor="end" fill="#111">10<tspan dy="-3.2" font-size="6.6">1</tspan></text>
<text x="47.5" y="224.8" font-family='"Liberation Sans", sans-serif' font-size="8.6" text-anchor="end" fill="#111">10<tspan dy="-3.2" font-size="6.6">0</tspan></text>
<text x="47.5" y="259.6" font-family='"Liberation Sans", sans-serif' font-size="8.6" text-anchor="end" fill="#111">10<tspan dy="-3.2" font-size="6.6">−1</tspan></text>
<text x="47.5" y="294.4" font-family='"Liberation Sans", sans-serif' font-size="8.6" text-anchor="end" fill="#111">10<tspan dy="-3.2" font-size="6.6">−2</tspan></text>
<text x="47.5" y="329.2" font-family='"Liberation Sans", sans-serif' font-size="8.6" text-anchor="end" fill="#111">10<tspan dy="-3.2" font-size="6.6">−3</tspan></text>
<text x="47.5" y="364" font-family='"Liberation Sans", sans-serif' font-size="8.6" text-anchor="end" fill="#111">10<tspan dy="-3.2" font-size="6.6">−4</tspan></text>
<text x="47.2" y="376.3" font-family='"Liberation Sans", sans-serif' font-size="7.8" font-weight="normal" text-anchor="end" fill="#111" textLength="16" lengthAdjust="spacingAndGlyphs">800</text>
<text x="47.2" y="388" font-family='"Liberation Sans", sans-serif' font-size="7.8" font-weight="normal" text-anchor="end" fill="#111" textLength="16" lengthAdjust="spacingAndGlyphs">600</text>
<text x="47.2" y="400.3" font-family='"Liberation Sans", sans-serif' font-size="7.8" font-weight="normal" text-anchor="end" fill="#111" textLength="16" lengthAdjust="spacingAndGlyphs">400</text>
<text x="47.2" y="411.8" font-family='"Liberation Sans", sans-serif' font-size="7.8" font-weight="normal" text-anchor="end" fill="#111" textLength="10.8" lengthAdjust="spacingAndGlyphs">40</text>
<text x="47.2" y="420.7" font-family='"Liberation Sans", sans-serif' font-size="7.8" font-weight="normal" text-anchor="end" fill="#111" textLength="10.8" lengthAdjust="spacingAndGlyphs">30</text>
<text x="47.2" y="432.1" font-family='"Liberation Sans", sans-serif' font-size="7.8" font-weight="normal" text-anchor="end" fill="#111" textLength="10.8" lengthAdjust="spacingAndGlyphs">20</text>
<text x="47.2" y="442.8" font-family='"Liberation Sans", sans-serif' font-size="7.8" font-weight="normal" text-anchor="end" fill="#111" textLength="10.8" lengthAdjust="spacingAndGlyphs">10</text>
<text x="47.2" y="451.4" font-family='"Liberation Sans", sans-serif' font-size="7.8" font-weight="normal" text-anchor="end" fill="#111" textLength="5.4" lengthAdjust="spacingAndGlyphs">0</text>
<text x="47.2" y="465.8" font-family='"Liberation Sans", sans-serif' font-size="7.8" font-weight="normal" text-anchor="end" fill="#111" textLength="10.8" lengthAdjust="spacingAndGlyphs">10</text>
<text x="47.2" y="477" font-family='"Liberation Sans", sans-serif' font-size="7.8" font-weight="normal" text-anchor="end" fill="#111" textLength="5.4" lengthAdjust="spacingAndGlyphs">1</text>
<text x="47.2" y="488.4" font-family='"Liberation Sans", sans-serif' font-size="7.8" font-weight="normal" text-anchor="end" fill="#111" textLength="13" lengthAdjust="spacingAndGlyphs">0.1</text>
<text x="47.2" y="507.9" font-family='"Liberation Sans", sans-serif' font-size="8.8" font-weight="normal" text-anchor="end" fill="#111" textLength="10.9" lengthAdjust="spacingAndGlyphs">50</text>
<text x="47.2" y="523" font-family='"Liberation Sans", sans-serif' font-size="8.8" font-weight="normal" text-anchor="end" fill="#111" textLength="10.9" lengthAdjust="spacingAndGlyphs">30</text>
<text x="47.2" y="538" font-family='"Liberation Sans", sans-serif' font-size="8.8" font-weight="normal" text-anchor="end" fill="#111" textLength="10.9" lengthAdjust="spacingAndGlyphs">10</text>
<text x="47.2" y="556.6" font-family='"Liberation Sans", sans-serif' font-size="10.4" font-weight="normal" text-anchor="end" fill="#111" textLength="14.4" lengthAdjust="spacingAndGlyphs">50</text>
<text x="47.2" y="568.9" font-family='"Liberation Sans", sans-serif' font-size="10.4" font-weight="normal" text-anchor="end" fill="#111" textLength="7.2" lengthAdjust="spacingAndGlyphs">0</text>
<text x="47.2" y="581" font-family='"Liberation Sans", sans-serif' font-size="10.4" font-weight="normal" text-anchor="end" fill="#111" textLength="22.5" lengthAdjust="spacingAndGlyphs">−50</text>
<text x="47.2" y="598.2" font-family='"Liberation Sans", sans-serif' font-size="10.4" font-weight="normal" text-anchor="end" fill="#111" textLength="21.8" lengthAdjust="spacingAndGlyphs">300</text>
<text x="47.2" y="611" font-family='"Liberation Sans", sans-serif' font-size="10.4" font-weight="normal" text-anchor="end" fill="#111" textLength="21.8" lengthAdjust="spacingAndGlyphs">200</text>
<text x="47.2" y="623.7" font-family='"Liberation Sans", sans-serif' font-size="10.4" font-weight="normal" text-anchor="end" fill="#111" textLength="21.8" lengthAdjust="spacingAndGlyphs">100</text>
<text x="50.5" y="645.6" font-family='"Liberation Sans", sans-serif' font-size="11" font-weight="bold" text-anchor="middle" fill="#000">346</text>
<text x="151" y="645.6" font-family='"Liberation Sans", sans-serif' font-size="11" font-weight="bold" text-anchor="middle" fill="#000">347</text>
<text x="251" y="645.6" font-family='"Liberation Sans", sans-serif' font-size="11" font-weight="bold" text-anchor="middle" fill="#000">348</text>
<text x="355" y="645.6" font-family='"Liberation Sans", sans-serif' font-size="11" font-weight="bold" text-anchor="middle" fill="#000">349</text>
<text x="450.5" y="645.6" font-family='"Liberation Sans", sans-serif' font-size="11" font-weight="bold" text-anchor="middle" fill="#000">350</text>
<text x="483" y="645.6" font-family='"Liberation Sans", sans-serif' font-size="11" font-weight="bold" text-anchor="middle" fill="#000">DOY</text>
<text x="4.5" y="665.3" font-family='"Liberation Sans", sans-serif' font-size="14.2" font-weight="normal" text-anchor="start" fill="#000" textLength="88.5" lengthAdjust="spacingAndGlyphs">December 12</text>
<text x="111" y="665.3" font-family='"Liberation Sans", sans-serif' font-size="14.2" font-weight="normal" text-anchor="start" fill="#000" textLength="88" lengthAdjust="spacingAndGlyphs">December 13</text>
<text x="217.5" y="665.3" font-family='"Liberation Sans", sans-serif' font-size="14.2" font-weight="normal" text-anchor="start" fill="#000" textLength="88.5" lengthAdjust="spacingAndGlyphs">December 14</text>
<text x="321" y="665.3" font-family='"Liberation Sans", sans-serif' font-size="14.2" font-weight="normal" text-anchor="start" fill="#000" textLength="87" lengthAdjust="spacingAndGlyphs">December 15</text>
<text x="422.5" y="665.3" font-family='"Liberation Sans", sans-serif' font-size="14.2" font-weight="normal" text-anchor="start" fill="#000" textLength="127.5" lengthAdjust="spacingAndGlyphs">December 16, 2006</text>
<text transform="translate(21 172) rotate(-90)" x="0" y="0" font-family='"Liberation Serif", serif' font-size="14.5" text-anchor="middle" fill="#111" textLength="158" lengthAdjust="spacingAndGlyphs">intensity, (cm<tspan dy="-5" font-size="11"> 2</tspan><tspan dy="5">  s sr MeV)</tspan><tspan dy="-6" font-size="10.5">-1</tspan></text>
<text transform="translate(12.8 380.7) rotate(-90)" x="0" y="0" font-family='"Liberation Sans", sans-serif' font-size="15" text-anchor="middle" fill="#111" textLength="50" lengthAdjust="spacingAndGlyphs">V, km/s</text>
<text transform="translate(12.8 428.5) rotate(-90)" x="0" y="0" font-family='"Liberation Sans", sans-serif' font-size="14.5" text-anchor="middle" fill="#111">n,</text>
<text transform="translate(26.3 426.8) rotate(-90)" x="0" y="0" font-family='"Liberation Sans", sans-serif' font-size="15" text-anchor="middle" fill="#111" textLength="36.3" lengthAdjust="spacingAndGlyphs">1/cm<tspan dy="-4" font-size="11">3</tspan></text>
<text transform="translate(14.2 474.5) rotate(-90)" x="0" y="0" font-family='"Liberation Sans", sans-serif' font-size="15" text-anchor="middle" fill="#111" textLength="42" lengthAdjust="spacingAndGlyphs">T<tspan font-size="10">×</tspan>10<tspan dy="-5" font-size="11">5</tspan></text>
<text transform="translate(28.4 474.7) rotate(-90)" x="0" y="0" font-family='"Liberation Sans", sans-serif' font-size="15" text-anchor="middle" fill="#111">K</text>
<text transform="translate(14.9 519) rotate(-90)" x="0" y="0" font-family='"Liberation Sans", sans-serif' font-size="15" text-anchor="middle" fill="#111">B,</text>
<text transform="translate(30.6 519) rotate(-90)" x="0" y="0" font-family='"Liberation Sans", sans-serif' font-size="15" text-anchor="middle" fill="#111">nT</text>
<text transform="translate(15.7 560.4) rotate(-90)" x="0" y="0" font-family='"Liberation Serif", serif' font-size="16" text-anchor="middle" fill="#111" textLength="39" lengthAdjust="spacingAndGlyphs"><tspan font-style="italic">θ</tspan>, deg</text>
<text transform="translate(15.7 611) rotate(-90)" x="0" y="0" font-family='"Liberation Serif", serif' font-size="16" text-anchor="middle" fill="#111" textLength="44" lengthAdjust="spacingAndGlyphs"><tspan font-style="italic">φ</tspan>, deg</text>
<text x="57" y="396" font-family='"Liberation Sans", sans-serif' font-size="10.8" font-weight="normal" text-anchor="start" fill="#000" textLength="73" lengthAdjust="spacingAndGlyphs">ACE/SWEPAM</text>
<text x="59.5" y="520" font-family='"Liberation Sans", sans-serif' font-size="10.8" font-weight="normal" text-anchor="start" fill="#000" textLength="90.4" lengthAdjust="spacingAndGlyphs">ACE/MAG (RTN)</text>
<path d="M160.9 360V347" stroke="#000" stroke-width="2.6"/>
<path d="M153 348.2L160.8 338L168.2 348.2Z" fill="#000"/>
<text x="172" y="347.4" font-family='"Liberation Sans", sans-serif' font-size="13.8" font-weight="normal" text-anchor="start" fill="#000" textLength="29.7" lengthAdjust="spacingAndGlyphs">W23</text>
<rect x="473.3" y="0" width="83" height="91.3" fill="#fff" stroke="#000" stroke-width="2"/>
<rect x="473.1" y="97.4" width="84.5" height="165.7" fill="#fff" stroke="#000" stroke-width="2"/>
<rect x="473.1" y="272.1" width="84.5" height="217.7" fill="#fff" stroke="#000" stroke-width="2"/>
<rect x="473.1" y="495.3" width="85.3" height="61.7" fill="#fff" stroke="#000" stroke-width="2"/>
<text x="475.5" y="9.8" font-family='"Liberation Sans", sans-serif' font-size="9.0" font-weight="normal" text-anchor="start" fill="#111" textLength="52.5" lengthAdjust="spacingAndGlyphs">ACE/EPAM/</text>
<text x="475.5" y="23.2" font-family='"Liberation Sans", sans-serif' font-size="9.0" font-weight="normal" text-anchor="start" fill="#111" textLength="40.6" lengthAdjust="spacingAndGlyphs">LEMS120</text>
<text x="475.5" y="34.5" font-family='"Liberation Sans", sans-serif' font-size="9.0" font-weight="normal" text-anchor="start" fill="#1028ff" textLength="59" lengthAdjust="spacingAndGlyphs">0.195−0.321</text>
<text x="475.5" y="51.5" font-family='"Liberation Sans", sans-serif' font-size="9.0" font-weight="normal" text-anchor="start" fill="#5ef0f8" textLength="59" lengthAdjust="spacingAndGlyphs">0.310−0.580</text>
<text x="475.5" y="68.2" font-family='"Liberation Sans", sans-serif' font-size="9.0" font-weight="normal" text-anchor="start" fill="#dd38d8" textLength="59" lengthAdjust="spacingAndGlyphs">0.587−1.060</text>
<text x="475.5" y="85.8" font-family='"Liberation Sans", sans-serif' font-size="9.0" font-weight="normal" text-anchor="start" fill="#ff8020" textLength="59" lengthAdjust="spacingAndGlyphs">1.060−1.900</text>
<text x="476.4" y="107.8" font-family='"Liberation Sans", sans-serif' font-size="9.0" font-weight="normal" text-anchor="start" fill="#111" textLength="78" lengthAdjust="spacingAndGlyphs">SOHO/ERNE/LED</text>
<text x="477" y="121.2" font-family='"Liberation Sans", sans-serif' font-size="9.0" font-weight="normal" text-anchor="start" fill="#f0402a" textLength="35.4" lengthAdjust="spacingAndGlyphs">1.8−2.2</text>
<text x="477" y="138.5" font-family='"Liberation Sans", sans-serif' font-size="9.0" font-weight="normal" text-anchor="start" fill="#80f020" textLength="35.4" lengthAdjust="spacingAndGlyphs">2.2−2.7</text>
<text x="477" y="156" font-family='"Liberation Sans", sans-serif' font-size="9.0" font-weight="normal" text-anchor="start" fill="#1028ff" textLength="35.4" lengthAdjust="spacingAndGlyphs">2.7−3.3</text>
<text x="477" y="173" font-family='"Liberation Sans", sans-serif' font-size="9.0" font-weight="normal" text-anchor="start" fill="#5ef0f8" textLength="35.4" lengthAdjust="spacingAndGlyphs">3.3−4.1</text>
<text x="477" y="190.2" font-family='"Liberation Sans", sans-serif' font-size="9.0" font-weight="normal" text-anchor="start" fill="#dd38d8" textLength="35.4" lengthAdjust="spacingAndGlyphs">4.1−5.1</text>
<text x="477" y="207.7" font-family='"Liberation Sans", sans-serif' font-size="9.0" font-weight="normal" text-anchor="start" fill="#ff8020" textLength="35.4" lengthAdjust="spacingAndGlyphs">5.1−6.4</text>
<text x="477" y="225" font-family='"Liberation Sans", sans-serif' font-size="9.0" font-weight="normal" text-anchor="start" fill="#8a3ae0" textLength="35.4" lengthAdjust="spacingAndGlyphs">6.4−8.1</text>
<text x="477" y="242.4" font-family='"Liberation Sans", sans-serif' font-size="9.0" font-weight="normal" text-anchor="start" fill="#3a90f8" textLength="43" lengthAdjust="spacingAndGlyphs">8.1−10.0</text>
<text x="477" y="259.5" font-family='"Liberation Sans", sans-serif' font-size="9.0" font-weight="normal" text-anchor="start" fill="#a8f0a0" textLength="48.4" lengthAdjust="spacingAndGlyphs">10.0−13.0</text>
<text x="478.2" y="283.2" font-family='"Liberation Sans", sans-serif' font-size="9.0" font-weight="normal" text-anchor="start" fill="#111" textLength="52.6" lengthAdjust="spacingAndGlyphs">STEREO−A/</text>
<text x="478.2" y="296.5" font-family='"Liberation Sans", sans-serif' font-size="9.0" font-weight="normal" text-anchor="start" fill="#111" textLength="54.2" lengthAdjust="spacingAndGlyphs">IMPACT/HET</text>
<text x="478.2" y="310.2" font-family='"Liberation Sans", sans-serif' font-size="9.0" font-weight="normal" text-anchor="start" fill="#111" textLength="46" lengthAdjust="spacingAndGlyphs">13.6−15.1</text>
<text x="478.2" y="326.7" font-family='"Liberation Sans", sans-serif' font-size="9.0" font-weight="normal" text-anchor="start" fill="#f0402a" textLength="46" lengthAdjust="spacingAndGlyphs">14.9−17.1</text>
<text x="478.2" y="344.1" font-family='"Liberation Sans", sans-serif' font-size="9.0" font-weight="normal" text-anchor="start" fill="#80f020" textLength="46" lengthAdjust="spacingAndGlyphs">17.0−19.3</text>
<text x="478.2" y="361.4" font-family='"Liberation Sans", sans-serif' font-size="9.0" font-weight="normal" text-anchor="start" fill="#1028ff" textLength="46" lengthAdjust="spacingAndGlyphs">20.8−23.8</text>
<text x="478.2" y="379" font-family='"Liberation Sans", sans-serif' font-size="9.0" font-weight="normal" text-anchor="start" fill="#5ef0f8" textLength="46" lengthAdjust="spacingAndGlyphs">23.8−26.4</text>
<text x="478.2" y="396.6" font-family='"Liberation Sans", sans-serif' font-size="9.0" font-weight="normal" text-anchor="start" fill="#dd38d8" textLength="46" lengthAdjust="spacingAndGlyphs">26.3−29.7</text>
<text x="478.2" y="414" font-family='"Liberation Sans", sans-serif' font-size="9.0" font-weight="normal" text-anchor="start" fill="#ff8020" textLength="46" lengthAdjust="spacingAndGlyphs">29.5−33.4</text>
<text x="478.2" y="431.2" font-family='"Liberation Sans", sans-serif' font-size="9.0" font-weight="normal" text-anchor="start" fill="#8a3ae0" textLength="46" lengthAdjust="spacingAndGlyphs">33.4−35.8</text>
<text x="478.2" y="448.5" font-family='"Liberation Sans", sans-serif' font-size="9.0" font-weight="normal" text-anchor="start" fill="#3a90f8" textLength="46" lengthAdjust="spacingAndGlyphs">35.5−40.5</text>
<text x="478.2" y="465.9" font-family='"Liberation Sans", sans-serif' font-size="9.0" font-weight="normal" text-anchor="start" fill="#a8f0a0" textLength="46" lengthAdjust="spacingAndGlyphs">40.0−60.0</text>
<text x="478.2" y="483.1" font-family='"Liberation Sans", sans-serif' font-size="9.0" font-weight="normal" text-anchor="start" fill="#b0c030" textLength="54" lengthAdjust="spacingAndGlyphs">60.0−100.0</text>
<text x="476.9" y="505.4" font-family='"Liberation Sans", sans-serif' font-size="9.0" font-weight="normal" text-anchor="start" fill="#111" textLength="47" lengthAdjust="spacingAndGlyphs">GOES−11/</text>
<text x="476.9" y="519.7" font-family='"Liberation Sans", sans-serif' font-size="9.0" font-weight="normal" text-anchor="start" fill="#111" textLength="42.4" lengthAdjust="spacingAndGlyphs">SEM/EPS</text>
<text x="476.9" y="533.1" font-family='"Liberation Sans", sans-serif' font-size="9.0" font-weight="normal" text-anchor="start" fill="#9acd32" textLength="58.4" lengthAdjust="spacingAndGlyphs">80−165 MeV</text>
<text x="476.9" y="546.5" font-family='"Liberation Sans", sans-serif' font-size="9.0" font-weight="normal" text-anchor="start" fill="#ff7f1a" textLength="65.5" lengthAdjust="spacingAndGlyphs">165−500 MeV</text>
<path d="M453 106.8H463.3V155H453M453 163.2H463.3V235.6H453M453 239H463.3V310.8H453M453 322.3H463.3V355.7H453" stroke="#000" stroke-width="2" fill="none"/>
<path d="M463.5 130L472.5 40M463.5 202L472.5 164M463.8 275L472.5 402M459 356L472.5 549" stroke="#444" stroke-width="0.9" fill="none"/>
</svg></body></html>
